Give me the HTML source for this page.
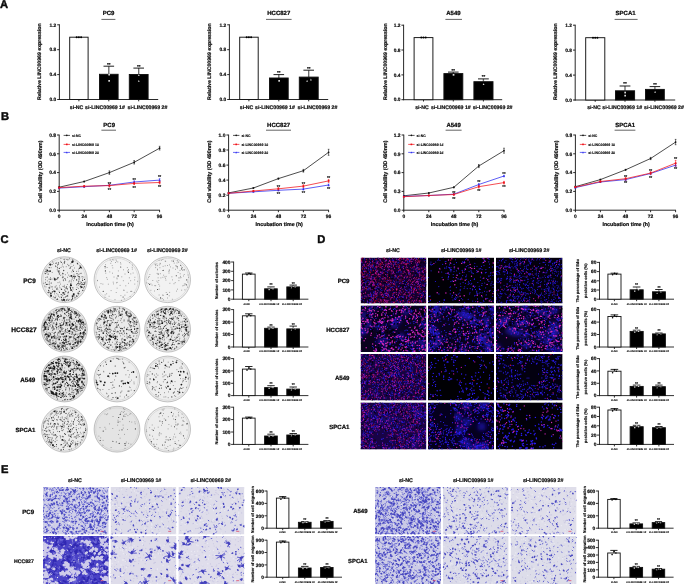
<!DOCTYPE html>
<html lang="en"><head><meta charset="utf-8"><title>LINC00969 knockdown figure</title>
<style>html,body{margin:0;padding:0;background:#fff}body{width:685px;height:584px;overflow:hidden}svg{display:block}text{font-family:"Liberation Sans",sans-serif;font-weight:700;fill:#0c0c0c;stroke:#0c0c0c;stroke-width:.04em;stroke-linejoin:round;text-rendering:geometricPrecision}</style>
</head><body>
<svg width="685" height="584" viewBox="0 0 685 584">
<rect width="685" height="584" fill="#fff"/>
<defs>
<filter id="b3" x="-5%" y="-5%" width="110%" height="110%"><feGaussianBlur stdDeviation=".3"/></filter>
<filter id="b4" x="-5%" y="-5%" width="110%" height="110%"><feGaussianBlur stdDeviation=".4"/></filter>
<filter id="b5" x="-5%" y="-5%" width="110%" height="110%"><feGaussianBlur stdDeviation=".55"/></filter>
<filter id="b20" x="-10%" y="-10%" width="120%" height="120%"><feGaussianBlur stdDeviation="2"/></filter>
</defs>
<text x=".1" y="8.3" font-size="11.2">A</text>
<text x="1" y="120.2" font-size="11.2">B</text>
<text x=".6" y="243" font-size="11.2">C</text>
<text x="317.2" y="243" font-size="11.2">D</text>
<text x="1" y="473" font-size="11.2">E</text>
<text x="108.5" y="15.3" font-size="6" text-anchor="middle">PC9</text>
<line x1="101.4" y1="19.4" x2="115.4" y2="19.4" stroke="#222" stroke-width=".7"/>
<g stroke="#1c1c1c" fill="none">
<line x1="59.4" y1="24.3" x2="59.4" y2="100" stroke-width="0.95"/>
<line x1="58.9" y1="99.5" x2="158.2" y2="99.5" stroke-width="0.95"/>
<line x1="57.2" y1="99.5" x2="59.4" y2="99.5" stroke-width="0.95"/>
<line x1="57.2" y1="74.6" x2="59.4" y2="74.6" stroke-width="0.95"/>
<line x1="57.2" y1="49.7" x2="59.4" y2="49.7" stroke-width="0.95"/>
<line x1="57.2" y1="24.8" x2="59.4" y2="24.8" stroke-width="0.95"/>
<line x1="78.9" y1="99.5" x2="78.9" y2="101.3" stroke-width="0.95"/>
<line x1="108.8" y1="99.5" x2="108.8" y2="101.3" stroke-width="0.95"/>
<line x1="138.7" y1="99.5" x2="138.7" y2="101.3" stroke-width="0.95"/>
</g>
<text x="56.2" y="101.2" font-size="4.8" text-anchor="end">0.0</text>
<text x="56.2" y="76.3" font-size="4.8" text-anchor="end">0.4</text>
<text x="56.2" y="51.4" font-size="4.8" text-anchor="end">0.8</text>
<text x="56.2" y="26.5" font-size="4.8" text-anchor="end">1.2</text>
<g stroke="#111" stroke-width="0.95">
</g>
<rect x="69.7" y="37.2" width="18.4" height="62.3" fill="#fff" stroke="#111" stroke-width="0.95"/>
<g stroke="#111" stroke-width="0.95">
<line x1="108.8" y1="74.3" x2="108.8" y2="66.2" stroke-width="1.3299999999999998" stroke="#6a6a6a"/>
<line x1="103.5" y1="66.2" x2="114.1" y2="66.2" stroke-width="0.95"/>
</g>
<rect x="99.5" y="74.3" width="18.6" height="25.2" fill="#000" stroke="#111" stroke-width="0.95"/>
<text x="108.8" y="65.6" font-size="4.4" text-anchor="middle">**</text>
<g stroke="#111" stroke-width="0.95">
<line x1="138.7" y1="74.5" x2="138.7" y2="68.1" stroke-width="1.3299999999999998" stroke="#6a6a6a"/>
<line x1="133.4" y1="68.1" x2="144" y2="68.1" stroke-width="0.95"/>
</g>
<rect x="129.3" y="74.5" width="18.8" height="25" fill="#000" stroke="#111" stroke-width="0.95"/>
<text x="138.7" y="67.5" font-size="4.4" text-anchor="middle">**</text>
<circle cx="76.7" cy="37.2" r="1" fill="#000"/>
<circle cx="78.9" cy="37.2" r="1" fill="#000"/>
<circle cx="81.1" cy="37.2" r="1" fill="#000"/>
<rect x="108.3" y="73.8" width="1.7" height="1.7" fill="#d8d8d8"/>
<rect x="108.3" y="80" width="1.7" height="1.7" fill="#d8d8d8"/>
<polygon points="138.8,74.3 137.9,76.1 139.7,76.1" fill="#d8d8d8"/>
<polygon points="138.8,79.9 137.9,81.7 139.7,81.7" fill="#d8d8d8"/>
<text transform="translate(41.4 61.7) rotate(-90)" font-size="5.2" text-anchor="middle">Relative LINC00969 expression</text>
<text x="76.6" y="108.5" font-size="5.2" text-anchor="middle">si-NC</text>
<text x="105" y="108.5" font-size="5.2" text-anchor="middle">si-LINC00969 1#</text>
<text x="147.4" y="108.5" font-size="5.2" text-anchor="middle">si-LINC00969 2#</text>
<text x="278.8" y="15.3" font-size="6" text-anchor="middle">HCC827</text>
<line x1="266" y1="19.4" x2="291.6" y2="19.4" stroke="#222" stroke-width=".7"/>
<g stroke="#1c1c1c" fill="none">
<line x1="229.4" y1="24.3" x2="229.4" y2="100" stroke-width="0.95"/>
<line x1="228.9" y1="99.5" x2="328.2" y2="99.5" stroke-width="0.95"/>
<line x1="227.2" y1="99.5" x2="229.4" y2="99.5" stroke-width="0.95"/>
<line x1="227.2" y1="74.6" x2="229.4" y2="74.6" stroke-width="0.95"/>
<line x1="227.2" y1="49.7" x2="229.4" y2="49.7" stroke-width="0.95"/>
<line x1="227.2" y1="24.8" x2="229.4" y2="24.8" stroke-width="0.95"/>
<line x1="248.9" y1="99.5" x2="248.9" y2="101.3" stroke-width="0.95"/>
<line x1="278.8" y1="99.5" x2="278.8" y2="101.3" stroke-width="0.95"/>
<line x1="308.7" y1="99.5" x2="308.7" y2="101.3" stroke-width="0.95"/>
</g>
<text x="226.2" y="101.2" font-size="4.8" text-anchor="end">0.0</text>
<text x="226.2" y="76.3" font-size="4.8" text-anchor="end">0.4</text>
<text x="226.2" y="51.4" font-size="4.8" text-anchor="end">0.8</text>
<text x="226.2" y="26.5" font-size="4.8" text-anchor="end">1.2</text>
<g stroke="#111" stroke-width="0.95">
</g>
<rect x="239.7" y="37.2" width="18.5" height="62.3" fill="#fff" stroke="#111" stroke-width="0.95"/>
<g stroke="#111" stroke-width="0.95">
<line x1="278.8" y1="78" x2="278.8" y2="74.6" stroke-width="1.3299999999999998" stroke="#6a6a6a"/>
<line x1="273.5" y1="74.6" x2="284.1" y2="74.6" stroke-width="0.95"/>
</g>
<rect x="269.5" y="78" width="18.7" height="21.5" fill="#000" stroke="#111" stroke-width="0.95"/>
<text x="278.8" y="74" font-size="4.4" text-anchor="middle">**</text>
<g stroke="#111" stroke-width="0.95">
<line x1="308.7" y1="77.1" x2="308.7" y2="70.2" stroke-width="1.3299999999999998" stroke="#6a6a6a"/>
<line x1="303.4" y1="70.2" x2="314" y2="70.2" stroke-width="0.95"/>
</g>
<rect x="299.3" y="77.1" width="18.9" height="22.4" fill="#000" stroke="#111" stroke-width="0.95"/>
<text x="308.7" y="69.6" font-size="4.4" text-anchor="middle">**</text>
<circle cx="246.7" cy="37.2" r="1" fill="#000"/>
<circle cx="248.9" cy="37.2" r="1" fill="#000"/>
<circle cx="251.1" cy="37.2" r="1" fill="#000"/>
<rect x="278.3" y="80" width="1.7" height="1.7" fill="#d8d8d8"/>
<polygon points="307.1,79.9 306.2,81.7 308,81.7" fill="#d8d8d8"/>
<polygon points="310.9,78.6 310,80.4 311.8,80.4" fill="#d8d8d8"/>
<text transform="translate(210.8 61.7) rotate(-90)" font-size="5.2" text-anchor="middle">Relative LINC00969 expression</text>
<text x="246.6" y="108.5" font-size="5.2" text-anchor="middle">si-NC</text>
<text x="275" y="108.5" font-size="5.2" text-anchor="middle">si-LINC00969 1#</text>
<text x="317.4" y="108.5" font-size="5.2" text-anchor="middle">si-LINC00969 2#</text>
<text x="453.4" y="15.3" font-size="6" text-anchor="middle">A549</text>
<line x1="445.4" y1="19.4" x2="462" y2="19.4" stroke="#222" stroke-width=".7"/>
<g stroke="#1c1c1c" fill="none">
<line x1="403.6" y1="24.7" x2="403.6" y2="100.2" stroke-width="0.95"/>
<line x1="403.1" y1="99.7" x2="502.2" y2="99.7" stroke-width="0.95"/>
<line x1="401.4" y1="99.7" x2="403.6" y2="99.7" stroke-width="0.95"/>
<line x1="401.4" y1="74.9" x2="403.6" y2="74.9" stroke-width="0.95"/>
<line x1="401.4" y1="50" x2="403.6" y2="50" stroke-width="0.95"/>
<line x1="401.4" y1="25.2" x2="403.6" y2="25.2" stroke-width="0.95"/>
<line x1="423.5" y1="99.7" x2="423.5" y2="101.5" stroke-width="0.95"/>
<line x1="453.3" y1="99.7" x2="453.3" y2="101.5" stroke-width="0.95"/>
<line x1="483.4" y1="99.7" x2="483.4" y2="101.5" stroke-width="0.95"/>
</g>
<text x="400.4" y="101.4" font-size="4.8" text-anchor="end">0.0</text>
<text x="400.4" y="76.6" font-size="4.8" text-anchor="end">0.4</text>
<text x="400.4" y="51.8" font-size="4.8" text-anchor="end">0.8</text>
<text x="400.4" y="26.9" font-size="4.8" text-anchor="end">1.2</text>
<g stroke="#111" stroke-width="0.95">
</g>
<rect x="414.1" y="37.6" width="18.8" height="62.1" fill="#fff" stroke="#111" stroke-width="0.95"/>
<g stroke="#111" stroke-width="0.95">
<line x1="453.3" y1="73.6" x2="453.3" y2="72.1" stroke-width="1.3299999999999998" stroke="#6a6a6a"/>
<line x1="448" y1="72.1" x2="458.6" y2="72.1" stroke-width="0.95"/>
</g>
<rect x="443.9" y="73.6" width="18.9" height="26.1" fill="#000" stroke="#111" stroke-width="0.95"/>
<text x="453.3" y="71.5" font-size="4.4" text-anchor="middle">**</text>
<g stroke="#111" stroke-width="0.95">
<line x1="483.4" y1="81.7" x2="483.4" y2="78.9" stroke-width="1.3299999999999998" stroke="#6a6a6a"/>
<line x1="478" y1="78.9" x2="488.8" y2="78.9" stroke-width="0.95"/>
</g>
<rect x="473.9" y="81.7" width="19.1" height="18" fill="#000" stroke="#111" stroke-width="0.95"/>
<text x="483.4" y="78.3" font-size="4.4" text-anchor="middle">**</text>
<circle cx="421.3" cy="37.6" r="1" fill="#000"/>
<circle cx="423.5" cy="37.6" r="1" fill="#000"/>
<circle cx="425.7" cy="37.6" r="1" fill="#000"/>
<rect x="452.7" y="74" width="1.7" height="1.7" fill="#d8d8d8"/>
<polygon points="483.6,83.2 482.7,85 484.5,85" fill="#d8d8d8"/>
<text transform="translate(387 61.7) rotate(-90)" font-size="5.2" text-anchor="middle">Relative LINC00969 expression</text>
<text x="422" y="108.5" font-size="5.2" text-anchor="middle">si-NC</text>
<text x="450.8" y="108.5" font-size="5.2" text-anchor="middle">si-LINC00969 1#</text>
<text x="492.6" y="108.5" font-size="5.2" text-anchor="middle">si-LINC00969 2#</text>
<text x="625.6" y="15.3" font-size="6" text-anchor="middle">SPCA1</text>
<line x1="614.6" y1="19.4" x2="637.6" y2="19.4" stroke="#222" stroke-width=".7"/>
<g stroke="#1c1c1c" fill="none">
<line x1="575.2" y1="24.7" x2="575.2" y2="100.5" stroke-width="0.95"/>
<line x1="574.7" y1="100" x2="675.2" y2="100" stroke-width="0.95"/>
<line x1="573" y1="100" x2="575.2" y2="100" stroke-width="0.95"/>
<line x1="573" y1="75.1" x2="575.2" y2="75.1" stroke-width="0.95"/>
<line x1="573" y1="50.1" x2="575.2" y2="50.1" stroke-width="0.95"/>
<line x1="573" y1="25.2" x2="575.2" y2="25.2" stroke-width="0.95"/>
<line x1="595.2" y1="100" x2="595.2" y2="101.8" stroke-width="0.95"/>
<line x1="625" y1="100" x2="625" y2="101.8" stroke-width="0.95"/>
<line x1="654.9" y1="100" x2="654.9" y2="101.8" stroke-width="0.95"/>
</g>
<text x="572" y="101.7" font-size="4.8" text-anchor="end">0.0</text>
<text x="572" y="76.8" font-size="4.8" text-anchor="end">0.4</text>
<text x="572" y="51.9" font-size="4.8" text-anchor="end">0.8</text>
<text x="572" y="26.9" font-size="4.8" text-anchor="end">1.2</text>
<g stroke="#111" stroke-width="0.95">
</g>
<rect x="585.7" y="37.7" width="19.1" height="62.3" fill="#fff" stroke="#111" stroke-width="0.95"/>
<g stroke="#111" stroke-width="0.95">
<line x1="625" y1="90.8" x2="625" y2="86" stroke-width="1.3299999999999998" stroke="#6a6a6a"/>
<line x1="619.6" y1="86" x2="630.4" y2="86" stroke-width="0.95"/>
</g>
<rect x="615.5" y="90.8" width="19.1" height="9.2" fill="#000" stroke="#111" stroke-width="0.95"/>
<text x="625" y="85.4" font-size="4.4" text-anchor="middle">**</text>
<g stroke="#111" stroke-width="0.95">
<line x1="654.9" y1="89.4" x2="654.9" y2="86.6" stroke-width="1.3299999999999998" stroke="#6a6a6a"/>
<line x1="649.6" y1="86.6" x2="660.2" y2="86.6" stroke-width="0.95"/>
</g>
<rect x="645.5" y="89.4" width="18.8" height="10.6" fill="#000" stroke="#111" stroke-width="0.95"/>
<text x="654.9" y="86" font-size="4.4" text-anchor="middle">**</text>
<circle cx="593" cy="37.7" r="1" fill="#000"/>
<circle cx="595.2" cy="37.7" r="1" fill="#000"/>
<circle cx="597.4" cy="37.7" r="1" fill="#000"/>
<rect x="624.3" y="91.7" width="1.7" height="1.7" fill="#d8d8d8"/>
<rect x="624.3" y="94.8" width="1.7" height="1.7" fill="#d8d8d8"/>
<polygon points="655.1,91 654.2,92.8 656,92.8" fill="#d8d8d8"/>
<text transform="translate(557.4 61.7) rotate(-90)" font-size="5.2" text-anchor="middle">Relative LINC00969 expression</text>
<text x="593.9" y="108.5" font-size="5.2" text-anchor="middle">si-NC</text>
<text x="622.2" y="108.5" font-size="5.2" text-anchor="middle">si-LINC00969 1#</text>
<text x="664" y="108.5" font-size="5.2" text-anchor="middle">si-LINC00969 2#</text>
<text x="109.2" y="127.3" font-size="6" text-anchor="middle">PC9</text>
<line x1="101.4" y1="130.2" x2="116" y2="130.2" stroke="#222" stroke-width=".7"/>
<g stroke="#1c1c1c" fill="none">
<line x1="59.2" y1="134.6" x2="59.2" y2="210.6" stroke-width="0.95"/>
<line x1="58.8" y1="210.2" x2="160" y2="210.2" stroke-width="0.95"/>
<line x1="57" y1="210.2" x2="59.2" y2="210.2" stroke-width="0.95"/>
<line x1="57" y1="191.4" x2="59.2" y2="191.4" stroke-width="0.95"/>
<line x1="57" y1="172.6" x2="59.2" y2="172.6" stroke-width="0.95"/>
<line x1="57" y1="153.8" x2="59.2" y2="153.8" stroke-width="0.95"/>
<line x1="57" y1="135" x2="59.2" y2="135" stroke-width="0.95"/>
<line x1="59.2" y1="210.2" x2="59.2" y2="212.2" stroke-width="0.95"/>
<line x1="84.2" y1="210.2" x2="84.2" y2="212.2" stroke-width="0.95"/>
<line x1="109.4" y1="210.2" x2="109.4" y2="212.2" stroke-width="0.95"/>
<line x1="134.2" y1="210.2" x2="134.2" y2="212.2" stroke-width="0.95"/>
<line x1="159.6" y1="210.2" x2="159.6" y2="212.2" stroke-width="0.95"/>
</g>
<text x="56" y="211.9" font-size="4.9" text-anchor="end">0.0</text>
<text x="56" y="193.1" font-size="4.9" text-anchor="end">0.2</text>
<text x="56" y="174.3" font-size="4.9" text-anchor="end">0.4</text>
<text x="56" y="155.6" font-size="4.9" text-anchor="end">0.6</text>
<text x="56" y="136.8" font-size="4.9" text-anchor="end">0.8</text>
<text x="59.2" y="218.4" font-size="4.9" text-anchor="middle">0</text>
<text x="84.2" y="218.4" font-size="4.9" text-anchor="middle">24</text>
<text x="109.4" y="218.4" font-size="4.9" text-anchor="middle">48</text>
<text x="134.2" y="218.4" font-size="4.9" text-anchor="middle">72</text>
<text x="159.6" y="218.4" font-size="4.9" text-anchor="middle">96</text>
<text x="110" y="225.9" font-size="5.3" text-anchor="middle">Incubation time (h)</text>
<text transform="translate(41.9 171.6) rotate(-90)" font-size="5.3" text-anchor="middle">Cell viability (OD 490nm)</text>
<polyline points="59.2,187.2 84.2,181.5 109.4,172.6 134.2,162.3 159.6,148.2" fill="none" stroke="#111" stroke-width=".75"/>
<path d="M59.2 186.7V187.6M58.4 186.7h1.6M58.4 187.6h1.6" stroke="#111" stroke-width=".6" fill="none"/>
<circle cx="59.2" cy="187.2" r="0.85" fill="#111"/>
<path d="M84.2 181.1V182M83.4 181.1h1.6M83.4 182h1.6" stroke="#111" stroke-width=".6" fill="none"/>
<circle cx="84.2" cy="181.5" r="0.85" fill="#111"/>
<path d="M109.4 170.9V174.3M108.6 170.9h1.6M108.6 174.3h1.6" stroke="#111" stroke-width=".6" fill="none"/>
<circle cx="109.4" cy="172.6" r="0.85" fill="#111"/>
<path d="M134.2 160.6V164M133.4 160.6h1.6M133.4 164h1.6" stroke="#111" stroke-width=".6" fill="none"/>
<circle cx="134.2" cy="162.3" r="0.85" fill="#111"/>
<path d="M159.6 146.3V150M158.8 146.3h1.6M158.8 150h1.6" stroke="#111" stroke-width=".6" fill="none"/>
<circle cx="159.6" cy="148.2" r="0.85" fill="#111"/>
<polyline points="59.2,188.1 84.2,186.7 109.4,185.3 134.2,182 159.6,180.1" fill="none" stroke="#2828f0" stroke-width=".75"/>
<path d="M59.2 187.6V188.6M58.4 187.6h1.6M58.4 188.6h1.6" stroke="#2828f0" stroke-width=".6" fill="none"/>
<polygon points="59.2,187 58.2,188.9 60.2,188.9" fill="#2828f0"/>
<path d="M84.2 186.2V187.2M83.4 186.2h1.6M83.4 187.2h1.6" stroke="#2828f0" stroke-width=".6" fill="none"/>
<polygon points="84.2,185.6 83.2,187.5 85.2,187.5" fill="#2828f0"/>
<path d="M109.4 184.3V186.2M108.6 184.3h1.6M108.6 186.2h1.6" stroke="#2828f0" stroke-width=".6" fill="none"/>
<polygon points="109.4,184.2 108.4,186.1 110.4,186.1" fill="#2828f0"/>
<path d="M134.2 180.9V183.1M133.4 180.9h1.6M133.4 183.1h1.6" stroke="#2828f0" stroke-width=".6" fill="none"/>
<polygon points="134.2,180.9 133.2,182.8 135.2,182.8" fill="#2828f0"/>
<path d="M159.6 178.7V181.5M158.8 178.7h1.6M158.8 181.5h1.6" stroke="#2828f0" stroke-width=".6" fill="none"/>
<polygon points="159.6,179 158.6,180.9 160.6,180.9" fill="#2828f0"/>
<polyline points="59.2,187.6 84.2,186.2 109.4,185.6 134.2,183.4 159.6,182.5" fill="none" stroke="#f01018" stroke-width=".75"/>
<path d="M59.2 187.2V188.1M58.4 187.2h1.6M58.4 188.1h1.6" stroke="#f01018" stroke-width=".6" fill="none"/>
<rect x="58.4" y="186.8" width="1.7" height="1.7" fill="#f01018"/>
<path d="M84.2 185.5V187M83.4 185.5h1.6M83.4 187h1.6" stroke="#f01018" stroke-width=".6" fill="none"/>
<rect x="83.4" y="185.4" width="1.7" height="1.7" fill="#f01018"/>
<path d="M109.4 184.2V187M108.6 184.2h1.6M108.6 187h1.6" stroke="#f01018" stroke-width=".6" fill="none"/>
<rect x="108.6" y="184.7" width="1.7" height="1.7" fill="#f01018"/>
<path d="M134.2 182.3V184.5M133.4 182.3h1.6M133.4 184.5h1.6" stroke="#f01018" stroke-width=".6" fill="none"/>
<rect x="133.3" y="182.6" width="1.7" height="1.7" fill="#f01018"/>
<path d="M159.6 181.1V183.9M158.8 181.1h1.6M158.8 183.9h1.6" stroke="#f01018" stroke-width=".6" fill="none"/>
<rect x="158.8" y="181.6" width="1.7" height="1.7" fill="#f01018"/>
<text x="109.4" y="184.8" font-size="4.2" text-anchor="middle">**</text>
<text x="109.4" y="190.7" font-size="4.2" text-anchor="middle">**</text>
<text x="134.2" y="180.6" font-size="4.2" text-anchor="middle">**</text>
<text x="134.2" y="188.6" font-size="4.2" text-anchor="middle">**</text>
<text x="159.6" y="178.3" font-size="4.2" text-anchor="middle">**</text>
<text x="159.6" y="187.7" font-size="4.2" text-anchor="middle">**</text>
<line x1="63.6" y1="135.4" x2="70" y2="135.4" stroke-width="0.7" stroke="#111"/>
<circle cx="66.8" cy="135.4" r=".8" fill="#111"/>
<text x="72" y="136.7" font-size="3.5">si-NC</text>
<line x1="63.6" y1="144.4" x2="70" y2="144.4" stroke-width="0.7" stroke="#f01018"/>
<rect x="66" y="143.6" width="1.6" height="1.6" fill="#f01018"/>
<text x="72" y="145.7" font-size="3.5">si-LINC00969 1#</text>
<line x1="63.6" y1="152.4" x2="70" y2="152.4" stroke-width="0.7" stroke="#2828f0"/>
<polygon points="66.8,151.4 65.9,153.2 67.7,153.2" fill="#2828f0"/>
<text x="72" y="153.7" font-size="3.5">si-LINC00969 2#</text>
<text x="278.6" y="127.3" font-size="6" text-anchor="middle">HCC827</text>
<line x1="266" y1="130.2" x2="291" y2="130.2" stroke="#222" stroke-width=".7"/>
<g stroke="#1c1c1c" fill="none">
<line x1="228.6" y1="134.6" x2="228.6" y2="210.6" stroke-width="0.95"/>
<line x1="228.2" y1="210.2" x2="329" y2="210.2" stroke-width="0.95"/>
<line x1="226.4" y1="210.2" x2="228.6" y2="210.2" stroke-width="0.95"/>
<line x1="226.4" y1="195.2" x2="228.6" y2="195.2" stroke-width="0.95"/>
<line x1="226.4" y1="180.1" x2="228.6" y2="180.1" stroke-width="0.95"/>
<line x1="226.4" y1="165.1" x2="228.6" y2="165.1" stroke-width="0.95"/>
<line x1="226.4" y1="150" x2="228.6" y2="150" stroke-width="0.95"/>
<line x1="226.4" y1="135" x2="228.6" y2="135" stroke-width="0.95"/>
<line x1="228.6" y1="210.2" x2="228.6" y2="212.2" stroke-width="0.95"/>
<line x1="253.4" y1="210.2" x2="253.4" y2="212.2" stroke-width="0.95"/>
<line x1="278.4" y1="210.2" x2="278.4" y2="212.2" stroke-width="0.95"/>
<line x1="303.4" y1="210.2" x2="303.4" y2="212.2" stroke-width="0.95"/>
<line x1="328.6" y1="210.2" x2="328.6" y2="212.2" stroke-width="0.95"/>
</g>
<text x="225.4" y="211.9" font-size="4.9" text-anchor="end">0.0</text>
<text x="225.4" y="196.9" font-size="4.9" text-anchor="end">0.2</text>
<text x="225.4" y="181.9" font-size="4.9" text-anchor="end">0.4</text>
<text x="225.4" y="166.8" font-size="4.9" text-anchor="end">0.6</text>
<text x="225.4" y="151.8" font-size="4.9" text-anchor="end">0.8</text>
<text x="225.4" y="136.8" font-size="4.9" text-anchor="end">1.0</text>
<text x="228.6" y="218.4" font-size="4.9" text-anchor="middle">0</text>
<text x="253.4" y="218.4" font-size="4.9" text-anchor="middle">24</text>
<text x="278.4" y="218.4" font-size="4.9" text-anchor="middle">48</text>
<text x="303.4" y="218.4" font-size="4.9" text-anchor="middle">72</text>
<text x="328.6" y="218.4" font-size="4.9" text-anchor="middle">96</text>
<text x="279.2" y="225.9" font-size="5.3" text-anchor="middle">Incubation time (h)</text>
<text transform="translate(211.3 171.6) rotate(-90)" font-size="5.3" text-anchor="middle">Cell viability (OD 490nm)</text>
<polyline points="228.6,192.9 253.4,188 278.4,178.6 303.4,170.7 328.6,152.3" fill="none" stroke="#111" stroke-width=".75"/>
<path d="M228.6 192.5V193.3M227.8 192.5h1.6M227.8 193.3h1.6" stroke="#111" stroke-width=".6" fill="none"/>
<circle cx="228.6" cy="192.9" r="0.85" fill="#111"/>
<path d="M253.4 187.6V188.4M252.6 187.6h1.6M252.6 188.4h1.6" stroke="#111" stroke-width=".6" fill="none"/>
<circle cx="253.4" cy="188" r="0.85" fill="#111"/>
<path d="M278.4 178V179.2M277.6 178h1.6M277.6 179.2h1.6" stroke="#111" stroke-width=".6" fill="none"/>
<circle cx="278.4" cy="178.6" r="0.85" fill="#111"/>
<path d="M303.4 169.4V172.1M302.6 169.4h1.6M302.6 172.1h1.6" stroke="#111" stroke-width=".6" fill="none"/>
<circle cx="303.4" cy="170.7" r="0.85" fill="#111"/>
<path d="M328.6 149.3V155.3M327.8 149.3h1.6M327.8 155.3h1.6" stroke="#111" stroke-width=".6" fill="none"/>
<circle cx="328.6" cy="152.3" r="0.85" fill="#111"/>
<polyline points="228.6,193.3 253.4,191.8 278.4,190.3 303.4,189.1 328.6,185" fill="none" stroke="#2828f0" stroke-width=".75"/>
<path d="M228.6 192.9V193.7M227.8 192.9h1.6M227.8 193.7h1.6" stroke="#2828f0" stroke-width=".6" fill="none"/>
<polygon points="228.6,192.2 227.6,194.1 229.6,194.1" fill="#2828f0"/>
<path d="M253.4 191.4V192.2M252.6 191.4h1.6M252.6 192.2h1.6" stroke="#2828f0" stroke-width=".6" fill="none"/>
<polygon points="253.4,190.7 252.4,192.6 254.4,192.6" fill="#2828f0"/>
<path d="M278.4 189.5V191M277.6 189.5h1.6M277.6 191h1.6" stroke="#2828f0" stroke-width=".6" fill="none"/>
<polygon points="278.4,189.2 277.4,191.1 279.4,191.1" fill="#2828f0"/>
<path d="M303.4 188.2V190M302.6 188.2h1.6M302.6 190h1.6" stroke="#2828f0" stroke-width=".6" fill="none"/>
<polygon points="303.4,188 302.4,189.9 304.4,189.9" fill="#2828f0"/>
<path d="M328.6 184.1V185.9M327.8 184.1h1.6M327.8 185.9h1.6" stroke="#2828f0" stroke-width=".6" fill="none"/>
<polygon points="328.6,183.9 327.6,185.8 329.6,185.8" fill="#2828f0"/>
<polyline points="228.6,193.3 253.4,191 278.4,188.8 303.4,186.1 328.6,180.9" fill="none" stroke="#f01018" stroke-width=".75"/>
<path d="M228.6 192.9V193.7M227.8 192.9h1.6M227.8 193.7h1.6" stroke="#f01018" stroke-width=".6" fill="none"/>
<rect x="227.8" y="192.4" width="1.7" height="1.7" fill="#f01018"/>
<path d="M253.4 190.4V191.6M252.6 190.4h1.6M252.6 191.6h1.6" stroke="#f01018" stroke-width=".6" fill="none"/>
<rect x="252.6" y="190.2" width="1.7" height="1.7" fill="#f01018"/>
<path d="M278.4 187.6V189.9M277.6 187.6h1.6M277.6 189.9h1.6" stroke="#f01018" stroke-width=".6" fill="none"/>
<rect x="277.5" y="187.9" width="1.7" height="1.7" fill="#f01018"/>
<path d="M303.4 184.8V187.5M302.6 184.8h1.6M302.6 187.5h1.6" stroke="#f01018" stroke-width=".6" fill="none"/>
<rect x="302.5" y="185.3" width="1.7" height="1.7" fill="#f01018"/>
<path d="M328.6 179.4V182.4M327.8 179.4h1.6M327.8 182.4h1.6" stroke="#f01018" stroke-width=".6" fill="none"/>
<rect x="327.8" y="180" width="1.7" height="1.7" fill="#f01018"/>
<text x="278.4" y="187.7" font-size="4.2" text-anchor="middle">**</text>
<text x="278.4" y="195.2" font-size="4.2" text-anchor="middle">**</text>
<text x="303.4" y="185" font-size="4.2" text-anchor="middle">**</text>
<text x="303.4" y="194.1" font-size="4.2" text-anchor="middle">**</text>
<text x="328.6" y="179.4" font-size="4.2" text-anchor="middle">**</text>
<text x="328.6" y="190.3" font-size="4.2" text-anchor="middle">**</text>
<line x1="233" y1="135.4" x2="239.4" y2="135.4" stroke-width="0.7" stroke="#111"/>
<circle cx="236.2" cy="135.4" r=".8" fill="#111"/>
<text x="241.4" y="136.7" font-size="3.5">si-NC</text>
<line x1="233" y1="144.4" x2="239.4" y2="144.4" stroke-width="0.7" stroke="#f01018"/>
<rect x="235.4" y="143.6" width="1.6" height="1.6" fill="#f01018"/>
<text x="241.4" y="145.7" font-size="3.5">si-LINC00969 1#</text>
<line x1="233" y1="152.4" x2="239.4" y2="152.4" stroke-width="0.7" stroke="#2828f0"/>
<polygon points="236.2,151.4 235.3,153.2 237.1,153.2" fill="#2828f0"/>
<text x="241.4" y="153.7" font-size="3.5">si-LINC00969 2#</text>
<text x="453.6" y="127.3" font-size="6" text-anchor="middle">A549</text>
<line x1="445.6" y1="130.2" x2="461.6" y2="130.2" stroke="#222" stroke-width=".7"/>
<g stroke="#1c1c1c" fill="none">
<line x1="403.8" y1="134.6" x2="403.8" y2="210.6" stroke-width="0.95"/>
<line x1="403.4" y1="210.2" x2="504.4" y2="210.2" stroke-width="0.95"/>
<line x1="401.6" y1="210.2" x2="403.8" y2="210.2" stroke-width="0.95"/>
<line x1="401.6" y1="191.4" x2="403.8" y2="191.4" stroke-width="0.95"/>
<line x1="401.6" y1="172.6" x2="403.8" y2="172.6" stroke-width="0.95"/>
<line x1="401.6" y1="153.8" x2="403.8" y2="153.8" stroke-width="0.95"/>
<line x1="401.6" y1="135" x2="403.8" y2="135" stroke-width="0.95"/>
<line x1="403.8" y1="210.2" x2="403.8" y2="212.2" stroke-width="0.95"/>
<line x1="428.8" y1="210.2" x2="428.8" y2="212.2" stroke-width="0.95"/>
<line x1="453.8" y1="210.2" x2="453.8" y2="212.2" stroke-width="0.95"/>
<line x1="478.8" y1="210.2" x2="478.8" y2="212.2" stroke-width="0.95"/>
<line x1="504" y1="210.2" x2="504" y2="212.2" stroke-width="0.95"/>
</g>
<text x="400.6" y="211.9" font-size="4.9" text-anchor="end">0.0</text>
<text x="400.6" y="193.1" font-size="4.9" text-anchor="end">0.3</text>
<text x="400.6" y="174.3" font-size="4.9" text-anchor="end">0.6</text>
<text x="400.6" y="155.5" font-size="4.9" text-anchor="end">0.9</text>
<text x="400.6" y="136.8" font-size="4.9" text-anchor="end">1.2</text>
<text x="403.8" y="218.4" font-size="4.9" text-anchor="middle">0</text>
<text x="428.8" y="218.4" font-size="4.9" text-anchor="middle">24</text>
<text x="453.8" y="218.4" font-size="4.9" text-anchor="middle">48</text>
<text x="478.8" y="218.4" font-size="4.9" text-anchor="middle">72</text>
<text x="504" y="218.4" font-size="4.9" text-anchor="middle">96</text>
<text x="454.5" y="225.9" font-size="5.3" text-anchor="middle">Incubation time (h)</text>
<text transform="translate(386.5 171.6) rotate(-90)" font-size="5.3" text-anchor="middle">Cell viability (OD 490nm)</text>
<polyline points="403.8,195.8 428.8,193 453.8,187.3 478.8,166 504,150.7" fill="none" stroke="#111" stroke-width=".75"/>
<path d="M403.8 195.5V196.1M403 195.5h1.6M403 196.1h1.6" stroke="#111" stroke-width=".6" fill="none"/>
<circle cx="403.8" cy="195.8" r="0.85" fill="#111"/>
<path d="M428.8 192.7V193.3M428 192.7h1.6M428 193.3h1.6" stroke="#111" stroke-width=".6" fill="none"/>
<circle cx="428.8" cy="193" r="0.85" fill="#111"/>
<path d="M453.8 186.8V187.8M453 186.8h1.6M453 187.8h1.6" stroke="#111" stroke-width=".6" fill="none"/>
<circle cx="453.8" cy="187.3" r="0.85" fill="#111"/>
<path d="M478.8 164.5V167.6M478 164.5h1.6M478 167.6h1.6" stroke="#111" stroke-width=".6" fill="none"/>
<circle cx="478.8" cy="166" r="0.85" fill="#111"/>
<path d="M504 148.2V153.2M503.2 148.2h1.6M503.2 153.2h1.6" stroke="#111" stroke-width=".6" fill="none"/>
<circle cx="504" cy="150.7" r="0.85" fill="#111"/>
<polyline points="403.8,196.4 428.8,195.5 453.8,194.2 478.8,184.5 504,176" fill="none" stroke="#2828f0" stroke-width=".75"/>
<path d="M403.8 196.1V196.7M403 196.1h1.6M403 196.7h1.6" stroke="#2828f0" stroke-width=".6" fill="none"/>
<polygon points="403.8,195.3 402.8,197.2 404.8,197.2" fill="#2828f0"/>
<path d="M428.8 195.2V195.8M428 195.2h1.6M428 195.8h1.6" stroke="#2828f0" stroke-width=".6" fill="none"/>
<polygon points="428.8,194.4 427.8,196.3 429.8,196.3" fill="#2828f0"/>
<path d="M453.8 193.6V194.8M453 193.6h1.6M453 194.8h1.6" stroke="#2828f0" stroke-width=".6" fill="none"/>
<polygon points="453.8,193.1 452.8,195 454.8,195" fill="#2828f0"/>
<path d="M478.8 183.6V185.4M478 183.6h1.6M478 185.4h1.6" stroke="#2828f0" stroke-width=".6" fill="none"/>
<polygon points="478.8,183.4 477.8,185.3 479.8,185.3" fill="#2828f0"/>
<path d="M504 175.3V176.8M503.2 175.3h1.6M503.2 176.8h1.6" stroke="#2828f0" stroke-width=".6" fill="none"/>
<polygon points="504,174.9 503,176.8 505,176.8" fill="#2828f0"/>
<polyline points="403.8,196.7 428.8,195.5 453.8,194.5 478.8,186.7 504,182.6" fill="none" stroke="#f01018" stroke-width=".75"/>
<path d="M403.8 196.4V197M403 196.4h1.6M403 197h1.6" stroke="#f01018" stroke-width=".6" fill="none"/>
<rect x="402.9" y="195.9" width="1.7" height="1.7" fill="#f01018"/>
<path d="M428.8 195V196M428 195h1.6M428 196h1.6" stroke="#f01018" stroke-width=".6" fill="none"/>
<rect x="427.9" y="194.6" width="1.7" height="1.7" fill="#f01018"/>
<path d="M453.8 193.8V195.3M453 193.8h1.6M453 195.3h1.6" stroke="#f01018" stroke-width=".6" fill="none"/>
<rect x="452.9" y="193.7" width="1.7" height="1.7" fill="#f01018"/>
<path d="M478.8 185.4V188M478 185.4h1.6M478 188h1.6" stroke="#f01018" stroke-width=".6" fill="none"/>
<rect x="477.9" y="185.8" width="1.7" height="1.7" fill="#f01018"/>
<path d="M504 181.4V183.9M503.2 181.4h1.6M503.2 183.9h1.6" stroke="#f01018" stroke-width=".6" fill="none"/>
<rect x="503.1" y="181.8" width="1.7" height="1.7" fill="#f01018"/>
<text x="453.8" y="193.9" font-size="4.2" text-anchor="middle">**</text>
<text x="453.8" y="199.6" font-size="4.2" text-anchor="middle">**</text>
<text x="478.8" y="183.3" font-size="4.2" text-anchor="middle">**</text>
<text x="478.8" y="192.4" font-size="4.2" text-anchor="middle">**</text>
<text x="504" y="175.1" font-size="4.2" text-anchor="middle">**</text>
<text x="504" y="188" font-size="4.2" text-anchor="middle">**</text>
<line x1="408.2" y1="135.4" x2="414.6" y2="135.4" stroke-width="0.7" stroke="#111"/>
<circle cx="411.4" cy="135.4" r=".8" fill="#111"/>
<text x="416.6" y="136.7" font-size="3.5">si-NC</text>
<line x1="408.2" y1="144.4" x2="414.6" y2="144.4" stroke-width="0.7" stroke="#f01018"/>
<rect x="410.6" y="143.6" width="1.6" height="1.6" fill="#f01018"/>
<text x="416.6" y="145.7" font-size="3.5">si-LINC00969 1#</text>
<line x1="408.2" y1="152.4" x2="414.6" y2="152.4" stroke-width="0.7" stroke="#2828f0"/>
<polygon points="411.4,151.4 410.5,153.2 412.3,153.2" fill="#2828f0"/>
<text x="416.6" y="153.7" font-size="3.5">si-LINC00969 2#</text>
<text x="625.2" y="127.3" font-size="6" text-anchor="middle">SPCA1</text>
<line x1="614.6" y1="130.2" x2="635.4" y2="130.2" stroke="#222" stroke-width=".7"/>
<g stroke="#1c1c1c" fill="none">
<line x1="575.4" y1="134.6" x2="575.4" y2="210.6" stroke-width="0.95"/>
<line x1="575" y1="210.2" x2="676" y2="210.2" stroke-width="0.95"/>
<line x1="573.2" y1="210.2" x2="575.4" y2="210.2" stroke-width="0.95"/>
<line x1="573.2" y1="191.4" x2="575.4" y2="191.4" stroke-width="0.95"/>
<line x1="573.2" y1="172.6" x2="575.4" y2="172.6" stroke-width="0.95"/>
<line x1="573.2" y1="153.8" x2="575.4" y2="153.8" stroke-width="0.95"/>
<line x1="573.2" y1="135" x2="575.4" y2="135" stroke-width="0.95"/>
<line x1="575.4" y1="210.2" x2="575.4" y2="212.2" stroke-width="0.95"/>
<line x1="600.4" y1="210.2" x2="600.4" y2="212.2" stroke-width="0.95"/>
<line x1="625.6" y1="210.2" x2="625.6" y2="212.2" stroke-width="0.95"/>
<line x1="650.6" y1="210.2" x2="650.6" y2="212.2" stroke-width="0.95"/>
<line x1="675.6" y1="210.2" x2="675.6" y2="212.2" stroke-width="0.95"/>
</g>
<text x="572.2" y="211.9" font-size="4.9" text-anchor="end">0.0</text>
<text x="572.2" y="193.1" font-size="4.9" text-anchor="end">0.2</text>
<text x="572.2" y="174.3" font-size="4.9" text-anchor="end">0.4</text>
<text x="572.2" y="155.6" font-size="4.9" text-anchor="end">0.6</text>
<text x="572.2" y="136.8" font-size="4.9" text-anchor="end">0.8</text>
<text x="575.4" y="218.4" font-size="4.9" text-anchor="middle">0</text>
<text x="600.4" y="218.4" font-size="4.9" text-anchor="middle">24</text>
<text x="625.6" y="218.4" font-size="4.9" text-anchor="middle">48</text>
<text x="650.6" y="218.4" font-size="4.9" text-anchor="middle">72</text>
<text x="675.6" y="218.4" font-size="4.9" text-anchor="middle">96</text>
<text x="626.1" y="225.9" font-size="5.3" text-anchor="middle">Incubation time (h)</text>
<text transform="translate(557.5 171.6) rotate(-90)" font-size="5.3" text-anchor="middle">Cell viability (OD 490nm)</text>
<polyline points="575.4,186.7 600.4,179.6 625.6,169.8 650.6,158.5 675.6,142.1" fill="none" stroke="#111" stroke-width=".75"/>
<path d="M575.4 186.2V187.2M574.6 186.2h1.6M574.6 187.2h1.6" stroke="#111" stroke-width=".6" fill="none"/>
<circle cx="575.4" cy="186.7" r="0.85" fill="#111"/>
<path d="M600.4 179.2V180.1M599.6 179.2h1.6M599.6 180.1h1.6" stroke="#111" stroke-width=".6" fill="none"/>
<circle cx="600.4" cy="179.6" r="0.85" fill="#111"/>
<path d="M625.6 169.3V170.2M624.8 169.3h1.6M624.8 170.2h1.6" stroke="#111" stroke-width=".6" fill="none"/>
<circle cx="625.6" cy="169.8" r="0.85" fill="#111"/>
<path d="M650.6 157.4V159.6M649.8 157.4h1.6M649.8 159.6h1.6" stroke="#111" stroke-width=".6" fill="none"/>
<circle cx="650.6" cy="158.5" r="0.85" fill="#111"/>
<path d="M675.6 139.4V144.7M674.8 139.4h1.6M674.8 144.7h1.6" stroke="#111" stroke-width=".6" fill="none"/>
<circle cx="675.6" cy="142.1" r="0.85" fill="#111"/>
<polyline points="575.4,187.6 600.4,182 625.6,179.6 650.6,173.5 675.6,165.1" fill="none" stroke="#2828f0" stroke-width=".75"/>
<path d="M575.4 187.2V188.1M574.6 187.2h1.6M574.6 188.1h1.6" stroke="#2828f0" stroke-width=".6" fill="none"/>
<polygon points="575.4,186.5 574.4,188.4 576.4,188.4" fill="#2828f0"/>
<path d="M600.4 181.5V182.5M599.6 181.5h1.6M599.6 182.5h1.6" stroke="#2828f0" stroke-width=".6" fill="none"/>
<polygon points="600.4,180.9 599.4,182.8 601.4,182.8" fill="#2828f0"/>
<path d="M625.6 178.5V180.8M624.8 178.5h1.6M624.8 180.8h1.6" stroke="#2828f0" stroke-width=".6" fill="none"/>
<polygon points="625.6,178.5 624.6,180.4 626.6,180.4" fill="#2828f0"/>
<path d="M650.6 172.4V174.7M649.8 172.4h1.6M649.8 174.7h1.6" stroke="#2828f0" stroke-width=".6" fill="none"/>
<polygon points="650.6,172.4 649.6,174.3 651.6,174.3" fill="#2828f0"/>
<path d="M675.6 163.7V166.5M674.8 163.7h1.6M674.8 166.5h1.6" stroke="#2828f0" stroke-width=".6" fill="none"/>
<polygon points="675.6,164 674.6,165.9 676.6,165.9" fill="#2828f0"/>
<polyline points="575.4,187.2 600.4,181.5 625.6,178.7 650.6,173.1 675.6,163.2" fill="none" stroke="#f01018" stroke-width=".75"/>
<path d="M575.4 186.7V187.6M574.6 186.7h1.6M574.6 187.6h1.6" stroke="#f01018" stroke-width=".6" fill="none"/>
<rect x="574.5" y="186.3" width="1.7" height="1.7" fill="#f01018"/>
<path d="M600.4 180.8V182.3M599.6 180.8h1.6M599.6 182.3h1.6" stroke="#f01018" stroke-width=".6" fill="none"/>
<rect x="599.5" y="180.7" width="1.7" height="1.7" fill="#f01018"/>
<path d="M625.6 177.3V180.1M624.8 177.3h1.6M624.8 180.1h1.6" stroke="#f01018" stroke-width=".6" fill="none"/>
<rect x="624.8" y="177.9" width="1.7" height="1.7" fill="#f01018"/>
<path d="M650.6 171.7V174.5M649.8 171.7h1.6M649.8 174.5h1.6" stroke="#f01018" stroke-width=".6" fill="none"/>
<rect x="649.8" y="172.2" width="1.7" height="1.7" fill="#f01018"/>
<path d="M675.6 160.4V166M674.8 160.4h1.6M674.8 166h1.6" stroke="#f01018" stroke-width=".6" fill="none"/>
<rect x="674.8" y="162.3" width="1.7" height="1.7" fill="#f01018"/>
<text x="625.6" y="177.8" font-size="4.2" text-anchor="middle">**</text>
<text x="625.6" y="184.4" font-size="4.2" text-anchor="middle">**</text>
<text x="650.6" y="171.7" font-size="4.2" text-anchor="middle">**</text>
<text x="650.6" y="178.7" font-size="4.2" text-anchor="middle">**</text>
<text x="675.6" y="159.9" font-size="4.2" text-anchor="middle">**</text>
<text x="675.6" y="170.3" font-size="4.2" text-anchor="middle">**</text>
<line x1="579.8" y1="135.4" x2="586.2" y2="135.4" stroke-width="0.7" stroke="#111"/>
<circle cx="583" cy="135.4" r=".8" fill="#111"/>
<text x="588.2" y="136.7" font-size="3.5">si-NC</text>
<line x1="579.8" y1="144.4" x2="586.2" y2="144.4" stroke-width="0.7" stroke="#f01018"/>
<rect x="582.2" y="143.6" width="1.6" height="1.6" fill="#f01018"/>
<text x="588.2" y="145.7" font-size="3.5">si-LINC00969 1#</text>
<line x1="579.8" y1="152.4" x2="586.2" y2="152.4" stroke-width="0.7" stroke="#2828f0"/>
<polygon points="583,151.4 582.1,153.2 583.9,153.2" fill="#2828f0"/>
<text x="588.2" y="153.7" font-size="3.5">si-LINC00969 2#</text>
<g filter="url(#b4)">
<circle cx="64.4" cy="279.7" r="22.9" fill="#eeeeee" stroke="#a4a4a4" stroke-width=".65"/>
<circle cx="64.4" cy="279.7" r="21.3" fill="none" stroke="#cfcfcf" stroke-width=".6"/>
<path d="M57.2 269.7h0M60.5 284.1h0M69.5 280.9h0M48.6 287.8h0M67.7 299.2h0M49.2 271.7h0M77.5 283.6h0M76.8 295.5h0M67.4 272.9h0M58.5 272.6h0M76.6 284.8h0M62.2 274.9h0M52.2 272.4h0M68.4 265.7h0M48.2 271.5h0M62.4 264.1h0M73 287.6h0M72.5 291.2h0M66.3 259.5h0M58 294.8h0M48.5 271h0M78.2 274.7h0M78.3 285.3h0M82.6 278.9h0M49.6 292.6h0M73.9 296.6h0M78.6 294.7h0M71.9 271.9h0M58.5 277.8h0M77.8 264.3h0M57.2 288.6h0M76.3 296.3h0M65.4 288.8h0M63.2 294.8h0M63.5 280.7h0M58.4 264.5h0M57.4 265.8h0M65.3 274.7h0M48.6 292.4h0M83 287.4h0M67.3 284.5h0M74.5 293.8h0M71.2 280.8h0M76.5 296h0M57.2 287.9h0M72 279.4h0M77.1 287.3h0M63.8 286.6h0M83.9 282.6h0M77.2 296.6h0M83.9 277.1h0M63 299.8h0M66.2 266.7h0M56.8 293.6h0M74.6 278.7h0M72.7 261.5h0M45.8 277.6h0M61.2 296.9h0M75 276.7h0M78.9 278.6h0M68.3 300.5h0M67.3 289.6h0M73.6 265.3h0M69 265.4h0M69.7 276.3h0M45.4 282.3h0M59.9 287.7h0M49 291.5h0M62.2 266.1h0M69.6 287h0M76.9 296.1h0M53.5 263.2h0M73.1 289.1h0M62.9 277.6h0M50 286.1h0M69.3 299.4h0M65 290.6h0M49.9 287.8h0M59.6 285.9h0M76.5 271.4h0M50.3 279.6h0M80.1 281.6h0M78.8 280.1h0M45.3 282.9h0M55.9 296.1h0M67.7 264.4h0M64.5 286.8h0M53 279.1h0M78.3 271.2h0M50 279.2h0M49.6 284.3h0M79.2 274h0M81.4 273.3h0M74.8 275.8h0M78.8 293.5h0M80.9 287.9h0M78.6 269h0M59.8 272.5h0M72.4 278h0M56.2 285.8h0M71.9 266.5h0M55.7 278.8h0M59.1 291.2h0M46 286.9h0M62.3 277.7h0M69.6 258.7h0M82.3 284.3h0M77.5 293.6h0M70.3 266.9h0M74 274.3h0M78.3 288.4h0M59.8 282.1h0M60.5 275.3h0M83.7 288.3h0M53.7 296.8h0M62.6 295.7h0M65 287.5h0M71.2 281.9h0M61.1 288.9h0M45.5 279.7h0M73.5 280.7h0M44.9 273.2h0M73.1 275.9h0M58 282.6h0M52.4 289.2h0M79.8 278h0M61 267.5h0M54.4 293.9h0M69 281.9h0M74.1 295.7h0M68.7 275.1h0M65.3 297.4h0M70.8 289.5h0M78.5 276.3h0M65.1 301.1h0M51.2 296.4h0M63.7 279.8h0M49 279.2h0M65.7 280.5h0M58.6 296.2h0M54.1 277.8h0M60.4 261.3h0M55 297.8h0M60.9 258.4h0M80.7 266.5h0M70.9 263.8h0M56.3 279.5h0M73.6 262.1h0M57.6 264.6h0M82.1 283.2h0M70.7 284.5h0M50.6 265.4h0M47.3 280.9h0M64.4 278.5h0M56.1 266.7h0M64.3 285.3h0M63.6 273.8h0M74.1 278.2h0M49.3 281.7h0M51.1 267.7h0M64 297.7h0M47.4 272h0M55.7 263.4h0M59.8 297.2h0M49.2 283h0M66.7 286.8h0M85.7 282.1h0M78.8 276.8h0M68 293.8h0M46 269.4h0M72.2 277.3h0M56.5 279.3h0M66.8 300h0M84.7 282.9h0M63.2 280.1h0M57.8 289.6h0M76.6 279.8h0M78.1 292.6h0M81.4 267.6h0M55.3 287h0M50.5 296.3h0M77.9 283.9h0M62.9 286.4h0M62.3 300.6h0M53.5 290.8h0M72.5 260.1h0M80.5 273.4h0M79.7 284.6h0M64.7 261.1h0M81 285h0M43.8 283.3h0M63.5 267h0M52.5 261.9h0M55 287h0M66.7 288.3h0M68.3 300h0M44.8 286.1h0M71.2 284.1h0M63.4 298.1h0M64.4 263.3h0M50.6 277.6h0M76.7 284.8h0M72.4 287.8h0M74.4 268h0M64.5 289.8h0M77.5 275.8h0M84.2 282.4h0M67.5 277.3h0M79.3 279.7h0M70.6 267.6h0" stroke="#555" stroke-width="0.75" stroke-linecap="round" fill="none"/>
<path d="M64.6 299.5h0M57.4 278.7h0M61.3 262.3h0M47.8 284.3h0M66.6 300h0M57.6 299.1h0M59.4 273.9h0M47.2 277h0M67.1 295.8h0M46.5 284.2h0M80 265.7h0M64.7 294.5h0M57 299.3h0M63 276.9h0M57.5 267.7h0M84.5 284.1h0M59.3 268.4h0M63.7 270.2h0M79.3 276.8h0M65.8 291.6h0M61.6 289.4h0M72.4 299h0M59.3 271h0M48.1 292.6h0M70.6 287.4h0M79.5 268.5h0M84.5 279.4h0M72.5 298.7h0M84.7 283.8h0M52.2 292.1h0M76.7 279.9h0M75.3 276.6h0M66.4 287h0M70 268.2h0M51.1 293.4h0M50.9 295.2h0M71.6 262.2h0M80.4 286.3h0M64.1 259.2h0M61.6 299.8h0M62.8 300.6h0M61.5 297.6h0M65.5 279h0M81.2 282.3h0M74.4 276.9h0M64.3 300.6h0M77 273.6h0M63.7 270.6h0M49.2 267.6h0M56.5 289h0M64.7 261.7h0M48.1 274.1h0M73.5 271.5h0M82.8 290.4h0M62.7 273.3h0M52 286.8h0M64.2 262.8h0M78.7 293.3h0M46.5 271.7h0M68.5 292.1h0M70.5 288.4h0M55.1 297.6h0M50.9 279.1h0M58.5 271.2h0M72.5 262.3h0M83.4 284.6h0M82.1 276.7h0M53 291.5h0M63.2 299.6h0M79.3 291.3h0M67.7 295.9h0M68.1 292.2h0M58.1 270.9h0M56.3 263h0M67.1 288.5h0M82 287.1h0M57.9 277.6h0M58.4 262.9h0M59.5 292.5h0M45.3 271.2h0M72.8 270.1h0M71.4 299.9h0M82.6 280.4h0M73.1 261.3h0M51.2 283h0M52 264.6h0M50.8 294h0M61.2 294.6h0M76.4 289.5h0M79.1 276.6h0M73.3 276.4h0M84.4 286.7h0M81.4 268h0M73.4 293.9h0M48.7 290.4h0M72.4 297.7h0M54.5 278.6h0M64.6 293h0M82 284.4h0M80 283.5h0M45.7 273.6h0M49.5 287.9h0M55.5 266h0M78.6 281.8h0M66 296.5h0M46.3 284.5h0M71.5 285.4h0M70.8 283.9h0M78.2 283.3h0M67.9 259.7h0M50.5 293.1h0M77.4 263.4h0M72.9 260.1h0M55 280.2h0M75 297.7h0" stroke="#303030" stroke-width="1.15" stroke-linecap="round" fill="none"/>
<path d="M81.4 287.1h0M71.1 290.1h0M72.3 261.6h0M71.3 275.9h0M54.9 279.3h0M73.7 294.5h0M80.4 267.3h0M70.8 285.4h0M54.7 291.4h0M47.3 270.3h0M50.1 264.5h0M63.2 292.8h0M51.1 295.7h0M72.5 296.1h0M63.9 299.8h0M50.1 271.1h0" stroke="#1c1c1c" stroke-width="1.8" stroke-linecap="round" fill="none"/>
</g>
<g filter="url(#b4)">
<circle cx="117" cy="279.7" r="22.9" fill="#f3f3f3" stroke="#a4a4a4" stroke-width=".65"/>
<circle cx="117" cy="279.7" r="21.3" fill="none" stroke="#cfcfcf" stroke-width=".6"/>
<path d="M134.7 279.9h0M114 277h0M128.3 271h0M112.5 273.2h0M131.8 291.4h0M105.8 273.2h0M105.1 268h0M130.8 273.9h0M125.8 285.8h0M120.5 262.7h0M130.7 280.7h0M106.7 293.8h0M133.1 273h0M132.3 269.1h0M113.2 282.2h0M137.7 281.3h0M127.1 292.3h0M107.3 279.3h0M124.9 295.2h0M128.5 283.3h0M112.6 259.7h0M116.9 278h0M102.9 284.1h0M134.8 284.1h0M112.8 267.9h0M115 299.6h0M120.9 264h0M107.1 267.5h0M132.5 265.1h0M117.2 282.4h0M116.5 261h0M111.1 290.6h0M109.8 271.9h0M134.9 277.3h0M112.2 265.6h0M113.8 259.9h0M120.9 295.6h0M130.1 296.5h0M105 297.4h0M110.8 263.3h0M115.6 262.5h0M113.4 283.9h0M132.2 267.3h0M121.8 276.8h0M130.9 291.5h0M118.5 276h0M105.3 267h0M117.8 261.9h0M108.3 284.2h0M116.4 282.8h0M109.1 296.3h0M129.7 262.6h0M99.4 287.1h0M111.6 261.4h0M127.3 267.6h0M120.1 285.4h0M117.1 278.9h0M97.5 280.7h0M97.6 280.4h0M116.2 292.5h0M121.6 300.3h0M131 291.3h0M110.2 260.1h0M105.1 294.9h0M127.6 271h0M123.3 280.7h0M125 274h0M128.5 269.5h0M106.7 277.6h0M105.6 264.7h0M124.2 290.3h0M116 259.8h0M118.3 270.9h0M101 283.6h0M124.3 298.8h0M123.6 269.8h0M117.1 288.2h0M123.6 290.2h0M129.3 277.8h0M134.3 292.5h0" stroke="#777" stroke-width="0.75" stroke-linecap="round" fill="none"/>
<path d="M120.7 267h0M123.1 297h0M103.2 291.3h0M118 275.9h0M105 266.5h0M105.4 270.9h0M128.4 272.3h0" stroke="#303030" stroke-width="1.15" stroke-linecap="round" fill="none"/>
</g>
<g filter="url(#b4)">
<circle cx="167.6" cy="279.7" r="22.9" fill="#f2f2f2" stroke="#a4a4a4" stroke-width=".65"/>
<circle cx="167.6" cy="279.7" r="21.3" fill="none" stroke="#cfcfcf" stroke-width=".6"/>
<path d="M167.5 265.5h0M165.2 265.8h0M161.3 260.3h0M155 264.1h0M157.5 269.2h0M169 273.1h0M167.6 298h0M157.4 269.9h0M180.2 273.8h0M169.2 270.6h0M181 277.6h0M169.9 283.3h0M148.6 277.4h0M160.9 277.9h0M155.8 265.6h0M150.9 290.3h0M159.1 260.3h0M177.4 289.2h0M187.8 287.2h0M178.9 280.6h0M163.1 266.4h0M169.7 292.4h0M149.2 276.5h0M159.7 286.1h0M169.3 269.8h0M148.4 283.5h0M183.5 276h0M173 268h0M162.2 298.5h0M175.7 265.8h0M166.2 292.5h0M155.7 285.7h0M163.6 299.8h0M156.9 281.1h0M159.9 267.7h0M175.6 269.3h0M171.9 276.8h0M177 262.9h0M184.2 274.5h0M181.7 290.2h0M168.9 271.6h0M178.1 272.5h0M182.6 267.5h0M159.3 264.9h0M178.5 262.3h0M158.1 277.8h0M181.4 267.1h0M169.2 295.8h0M175.2 282.6h0M152.8 280.5h0M177.6 268.1h0M165.9 280.1h0M176.4 266h0M180.5 276.4h0M163.7 275.2h0M166.1 276.4h0M188.4 277.3h0M180 270.4h0M164.8 276.9h0M159.2 289.1h0M169.5 264.9h0M158.8 284.4h0M163.3 295.3h0M147.9 279.2h0M178.8 277.9h0M159.1 295h0M157.1 273.4h0M184.3 284h0M149.9 274.5h0M172.4 279.9h0M160.3 273.7h0M182.5 270.3h0M155.7 267.6h0M160 263.3h0M157.9 282.3h0M185.3 283.9h0M156.9 263.9h0M170.6 266.9h0M162.4 295.1h0M154.8 285.6h0M184 285.5h0M174.2 263.1h0M152.1 285.1h0M165.4 278.3h0M146.8 282.9h0M172.3 299.3h0M160.6 263.8h0M174 283.7h0M187.7 282h0M165.7 261.4h0M162.9 259.5h0M184.9 289.8h0M150.9 283.9h0M188 275h0M157.4 265.6h0M165.2 261.1h0M158.8 280.5h0M162.9 277.3h0M176.4 291.1h0M155.7 264.4h0M154.6 291h0M171.8 260.9h0M182.8 285.8h0M177.6 260.8h0M180 277.9h0" stroke="#777" stroke-width="0.75" stroke-linecap="round" fill="none"/>
<path d="M160.6 297.9h0M157.6 289.5h0M181.7 268.9h0M186.8 279.9h0M158.2 274h0M186.3 284.8h0M180.7 265.2h0M177.2 266.7h0M184.1 269.8h0M173.3 261.1h0M176.3 275.7h0M163.1 270.4h0M167.2 294.3h0M149.6 284.3h0" stroke="#303030" stroke-width="1.15" stroke-linecap="round" fill="none"/>
</g>
<g filter="url(#b4)">
<circle cx="64.4" cy="329.2" r="22.9" fill="#e6e6e6" stroke="#a4a4a4" stroke-width=".65"/>
<circle cx="64.4" cy="329.2" r="21.3" fill="none" stroke="#cfcfcf" stroke-width=".6"/>
<path d="M65.3 322.8h0M72.8 322.9h0M44.2 332.2h0M70.3 344.8h0M58.4 336.2h0M48.2 327.4h0M49.2 344.6h0M66 322.3h0M59.6 336.3h0M81.9 328.1h0M46 320.9h0M54.5 334.2h0M73.2 310h0M85.1 334.2h0M72.8 334.1h0M67.8 325.6h0M76.8 321.3h0M60 332.5h0M64.1 336.7h0M80.1 324.8h0M47.6 334.9h0M73.1 328.7h0M53.4 344h0M75.1 311.6h0M63.2 324.6h0M80.8 335.2h0M72.1 326.1h0M49.4 319.5h0M63.6 347.9h0M68.1 335.9h0M59.7 319.7h0M65.2 331.5h0M65.2 333.2h0M80.4 315.7h0M71.1 333.8h0M49.9 314.1h0M70.9 316.1h0M73.8 340.9h0M45.1 322.5h0M63.6 337.4h0M62.6 343h0M74.2 346.5h0M76.9 320.5h0M71.3 331.8h0M69.4 349.1h0M63.7 344.2h0M74.1 328.7h0M82.1 341.7h0M75.3 333.3h0M82.7 326.7h0M62.9 331.5h0M43.7 325.7h0M72.4 324.3h0M71 336.9h0M62.2 320.3h0M50.6 318h0M68.6 343.9h0M70.8 313.5h0M79.6 335.8h0M61.1 310.9h0M61.8 333.6h0M44.5 330.1h0M61.7 329.6h0M72.3 347.9h0M74.6 346.1h0M77.6 329.6h0M48.8 327.7h0M67.5 322.3h0M59.5 309.6h0M76.8 334.2h0M44.1 329.9h0M49.3 325.6h0M64.9 332.3h0M72 312.4h0M71.3 348.4h0M61.8 327.9h0M76.9 338.7h0M83.8 334.9h0M56.8 329.2h0M54.9 335.6h0M69.6 323h0M64.2 320.9h0M72.5 325.8h0M71.6 317.8h0M79.1 323.5h0M65.6 348.3h0M76.9 327.7h0M72.1 311.3h0M83.3 324.1h0M45.9 339.1h0M47.5 325.9h0M58.7 329h0M67.5 328.6h0M51.6 315h0M79 316.3h0M64 333.2h0M47.2 324.5h0M64.3 350.1h0M79.3 324.4h0M57.4 319.9h0M71.6 327.1h0M49.2 332.5h0M75.7 340.3h0M57.9 333.6h0M74.3 335.3h0M52 319h0M69.3 344.8h0M46.9 323.8h0M58.1 345h0M53.8 328.4h0M77.8 330.2h0M65.3 342.1h0M60.9 345h0M67.4 307.8h0M44.7 337h0M59.4 331.2h0M82.1 324.6h0M54.7 345.1h0M54.8 320.6h0M44.5 327h0M65.5 310.6h0M60.5 314.7h0M78.7 314.1h0M63.2 328.5h0M50.6 322.5h0M74.2 319.1h0M48.2 334.2h0M60.5 343.4h0M54.3 338.2h0M71.6 319.2h0M70.6 343.2h0M53.8 323.7h0M54.8 348.3h0M83.7 324.1h0M72.7 324h0M44.6 329.5h0M44.2 324.2h0M42.8 326.9h0M53.2 343.2h0M80.2 323.8h0M78.9 339.6h0M52.1 324.2h0M80.4 325.6h0M53.7 318.5h0M43.1 325.1h0M56.3 347h0M43 327.5h0M61.7 322.5h0M79.4 316.5h0M60.9 342.8h0M70.3 343.6h0M57 323.6h0M56 319.4h0M65.4 324.9h0M76.4 329.5h0M54.1 323h0M46.7 329.4h0M54.7 316.3h0M50.3 322.1h0M72.1 340.8h0M72.9 344.8h0M52.5 319h0M66.6 311.9h0M56.9 339h0M71.6 334.4h0M52.4 346h0M78.1 334.1h0M84.2 324.1h0M64.5 343.6h0M67.2 325.6h0M69.3 318.1h0M76 326.2h0M65.1 344.5h0M66.8 342.5h0M52.4 330.4h0M73.3 346.3h0M77.2 326.9h0M73.2 336.9h0M51.4 338.3h0M66.9 324.3h0M69 341.2h0M75.7 331.7h0M74.3 343.9h0M73.8 313.3h0M68.4 322.6h0M52.7 344.7h0M82.2 324.4h0M54.5 328.9h0M71.4 336.8h0M79.1 318.4h0M64.8 345.8h0M76.2 317h0M57.1 327.2h0M55.9 336.7h0M57.8 345.5h0M75.1 314.6h0M73.9 337h0M48.1 329.2h0M67.2 347.7h0M62.8 336.7h0M66.6 315.6h0M78.2 344.3h0M53.9 311.8h0M57.4 318.4h0M74.8 314.3h0M69.8 340.9h0M63.7 321.9h0M73.6 344.1h0M57.3 335.8h0M61.6 325.9h0M56.1 325.3h0M47.5 336.5h0M82.4 329.3h0M59.9 348.5h0M60.9 326.4h0M68 332.2h0M81 319.3h0M48.4 341.8h0M60.7 347.6h0M58.6 332.2h0M62.9 308.3h0M45.5 335h0M59.8 331.4h0M75.2 340.4h0M71.4 310h0M75.3 327.1h0M64.4 346.5h0M59.9 332h0M70.8 336.6h0M65.8 347.4h0M54.4 332.8h0M58 349.2h0M45.6 321.3h0M52.4 325.5h0M54.9 312.8h0M66.1 312.5h0M52.5 343.5h0M70.5 346.8h0M78.2 341h0M56.3 338.6h0M81.8 328.3h0M84.7 326.7h0M46.6 337h0M73.8 329.7h0M49.9 314.2h0M64.2 350.2h0M75 331.1h0M58.9 347.5h0M69.7 321.5h0M68.9 308.8h0M55.2 346.7h0M60.4 337.6h0M55.4 338.8h0M83.5 334.3h0M71.3 314.4h0M81.5 323h0M72.8 342h0M74.8 334.9h0M47.5 335.5h0M48.1 335.7h0M73.9 329.4h0M69 309.8h0M56.9 317.2h0M56.2 342.4h0M71 316.4h0M58.6 349h0M56 341h0M46.2 333.8h0M78.6 313.2h0M48.8 314.5h0M48.7 316.3h0M75.7 325.7h0M59.8 343.5h0M76.9 331.4h0M55.5 332.3h0M60 333.8h0M48.2 326.1h0M76.7 339.9h0M55.6 326.5h0M64.2 336.5h0M64.3 335.9h0M66.6 344.2h0M47.8 318.9h0M69.9 331.9h0M50.7 324.7h0M78.2 341.3h0M81.7 342.1h0M73.8 346.6h0M67.7 308.2h0M71.9 332h0M74.9 330.2h0M59.2 345.1h0M78.4 317.4h0M48.6 322.6h0M74.6 347.3h0M66 310.5h0M77.2 341.7h0M77 324.9h0M80.6 340.9h0M76.6 339.7h0M63.8 350.1h0M69.4 321.1h0M77.8 340.4h0M46.1 322.7h0M55.8 337.2h0M56.4 327.2h0M81.5 323.5h0M65.9 331.3h0M69.2 314.6h0M66.1 325.5h0M46.7 331.9h0M57.6 334.6h0M82.4 338.5h0M74.2 321.5h0M52.8 343.1h0M53.1 338.8h0M54.4 346.4h0M67.5 328.9h0M62.2 325.1h0M53.1 329.2h0M53.5 327.2h0M85.1 333.7h0M75.7 317.5h0M51.7 314.9h0M68.1 316.7h0M55.9 310.8h0M63.6 317.3h0M55.3 341.7h0M79.4 335.2h0M77 328.3h0M65 344.2h0M71.3 337.1h0M62.6 329.7h0M59.7 342.9h0M57.7 346.6h0M81.5 322.1h0M53.4 322.9h0M59 326.2h0M67.7 307.9h0M77.3 335.1h0M62 344.1h0M62.4 347.2h0M49.7 339.9h0M70.8 321.9h0M62.6 311.8h0M83.1 339.4h0M53.8 345.6h0M56.6 327.4h0M82.4 319.7h0M64.4 319.2h0M56.9 313.4h0M82.8 334.6h0M47.2 329.8h0M48.1 333h0M62.1 328.2h0M61.2 309.4h0M75.7 343.3h0M45.9 338.9h0M49.4 323.8h0M55.8 344.6h0M59.9 311.1h0M57.5 346.9h0M46.1 334.7h0M75.1 325h0M53.5 313.1h0M83.5 327.9h0M73.2 334.7h0M67.8 330.5h0M70.8 343.2h0M76.8 346.2h0M72.4 324.9h0M65.4 349.9h0M50.3 313h0M52.1 332.4h0M74 336.9h0M48 340.9h0M47.7 339.8h0M49.9 314.3h0M63.6 339.4h0M68.5 342.9h0M58.7 347.2h0M44.8 320h0M70.3 322.9h0M69.4 319.1h0M52.9 330.2h0M56 310.5h0M49.7 321.2h0M79.6 315.6h0M72.9 319.3h0M73.7 328.9h0M82 326.3h0M65.6 330.9h0M57 312.7h0M70.1 326h0M82.6 326.9h0M65.4 325.4h0M66.7 348.6h0M81.8 328.2h0M73.3 337.6h0M50.8 335.8h0" stroke="#555" stroke-width="0.75" stroke-linecap="round" fill="none"/>
<path d="M69.8 336.5h0M78.4 341.1h0M75.5 323h0M76.8 326.6h0M61.5 349.1h0M72.6 333h0M60.7 331.6h0M80.3 330.3h0M47.3 324.4h0M80.2 327.4h0M48.3 341h0M76.3 327.2h0M53.2 336.3h0M72.5 329.5h0M63.9 345.9h0M65.4 345.9h0M68.8 308.9h0M55.3 347.1h0M57.5 345h0M76.7 313h0M79.7 328.7h0M64 318.8h0M54.1 337.4h0M57.5 315.3h0M52.7 326h0M63.5 339.3h0M60.8 309.1h0M67.2 344.4h0M56.5 327.8h0M70.4 314.9h0M69 319.8h0M71.2 316.4h0M83.9 334.6h0M69.9 317.2h0M64.3 336.7h0M66.7 322.7h0M77.5 337.3h0M59.8 316.5h0M68.7 315.5h0M56.5 312.3h0M65.4 342.1h0M54.8 338.1h0M61.8 328h0M63.4 324.2h0M65 340.4h0M76.9 313.8h0M66.9 319.9h0M80.6 333.8h0M61.1 315.4h0M57.5 319.9h0M49.9 341.9h0M70.2 344.4h0M49.7 344.4h0M80.2 336.7h0M46 326.2h0M65.1 314.1h0M61.1 330h0M51.9 336.6h0M50.7 334.6h0M71.2 315.8h0M50.1 339.3h0M60.3 327.8h0M78.2 341.9h0M81 341.5h0M58.6 326.7h0M63.2 324.3h0M46.9 339.1h0M71.1 314.3h0M54.3 346.4h0M61.1 350.3h0M64.1 340.2h0M44.6 327.8h0M76.7 315.5h0M63.5 348.3h0M50.8 343h0M51.8 321.9h0M68.4 341.5h0M83.9 335.7h0M54.3 335.7h0M62 345.1h0M59.7 310.7h0M46 334.6h0M79.3 314.9h0M61.1 325.3h0M68.7 331.3h0M79 321.5h0M48.4 329.4h0M59.5 346.1h0M70.4 337h0M80.9 341.3h0M70.7 327.2h0M63.7 343h0M75.9 346h0M69.3 330.5h0M66.5 348.7h0M49.2 323.1h0M60.6 336.7h0M70.4 310.5h0M85.1 333.6h0M66.6 342.2h0M61.8 310.3h0M75 338.4h0M81.7 320.2h0M43.3 325.7h0M64.4 317.7h0M77 337.5h0M52.2 320.6h0M62 346.8h0M67.3 349.2h0M83.7 325.2h0M57.4 318.7h0M59.8 330.7h0M69 338.8h0M81.6 337.2h0M69 310.3h0M80.5 332.7h0M77.8 343.9h0M52.9 340.7h0M72.8 344.5h0M75.8 311.8h0M76.3 345.3h0M69.3 333.6h0M75.5 339.4h0M50.1 326h0M69.3 343.6h0M73.9 338.9h0M53.9 329.1h0M43.3 330.7h0M57.3 311.5h0M70.2 337.6h0M45.7 327.1h0M74.4 335h0M51 320h0M81.9 336.4h0M74.9 328.1h0M62.8 325.1h0M71.6 311.3h0M78.9 330.2h0M47.1 340.6h0M63.8 322.9h0M54.6 343.8h0M65.9 337.1h0M76.7 329h0M45.4 329.5h0M64.6 310.3h0M52.3 317.1h0M80.9 340h0M73.9 344.6h0M63.8 308.2h0M71.7 326.2h0M74.5 311.5h0M46.8 336.8h0M77.8 315.1h0M52.9 326.9h0M69.4 308.5h0M65.6 339.9h0M65.2 338.7h0M58.5 315.4h0M68.2 311.6h0M82.2 322.4h0M81 339.3h0M55.2 343.8h0M68.8 313.3h0M65.8 329.3h0M58.2 332.7h0M55.9 343.5h0M69.9 321h0M78.7 338h0M54 333.2h0M77 341.2h0M72.7 348.1h0M57.2 337.7h0M56.6 322.7h0M44.2 329.2h0M85.3 327.7h0M69.3 337.1h0M81.2 323.1h0M64.3 343.6h0M77 314.4h0M78.2 322.5h0M82.4 338.5h0M80.7 324.8h0M55.7 319.7h0M58.6 317.5h0M51 344.6h0M56 310.3h0M64.5 313.2h0M64.4 309h0M67 332.2h0M77.3 345.7h0M80.1 333.9h0M56 318.8h0M61.5 340.2h0M80 327h0M56.7 313.8h0M61.1 316.4h0M73.8 344.3h0M68.8 313.6h0M51.9 327.9h0M62.9 309.2h0M72.7 332.1h0M75.8 326.8h0M56.7 348.7h0M55.4 348h0M50.1 340.5h0M63 342.4h0M55.2 332.2h0M67.9 309.9h0M64.9 317.2h0M57.4 316.3h0M52.3 343.3h0M59.5 349.1h0M66.7 312.4h0M60.4 327.4h0M63.2 341.9h0M64.9 309.7h0M70.7 312.7h0M60 323.6h0M56.9 309.5h0M81.9 322.3h0M50 340.7h0M71.9 346.9h0M44.6 326.5h0M76.1 342.2h0M45.5 328.9h0M47 319.9h0M62.4 342.6h0M74.8 312.5h0M64.6 320.9h0M76.6 320.2h0M53.4 314.4h0M58.7 310h0M61.6 346.9h0M66.9 324.2h0M66.2 340.2h0M70.9 328.2h0M58.4 311h0M61.8 334.3h0M65.2 330.2h0M46.5 322.8h0M80.3 342.4h0M59 337.8h0M66.9 341.3h0M74.6 313.1h0M83.3 332.9h0M47.3 338.1h0M63.5 323.9h0M48.1 328h0M75.5 317.1h0M85.1 324.1h0M75.5 334.5h0M50.2 333.4h0M47.4 334.2h0M54.1 336.4h0M63.4 317.9h0M69.4 343.8h0M62.6 347.1h0M80.2 326.5h0M80.6 320.3h0M81.2 336.2h0M60.8 308.7h0M54 342.6h0M73 328.7h0M53.4 343.3h0M44.9 334.9h0M67.5 311.7h0M76.9 321.5h0M72.7 312h0M44.9 328.2h0M74.1 330.5h0" stroke="#303030" stroke-width="1.15" stroke-linecap="round" fill="none"/>
<path d="M83.2 322.5h0M62.1 308.6h0M71.4 318.3h0M49.3 320.2h0M68.9 309.5h0M44.4 324.8h0M60.5 325.3h0M51.8 314.1h0M72.3 323.9h0M77.9 342.9h0M56.4 324.4h0M48.9 335.4h0M69.5 331h0M57.7 316.5h0M54 314.9h0M75.3 342.7h0M82.8 336.9h0M65.8 339.3h0M70.3 317.5h0M80.6 333.2h0M66.5 323.1h0M80.5 321.7h0M73.3 325h0M63 345.8h0M80.2 341.3h0M72.4 348.2h0M45.7 327.8h0M69.6 324.9h0M45.4 322.2h0M50.6 316.2h0M78.6 336.8h0M63.2 333.9h0M84 332.2h0M46 334.2h0M66.3 336.2h0M44.5 323.3h0M76 313.2h0M58.5 346.5h0M50.1 317.9h0M85.1 330.1h0M48.4 317.8h0M51.8 337.5h0M78.5 321h0M79.7 319.9h0M83.2 332.9h0M48.8 336.5h0M82.7 322.3h0M64.2 343.1h0M59.2 339.4h0M70.8 328.4h0" stroke="#1c1c1c" stroke-width="1.8" stroke-linecap="round" fill="none"/>
</g>
<g filter="url(#b4)">
<circle cx="117" cy="329.2" r="22.9" fill="#eaeaea" stroke="#a4a4a4" stroke-width=".65"/>
<circle cx="117" cy="329.2" r="21.3" fill="none" stroke="#cfcfcf" stroke-width=".6"/>
<path d="M118.4 311.7h0M117.3 309.4h0M107.3 335.1h0M119.4 327.1h0M119.7 308.5h0M122.3 310.8h0M108.8 348.5h0M100.3 325.2h0M96.1 325.1h0M133.2 322.6h0M111.9 316.3h0M112.7 347h0M113.1 311.1h0M97 337.4h0M116.6 311.2h0M116.2 348h0M117.9 332.7h0M110.1 320.5h0M103.4 319.6h0M133.6 336.3h0M128.9 344h0M124.2 327.8h0M119.2 311.3h0M101.3 339.3h0M114.6 311.3h0M113.3 334.8h0M120.1 349.9h0M107.4 311.6h0M132 319h0M109.6 324.7h0M127.9 343.1h0M112 333.7h0M119.9 346.5h0M131.4 344.6h0M113.4 308.2h0M116.9 337.3h0M127 337.7h0M114.6 339.7h0M119.2 342.4h0M109.9 335.6h0M104.1 331.5h0M127.5 311.9h0M131.4 342h0M129.2 337.4h0M120.4 335.8h0M124.7 336.3h0M111.5 330.3h0M135.9 338.3h0M107.6 325.3h0M129.7 313.4h0M109.9 328.1h0M124 321.2h0M133.4 320.7h0M130.2 335.8h0M121 343.2h0M129.9 341.3h0M126.2 348.7h0M114.7 329h0M116.8 325.8h0M101.1 329.3h0M127.3 342.5h0M115.8 309.8h0M133.5 317.7h0M109.4 323.9h0M134.8 333.3h0M122.2 342.6h0M134.4 322.2h0M130.7 330.3h0M96.1 332.2h0M101.5 330h0M121.5 350.3h0M136.8 329.1h0M131.2 325.7h0M110.2 339.5h0M127 345.4h0M116 349.2h0M113.5 315h0M122.9 334.7h0M130.9 345.3h0M128.9 318.9h0M119.6 333.7h0M103 338.2h0M130.1 313.5h0M136.8 321.6h0M133.9 342.2h0M116.3 332h0M98.3 339.5h0M122.5 314.4h0M130 340.9h0M107.8 323.7h0M135.9 324.7h0M97.8 320.1h0M116.7 338.4h0M106.6 327.6h0M102.4 314.7h0M121.6 315h0M116.1 327.3h0M124.8 345.7h0M119.3 350.3h0M120.8 342.9h0M128.2 321h0M110.3 337.3h0M129.3 341.9h0M116 339.4h0M113.6 331.5h0M135.6 322.2h0M112.3 313.4h0M102.7 330.8h0M118.5 331.6h0M118.4 316.1h0M103.8 314.4h0M123 346.4h0M116.3 348.2h0M128.5 313.3h0M123.5 348.4h0M116.6 326.6h0M125.1 344.6h0M115.3 347.5h0M135.2 331.4h0M124.2 327.8h0M108.7 328h0M104.8 330.8h0M126.3 344.3h0M114.8 323h0M115.5 318.2h0M121.8 340.9h0M136.8 335.8h0M110.6 334.8h0M122.4 311.6h0M124.2 347.8h0M121.7 311.6h0M98.4 321.2h0M110 325.2h0M117.4 336.3h0M106.2 326.9h0M120.7 349.4h0M112.8 318.3h0M121.8 345.5h0M116.2 341.3h0M118.1 320.7h0M136.1 324.1h0M109.3 346.9h0M133.9 339.8h0M119.8 333.1h0M96.7 334.2h0M97.6 326.6h0M104.1 326.8h0M103.6 340.7h0M109.6 316h0M106.9 330.7h0M104.3 342.4h0M130.3 323.3h0M104.4 314.6h0M135.2 317.6h0M111.3 323.9h0M119.7 308.8h0M132.8 339.8h0M119.1 310.7h0M126.1 344.3h0M124.7 343h0M108.9 333.3h0M117.6 341.8h0M115.9 310.7h0M96.8 332.7h0M111.9 349.8h0M115.5 314.5h0M124.5 327.2h0M113.2 335.2h0M106.4 331.3h0M130.2 312.1h0M116.6 316.9h0M105.9 335.4h0M99.5 320.3h0M115.3 327.8h0M107.4 347.4h0M115 349.1h0M109.1 339.7h0M132.5 319.3h0M127.6 320.2h0M133.5 320.1h0M114.3 309.9h0M116.6 348h0M126.4 314.3h0M112.9 336h0M127.9 312.9h0M129.8 344.5h0M107.7 310.4h0M96.8 323h0M120 314.9h0M121.3 347.9h0M127.2 336.7h0M120 349.8h0M123.5 348.7h0M121.8 315.2h0M102.7 313.5h0M133.6 317.1h0M130.1 316h0M126.5 311.7h0M103.5 337h0M122.3 348.9h0M129.6 325.8h0M132.5 319.9h0M113.3 330.9h0M132.4 339.3h0M120.8 314h0M116.6 316.2h0M131.4 316.2h0M101.2 343.9h0M122.5 346.6h0M115.7 317.4h0M107.6 329.2h0M134.1 324.4h0M123.1 308.4h0M108.2 326.3h0M104.8 343.6h0M137.6 332.3h0M129.5 320.2h0M136.3 320.5h0M106 317.3h0M101.4 317.6h0M107.3 334.5h0M130 337.7h0M116.7 327.6h0M116.3 348h0M104.6 319.8h0M99.3 318.6h0M112.7 311.3h0M126.6 313.7h0M96.9 336.8h0M107.9 310.5h0M111.7 322.9h0M119.3 307.6h0M122.7 338.3h0M112.4 342.3h0M124.5 333.6h0M107.5 328.9h0M108.4 332.6h0M137.1 321.9h0M104.5 321.1h0M124.4 332.9h0M102.1 339.6h0M109.3 339.6h0M127.4 343.9h0M137.2 330h0M104.8 345h0M103 339.2h0M103.5 324.4h0M133.8 323.7h0M121.9 322.6h0M108.5 311.9h0M105 325.3h0M127.3 338.3h0M137.3 332.6h0M104.7 329.5h0M109.3 339.8h0M106.8 317.1h0M105.6 339h0M115.9 346.1h0M108.4 339.2h0M113.7 349.7h0M123.7 339.8h0M133.9 335.8h0M119.7 348.5h0M116.5 324h0M134.4 323.2h0M130.6 337.8h0M124.3 348.7h0M102.9 341.5h0M117.1 322.6h0M133.3 333.2h0M122.1 329.9h0M130.9 341h0M110.2 323.7h0M105.6 342.9h0M100.4 342.8h0M127.8 327.5h0M126.8 348.5h0M111.5 336.6h0M108.7 311.4h0M118 325.4h0M129.1 318h0M103.6 339.4h0M135.1 318.5h0M124.4 343.7h0M130.4 329.6h0M97.7 327.4h0M115.6 330h0M114.6 311.6h0M130.3 325.4h0M108.5 348.3h0M128 321.6h0M125.4 311.8h0M108 348.8h0M102.5 317.1h0M108.4 329.8h0M126.9 334.9h0M129.4 346.1h0M132.8 318.8h0M132.2 322.4h0M122.1 333.1h0M97.3 336.8h0M114.7 310.8h0M113.6 310h0M115.2 339.1h0M129.4 324.6h0M97.5 319.8h0M98.2 334.5h0M136.2 323h0M129.6 345.5h0M96.1 323.7h0M104.8 315.1h0M122.3 317h0M120.4 331.3h0M136.6 333.5h0M114.1 314.7h0M133.9 321.6h0M120.7 320.6h0M109.5 329.2h0M128.4 323.8h0M117 344.1h0" stroke="#555" stroke-width="0.75" stroke-linecap="round" fill="none"/>
<path d="M134 317.9h0M119.2 312.6h0M127.4 315.8h0M124.2 309.4h0M119 346.8h0M131.2 325.8h0M108.7 310.4h0M124.9 343h0M109.1 329.5h0M106.6 325.5h0M126.8 345.1h0M136.5 324.2h0M98.6 318.7h0M96.9 323h0M129.8 341.8h0M106.5 324.8h0M103.5 345.1h0M96.9 323.6h0M104.3 344.5h0M133.3 326h0M126.7 333.4h0M117.6 331.2h0M106.9 311.1h0M134.7 328.3h0M134.6 329.4h0M121.7 328.3h0M129 329.9h0M105.3 321.8h0M124.7 345.4h0M114.7 350.2h0M108.1 347.2h0M110.2 309.3h0M122.5 328.5h0M116.1 336.3h0M112.7 322.2h0M137.9 328.4h0M126 343.5h0M105.5 343.3h0M129.8 345h0M109.8 324.7h0M97.9 328.9h0M103.2 337.7h0M101.6 337.3h0M117.5 339.6h0M133.2 339.9h0M109.4 341.9h0M108 312.8h0M97.5 328.8h0M125.6 347.9h0M132.7 339h0M110.8 345.3h0M117.5 344.5h0M113.2 336.7h0M98.6 338h0M127.1 314.8h0M104.8 317h0M114.4 333.6h0M115.6 322.5h0M109.6 315.8h0M128.8 336.9h0M102.5 340h0M137 328.4h0M111.1 318.3h0M113.2 319.8h0M129.7 335.2h0M130.8 321.6h0M110.3 329.7h0M107.6 329.5h0M134.6 321.4h0M129.2 344.2h0M111.2 315.5h0M134.7 326.5h0M118.4 324.9h0M123.8 331.6h0M107.6 342.5h0M112.8 311.9h0M106.6 333.5h0M130.4 314h0M128.8 316.9h0M108.1 312.7h0M130.1 316h0M135 317.6h0M100.9 319.2h0M136.9 322.4h0M101 327.3h0M106.6 339.8h0M119.6 344.3h0M105.7 328.9h0M122.5 341.9h0M119 313.7h0M99.2 327.2h0M106.3 328.5h0M106.3 336.8h0M99.1 331.2h0M99.5 334.6h0M108.9 339.1h0M121.9 347.1h0M111.2 320.7h0M110.9 312.7h0M135.3 333h0M106.9 310.8h0M119.7 350.1h0M115.3 308.7h0M115.1 344h0M128.8 320.1h0M98.7 336.5h0M130.7 327h0M115.2 338.2h0M106.9 347.1h0M99.3 337.9h0M110.4 335.9h0M110.1 331.9h0M116.6 342.7h0M114.8 331.3h0M117.2 327h0M108.2 320.5h0M101.7 316.4h0M124.1 320h0M99.5 318.7h0M132.8 332.9h0M107.2 321.9h0M120.5 344.1h0M109.2 338.2h0M118.3 350.5h0M100.1 318.9h0M124.6 310.1h0M106 330.7h0M119.6 347.8h0M126.3 315h0M121.9 314.1h0M117.1 322.3h0M128.9 336.9h0M131.5 329.4h0M100 336.9h0M112.5 314.6h0M124.5 342.6h0M106.4 340.2h0M131.3 315.4h0M107.4 320.7h0M130.9 337.3h0M132.7 343h0M108.9 344.5h0M110.5 339.6h0M108.1 339.8h0M109.9 317.6h0M102.5 338.9h0M107 331.9h0M115 309.8h0M120.5 328.3h0M99.3 329.5h0M123.8 342.2h0M116.1 346.4h0M104 318h0M113.5 337.4h0M101.2 330.9h0M110.9 344.9h0M103.9 317.4h0M120.3 347.8h0M104 323.4h0M99.4 335.1h0M104.9 311.9h0M123.8 330.6h0M114.2 308.7h0M121.9 339.1h0M136.4 331.1h0M126.7 311.5h0M128.5 315.7h0M111.9 337.4h0M120.2 330.6h0M121.2 333.2h0M115.5 337.6h0M131.1 314.2h0M123 308.8h0M121.2 318.7h0M132.4 339.2h0" stroke="#303030" stroke-width="1.15" stroke-linecap="round" fill="none"/>
<path d="M101.7 316.2h0M110.9 310.8h0M103.3 333.1h0M115.2 338.3h0M117.3 347.2h0M119.8 346.4h0M110.4 336.4h0M131.7 331.7h0M129.9 316.4h0M109.8 339.4h0M102.1 339.2h0M130.2 321.8h0M120.3 315.2h0M111.4 336.6h0M105.2 315.7h0M104.2 322.3h0M126.8 329.3h0M126.1 312.9h0M106.1 318.1h0M115.1 336.3h0M108.5 311.7h0M108.3 312.5h0M133.4 341.3h0M124.9 340h0M109.5 335.6h0M109.9 325.4h0" stroke="#1c1c1c" stroke-width="1.8" stroke-linecap="round" fill="none"/>
</g>
<g filter="url(#b4)">
<circle cx="167.6" cy="329.2" r="22.9" fill="#eaeaea" stroke="#a4a4a4" stroke-width=".65"/>
<circle cx="167.6" cy="329.2" r="21.3" fill="none" stroke="#cfcfcf" stroke-width=".6"/>
<path d="M158.4 327h0M175.1 316.9h0M168.5 331.9h0M163.8 327.4h0M170.7 313.6h0M169.2 341.1h0M156.2 341.1h0M160.3 310.4h0M166.7 320.7h0M172.3 324.2h0M171.8 331.7h0M167.6 348.7h0M159.4 337.8h0M182.1 341.9h0M182.2 341h0M185.7 328.7h0M150 340.1h0M159.6 348.5h0M161.8 328.8h0M169.3 314.9h0M176.2 347h0M156 336.8h0M150.5 333.4h0M152.2 323.4h0M181.5 316.3h0M154 314.4h0M181.2 343.8h0M166 317.4h0M162.2 321h0M158.8 346.4h0M179.2 341.3h0M172.1 312h0M171.9 318h0M174.3 332.3h0M153.7 344.3h0M158.4 329.1h0M153.8 327.2h0M158.8 337.2h0M181.6 326.4h0M173.7 318.5h0M165.2 342.6h0M181.2 315.5h0M168.4 319.5h0M156.3 327.8h0M178.9 320.7h0M158.4 334.5h0M171 327.2h0M164.7 317.6h0M171.8 332.7h0M179.4 330.6h0M154.5 331.4h0M168.1 331.9h0M149.5 327.2h0M160.6 333.2h0M173.4 320h0M171.4 331.9h0M150.4 317.1h0M161.5 312.7h0M164.7 345.6h0M153.5 335.1h0M164.1 340.2h0M177.4 335h0M170.2 348.5h0M160.2 329h0M151.9 338.8h0M188 326.8h0M186.8 322h0M159.2 322.1h0M161.7 321.4h0M184.7 338.6h0M166.4 349.3h0M151 333.2h0M183.6 341.5h0M161.9 315.4h0M172 328.1h0M158 338.8h0M157 314.5h0M153.9 327.9h0M176.8 327.1h0M148.9 333.3h0M166.7 309.3h0M176.8 313.3h0M172.3 309.4h0M157.5 340.2h0M178.5 313.1h0M177.5 343.9h0M159.1 343.2h0M166.2 322.4h0M162.7 338.2h0M165.4 349.1h0M153.6 342.4h0M165.9 330.9h0M167.7 329.6h0M163.2 312h0M168 345.7h0M159.5 337.6h0M182.9 344.4h0M175.1 310.2h0M174.6 312.5h0M166.8 337.7h0M164 316h0M156.2 317.4h0M174 313.7h0M182.3 322h0M162.5 311.1h0M156.7 311.3h0M147.8 336.3h0M161.5 342.6h0M170.2 322.5h0M176 322.4h0M159.9 329.5h0M180.1 328.9h0M157.8 318.5h0M171.7 337.2h0M173.5 329.9h0M182 324.9h0M170.2 315.5h0M162 344.8h0M158.3 317.1h0M155.5 319.6h0M156.5 347.8h0M152 337.4h0M187 325h0M150.2 319.6h0M167.4 331.6h0M153.6 343.1h0M179.8 338.3h0M152.5 318.5h0M172.7 323.8h0M188.3 335.3h0M164.2 349.3h0M184.1 316.5h0M159.8 336.6h0M158.8 321.3h0M178.9 323.8h0M152.7 322.6h0M149.3 323h0M154.4 316.3h0M152.9 326.1h0M185.7 330.8h0M179 333.7h0M173.9 310h0M169.2 339.7h0M153.2 318h0M179.5 325.7h0M167.9 348.4h0M158.8 342h0M149.5 322.2h0M186.6 331.4h0M178 324.8h0M160.6 334.5h0M182.4 335.5h0M175.9 338.5h0M157.1 323.4h0M160 328.9h0M171.1 321.8h0M171.3 319.8h0M177.3 310.4h0M168.6 322.5h0M184.8 327.6h0M178.5 323.3h0M162.7 318.1h0M164.4 348.9h0M174.8 337.4h0M168.6 349.3h0M180.7 341.8h0M161 347.2h0M168.5 322.5h0M175.6 341.7h0M172.8 324.3h0M184.9 340.4h0M158.1 313.4h0M148.3 335.5h0M167.8 333h0M171.7 310.4h0M178.6 340.5h0M164.9 342.4h0M159.1 345.8h0M160.2 320.4h0M180.9 322.1h0M148.4 320.6h0M166.5 349.3h0M168.4 322.3h0M176.2 328.7h0M175.6 316.5h0M182.2 343.6h0M182.9 321.2h0M150 327.5h0M156.2 331.5h0M186.1 319.9h0M177.2 340.7h0M182.1 314.2h0M181.4 331.4h0M153.5 343.4h0M167.9 309.4h0M172.5 343.2h0M184.1 339.5h0M152.4 344.4h0M178.4 320.3h0M153.6 345h0M150.6 319.4h0M155.2 336.7h0M173.7 340.5h0M147.3 323.6h0M161.9 342.2h0M182.7 327.2h0M183 334.6h0M169.4 320.7h0M171.5 309.1h0M153.5 326.2h0M160 310.4h0M173.3 317.1h0M156.4 312.9h0M186.6 333.4h0M164.2 347.5h0M173.3 342.5h0M158.8 331.9h0M174 312h0M154.5 339.7h0M183.6 326.5h0M156.2 315.6h0M168.4 336h0M180.7 315h0M161.5 347.4h0M164.5 339.2h0M168.8 310.8h0M184 327.7h0M180.9 330h0M152.5 341.9h0M172.5 347.6h0M168.3 310h0M171.7 349.5h0M158.3 313.3h0M149.8 335.8h0M172.7 347.1h0M165.5 313.5h0M162.3 337.2h0M166.7 322.5h0M165.7 312.8h0M172 335.1h0M160.9 328.6h0M178 324.9h0M163.7 318.3h0M183 324.1h0M159.5 346.2h0M175.4 323.4h0M166.4 332.3h0M167.2 331.7h0M181.5 342.1h0M159.5 324.9h0M153.3 326.8h0M157 345.1h0M148.4 321.3h0M177.6 340.4h0M184.2 341.1h0M188 333.6h0M149.9 325.2h0M147.8 329.4h0M155.2 316.6h0M173 342.3h0M181.3 341.7h0M171.4 336.6h0M180.5 313.8h0M168.3 321.5h0M159.8 341.9h0M160 340.6h0M174.2 349.5h0M179.5 340h0M167.5 309.2h0M184.8 342.1h0M159.7 346.7h0M167.7 311.2h0M164.2 332.2h0M175 311.2h0M179.4 331.1h0M158.3 310.3h0M181 324.6h0M164.7 309h0M147.8 337.2h0M165 345.7h0M167.1 332.9h0M172 329.1h0M178.9 344.1h0M149.8 319h0M175 326.6h0M168.8 329.6h0M179.3 311.1h0M147.2 330.1h0M152.4 328h0M181.4 315.6h0M168.6 343.2h0M154.3 322.9h0M147.2 327.6h0M189.1 331.4h0M176.5 337.9h0M146.3 331.3h0M165 309h0M165.1 310.5h0M159.5 323.6h0M156.9 345.1h0M187.1 326.5h0M173.5 333.8h0M156.6 314.4h0M149.9 321.9h0M156 311.9h0M168.3 312.6h0M152.9 336.6h0M154.5 323.9h0M155.9 335h0M178.8 336.3h0M165.4 330.9h0M157.8 340h0M187.2 321.3h0M162.4 339.6h0M170.3 324.7h0M164.2 319.1h0M152.9 341.8h0M174.5 321.3h0M187.5 327.3h0M178.8 343.7h0" stroke="#555" stroke-width="0.75" stroke-linecap="round" fill="none"/>
<path d="M172.4 331.4h0M148.6 332.4h0M152.6 315.7h0M161.7 332.4h0M166.3 318.6h0M163.5 335.4h0M152.6 335.2h0M164 310.2h0M179.3 325.5h0M177 337.1h0M158.7 318.7h0M151.2 322.7h0M161.1 323.2h0M167 349.5h0M170.9 313.2h0M159.8 332.4h0M174.8 348.3h0M163.8 336h0M156.5 336.8h0M169.8 314.6h0M185.5 319.5h0M157 327.5h0M165.2 346.7h0M162.6 335.3h0M150 326.2h0M162.6 337.5h0M185.3 329.5h0M184 336.8h0M172.4 319.4h0M167.7 345.1h0M161 338.7h0M161.5 311.2h0M182.8 342.4h0M167.4 333.7h0M154.2 321.2h0M181.5 327.6h0M185.4 334.5h0M179.8 311.9h0M163.1 335h0M183.9 341.1h0M177.1 327.9h0M164.2 346h0M188.1 334.9h0M174.1 344.6h0M167.8 343.3h0M162.8 322h0M178.4 318.3h0M168 336.3h0M153.1 324.1h0M149.7 332.8h0M172 329.7h0M157.9 322h0M162.4 347.4h0M182.9 341.6h0M152.7 338.8h0M164 336.8h0M161.2 333.7h0M160.4 326.8h0M172.5 314.1h0M173.4 326.6h0M169.5 309.4h0M153.5 322.3h0M173.6 333.4h0M150.9 340.2h0M173.3 309.9h0M159.8 346.6h0M164.7 321.6h0M175 339.9h0M175 311.1h0M155.2 328.2h0M156.4 343.9h0M179.1 315.6h0M155.5 343.4h0M171.1 318.6h0M185.1 325.2h0M163.4 328.4h0M154.1 337.7h0M184.4 341.9h0M162.6 323h0M185 321.1h0M170.9 311.4h0M168.7 320.9h0M174.5 324.3h0M149.3 331.6h0M169.9 318.2h0M165.6 311.7h0M157.8 340.5h0M148.5 335.3h0M151.8 326.3h0M162.9 308.8h0M176.5 341.2h0M173.1 318.1h0M159.8 318.7h0M171.6 331.3h0M166.5 345.3h0M178.7 311.3h0M161.9 344.1h0M184 326.7h0M177.2 310.6h0M164.3 334h0M175.2 328.5h0M171.1 348.4h0M184.8 335.6h0M160.4 315.4h0M162.7 344.4h0M163.5 311.3h0M164.3 343.5h0M164.4 326.3h0M174.3 322.8h0M147.9 330.6h0M166.9 320.3h0M157.2 342.9h0M177.2 337.4h0M184.1 318.5h0M173.1 340.2h0M177.2 310.5h0M167 323.9h0M184.5 342.1h0M154.8 326.4h0M188.3 332.5h0M148.3 321.5h0M179.4 324h0M166.7 350h0M185.3 322.7h0M158.2 323.9h0M161.6 320.7h0M173.5 332.1h0M178.7 343.2h0M169.4 323.5h0M181.8 326.5h0M164.4 349.5h0M165.7 313.9h0M152.9 338.7h0M172.6 344.4h0M150.3 320.4h0M160 332.2h0M159.9 324.2h0M163.6 312.2h0M170.3 321.9h0M176.7 346.9h0M166.3 328.3h0M169.1 348.1h0M171.7 345.1h0M172.2 332.9h0M177.7 328.3h0M155.6 331.1h0M165 321h0M172.5 340.4h0M161.1 331.2h0M157.8 311.4h0M157.7 320.8h0M149.2 332.4h0M151.9 337.4h0M158.8 326.4h0M148.6 322.1h0M159.2 320.2h0M160.9 312.1h0M187.4 321.2h0M177.1 318.7h0M177.2 328.2h0M162.2 330h0M184.3 321.3h0M184.6 333.2h0M154.6 314.9h0M159.4 334.2h0M152.3 314.9h0M170.5 313.7h0M167 330.4h0M187.2 333.8h0M171.8 318.3h0M162.1 333.7h0M153.3 335h0M186.1 318.7h0M179.2 343.5h0M165.7 325.6h0M165.8 346.1h0M188 331.7h0M179 334.3h0M176 309.8h0M168.7 330.1h0M172.1 311.5h0M186.6 330.8h0M170.7 323.5h0M177.2 317.2h0M175 329.3h0" stroke="#303030" stroke-width="1.15" stroke-linecap="round" fill="none"/>
<path d="M170.3 308.7h0M186.2 327.7h0M185.5 325h0M168.5 335.1h0M179.5 328.3h0M171.2 332.9h0M161.4 309.3h0M159.8 342.1h0M163.7 316.4h0M179 313.1h0M152.6 339h0M161.2 345.1h0M165.3 309.6h0M164.7 313.1h0M170.3 348h0M165.7 344.8h0M162.2 323.2h0M165.8 349.3h0M150.2 324.7h0M154.8 322.4h0M171.3 312.9h0M173.1 309.1h0M158 314.4h0M186.4 329.9h0M170.6 339.4h0M167.6 330.2h0M160 338.4h0M166.1 309h0" stroke="#1c1c1c" stroke-width="1.8" stroke-linecap="round" fill="none"/>
</g>
<g filter="url(#b4)">
<circle cx="64.4" cy="379" r="22.9" fill="#e4e4e4" stroke="#a4a4a4" stroke-width=".65"/>
<circle cx="64.4" cy="379" r="21.3" fill="none" stroke="#cfcfcf" stroke-width=".6"/>
<path d="M79.3 368.3h0M70.6 365.7h0M43.9 378.9h0M50.6 366.3h0M51.4 366.8h0M73.5 364.1h0M82.3 388.3h0M53.6 394.7h0M68.5 370.2h0M82.6 371.3h0M59.3 369.2h0M72.9 385.2h0M77.1 393.6h0M57 370.3h0M64.6 363.3h0M69.2 387.7h0M73.8 384h0M57.3 368.3h0M59 375.5h0M48.1 371.8h0M65.7 399.7h0M55.5 393.1h0M45.7 388.8h0M80.3 377.8h0M60.5 360.4h0M81.4 375.8h0M47.2 371.1h0M67.2 364.9h0M54.2 379.7h0M62.2 365h0M71.1 358.5h0M53.3 379.3h0M51.2 395.4h0M61 378.3h0M82 387.3h0M59.2 386.3h0M52.7 388.9h0M83.8 375.3h0M59.5 389.4h0M69.7 361.1h0M64.8 380.5h0M54.5 387.7h0M45.4 369.2h0M46.8 367.1h0M83.6 383.4h0M45.9 368.5h0M60.5 383h0M79.6 370.4h0M74.8 370.9h0M54.2 379.8h0M69.6 361.5h0M65.6 373.2h0M78 391.3h0M72.4 360.2h0M49.6 381.1h0M53.4 379.2h0M67.8 375.6h0M74 392.3h0M76.1 388.4h0M62.6 368h0M74.3 367.1h0M84.5 385.6h0M65.7 399.2h0M57.4 375h0M73.7 390.4h0M57.7 396.1h0M81.9 369.7h0M46.3 384.9h0M73.5 372.8h0M72.3 377.4h0M80.6 391.5h0M67.7 364.7h0M73.7 378.1h0M66.3 380.3h0M81.2 370.5h0M65.8 389.2h0M50.9 390.4h0M60 358.1h0M60.5 378h0M58 381.3h0M59.9 367.4h0M62.9 396.5h0M81.4 375.6h0M69.7 359.5h0M83.3 378.5h0M77 392.3h0M75 365.8h0M62.8 400.5h0M72.9 386.2h0M46.5 371.6h0M49.3 365.9h0M78.8 391.5h0M73.4 383.9h0M66.4 372.2h0M80 375.4h0M49.2 372.4h0M46 387h0M53.8 366.4h0M60.4 387.3h0M79.2 380.9h0M51.8 370h0M50.9 364.7h0M52.8 378.3h0M65.9 363.2h0M64 394.3h0M82.8 371.5h0M84.3 382.1h0M54 396.2h0M72.1 391.2h0M58.9 367.1h0M63.6 397.3h0M60.9 377.3h0M82.6 368.8h0M61.5 393.6h0M49.7 380.1h0M64.7 380h0M47.5 381.6h0M82.2 389.9h0M61.3 376.8h0M81.5 382.9h0M52.7 370.3h0M68.2 376.4h0M60.1 363.6h0M51.6 362.5h0M71.6 361h0M72.8 369.5h0M47.9 372.8h0M79.5 364.1h0M67.3 385.4h0M52.2 381.8h0M61.6 375.3h0M82.8 388.4h0M83 371.1h0M73.9 397.1h0M82 366.6h0M56.4 366h0M61.5 397h0M66.3 392.9h0M59.7 371.8h0M69.9 378h0M60.6 389.5h0M68.7 374.4h0M49.6 364.9h0M49.5 376.9h0M70.8 385.7h0M53.4 374h0M48.9 379.7h0M77.7 380.9h0M82.6 367.1h0M75.2 365.1h0M57.7 369.6h0M62.6 395.8h0M65.3 359.2h0M47.6 389.6h0M56.1 359.5h0M75.5 368.6h0M62.2 373.7h0M63.5 394.8h0M58.9 387.6h0M85 375.1h0M73.4 386h0M83.2 373.8h0M61.3 397.7h0M77.4 362.5h0M60.9 374.5h0M53.9 370.5h0M76.9 369.4h0M52 362.4h0M78.6 368.5h0M77.3 376.8h0M73.3 382.6h0M73.3 392.6h0M73.1 362.2h0M60.4 360.1h0M70 363.9h0M71.9 394.5h0M72.4 369.2h0M83.6 378.3h0M81 387.8h0M48.3 392.7h0M50.7 364.3h0M78.3 375.2h0M53.1 380.5h0M56.3 378.7h0M82.5 386h0M80.1 365.1h0M67.2 382.7h0M64.8 367.9h0M52.7 387.2h0M79.4 374.5h0M55.4 376.2h0M76.9 382.2h0M80.4 371.1h0M59.5 389.8h0M56.7 365.1h0M60.8 392.5h0M61.5 364.6h0M79.4 388h0M67.3 385.7h0M59.4 386.8h0M65 399.7h0M60.6 370.6h0M70.5 363.7h0M50.5 367.8h0M79.1 388.6h0M55.2 388.4h0M78 363.4h0M51.2 377.9h0M71.9 386.9h0M81.7 374.1h0M84.4 371.7h0M82.1 376.3h0M49.6 365.2h0M73.1 390.4h0M76 390.1h0M78.8 364.8h0M62.4 390.6h0M52.5 363.2h0M78.6 386.8h0M70.7 365.2h0M61.1 388.2h0M51.4 364.5h0M44 379.4h0M71.2 376.3h0M52.5 385.5h0M45.8 368.8h0M69.3 390.8h0M49.3 393.5h0M69.6 395h0M66.5 382.4h0M73.4 394h0M81.9 378h0M82 380.5h0M77.7 362.5h0M60 379.7h0M73.4 383.6h0M59.5 363.2h0M57.7 372.9h0M59.3 396.6h0M78.5 367.9h0" stroke="#555" stroke-width="0.75" stroke-linecap="round" fill="none"/>
<path d="M48.7 367.6h0M75.1 376.9h0M73.5 360.2h0M70.1 362.3h0M68.5 365.2h0M76.5 366.7h0M80 390h0M67.7 399.6h0M61 372h0M51.4 374.5h0M44.2 373.9h0M59 365.5h0M70.8 375.9h0M53.1 393.9h0M78.6 365.7h0M64.3 359.1h0M76.5 364.1h0M55.2 378.2h0M58.5 396.3h0M47 388.6h0M61.6 369.3h0M51.5 379.5h0M63.8 381.3h0M68.6 394.2h0M67.5 383.4h0M83.5 384.1h0M69.5 388.9h0M53.3 383h0M72.2 385.7h0M77.5 387.2h0M63.9 363.2h0M51.3 368.5h0M61.8 370.2h0M60.5 397.5h0M50.8 373.6h0M61.2 397.2h0M47.8 381.7h0M72 392.6h0M56.8 397.1h0M51.2 393.6h0M70.8 399.2h0M66.5 382.4h0M53.4 392.8h0M60.9 384.1h0M82.4 375h0M81.5 369.2h0M44.4 375.6h0M66 387.7h0M60.1 387.5h0M73.1 362.4h0M58.1 378.7h0M58.7 363h0M52.6 372.1h0M64.5 371h0M61.8 378.2h0M46.5 381.6h0M77.7 385.5h0M51.5 370.9h0M65.7 389.8h0M79.2 365.2h0M47.1 372.9h0M63 377.5h0M57.2 379.2h0M79.2 369.6h0M79.8 365.3h0M71.9 369.9h0M64.6 399.7h0M45.7 383.1h0M84.7 378.3h0M62.4 358.1h0M46.9 379.1h0M63.3 394.2h0M58 360.4h0M48.5 371.1h0M83.1 375.4h0M73 383.5h0M75 381.2h0M77.3 364.9h0M56.9 386.8h0M50.6 375h0M62.8 396.1h0M64.4 386h0M71.9 398.6h0M46.6 376h0M65.8 373.3h0M55.7 392.8h0M63.9 371.4h0M65.3 395h0M47.9 384.4h0M69.8 384.7h0M57 396h0M52.7 368.4h0M63.6 392.3h0M46 388.9h0M73.3 370.9h0M82.1 377.9h0M75.1 364.3h0M66 372.2h0M81.8 386.2h0M52.9 369.7h0M51.3 375.8h0M61.1 395.1h0M72.9 386.3h0M78.3 393h0M72.8 369.3h0M57.4 399h0M58.9 378.9h0M61.8 379.4h0M77 391.3h0M78.5 389.7h0M82.9 384.1h0M53.2 363.4h0M74.6 384.7h0M65.2 383.5h0M84 384.9h0M68.4 384.2h0M66.4 396.3h0M74.6 368.3h0M52.1 367.2h0M65.4 373.8h0M49.1 379.7h0M61.2 397.3h0M79.8 379.5h0M61.4 363.8h0M55.9 374.1h0M48.1 378h0M46.7 377.3h0M78.2 391.9h0M57.8 387.6h0M79.4 378.8h0M58.7 361.6h0M50.2 364.1h0M79.4 364.4h0M76.2 394.1h0M53.1 394.5h0M75.9 370h0M73.6 397.3h0M54.7 394.2h0M70.5 385.6h0M64.7 396.3h0M81.9 381.6h0M78.5 365.4h0M60.6 368.1h0M59.7 372.3h0M48.2 387.5h0M46.6 367.4h0M64.3 373h0M72.6 396.4h0M81.4 388.5h0M72.5 374.5h0M83.1 375.5h0M58.1 384.8h0M44.7 373.4h0M82.9 384h0M57.7 378.7h0M61 397.4h0M61.5 369.6h0M72.6 381h0M65.7 364.4h0M70.3 396.2h0M62.9 374.8h0M66 377.8h0M56.9 368.5h0M43.9 377h0M82.8 382.8h0M56.3 392.6h0M59.3 391.4h0M46.6 384h0M44.8 377.1h0M50.4 391h0M57.6 373.4h0M77.5 390.3h0M76.9 368.7h0M48.6 371.6h0M83 378.6h0M70.4 394.2h0M63.4 372.6h0M47 380.4h0M80.2 368.9h0M70.8 379.5h0M79.5 386.6h0M73.7 368.7h0M66.1 373.3h0M71.2 376.3h0M72 388.9h0M61.7 369.3h0M84.2 373h0M78.4 379h0M70.8 362.5h0M57.3 377.8h0M56.6 363.2h0M51.1 392.8h0M80.4 387.1h0M67.1 363.4h0M59.9 384.6h0M47.6 366.1h0M53.7 377.2h0M75.5 386.1h0M53.2 387.2h0M70.2 364.9h0M60 361.2h0M73.9 380h0M58.8 386.5h0M81.9 390.4h0M48.7 365.3h0M45.8 385.3h0M52.2 362.6h0M80.7 388.4h0M58.5 364.7h0M73.3 377.2h0M74.8 376.4h0M49.1 387.6h0M77.5 385.6h0M73.5 372.3h0M52.5 374h0M59.5 359.3h0M51.2 373.4h0M75.9 382.2h0M49.4 387.2h0M80.1 378.4h0M76.7 375.5h0M69.4 393.7h0M65.8 360h0M57.4 359.7h0M49.1 383h0M69.7 378.3h0M52.3 384.2h0M65.1 384.2h0M73.3 374.5h0M62.2 377.8h0M79.3 380h0M57.9 389.9h0M76.5 361.4h0M45.2 380h0M75.6 389.2h0M46 384.6h0M47 390.7h0M44.2 376.6h0M72.9 381.3h0M73.8 378.8h0M66.4 371.3h0M76.7 380.5h0M70.4 370.5h0M69.6 374.5h0M84.5 385.6h0M75.1 389.3h0M55 374.2h0M71.5 382.1h0M44.1 382.6h0M70 399.2h0M56.9 371.2h0M66.9 362.7h0M56.8 365.4h0M76.7 393.8h0M74.2 363.3h0M49 370.6h0M69.8 363.4h0M83.8 387.2h0M53.6 361.5h0M63.9 358.2h0M78.9 386.9h0M77.5 392h0M63.2 395h0M64.2 359h0M46 384.8h0M66.9 365.2h0M59.6 359.5h0M67.7 359.2h0M62 366.9h0M71.1 368.9h0" stroke="#303030" stroke-width="1.15" stroke-linecap="round" fill="none"/>
<path d="M57.2 382.1h0M53.6 377h0M78.5 384.6h0M58.8 363.4h0M77.5 380.4h0M45.6 376.2h0M74.4 379.2h0M67.4 376.4h0M58.9 378.7h0M54.7 367.1h0M81.9 368.7h0M61.4 385.5h0M84 374.8h0M46.4 376.3h0M47.1 371.1h0M50.5 368h0M56.9 362.7h0M44.8 375.7h0M62.6 393.4h0M58 369.9h0M56.2 378.8h0M82 382h0M75.3 386h0M44.4 384.3h0M62.6 382h0M47.6 380.6h0M60.3 368.9h0M53.6 368.5h0M58.4 379.6h0M53.5 393.6h0M53.1 363.4h0M62.9 379.5h0M54.6 389.1h0M57.4 371.8h0M68.8 377h0M54.6 373.8h0M77.1 377.6h0M68 385.6h0M58 366.6h0M77.2 389.9h0M53.8 383.8h0M76.7 376.4h0M51.6 362.8h0M70.1 373.9h0M74.3 396h0M65.9 359.2h0M69.8 379.8h0M56.6 395.1h0M65.5 379h0M56.6 393.5h0M51.9 393.1h0M55.6 383.3h0M62.2 365.3h0M77.1 362.6h0M68.7 366.5h0M58.6 359.2h0M82.6 373.5h0M79.6 379.7h0M79.6 379h0M83.4 370.4h0M65 376.4h0M47.3 380.3h0M64.8 372.7h0M69.2 365.4h0M49.8 380.4h0M55.3 394.4h0M55.9 362.7h0M76.3 374.3h0M53.4 393.8h0M77.9 381.9h0M78.6 385.1h0M84.1 378.7h0M64.7 361.2h0M78.9 364.9h0M46.6 379.1h0M49.4 380h0M54.5 368.9h0M73.5 397.5h0M49.4 368.5h0M59.5 393.9h0M67.9 362.1h0M79.1 378.7h0M44.2 375.8h0M77.4 368.3h0M54.4 387.2h0M52.8 392.5h0M57 390.3h0M76.9 384h0M45 371.4h0M65.9 362.3h0M44.9 379.1h0M70.2 371.2h0M53.7 366.1h0M48.2 370.7h0M60.3 387h0M57.5 387.2h0M51.6 391.7h0M60.9 377.8h0M49.2 374.2h0M48.9 365.1h0" stroke="#1c1c1c" stroke-width="1.8" stroke-linecap="round" fill="none"/>
</g>
<g filter="url(#b4)">
<circle cx="117" cy="379" r="22.9" fill="#eeeeee" stroke="#a4a4a4" stroke-width=".65"/>
<circle cx="117" cy="379" r="21.3" fill="none" stroke="#cfcfcf" stroke-width=".6"/>
<path d="M128 370.5h0M99.9 389.5h0M128.1 391.1h0M116.8 398.9h0M98.8 375.6h0M111.9 399.4h0M109 389.5h0M134.1 383.8h0M128 391.3h0M121.4 380.9h0M128.1 396.7h0M106.4 393.2h0M117.4 358.7h0M99.7 377.8h0M102.9 389.5h0M100.5 390.1h0M107 393.8h0M120.5 392.8h0M121.9 391h0M103.8 371.9h0M124.4 397h0M120.1 396.2h0M112.1 388.2h0M122.3 359.2h0M121.1 392h0M129.4 387h0M124.7 367.7h0M128.3 382.8h0M122.7 361.9h0M115.5 397.4h0M127.4 382.3h0M96 379.9h0M119.9 359.4h0M97 382.8h0M136.2 376.9h0M97.3 374.4h0M123.9 363.9h0M116.7 397.2h0M103.7 371.3h0M114.4 379.9h0M108.9 376h0M103.6 366h0M126.7 395.1h0M134 382.1h0M109.2 377h0M131.6 380.1h0M130.2 387.6h0M112.8 382h0M121.6 386.6h0M108.7 395.6h0M122 381.9h0M99.6 380.9h0M113.2 358.9h0M129.1 362.2h0M125.3 367.3h0M130.1 381.6h0M125.9 374.8h0M128.9 377.1h0M131.2 390.1h0M129.4 374.8h0" stroke="#555" stroke-width="0.75" stroke-linecap="round" fill="none"/>
<path d="M115.3 392.8h0M121.2 381.1h0M113 397.6h0M136.4 377h0M131.5 372.2h0M115.2 366h0M118.5 359h0M100.3 374.2h0M111 382.5h0M97.8 388.3h0M109.8 373.3h0M108 396.7h0M115.7 376h0M123.6 363.1h0M129 391h0M134.3 390.6h0M114 387.2h0M96.4 380.8h0M112 393.3h0M98.7 370.5h0M116.9 358.2h0M106.4 364.3h0M112.8 385h0M124.2 367.8h0M99 374.8h0M100.4 365.7h0M122.8 380.7h0M119.4 385.9h0M126.4 395h0M105.7 362h0" stroke="#303030" stroke-width="1.15" stroke-linecap="round" fill="none"/>
<path d="M96.6 382.5h0M110.7 361.1h0M115.3 373.2h0M104.8 382.4h0M123.4 383.6h0M133.4 372h0M112.8 373.6h0M108.1 376.2h0M100.8 381.4h0M117.8 398.1h0M128.4 383h0M103.9 385.1h0M97.6 384.6h0M127.7 382.6h0M117.4 373.1h0M125.2 383.3h0" stroke="#1c1c1c" stroke-width="1.8" stroke-linecap="round" fill="none"/>
</g>
<g filter="url(#b4)">
<circle cx="167.6" cy="379" r="22.9" fill="#eeeeee" stroke="#a4a4a4" stroke-width=".65"/>
<circle cx="167.6" cy="379" r="21.3" fill="none" stroke="#cfcfcf" stroke-width=".6"/>
<path d="M167.8 366.8h0M183 378.8h0M159.2 363.1h0M175 381.6h0M163.3 381.8h0M179.5 390h0M166.6 366.5h0M175.7 396.4h0M174.3 392.1h0M180.4 378.6h0M164.2 379.8h0M180.6 387.9h0M168.2 362.2h0M178.2 394h0M150.1 371.6h0M168.2 397.7h0M165.8 396.9h0M187.4 373.4h0M180 368h0M149.1 384h0M153.2 387.3h0M147.2 376.3h0M165.5 387h0M164.2 375.8h0M154.5 375.1h0M186.2 381.5h0M173.3 385.5h0M159.8 364.2h0M187.4 374.6h0M188.9 377.4h0M158.6 395.7h0M180.4 388.2h0M150.5 367.7h0M156.1 386.7h0M163.5 361.1h0M183.9 372.7h0M159.7 384.4h0M152 367.7h0M181.2 366.3h0M152.2 389.7h0M164.6 392.7h0M168.6 391.9h0M153.4 378.6h0M163 376.8h0M157.9 375.2h0M176.9 369.7h0M172.2 382.1h0M154 387.7h0M160.4 394.6h0M171.4 375.3h0M154.7 389.7h0M156.4 373.9h0M156.1 396.3h0M150 382.8h0M158 396.7h0M174.6 395.7h0M165 368.1h0M186.6 387.3h0M163.7 359.9h0M182.5 381.9h0M157.6 381.6h0M147.7 374.7h0M148.9 375h0M170.6 383.1h0M155.4 390.2h0M174.6 392h0M183.1 387.6h0M164 397h0M178.3 371.5h0M162.7 374.1h0M157.2 382.7h0M147.3 381.6h0M169.9 373.8h0M158.4 368h0M165.9 375h0" stroke="#555" stroke-width="0.75" stroke-linecap="round" fill="none"/>
<path d="M172 373.3h0M161.4 388h0M158.7 392.2h0M188.2 378.8h0M159.4 388.3h0M159.1 361h0M166.5 387.9h0M187.2 373h0M152.3 373.9h0M176.9 360.6h0M177.9 391.4h0M156 363.3h0M156 377h0M169.3 367h0M161.7 362.4h0M178.6 371.6h0M150.1 378.9h0M169.8 375h0M173.1 363.4h0M167.6 382.1h0M154.6 368.6h0M182.8 392.4h0M165.2 379.5h0M185.2 379.1h0M149.4 382.1h0M157.7 366.2h0M181.8 388.5h0M171.8 396.9h0M167 382.7h0M172.9 361.3h0M169.6 376.3h0M152.4 386.7h0M156 394.6h0M173.4 392.9h0M157.6 364.6h0M167.8 376.8h0M164.4 371.9h0M183.2 380.7h0M153.2 368.3h0M179.4 389h0M182.3 363.8h0M161 385.4h0M152.6 388.7h0M147.2 383.3h0M182 368h0M175.2 388.7h0" stroke="#303030" stroke-width="1.15" stroke-linecap="round" fill="none"/>
<path d="M168 386.3h0M165.4 365.3h0M179.5 392.4h0M171.6 381.2h0M183.7 371.7h0M176.4 362.3h0M181.4 384.6h0M155.8 366h0M180.7 371.7h0M179.8 375.1h0M185.8 377.3h0M153.8 379.6h0M170.9 364.7h0M170.1 389.2h0" stroke="#1c1c1c" stroke-width="1.8" stroke-linecap="round" fill="none"/>
</g>
<g filter="url(#b4)">
<circle cx="64.4" cy="429.2" r="22.9" fill="#ececec" stroke="#a4a4a4" stroke-width=".65"/>
<circle cx="64.4" cy="429.2" r="21.3" fill="none" stroke="#cfcfcf" stroke-width=".6"/>
<path d="M65.6 440.7h0M48.9 439.2h0M71 415.9h0M75.8 446.9h0M64.2 425.7h0M80.4 427.9h0M49.8 439.6h0M64.4 423.7h0M52.6 426.3h0M80.2 442.3h0M69.8 416h0M74.5 419.4h0M76.1 427.7h0M57.2 419.6h0M53.3 435.1h0M61.5 409.6h0M51.7 439.7h0M60.6 436.6h0M61.8 428.8h0M78.1 435.3h0M71.8 431.1h0M84.2 425h0M53.2 445.9h0M50.5 432.6h0M64.3 410.8h0M48.9 429.8h0M79.6 422.7h0M44.3 421.4h0M70.7 426.2h0M64.1 439.9h0M49.3 418.8h0M43.6 426.1h0M54.3 425.6h0M81.3 437.2h0M55.8 435.2h0M51.6 443.2h0M51.5 418.6h0M55.6 414.1h0M56.7 426.8h0M69 449.5h0M51 442h0M56.7 412.9h0M72.9 423.7h0M78.7 428.6h0M64.9 441.9h0M65.6 444.3h0M47.6 440.1h0M46.3 431.7h0M50.3 444.9h0M56.3 437.8h0M50.8 437.6h0M72.8 410.7h0M84 435.9h0M56.9 427h0M66.9 442.2h0M75.2 442.2h0M70.3 411h0M46.3 434.7h0M61.1 419.9h0M55.5 438.9h0M65.3 418h0M74.4 419h0M69.1 436.3h0M80.3 432.3h0M74.6 411h0M76.1 437h0M62 440h0M82.5 419.3h0M68.5 422.2h0M76.4 430.8h0M68.2 444.6h0M69.6 439h0M47.5 438.5h0M62.2 436.7h0M57.9 426.6h0M62.6 418h0M46.5 418.6h0M55.5 424.3h0M52.8 426.1h0M75.9 444.5h0M53.1 417.8h0M67.2 409h0M71.1 426h0M48.5 424h0M50.2 430.9h0M78.8 417.9h0M53.6 440.5h0M61.5 428.4h0M83.2 432.2h0M75.4 414.4h0M48.2 427.1h0M82.7 424h0M60.1 426.3h0M80.2 420.9h0M52.7 445h0M74.5 420h0M53.8 424.4h0M64 440.8h0M60.8 417.9h0M77.8 441.4h0M48.5 424h0M71.8 413.3h0M48 437.4h0M83.5 423.8h0M70.5 431.5h0M61.4 412.6h0M84.3 423.4h0M67.2 408.8h0M48.3 442.3h0M81 419.8h0M71.5 441.6h0M63.6 440.5h0M45.8 420.4h0M72.8 413.4h0M60.4 450.1h0M50.2 444.7h0M55.4 410.6h0M62.9 447.3h0M60.6 437.9h0M57.6 436.6h0M83.8 432.9h0M50.2 416h0M72.8 415.7h0M83.9 420.3h0M43.8 423.4h0M71.3 441.4h0M54.5 426.4h0M86 429.7h0M75.5 436.9h0M72.7 416h0M76.3 425.5h0M53.1 447.4h0M57 413.4h0M60.6 411.8h0M74.8 436.8h0M61.2 445h0M54.2 435.1h0M44 422.7h0M69.8 416.6h0M55.1 441.8h0M72.3 434.2h0M47.2 420.7h0M57.4 431.4h0M69.1 412.7h0M47.3 423.8h0M56.7 437.3h0M80.3 443.9h0M74.7 432.6h0M58.5 416.6h0M56.4 446.6h0M70.7 429.4h0M73.3 422.3h0M69.7 424.8h0M79.4 436.5h0M60.6 425.8h0M66.6 424.4h0M63.5 429.7h0M57 413.9h0M54.4 419h0M49.9 426.5h0M47.9 431h0M52.1 420.3h0M42.7 430h0M44.2 422.1h0M54.1 435.2h0M63.9 443.4h0M76.5 438.2h0M70.3 445.8h0M55.6 411.9h0M53.4 420.7h0M81.8 420.3h0M63.3 447.4h0M65.1 421.4h0M59.5 411.3h0M78.9 416.8h0M78.5 417.6h0M49.7 440.6h0M43.4 425.1h0M82.5 421.1h0M77.3 416.1h0M48.1 420h0M77.2 435h0M58.3 448.4h0M73.6 440.9h0M78.6 419.5h0M50 442.2h0M55.2 441.6h0M85.6 428.4h0M53.4 411.7h0M82.4 419.1h0M52.1 444.2h0M63.7 447.2h0M85.7 428.9h0M63.9 409.6h0M46.6 426.9h0M60.1 435.6h0M65.1 442.1h0M66.5 418.8h0M71.5 448.9h0M69.7 415h0M55.6 423.7h0M64.3 426.9h0M48.4 421.6h0M78 437.2h0M47.3 436.6h0M57.6 411.4h0M83.3 434h0M68.1 408.5h0M81.3 439.8h0M51.2 442.2h0M57.2 420.4h0M69.1 440.1h0M66.3 409.9h0M58.6 413.2h0M50.9 423.2h0M67.9 418.1h0M56.7 411.1h0M60.1 414.4h0M64.1 411.7h0M77.3 432.9h0M49.3 441h0M68.4 426.2h0M65 417.8h0M64.5 446.8h0M81.8 425.5h0M77.3 420.5h0M54.3 415.3h0M70.7 423.6h0M67.6 443.6h0M69.2 415.1h0M51.9 440.3h0M60.8 419.9h0M46.2 434.8h0M46.7 441.5h0M43.7 434.7h0M72.3 440.4h0M76.1 438.4h0M52.4 420.3h0M67 416.7h0M76.5 435.8h0M67.9 419.8h0M71.3 425.1h0M58.3 417.6h0M62.2 416.9h0M50.5 423.4h0M62.4 436.3h0M61.8 420.7h0M56.8 415.4h0M67.6 442.9h0M63.7 427.3h0M57 440.4h0M71.4 421.1h0M53.3 432.1h0M56.7 427.6h0M82.1 416.9h0M80.6 442.3h0M59.4 411.9h0M43.4 427.2h0M67.5 415h0M56.6 436h0M66.5 443.8h0M68.9 440.3h0M45.6 421.7h0M75.2 445.5h0M75.7 411.3h0M56.6 419.5h0M63.2 425.6h0M68.4 413.7h0M53.5 445.8h0M82.1 440.1h0M78.2 435.9h0M67.3 446.3h0M53.8 427.3h0M67.2 428.2h0M53.5 432.7h0M49.1 442.7h0M52.2 441.9h0M81.1 433.8h0M83.3 436h0M48 420.4h0M46.9 427.5h0M74.1 437.1h0M69.8 449.9h0M49.2 434.7h0M66.4 418.2h0M45.2 434.7h0M60.6 444.8h0M78.9 434.5h0M49.1 418.4h0M53.2 429.5h0" stroke="#555" stroke-width="0.75" stroke-linecap="round" fill="none"/>
<path d="M76.3 429.5h0M70.2 432.5h0M77.5 432.2h0M84.5 424.4h0M53.2 420.6h0M64.4 422.8h0M56.3 412h0M56.8 428.8h0M67.9 431.8h0M72.8 442.9h0M62.1 408.4h0M76 417.2h0M65.4 434.5h0M78.9 421.3h0M73.4 424.1h0M51.7 442.2h0M61.2 411.2h0M73.5 433.8h0M84.6 432.3h0M68 421.4h0M54.3 423.6h0M55.3 434.6h0M62.8 421.3h0M60.1 419.6h0M51.5 427h0M46.3 431.1h0M85.6 430.3h0M69 445.7h0M72.3 428.9h0M81.3 416.7h0M61.3 449.9h0M81.5 416.7h0M70.7 443.2h0M50.4 424h0M81.9 417.2h0M58.1 424.6h0M44.8 433.8h0M51.1 443.1h0M44.8 430.5h0M62.1 430.6h0M71.2 437.1h0M83.6 425h0M48.9 437.4h0M75.4 444.2h0M57.9 423.2h0M59.4 431.6h0M53.1 444.9h0M45.8 428.6h0M67.7 424h0M53.2 417.1h0M70.5 429.6h0M61.6 444.5h0M68.9 435.1h0M47.7 434.7h0M71.2 414.4h0M77.2 444.8h0M49.6 430.7h0M56.5 444.6h0M68.7 426.6h0M66 413.4h0M80.8 424.4h0M76 443.5h0M54.8 423.9h0M54.7 446.5h0M71.2 434.9h0M52.2 438h0M51.6 417.6h0M62.9 424.1h0M52.1 413h0M51 414.1h0M76 412.6h0M52 434h0M77.8 443.6h0M64.1 419.6h0M55.3 434.9h0M70.4 436.4h0M50.7 442.3h0M68.6 428.9h0M78.3 415h0M61.4 409h0M61 413.4h0M71.4 444.2h0M45.4 436.4h0M49.1 441.6h0M65.2 445.4h0M81.7 419.7h0M73.4 421.6h0M75.2 412.2h0M70.4 445.1h0M78.9 424.1h0M64.7 433.6h0M66.3 409.7h0M73.7 427.6h0M63.2 436.7h0M63.5 449.2h0" stroke="#303030" stroke-width="1.15" stroke-linecap="round" fill="none"/>
<path d="M54.5 411.3h0M62 426.6h0M83 436.6h0M69.9 446.4h0M52.9 445.2h0M69.6 431.2h0M64.1 411.8h0M62.4 439.8h0" stroke="#1c1c1c" stroke-width="1.8" stroke-linecap="round" fill="none"/>
</g>
<g filter="url(#b4)">
<circle cx="117" cy="429.2" r="22.9" fill="#e4e4e4" stroke="#a4a4a4" stroke-width=".65"/>
<circle cx="117" cy="429.2" r="21.3" fill="none" stroke="#cfcfcf" stroke-width=".6"/>
<path d="M105 414h0M125 414.3h0M125 448.4h0M123.3 428.1h0M104.9 427.3h0M117.7 425.2h0M124.8 409.4h0M135.2 423.8h0M110.1 408.7h0M109.4 423.9h0M121.8 411.6h0M119.3 430.3h0M120.6 413h0M129.5 421.6h0M102.9 445.3h0M134.9 421.9h0M116.5 441.8h0M100.7 437.9h0M128.7 443.4h0M118 420.2h0M123.3 412.5h0M127.5 429.5h0M116.2 442.1h0M98.9 436.1h0M107.7 413.8h0M106.7 414.6h0M129.8 414.3h0M126.3 414.1h0M125.8 443.4h0M103.1 440.4h0M122.5 418.9h0M122.7 419.5h0M120.1 438.2h0M118.6 434.5h0M130.8 413.6h0M127.9 415.6h0M113 416.5h0M126.3 442h0M123.1 425.1h0M112.8 428.5h0M105.8 429.1h0M124.2 411.4h0M120 421.7h0M131.8 422.1h0M111.1 447.5h0M125.1 416.5h0M100 427.6h0M130.9 444.2h0M124.5 434.4h0M123.4 408.7h0" stroke="#777" stroke-width="0.75" stroke-linecap="round" fill="none"/>
<path d="M119.2 443.4h0M100.2 440.5h0M135.4 428.9h0M123.8 416h0M103.2 431.1h0M118.7 417.5h0M112.9 441.2h0M118.1 422.1h0M125.2 445.2h0M120.2 414.4h0M124.9 443.6h0M122 429.8h0" stroke="#303030" stroke-width="1.15" stroke-linecap="round" fill="none"/>
</g>
<g filter="url(#b4)">
<circle cx="167.6" cy="429.2" r="22.9" fill="#ededed" stroke="#a4a4a4" stroke-width=".65"/>
<circle cx="167.6" cy="429.2" r="21.3" fill="none" stroke="#cfcfcf" stroke-width=".6"/>
<path d="M164.2 418.8h0M184 421.5h0M175.7 437.1h0M148.4 419.4h0M168.3 450.5h0M165.1 448.1h0M165.9 437h0M170.1 445.4h0M161.2 433.8h0M175 441.7h0M162.5 423.5h0M149.7 427.7h0M158.2 427.2h0M157.1 439.5h0M174.8 408.9h0M166.6 436.8h0M159.2 435.6h0M178.8 415.9h0M159.7 432.5h0M166.7 448.5h0M164 409h0M182.7 425h0M156.7 444.3h0M173.6 419h0M150.1 439.8h0M178.2 447.5h0M159.8 433.7h0M180.7 432.2h0M179.6 433.4h0M159 416.8h0M146.5 430h0M178.5 412.6h0M168.3 416.7h0M178.7 440.7h0M163.6 413.5h0M158.5 448.1h0M172.5 416.1h0M179.2 444.8h0M149.5 435h0M168.1 428.9h0M152.2 425h0M151.5 443h0M168.9 424.5h0M176.8 444.3h0M167.8 446.6h0M173.2 450.1h0M175.9 425.2h0M173.7 436.9h0M159 434.1h0M168.3 439.8h0M173 439h0M159.6 413.8h0M171.3 426.1h0M153.7 439h0M181 433.9h0M169.8 437.5h0M173.8 448.2h0M152.1 429.5h0M149.9 435.2h0M153.9 444.3h0M181.7 417.8h0M175.9 416.8h0M175.8 422.1h0M177.3 425.1h0M181.9 425.3h0M162.2 409.8h0M183.1 421.1h0M183 425h0M166 439.7h0M176.8 428.9h0M146.7 431.6h0M183.3 417.4h0M154.6 428.1h0M182.1 414.1h0M175.9 424.4h0M173.4 413.9h0M162.4 415.7h0M172.9 415.8h0M153.9 444.3h0M178.3 414.9h0M167.2 439.8h0M187 430h0M161.6 425.3h0M184.4 438.3h0M152.6 436.2h0M168.8 440.4h0M163.2 410.1h0M164.6 445h0M183 420.4h0M174.5 434.2h0" stroke="#777" stroke-width="0.75" stroke-linecap="round" fill="none"/>
<path d="M165.7 420.1h0M180.1 445.4h0M165.2 442.1h0M175.2 443.5h0M159.9 421h0M162.6 445h0M186.8 423.8h0M171.4 412.4h0M162.3 421.7h0M160.3 413.2h0M151.3 441.6h0M160.8 412.9h0M187.4 423.7h0M170.3 439.6h0M174.5 426.7h0M178 424h0M154.9 446.2h0M183.4 435.8h0M175.4 419.6h0M153.3 430.3h0" stroke="#303030" stroke-width="1.15" stroke-linecap="round" fill="none"/>
</g>
<text x="64" y="251.9" font-size="5.3" text-anchor="middle">si-NC</text>
<text x="116.6" y="251.9" font-size="5.3" text-anchor="middle">si-LINC00969 1#</text>
<text x="167.4" y="251.9" font-size="5.3" text-anchor="middle">si-LINC00969 2#</text>
<text x="35.8" y="282.7" font-size="6.4" text-anchor="end">PC9</text>
<text x="36.6" y="332.2" font-size="6.6" text-anchor="end">HCC827</text>
<text x="35.2" y="382.3" font-size="6.3" text-anchor="end">A549</text>
<text x="35.4" y="431.6" font-size="6.0" text-anchor="end">SPCA1</text>
<g stroke="#1c1c1c" fill="none">
<line x1="233.6" y1="261.6" x2="233.6" y2="299.6" stroke-width="0.9"/>
<line x1="233.2" y1="299.2" x2="308.4" y2="299.2" stroke-width="0.9"/>
<line x1="231.1" y1="299.2" x2="233.6" y2="299.2" stroke-width="0.9"/>
<line x1="231.1" y1="289.9" x2="233.6" y2="289.9" stroke-width="0.9"/>
<line x1="231.1" y1="280.6" x2="233.6" y2="280.6" stroke-width="0.9"/>
<line x1="231.1" y1="271.3" x2="233.6" y2="271.3" stroke-width="0.9"/>
<line x1="231.1" y1="262" x2="233.6" y2="262" stroke-width="0.9"/>
<line x1="248.8" y1="299.2" x2="248.8" y2="301.2" stroke-width="0.9"/>
<line x1="271" y1="299.2" x2="271" y2="301.2" stroke-width="0.9"/>
<line x1="293.2" y1="299.2" x2="293.2" y2="301.2" stroke-width="0.9"/>
</g>
<text x="230.5" y="300.9" font-size="4.85" text-anchor="end">0</text>
<text x="230.5" y="291.6" font-size="4.85" text-anchor="end">100</text>
<text x="230.5" y="282.3" font-size="4.85" text-anchor="end">200</text>
<text x="230.5" y="273" font-size="4.85" text-anchor="end">300</text>
<text x="230.5" y="263.7" font-size="4.85" text-anchor="end">400</text>
<g stroke="#111" stroke-width="0.9">
<line x1="248.8" y1="274.1" x2="248.8" y2="273" stroke-width="1.26" stroke="#6a6a6a"/>
<line x1="245.1" y1="273" x2="252.5" y2="273" stroke-width="0.9"/>
</g>
<rect x="242.4" y="274.1" width="12.7" height="25.1" fill="#fff" stroke="#111" stroke-width="0.9"/>
<g stroke="#111" stroke-width="0.9">
<line x1="271" y1="288.8" x2="271" y2="286.9" stroke-width="1.26" stroke="#6a6a6a"/>
<line x1="267.3" y1="286.9" x2="274.7" y2="286.9" stroke-width="0.9"/>
</g>
<rect x="264.6" y="288.8" width="12.7" height="10.4" fill="#000" stroke="#111" stroke-width="0.9"/>
<text x="271" y="286.3" font-size="3.9" text-anchor="middle">**</text>
<g stroke="#111" stroke-width="0.9">
<line x1="293.2" y1="286.9" x2="293.2" y2="285.1" stroke-width="1.26" stroke="#6a6a6a"/>
<line x1="289.5" y1="285.1" x2="296.9" y2="285.1" stroke-width="0.9"/>
</g>
<rect x="286.8" y="286.9" width="12.7" height="12.3" fill="#000" stroke="#111" stroke-width="0.9"/>
<text x="293.2" y="284.5" font-size="3.9" text-anchor="middle">**</text>
<circle cx="247" cy="274.8" r=".8" fill="#000"/>
<circle cx="249" cy="273.3" r=".8" fill="#000"/>
<circle cx="250.8" cy="274.1" r=".8" fill="#000"/>
<rect x="268.5" y="288.9" width="1.3" height="1.3" fill="#d8d8d8"/>
<rect x="270.5" y="287.4" width="1.3" height="1.3" fill="#d8d8d8"/>
<rect x="272.3" y="288.1" width="1.3" height="1.3" fill="#d8d8d8"/>
<polygon points="291.4,286.9 290.7,288.3 292.1,288.3" fill="#d8d8d8"/>
<polygon points="293.4,285.5 292.7,286.8 294.1,286.8" fill="#d8d8d8"/>
<polygon points="295.2,286.2 294.5,287.6 295.9,287.6" fill="#d8d8d8"/>
<text transform="translate(217.5 280.6) rotate(-90)" font-size="4.0" text-anchor="middle">Number of colonies</text>
<text x="246.8" y="304.9" font-size="2.6" text-anchor="middle">si-NC</text>
<text x="269.2" y="304.9" font-size="2.6" text-anchor="middle">si-LINC00969 1#</text>
<text x="292" y="304.9" font-size="2.6" text-anchor="middle">si-LINC00969 2#</text>
<g stroke="#1c1c1c" fill="none">
<line x1="233.6" y1="309.2" x2="233.6" y2="347.4" stroke-width="0.9"/>
<line x1="233.2" y1="347" x2="308.4" y2="347" stroke-width="0.9"/>
<line x1="231.1" y1="347" x2="233.6" y2="347" stroke-width="0.9"/>
<line x1="231.1" y1="334.5" x2="233.6" y2="334.5" stroke-width="0.9"/>
<line x1="231.1" y1="322.1" x2="233.6" y2="322.1" stroke-width="0.9"/>
<line x1="231.1" y1="309.6" x2="233.6" y2="309.6" stroke-width="0.9"/>
<line x1="248.8" y1="347" x2="248.8" y2="349" stroke-width="0.9"/>
<line x1="271" y1="347" x2="271" y2="349" stroke-width="0.9"/>
<line x1="293.2" y1="347" x2="293.2" y2="349" stroke-width="0.9"/>
</g>
<text x="230.5" y="348.7" font-size="4.85" text-anchor="end">0</text>
<text x="230.5" y="336.3" font-size="4.85" text-anchor="end">100</text>
<text x="230.5" y="323.8" font-size="4.85" text-anchor="end">200</text>
<text x="230.5" y="311.3" font-size="4.85" text-anchor="end">300</text>
<g stroke="#111" stroke-width="0.9">
<line x1="248.8" y1="315.8" x2="248.8" y2="313.8" stroke-width="1.26" stroke="#6a6a6a"/>
<line x1="245.1" y1="313.8" x2="252.5" y2="313.8" stroke-width="0.9"/>
</g>
<rect x="242.4" y="315.8" width="12.7" height="31.2" fill="#fff" stroke="#111" stroke-width="0.9"/>
<g stroke="#111" stroke-width="0.9">
<line x1="271" y1="328.3" x2="271" y2="327.1" stroke-width="1.26" stroke="#6a6a6a"/>
<line x1="267.3" y1="327.1" x2="274.7" y2="327.1" stroke-width="0.9"/>
</g>
<rect x="264.6" y="328.3" width="12.7" height="18.7" fill="#000" stroke="#111" stroke-width="0.9"/>
<text x="271" y="326.5" font-size="3.9" text-anchor="middle">**</text>
<g stroke="#111" stroke-width="0.9">
<line x1="293.2" y1="328.9" x2="293.2" y2="326.1" stroke-width="1.26" stroke="#6a6a6a"/>
<line x1="289.5" y1="326.1" x2="296.9" y2="326.1" stroke-width="0.9"/>
</g>
<rect x="286.8" y="328.9" width="12.7" height="18.1" fill="#000" stroke="#111" stroke-width="0.9"/>
<text x="293.2" y="325.5" font-size="3.9" text-anchor="middle">**</text>
<circle cx="247" cy="316.8" r=".8" fill="#000"/>
<circle cx="249" cy="314.8" r=".8" fill="#000"/>
<circle cx="250.8" cy="315.8" r=".8" fill="#000"/>
<rect x="268.5" y="328.3" width="1.3" height="1.3" fill="#d8d8d8"/>
<rect x="270.5" y="327" width="1.3" height="1.3" fill="#d8d8d8"/>
<rect x="272.3" y="327.6" width="1.3" height="1.3" fill="#d8d8d8"/>
<polygon points="291.4,329.2 290.7,330.6 292.1,330.6" fill="#d8d8d8"/>
<polygon points="293.4,327.2 292.7,328.6 294.1,328.6" fill="#d8d8d8"/>
<polygon points="295.2,328.2 294.5,329.6 295.9,329.6" fill="#d8d8d8"/>
<text transform="translate(217.5 328.3) rotate(-90)" font-size="4.0" text-anchor="middle">Number of colonies</text>
<text x="246.8" y="352.3" font-size="2.6" text-anchor="middle">si-NC</text>
<text x="269.2" y="352.3" font-size="2.6" text-anchor="middle">si-LINC00969 1#</text>
<text x="292" y="352.3" font-size="2.6" text-anchor="middle">si-LINC00969 2#</text>
<g stroke="#1c1c1c" fill="none">
<line x1="233.6" y1="358.2" x2="233.6" y2="396.1" stroke-width="0.9"/>
<line x1="233.2" y1="395.6" x2="308.4" y2="395.6" stroke-width="0.9"/>
<line x1="231.1" y1="395.6" x2="233.6" y2="395.6" stroke-width="0.9"/>
<line x1="231.1" y1="383.3" x2="233.6" y2="383.3" stroke-width="0.9"/>
<line x1="231.1" y1="370.9" x2="233.6" y2="370.9" stroke-width="0.9"/>
<line x1="231.1" y1="358.6" x2="233.6" y2="358.6" stroke-width="0.9"/>
<line x1="248.8" y1="395.6" x2="248.8" y2="397.6" stroke-width="0.9"/>
<line x1="271" y1="395.6" x2="271" y2="397.6" stroke-width="0.9"/>
<line x1="293.2" y1="395.6" x2="293.2" y2="397.6" stroke-width="0.9"/>
</g>
<text x="230.5" y="397.3" font-size="4.85" text-anchor="end">0</text>
<text x="230.5" y="385" font-size="4.85" text-anchor="end">100</text>
<text x="230.5" y="372.7" font-size="4.85" text-anchor="end">200</text>
<text x="230.5" y="360.3" font-size="4.85" text-anchor="end">300</text>
<g stroke="#111" stroke-width="0.9">
<line x1="248.8" y1="369.1" x2="248.8" y2="366.5" stroke-width="1.26" stroke="#6a6a6a"/>
<line x1="245.1" y1="366.5" x2="252.5" y2="366.5" stroke-width="0.9"/>
</g>
<rect x="242.4" y="369.1" width="12.7" height="26.5" fill="#fff" stroke="#111" stroke-width="0.9"/>
<g stroke="#111" stroke-width="0.9">
<line x1="271" y1="387.6" x2="271" y2="385.7" stroke-width="1.26" stroke="#6a6a6a"/>
<line x1="267.3" y1="385.7" x2="274.7" y2="385.7" stroke-width="0.9"/>
</g>
<rect x="264.6" y="387.6" width="12.7" height="8" fill="#000" stroke="#111" stroke-width="0.9"/>
<text x="271" y="385.1" font-size="3.9" text-anchor="middle">**</text>
<g stroke="#111" stroke-width="0.9">
<line x1="293.2" y1="389.1" x2="293.2" y2="387" stroke-width="1.26" stroke="#6a6a6a"/>
<line x1="289.5" y1="387" x2="296.9" y2="387" stroke-width="0.9"/>
</g>
<rect x="286.8" y="389.1" width="12.7" height="6.5" fill="#000" stroke="#111" stroke-width="0.9"/>
<text x="293.2" y="386.4" font-size="3.9" text-anchor="middle">**</text>
<circle cx="247" cy="370.1" r=".8" fill="#000"/>
<circle cx="249" cy="368.1" r=".8" fill="#000"/>
<circle cx="250.8" cy="369.1" r=".8" fill="#000"/>
<rect x="268.5" y="387.7" width="1.3" height="1.3" fill="#d8d8d8"/>
<rect x="270.5" y="386.2" width="1.3" height="1.3" fill="#d8d8d8"/>
<rect x="272.3" y="386.9" width="1.3" height="1.3" fill="#d8d8d8"/>
<polygon points="291.4,389.1 290.7,390.5 292.1,390.5" fill="#d8d8d8"/>
<polygon points="293.4,387.6 292.7,389 294.1,389" fill="#d8d8d8"/>
<polygon points="295.2,388.3 294.5,389.7 295.9,389.7" fill="#d8d8d8"/>
<text transform="translate(217.5 377.1) rotate(-90)" font-size="4.0" text-anchor="middle">Number of colonies</text>
<text x="246.8" y="400.9" font-size="2.6" text-anchor="middle">si-NC</text>
<text x="269.2" y="400.9" font-size="2.6" text-anchor="middle">si-LINC00969 1#</text>
<text x="292" y="400.9" font-size="2.6" text-anchor="middle">si-LINC00969 2#</text>
<g stroke="#1c1c1c" fill="none">
<line x1="233.6" y1="406.8" x2="233.6" y2="444.8" stroke-width="0.9"/>
<line x1="233.2" y1="444.4" x2="308.4" y2="444.4" stroke-width="0.9"/>
<line x1="231.1" y1="444.4" x2="233.6" y2="444.4" stroke-width="0.9"/>
<line x1="231.1" y1="432" x2="233.6" y2="432" stroke-width="0.9"/>
<line x1="231.1" y1="419.6" x2="233.6" y2="419.6" stroke-width="0.9"/>
<line x1="231.1" y1="407.2" x2="233.6" y2="407.2" stroke-width="0.9"/>
<line x1="248.8" y1="444.4" x2="248.8" y2="446.4" stroke-width="0.9"/>
<line x1="271" y1="444.4" x2="271" y2="446.4" stroke-width="0.9"/>
<line x1="293.2" y1="444.4" x2="293.2" y2="446.4" stroke-width="0.9"/>
</g>
<text x="230.5" y="446.1" font-size="4.85" text-anchor="end">0</text>
<text x="230.5" y="433.7" font-size="4.85" text-anchor="end">100</text>
<text x="230.5" y="421.3" font-size="4.85" text-anchor="end">200</text>
<text x="230.5" y="408.9" font-size="4.85" text-anchor="end">300</text>
<g stroke="#111" stroke-width="0.9">
<line x1="248.8" y1="418.1" x2="248.8" y2="417.1" stroke-width="1.26" stroke="#6a6a6a"/>
<line x1="245.1" y1="417.1" x2="252.5" y2="417.1" stroke-width="0.9"/>
</g>
<rect x="242.4" y="418.1" width="12.7" height="26.3" fill="#fff" stroke="#111" stroke-width="0.9"/>
<g stroke="#111" stroke-width="0.9">
<line x1="271" y1="436" x2="271" y2="434.2" stroke-width="1.26" stroke="#6a6a6a"/>
<line x1="267.3" y1="434.2" x2="274.7" y2="434.2" stroke-width="0.9"/>
</g>
<rect x="264.6" y="436" width="12.7" height="8.4" fill="#000" stroke="#111" stroke-width="0.9"/>
<text x="271" y="433.6" font-size="3.9" text-anchor="middle">**</text>
<g stroke="#111" stroke-width="0.9">
<line x1="293.2" y1="435" x2="293.2" y2="433.5" stroke-width="1.26" stroke="#6a6a6a"/>
<line x1="289.5" y1="433.5" x2="296.9" y2="433.5" stroke-width="0.9"/>
</g>
<rect x="286.8" y="435" width="12.7" height="9.4" fill="#000" stroke="#111" stroke-width="0.9"/>
<text x="293.2" y="432.9" font-size="3.9" text-anchor="middle">**</text>
<circle cx="247" cy="418.6" r=".8" fill="#000"/>
<circle cx="249" cy="417.6" r=".8" fill="#000"/>
<circle cx="250.8" cy="418.1" r=".8" fill="#000"/>
<rect x="268.5" y="435.9" width="1.3" height="1.3" fill="#d8d8d8"/>
<rect x="270.5" y="434.7" width="1.3" height="1.3" fill="#d8d8d8"/>
<rect x="272.3" y="435.3" width="1.3" height="1.3" fill="#d8d8d8"/>
<polygon points="291.4,434.9 290.7,436.3 292.1,436.3" fill="#d8d8d8"/>
<polygon points="293.4,433.6 292.7,435 294.1,435" fill="#d8d8d8"/>
<polygon points="295.2,434.3 294.5,435.6 295.9,435.6" fill="#d8d8d8"/>
<text transform="translate(217.5 425.8) rotate(-90)" font-size="4.0" text-anchor="middle">Number of colonies</text>
<text x="246.8" y="449.9" font-size="2.6" text-anchor="middle">si-NC</text>
<text x="269.2" y="449.9" font-size="2.6" text-anchor="middle">si-LINC00969 1#</text>
<text x="292" y="449.9" font-size="2.6" text-anchor="middle">si-LINC00969 2#</text>
<svg x="360.6" y="257.6" width="65.8" height="45.9" viewBox="0 0 65.8 45.9">
<rect width="65.8" height="45.9" fill="#130030"/>
<g filter="url(#b4)">
<path d="M24.5 15.6h0M3.1 20.9h0M62.6 44.6h0M61.3 4.5h0M29.1 38.3h0M10.1 3h0M13.5 3.9h0M48.7 32.7h0M65 2.3h0M46.2 36.4h0M11.7 3.6h0M64.5 36.3h0M4.5 8.6h0M43.3 7.8h0M28.7 6.9h0M6 22.2h0M35.7 38.9h0M.3 16.3h0M4.7 25.4h0M10.9 15.2h0M63.8 29.8h0M44 27.8h0M13.3 31.4h0M63.8 4.1h0M55.2 15.8h0M13.2 30.1h0M56 7.7h0M13 23h0M13.5 23.3h0M65.1 1.2h0M28.1 9.3h0M11 27h0M62.3 21.6h0M36.7 32.1h0M56.5 44.4h0M21.9 8.1h0M60.3 27.8h0M58.1 6.7h0M51.9 5.4h0M8.7 5.6h0M23.8 19.1h0M43.3 43h0M28.3 26.6h0M27 17.6h0M17.4 .2h0M16.8 33.2h0M52.6 31.5h0M29 18.9h0M12.4 11.1h0M65.7 27h0M26.6 24.6h0M32.4 13.5h0M27.5 19.8h0M59.1 40.9h0M19 20.9h0M14.6 43.7h0M9 22.1h0M.8 21.2h0M30.3 .7h0M10 22.9h0M31.2 13.9h0M3.6 14.9h0M22.9 4.8h0M39.4 10.1h0M35 32.6h0M.9 22.8h0M41.9 41h0M45.4 38.4h0M43.6 10.3h0M53.5 34.7h0M32 42.5h0M3.2 41.7h0M23.5 24.9h0M52.4 7.7h0M32.6 .7h0M2.4 43.9h0M14.4 19.6h0M7.9 42.8h0M33.3 39.3h0M17.9 21.3h0M16.3 27.1h0M46.5 26.3h0M38.5 14.2h0M62.7 .9h0M11 30.6h0M64 38.9h0M16.2 43.3h0M30 26.2h0M42.6 28.3h0M57.9 41.3h0M20.8 40.9h0M20.8 31.4h0M10.4 29.3h0M19.8 45.6h0M43.8 17.8h0M63.3 5.3h0M49.1 29.8h0M1.1 21.1h0M7.7 45.9h0M6.6 29.2h0M35.7 5.7h0M61.5 26.3h0M40.7 12.1h0M10.1 15h0M2.3 9.2h0M32.6 17.9h0M50 6.5h0M13.6 24h0M45.2 14.4h0M13.6 5.7h0M23.9 17.4h0M52.4 11h0M22.4 34.2h0M13.6 1.8h0M64 42h0M20.8 13h0M30.3 9.7h0M51.8 40.6h0M46.9 18.3h0M55.3 43h0M12.1 30.7h0M11.4 45.3h0M52.4 18.8h0M48.8 13.5h0M4.2 23.6h0M5 21h0M56.1 26.5h0M17.5 9.7h0M36.7 23.4h0M59.5 7.9h0M30.7 20.6h0M24.8 8.5h0M25.2 24.9h0M12.8 14.7h0M34.7 43.1h0M31.8 15.9h0M2.3 23.8h0M22.6 5.3h0M31.2 28.3h0M23.1 33.7h0M41.6 2.9h0M3.2 24.1h0M39.8 25.6h0M15.1 15.8h0M47.2 18.2h0M34.8 10.5h0M41.4 22h0M.2 34.6h0M52.8 45.3h0M62 32.2h0M30.7 12.2h0M46.3 19.2h0M21.2 5.4h0M39.8 32.6h0M50.6 7h0M13.5 29.2h0M8.5 40.7h0M61 29h0M17.2 25.8h0M50.4 15.8h0M42.7 27.6h0M59.8 35.6h0M44 25h0M58.6 27.7h0M45.3 14.3h0M7.1 25.6h0M14.6 44.5h0M14.6 41.1h0M21.9 8.8h0M38 14.8h0M65.4 28.3h0M6.6 14.2h0M7.4 22.7h0M34.7 14.5h0M44.3 20.4h0M53.9 31.2h0M17 38.1h0M1.9 10.8h0M1.9 43.7h0M35.2 38.6h0M65.1 4.2h0M59.2 1h0M46.1 36.4h0M25.3 40.9h0M50.4 22.8h0M18.5 7.3h0M5 24.9h0M34.5 8.6h0M34.9 3.6h0M19.9 30.7h0M10 24h0M8.8 40.5h0M13.9 42.8h0M60.4 44.3h0M18.6 31.3h0M4.6 44.6h0M45.5 1.7h0M9.1 4.8h0M22.9 43h0M51.9 15h0M53.3 .5h0M35.9 17.9h0M5 42.2h0M43.3 45.7h0M42.1 28.5h0M8.4 21.9h0M59 25.6h0M42 21.1h0M23.6 .5h0M14.4 8.5h0M6 2.5h0M49.7 45.7h0M45.9 38.1h0M13.8 39h0M25.1 39.2h0M15.6 13.7h0M34.7 10.3h0M17 33.4h0M51.9 45.1h0M43.1 16.1h0M30.9 26.9h0M39 42.1h0M37.3 44.1h0M31.4 20.5h0M1.9 14.9h0M31.8 .5h0M28.9 5.3h0M17.6 40.6h0M60.2 5.3h0M38.7 22.3h0M3.5 13.7h0M35.2 19.5h0M37.5 3h0M40.3 28.1h0M12.5 26h0M61.5 40.9h0M40.6 23.9h0M49.3 20.8h0M46.5 17.1h0M36.5 33.7h0M38.5 27.7h0M25.3 16.1h0M43.1 20.5h0M29 17.4h0M19.1 28.7h0M57.8 8.9h0M42.7 24.4h0M41.9 30.4h0M26.3 .5h0M23.9 23.9h0M41.4 42.5h0M43.3 30h0M23.1 36.5h0M8.5 40.6h0M32.2 20.8h0M45.5 24.9h0M65.5 5.5h0M4.2 27.3h0M14.9 10.4h0M65.7 24.3h0" stroke="#03000a" stroke-width="1.3" stroke-linecap="round" fill="none"/>
<path d="M19.3 16.7h0M14.8 11.6h0M8.9 44.8h0M48.4 16.5h0M7.2 44.8h0M58.6 4.4h0M57.2 25.3h0M64.8 20.2h0M28.7 .4h0M37.9 11h0M58 10.3h0M58.1 15.3h0M53.1 32.8h0M61.4 26.4h0M23.7 12.1h0M15.5 4.7h0M19.7 14.6h0M54.1 .3h0M33 23.3h0M10.4 31.8h0M13.6 34.1h0M11.2 40.3h0M20.5 4.3h0M9.9 9.4h0M8.7 14.4h0M63.9 17.2h0M25.9 34.6h0M4.9 4h0M57.2 15h0M11.5 8.4h0M48.9 44.9h0M26.2 32.7h0M30.4 9.4h0M20.7 15.6h0M16.5 36.4h0M6 17.7h0M48.3 1.5h0M63.4 28.2h0M42.9 8.8h0M13.4 38.7h0M64.2 .7h0M53.8 9.2h0M5.1 27.4h0M6.3 38.6h0M55.5 13.1h0M9.5 23.5h0M49.3 1.7h0M46.4 5.7h0M24.9 7.6h0M5.3 24.5h0M19.7 41.8h0M59.5 33.3h0M33.7 29.7h0M21.9 21.5h0M36 19.3h0M29.3 39.1h0M65.1 33.8h0M56.5 14h0M4.9 10.2h0M32.9 35.1h0M48.3 42h0M51.3 13.7h0M3.6 22.1h0M21.7 39.9h0M59.6 24.7h0M50.9 33.4h0M34.2 20.3h0M62.7 36.6h0M37.6 45.3h0M9.8 35.3h0M36.2 14.8h0M8.4 26.7h0M57.2 8.1h0M59.1 45.3h0M12.8 25.4h0M31.9 15.4h0M7.9 12.3h0M62 38.6h0M62.6 22.9h0M32.8 2.8h0M28.1 26.7h0M65.4 3h0M43.2 2.1h0M64 9.3h0M45.7 29.1h0M13.5 21.2h0M27.8 8.2h0M26.1 2.9h0M46.6 44.6h0M35.7 18.3h0M33.8 6.6h0M48.6 31.7h0M6.8 17.3h0M8.1 32.2h0M1 40h0M4.3 38.3h0M12.6 24.3h0M46.8 43.1h0M57.6 7h0M47.1 19.7h0M11 21.2h0M61.7 .9h0M46 24.9h0M58.1 21.8h0M16.4 39.1h0M7.1 31.6h0M19.3 2.5h0M11 39h0M10.3 42.2h0M9.7 42.6h0M3.5 30.3h0M35.1 27.4h0M60.9 10.4h0M65.4 26.2h0M53.2 11.5h0M65.6 33.1h0M31 10h0M57.8 25.7h0M65.1 40.6h0M49.3 33.1h0M11 38.1h0M47 4.5h0M4.6 4.7h0M14.4 35.1h0M50.5 31.9h0M24.3 43.1h0M10 10.4h0M29 12h0M48.4 38.3h0M48.9 14.8h0M38.2 14.5h0M36.1 24.4h0M10 38.8h0M53.5 35.7h0M6 10.7h0M49.3 37.1h0M40.6 42.8h0M28 10.4h0M31.2 13.8h0M25.1 35.9h0M21.3 32.7h0M39 1h0M33.6 39.8h0M42.6 39.1h0M42.1 45.7h0M2.6 19.5h0M13 34.7h0M19.4 30.5h0M43.1 .8h0M40.4 15.1h0M16.6 29.6h0M41.6 9.8h0M46.8 3.4h0M3.6 40.7h0M61.1 43.5h0M65.5 34h0M37.4 24.3h0M35.2 43.3h0M63.6 20h0M13.3 24.7h0M27.8 37.1h0M60.7 28.5h0M5.4 24.5h0M8.5 24.6h0M53.9 30.9h0M30.8 7.3h0M61.3 40h0M32.1 2.4h0M44.5 18.4h0M26.1 17.4h0M18.1 6.4h0M42.8 23.8h0M28.4 34.4h0M33.1 7.4h0M17.6 25.6h0M43.8 29.1h0M49.1 16.4h0M50.5 26.8h0M16.7 5.8h0M41.2 38.9h0M62.6 37.5h0M54.1 27.1h0M16.2 13.6h0M56.7 12.5h0M31.9 25.2h0M1.2 5.1h0M13.2 36.5h0M51.7 4h0M10.7 45.3h0M10.9 36.7h0M38.6 40h0M48.5 4.5h0M50.6 32.8h0M2.7 43.2h0M19.2 21.3h0M34.5 25.5h0M37.5 3h0M56.2 24h0M6.5 23.1h0M12.5 19.8h0M47.3 34.6h0M10.6 13.2h0M63.7 28.8h0M12.2 28h0M16.3 3.4h0M43.3 5.1h0M9.2 31.1h0M63.6 3.2h0M49.3 6.6h0M3.9 .8h0M1.3 33.5h0M59.7 .6h0M9.9 2.2h0M26.8 14.8h0M12.6 37.4h0M6.9 29h0M9.4 30h0M8.5 9h0M65.1 12.2h0M29.7 30.3h0M65.7 25.2h0M7.7 30.7h0M45 26.8h0M25.3 37.6h0M4.2 25.1h0M35.8 42.1h0M51.3 11h0M25.2 27.4h0M25 2.9h0M65.3 20.9h0M9.2 7h0M1 41.8h0M9.2 25.9h0M62.2 35.3h0M38.9 13.1h0M44.3 37h0M13.6 10.5h0M27.1 27.5h0M58.5 27.1h0M17.6 33.3h0M9.9 4.9h0M.6 26.5h0M38.1 21.3h0M36.4 8.6h0M13.8 26.8h0M26.6 22.9h0M60.2 21.5h0M49 2.8h0M32.3 2.5h0M13.1 8.7h0M25.3 7.3h0M61.5 13.8h0M20 3.3h0M24.3 36h0M35.9 41h0M40.6 29.6h0M28.1 38.3h0M29.6 6.4h0M14.8 36.6h0M3.8 8.3h0M41.3 31.3h0M30.6 29.9h0M27.6 27.1h0M2.5 18.9h0M64.1 26.4h0M22.4 28.6h0M64.2 21.4h0M27.4 37.7h0M56 10.4h0M44 13.7h0M23.3 36.9h0M23.9 42h0M32 39.8h0M8.5 18.6h0M2.2 39.4h0M58.5 22.3h0M30.6 44.5h0M25.4 14h0M9 42.2h0M52.8 24.2h0M48 38.4h0M44 5h0M42.7 40h0M31.3 19.6h0M42.4 8.8h0M14.8 31.2h0M65.4 5.2h0M43.8 23.1h0M2.5 7.4h0M20.1 31.8h0M8.7 17.1h0M40.8 34.6h0M65.5 38.5h0M12.6 25.7h0M39.9 25.4h0M39.3 17.6h0M15.7 30.6h0M57.5 31.3h0M43.3 44h0M16.7 26.4h0M54.4 30h0M.1 23.4h0M53.7 9.3h0M25.9 45.1h0M29.9 24.9h0M39.3 39h0M30 41.2h0M46.4 18.4h0M40.5 13.8h0M3.4 22.3h0M3 13.7h0M55.5 44.5h0M13 7.6h0M23.2 20.7h0M9.3 37h0M10.3 24.8h0M17.9 29.7h0M7.6 22.7h0M55.8 .8h0M12.7 3.3h0M55 30.8h0M15.9 41.3h0M11.4 22.4h0M48 27.6h0M4.3 2.2h0M12.1 43.4h0M59.1 13.8h0M3.2 29.1h0M13 40.9h0M60.4 35.9h0M51.1 35.7h0M54.7 17.4h0M47.5 .6h0M45.7 20.4h0M64.8 36.1h0M29.8 32.4h0M38.5 28.3h0M.5 10.3h0M16.9 32.3h0M60.3 28.8h0M49.9 29.2h0M9.6 11.7h0M38.3 34.6h0M27.6 31.9h0M22 14.5h0M11.1 19h0M38.1 5h0M61.2 .4h0M48.1 15.9h0M61.7 13.2h0M1.7 31.7h0M24.9 37.6h0M43.9 20.2h0M43.5 31.3h0M21.6 8.9h0M43 26.1h0M3.1 7.4h0M28.3 4.1h0M34.5 18.1h0M19.4 34.5h0M48.6 3.1h0M39.3 45.6h0M39.9 45.2h0M15.3 10.1h0M21.5 10.8h0M10.5 11.7h0M33 37.3h0M50.8 1.8h0M50.4 29.3h0M17.5 .3h0M56.6 6.2h0M16.7 14h0M52.4 43.4h0M60.2 39h0M55.6 21.7h0M3.7 10.8h0M9.2 5.3h0M8.9 14.6h0M3.3 13.6h0M56.3 11.1h0M33.5 39.1h0M1 33.4h0M35.7 1.4h0M58.6 36.5h0M6.7 44.1h0M38 29.1h0M14 1.4h0M46.4 32.7h0M11.9 1.6h0M37.8 14.1h0M22.7 39.8h0M37.2 5.4h0M46 33.1h0M37.4 43.8h0M31.3 29.8h0M3.7 13.8h0M19.7 19.7h0M33.6 5.3h0M45.5 2.5h0M16.6 26.9h0" stroke="#2a1cf2" stroke-width="1.0" stroke-linecap="round" fill="none"/>
<path d="M1.6 15.1h0M53.3 33.6h0M24.7 7.7h0M49.4 39.9h0M5.3 19.2h0M36 31.8h0M13.3 37.7h0M40.1 36.7h0M62.4 31.4h0M44.1 13.7h0M18 17.2h0M53.3 27.4h0M18.3 41.4h0M34 44.9h0M43 33.7h0M22.7 45.5h0M31.6 30.9h0M26.6 24h0M11.6 16.9h0M27.2 34.1h0M10.4 9.1h0M42.4 21.7h0M58 .9h0M29.1 38.2h0M49.7 16.2h0M34 18.2h0M.3 3.7h0M15 40h0M12.6 13.1h0M36.7 32h0M42.7 14.2h0M22.5 .6h0M52.3 17.3h0M19.2 9.5h0M32.5 6.9h0M21.4 4.8h0M12.5 24.2h0M21.6 4.9h0M57.4 2.7h0M27.2 13.4h0M3.8 13.6h0M29 31.6h0M17.1 17.4h0M59.3 29.1h0M29.3 9.7h0M51.7 42.7h0M15.8 39.1h0M24.6 22h0M1.7 11.1h0M15.8 9.3h0M54.3 43.6h0M21 36.8h0M19.8 26.7h0M12.8 41.7h0M33.9 27.1h0M52.3 24h0M32.2 32.7h0M31.2 26.5h0M19.7 7h0M14.7 44.6h0M38.9 .8h0M12.3 26.8h0M33.6 45.4h0M59.4 3.3h0M53 45.1h0M49.1 43.8h0M25.1 28.9h0M45.1 36.6h0M47.1 37.7h0M22.2 36.5h0M39.3 44.1h0M21.3 28.4h0M56.6 34.9h0M45.9 6.7h0M10.2 14.6h0M42.9 1.5h0M43.4 5.5h0M12.7 12.7h0M36.1 33h0M62.3 10.5h0M5.6 39.4h0M38.8 42.2h0M47.1 6h0M23.8 10.1h0M29.6 13.1h0M56.7 41.1h0M12.5 45.9h0M63.3 17.7h0M57.5 43.4h0M48.3 16.7h0M41.4 35.2h0M22.3 21.8h0M5.9 7.2h0M52.3 14.2h0M46.2 19.7h0M46.8 13.1h0M5.7 30.6h0M16.9 9.4h0M30.5 22.8h0M58.6 32h0M28.7 20.2h0M39.5 6h0M19.6 27.7h0M61.8 27.6h0M13.8 44.4h0M52.4 10.2h0M24.2 1.5h0M50.1 10h0M54.4 32.9h0M51.1 25.9h0M16 1.7h0M39.1 .6h0M34.2 35.5h0M9.2 20.1h0M35.6 6.9h0M13.3 28h0M11.4 7h0M14.5 43h0M59 5.1h0M37.7 18.9h0M2 11.5h0M42.8 .9h0M63.1 13.1h0M22.9 43.6h0M9.2 6h0M31.1 14.4h0M21 26.7h0M62.5 19h0M2.9 17.1h0M56.1 19.9h0M4 11.5h0M14.9 16.1h0M20.9 30.8h0M47.3 2.1h0M9.6 37.7h0M57.6 36.2h0M11.7 31.8h0M5 31h0M14.6 38.5h0M55.5 21.4h0M47.7 43.4h0M58.8 29.7h0M40.5 16.4h0M45 6.5h0M30.1 3.9h0M6.1 30.7h0M28 9.5h0M62.4 13.3h0M35.5 22.5h0M12.1 45.6h0M49.9 40.9h0M19.7 41.8h0M59.9 43.2h0M11.7 7.1h0M5.5 4.1h0M46.2 2.3h0M30.6 16.3h0M47.9 2.1h0M47.4 44h0M19.5 18.5h0M48.7 14h0M55.7 45.7h0M14.6 21.6h0M9.6 25.6h0M25.9 44.6h0M47.8 45.5h0M53.3 37.9h0M25.2 30.5h0M7.4 16h0M60.6 45h0M11.4 22.7h0M26.6 28.5h0M39.1 12h0M57.9 20.7h0M51 33.1h0M64.5 23.6h0M38.7 35.4h0M15.1 2.1h0M53.5 31.9h0M49.3 36.7h0M13.2 40.3h0M42.1 43.3h0M36.6 39.7h0M3.7 7.6h0M36.4 30.6h0M25.4 3.3h0M58.3 3.3h0M58.5 10.7h0M46.5 27.2h0M15.5 15.1h0M15.9 24.5h0M18.3 25h0M18.5 5.5h0M45.8 12h0M62.4 18.6h0M17.3 33h0M59.3 17h0M48.3 15.2h0M65.4 13.8h0M2.4 .2h0M35.7 28.7h0M18.8 19h0M26.9 16.7h0M12.5 25h0M43.8 1.2h0M58 11.9h0M31.3 10h0M44.3 18.6h0M38.2 18.7h0M33.4 4h0M64.6 19.5h0M21.8 38.9h0M19.4 36.3h0M27.9 5.4h0M37.8 12.9h0M13.3 45.4h0M61.7 21.6h0M53.1 30.7h0M19.9 5.9h0M38.2 8.8h0M49.7 27.3h0M14.5 35.7h0M63.7 22h0M63.8 20.6h0M1.2 21.2h0M23.2 42.1h0M34.4 44.1h0M10.7 17.6h0M.9 2.4h0M46.8 1.5h0M14.6 19.9h0M60.6 10.8h0M.3 32.2h0M45.8 6.4h0M61.1 39.7h0M61.6 37.8h0M36 32.2h0M8.2 29.6h0M23.3 15.4h0M20.6 3.7h0M53.3 35.1h0M.6 23.5h0M1.5 25h0M11 44.1h0M21 24h0M17.3 41.5h0M.5 13.9h0M14.9 34.3h0M24.5 39.6h0M21.6 5.8h0M29.9 4h0M10 24h0M37.8 9.8h0M11.8 23.9h0M29.3 22.1h0M44.1 6.5h0M.8 3h0M52.3 32.2h0M10.1 15.2h0M20.3 42.4h0M27.1 32.8h0M5.7 1.9h0M14.8 29.5h0M29.4 40h0M54.1 30.5h0M65.6 44.1h0M58.1 4.1h0M26.3 6.7h0M40.3 23.2h0M6.1 3.6h0M30.6 28.7h0M26.7 21.7h0M41.7 32h0M46.6 19.1h0M11.3 39.9h0M2.7 9.4h0M12.5 27.3h0M40.9 4.6h0M33.8 26.4h0M45.2 3.4h0M47.8 12.4h0M25.3 5.7h0M55.4 28.4h0M53.5 23.6h0M7.3 18.4h0M5.2 4.5h0M53.1 0h0M25.6 1.9h0M50.3 45.5h0M2.2 16.7h0M64.2 11.5h0M20.4 45.3h0M60.6 17.7h0M44.1 36.4h0M23.3 .1h0M24.6 31.8h0M63.5 20.3h0M27 17.5h0M39.9 1h0M60.1 43.8h0M2.1 .3h0M20.7 6.7h0M50.6 39.9h0M35.9 43.3h0M15 9h0M25.2 20.7h0M13 42.3h0M49.4 13.2h0M14.9 13h0M26 30h0M51.1 43.6h0M5.3 9h0M25 43.7h0M30.1 33h0M54.6 21.2h0M24.8 35.6h0M42.1 45.6h0M17.8 43.8h0M32 39.9h0M42.2 25.9h0M56.3 3.7h0M18.5 22.4h0M53.9 8.5h0M51.3 4h0M23 21.3h0M47 24h0M55.9 31.8h0M25.3 23.9h0M25.6 40.1h0M20 8.3h0M16.1 11.5h0M53.3 31.5h0M16.1 19.3h0M58.9 44.1h0M14.7 43.3h0M3.8 45.8h0M21.1 43.8h0M2.1 31.6h0M60.8 37.6h0M37.6 7.1h0M15.6 43.3h0M57 10.2h0M22.6 28.1h0M20 9.8h0M57.2 5.1h0M41.6 18.6h0M30.9 40h0M49.1 35.5h0M1.1 37.2h0M52.2 0h0M14.8 33.5h0M57.2 24.8h0M58.5 4h0M17.1 37.7h0M52.2 10.2h0M37.5 20.1h0M48.6 18.3h0M21 35h0M45.8 16.6h0M47 12h0M32.9 8.6h0M22.6 19.2h0M5.8 14.3h0M23.1 15h0M33.3 41.3h0M55.9 13.6h0M8.9 4h0M58.3 34.9h0M48.6 41.7h0M26.4 7.9h0M6 18.3h0M50.5 3.9h0M28.8 3.7h0M14.1 25.4h0M42.8 43.3h0M21.1 10.7h0M4.1 8.6h0M2.3 .1h0M7.6 24.6h0M30.1 41.6h0M32 4h0M9.6 32.2h0M64.5 34.4h0M15.4 15.9h0M28.8 19.9h0M18.6 7.1h0M1.7 40.4h0M64.2 44.9h0M25 31.5h0M13.6 5.2h0M.2 15.3h0M52.5 24.2h0M15.4 22.1h0M35.6 9h0M29.5 42.6h0M29.5 45.5h0M47.6 5.9h0M60.4 31.8h0M29.2 8.7h0M43.3 8.7h0M30.4 6.9h0M27.2 44.4h0M39.3 23.5h0M40.7 30h0M39.6 13.1h0M14 27.8h0M61.1 40h0M32.1 13.5h0M38.7 2.1h0M32.7 36h0M63.7 4.2h0M13.2 22h0M40.1 44.2h0M7.1 5.9h0M31.9 36.4h0M1.9 17.5h0M46.8 19.3h0M11.8 3.3h0M50.1 23.4h0M35.4 31.4h0M50.2 18.4h0M24 42.2h0M5 35.6h0M30.3 24.5h0M16.5 43.3h0M20 14.7h0M3.9 40.9h0M54.6 2.3h0M9.7 13.2h0M1.9 22.8h0" stroke="#c80c38" stroke-width="0.9" stroke-linecap="round" fill="none"/>
<path d="M55.8 33h0M33.1 44.9h0M20 14.6h0M17.5 27.7h0M30.7 5.7h0M32.4 44.4h0M57.7 28.6h0M56.8 22.3h0M32.7 31.9h0M13.3 27.2h0M33 13.7h0M32.7 8.2h0M42.3 5.3h0M29.4 2.6h0M35.5 4.5h0M54.2 .8h0M53.1 13.7h0M62.8 15.1h0M9.5 30.7h0M16 37.3h0M31.4 12.3h0M38.9 10.2h0M17.4 3.8h0M15.6 10h0M10.5 19.1h0M29.6 27.3h0M36.3 31.3h0M40.4 21.6h0M56.2 6.5h0M18.1 .6h0M59.9 40.4h0M26.8 38.7h0M37 42.7h0M59.3 15.2h0M18.4 19.1h0M62.9 21.5h0M23.8 1.1h0M25.3 42.5h0M27.6 36.5h0M59 43h0M48.2 22.8h0M19.7 43.2h0M53 34.1h0M3.7 29.8h0M45.4 6.2h0M21.5 20.9h0M16.7 4.9h0M10 21h0M.9 36.4h0M27.4 12.8h0M16.5 14.5h0M39.4 32.8h0M28.3 32.8h0M37.7 37.2h0M48 35.1h0M1.6 16.1h0M7.6 38.1h0M10.8 42.4h0M22.6 7h0M45.9 8.5h0M23.9 20.1h0M41.7 23.8h0M43.7 36.4h0M63.6 28.5h0M28.1 22.8h0M22.9 38.3h0M36 32h0M53.9 32h0M58.4 20.8h0M45.9 40.6h0M32.1 37.7h0M18.4 7.3h0M56.1 25.3h0M63.3 27.5h0M17 5.6h0M59.1 11.6h0M10.9 24.2h0M47.2 26.3h0M3.1 35.9h0M44.4 14.9h0M60.7 22.7h0M50.5 4.2h0M20.2 34.7h0M45 32.2h0M45.6 1.3h0M56.3 1.9h0M15.9 13.9h0M32.9 4.4h0M28.2 6.4h0M22.1 15.8h0M7.5 36.9h0M2 9.2h0M58.8 18.6h0M62.2 14.1h0M34.1 24.2h0M26.6 45.4h0M26.5 36.6h0M33.4 16h0M55.7 42.4h0M1 27.5h0M49.6 23.3h0M26.6 33h0M10.3 21.8h0M13.2 39.7h0M51.7 18.2h0M51.7 24.9h0M43.1 11h0M50.8 29.8h0M65.6 12h0M26.5 35.8h0M17 35.1h0M55.9 7.6h0M47.9 13.3h0M18 16.2h0M51.2 29.3h0M25.3 31.3h0M53.4 9h0M56.9 23.9h0M41.8 39.5h0M14.1 21.5h0M46.7 .7h0M25.8 24.9h0M29.5 23.2h0M55.1 5.2h0M47.4 13h0M5.5 21.2h0M8.5 21.1h0M11.1 20.4h0M9 45.7h0M13.8 20.4h0M39.7 30.9h0M8.5 38.9h0M24.5 3.8h0M28.3 28.6h0M23.8 33.4h0M20.5 37.4h0M61.4 37.5h0M4.1 19.3h0M35 17.6h0M12.2 27h0M7.8 7.7h0M27.5 45.8h0M25.2 44.3h0M44.3 29.7h0M60.1 26.8h0M48.6 21.7h0M52.4 40.2h0M.1 42.9h0M2.1 29.4h0M4.8 34.7h0M28.5 6.3h0M55.5 11.4h0M59.3 17.6h0M36.8 20.4h0M50.1 16.3h0M33.8 10.6h0M22.2 5.1h0M17.2 12.8h0M45.4 6.7h0M10.1 44.7h0M42.2 3.9h0M56.9 34.8h0M40.1 44.2h0M35.1 6.4h0M.8 4.1h0M30.5 25.4h0M54.9 3.2h0M4.7 4.4h0M23.9 43h0M51.4 2h0M38.9 8.3h0M14.8 14.8h0M16.2 13.6h0M14.7 15.8h0M38.9 25.8h0M48 12.8h0M1.8 26.2h0M20.6 9.6h0M26.9 43.4h0M39.4 32.9h0M2.9 25h0M46.1 39.7h0M50 2.3h0M65 .8h0M50.7 21.6h0M61.1 43.5h0M49.2 3.8h0M42.6 5.4h0M27.9 6h0M19.8 2.4h0M35.5 4.2h0M16 35.7h0M19.3 26.6h0M56.9 29.2h0M53.9 42.8h0M16.1 8.5h0M65.4 42.1h0M21.2 42.5h0M5.7 10.4h0M56.8 4.8h0M56.7 10.2h0M50.7 5.8h0M33 26.4h0M36.7 39.6h0M2.3 32.5h0M56.1 23.9h0M15.5 36.6h0M28.3 12h0M50.9 35.1h0M54.2 22.7h0M1 1.1h0M36.3 1.7h0M40.9 6.1h0M51.1 .9h0M45.4 10.2h0M65.7 21.8h0M34 39h0M18.7 44.6h0M19.4 1.7h0M18.4 16.9h0M39.3 3.1h0M59.5 35.7h0M49.1 45.4h0M3.4 31.5h0M56.3 8.2h0M27.1 9.2h0M60.9 21.6h0M54.6 11.6h0M39.6 34.2h0M22.5 12.3h0M5.6 28.8h0M27 9.2h0M21.1 14.6h0M8.2 27.2h0M10.2 9.9h0M23.8 45.4h0M46.7 9.8h0M55.6 43.1h0M21.7 36.6h0M41.4 25.4h0M59.5 30.8h0M42.6 43h0M30 4.8h0M.5 33.2h0M30.9 40.2h0M64 11.7h0M13.1 26.3h0M1.4 4.6h0M4.9 13.6h0M29 9h0M45.2 34.8h0M54.8 25.1h0M49.6 36.5h0M47.9 14.6h0M37.8 37.9h0M16.2 16.5h0M.7 27.6h0M7.5 20.4h0M12.3 5.3h0M58.4 15.1h0M63 33.9h0M38.7 22.2h0M42.7 37.2h0M12.5 24.8h0M17.7 8.6h0M14.4 36.2h0M61.4 19.9h0M11.5 8.1h0M20.2 17.1h0M58.2 24.1h0M32.3 28.8h0M11.7 17h0M29 3h0M20.1 26.2h0M39.7 12.2h0M4.8 26.2h0M10.2 .2h0M63.4 33.6h0M61.6 14.6h0M50.7 39.1h0M41.3 1.6h0M18.1 17.2h0M28.8 26.3h0M12.2 10.2h0M1.5 18.5h0M7.7 10.7h0M1.2 38.7h0M15 23.3h0M38 1.9h0M35.9 36.8h0M15.7 29h0M47.7 25.7h0M23.5 23.5h0M43.9 20.1h0M48.5 34.4h0M49.4 19.9h0M9.6 8h0M19.5 25.8h0M3.9 14.3h0M9.7 24.6h0M13.2 37.8h0M4.2 16.4h0M49.2 38.3h0M25.8 43.3h0M57.8 25.8h0M21.7 8.9h0M45.3 2.8h0M42.7 10.5h0M12.3 28.3h0M25.7 2.6h0M9.8 36.3h0M25.6 35.8h0M40.7 .1h0M22.5 27.5h0M16.1 6.1h0M65.8 14.9h0M43.3 20.3h0M65.1 10.4h0M2.1 29.8h0M45.6 38.3h0M7.3 8.1h0M31.2 12.8h0M8.5 6.5h0M2.9 19.6h0M8.8 1.3h0M6.3 32.3h0M42.5 15.8h0M53 2.1h0M27.5 42.8h0M3.5 6.8h0M31.6 16.1h0M4.5 38.5h0M52 26.9h0M27.4 25.5h0M32.9 26.1h0M21.1 37.4h0M34.2 10.8h0M38.5 35.7h0M32.8 14.9h0M35.8 31.7h0M12 40.7h0M26.9 19.2h0M34.2 34.9h0M11.2 8.4h0M32.1 .7h0M28.6 5.9h0M13.1 16.8h0M59 28.1h0M18.4 29.3h0M33.6 .1h0M28.9 32.2h0M53.1 44.3h0M1.1 23.6h0M25 20.4h0M53.9 20.1h0M35.7 34.8h0M57.2 26.8h0M34.7 4.6h0M24.8 8.7h0M50.8 30.8h0M8.9 26.6h0M57.5 38.9h0M24.8 16.8h0M34.9 19.2h0M64.1 39.1h0M58.8 45.9h0M6.9 43.4h0M23.8 12h0M39.5 18.3h0M13.8 44.7h0M12 3.9h0M25.8 37.9h0M53 20.8h0M26.6 6.4h0M52.5 34.8h0M14.3 30.7h0M58.7 16.5h0M15.2 34.2h0M41 18.1h0M.3 14.9h0" stroke="#cc18aa" stroke-width="0.95" stroke-linecap="round" fill="none"/>
</g></svg>
<svg x="428" y="257.6" width="66" height="45.9" viewBox="0 0 66 45.9">
<rect width="66" height="45.9" fill="#020006"/>
<g filter="url(#b4)">
<path d="M46.5 8.6h0M31.8 35.4h0M23 5.7h0M44.6 31.5h0M40.2 41.7h0M24.5 23.4h0M29.9 39.3h0M21.8 11.1h0M24.3 37.8h0M49 8.6h0M53.9 45.3h0M22.2 36.2h0M45.7 28.3h0M15.3 0h0M57.3 15.2h0M54.3 39.2h0M56.5 33.6h0M47.9 37.6h0M62.2 42.2h0M58.1 14.8h0M60.8 4.2h0M63 15.2h0M4.4 6.9h0M58.3 37.1h0M28.3 30h0M2.4 43h0M18.7 9.1h0M32.1 22h0M32.2 33h0M26.3 41.2h0M48.8 33.4h0M52.4 19.4h0M22.9 24h0M56 8h0M46.3 21.8h0M62.3 32.6h0M60.9 19h0M30.5 11.4h0M13.7 14.4h0M48.7 34.5h0M64 24.2h0M40.6 24.3h0M31.5 15.6h0M20.4 15.3h0M33.6 20.4h0M36.1 30.7h0M65.2 26.8h0M65.4 14.5h0M40.2 26.7h0M29.8 21.1h0M15.6 45.1h0M22.9 14.1h0M62.4 15.4h0M38.2 19.1h0M43.7 25.6h0M35.1 4.9h0M34.2 12.8h0M48.9 14.9h0M3.2 7.3h0M21.9 29.6h0M46.5 38.2h0M63.1 25.6h0M40 8h0M26.2 11.2h0M44.8 43.5h0M24.3 23.1h0M42 35.1h0M23.6 12.3h0M43.2 14.2h0M32.8 28.9h0M36.7 44.7h0M23 9.9h0M26.8 41.2h0M56.5 2.8h0M11.4 10.8h0M51.5 31.8h0M10.9 36.3h0M53.8 16h0M54.1 12h0M61.5 6.5h0M26 14h0M54.2 35.1h0M35.1 24.7h0M47.7 43.9h0M30.1 21.3h0M38.6 17.4h0M61.3 9.8h0M32.2 31.7h0M49.3 14.1h0M54.4 .9h0M58.1 37.4h0M33.4 40.9h0M51.4 30.9h0M17.1 4.1h0M7.7 4.4h0M44.5 32.2h0M62.4 17.6h0M24 39.5h0M52.2 45h0M.6 43.8h0M27.3 36.6h0M47.5 31.9h0M54.1 25.9h0M41 10.2h0M52.1 34.9h0M16.4 42.7h0M27.4 39.5h0M2.3 6.5h0M34.2 12.6h0M27.6 41.8h0M28 23.1h0M60.9 18.3h0M56.3 3.1h0M46.8 5.6h0M18 3.9h0M58.1 41h0M52.4 22.9h0M7.4 23.9h0M47.6 .1h0M65.2 43.5h0M38.8 1h0M47.1 28.7h0M21.5 7.2h0M18.1 10.5h0M36.7 12.5h0M60.2 .7h0M52.7 11h0M42.2 31h0M27.5 2.1h0M35.3 5h0M15.9 42.4h0M11.6 44h0M10.5 1.5h0M2.1 38.5h0M18 15.8h0M22.5 29.1h0M20.1 21.5h0M43 12.6h0M.3 19.9h0M39.2 31h0M64.4 9.3h0M26.1 6.8h0M59.3 26.9h0M57.7 30.2h0M22.4 32.6h0M51.2 11.3h0M49.8 24.9h0M41.4 4.4h0M34.7 4.2h0M41.6 36.4h0M25.3 19.9h0M41.2 25.7h0M64.7 38.7h0M45.3 16h0M46.5 29.9h0M56.8 2.7h0M31.8 15.6h0M22.6 11.8h0M55 20.9h0M36.3 5.4h0M36.7 29.1h0M36.5 3.7h0M64.9 17.9h0M61.1 1.6h0M49.5 41.3h0M29 17.2h0M41.1 14h0M16.3 41.9h0M42.5 22.9h0M30.3 36.5h0M48.8 12.9h0M20.6 18.8h0M44 15.3h0M21.5 10h0M16.5 10.5h0M58.5 20.9h0M36.1 14.6h0M62.9 27.5h0M65.7 34h0M14.1 19.7h0M51.1 36.1h0M38.3 9h0M43 26.6h0M9.9 2.6h0M34.7 42.1h0M58 40.7h0M28.5 40.4h0M3.1 13.2h0M37.5 19.1h0M37.4 25.7h0M21.1 16.8h0M10.8 29h0M12 2.9h0M38.3 21.8h0M62.8 15.4h0M51.2 28.6h0M37.7 1.7h0M20.3 19.7h0M3 4.5h0M54.4 5.1h0M37 10.9h0M34.7 18h0M62.3 21.1h0M49.1 35.6h0M60.9 23.8h0M49.3 36.3h0M53.8 27.8h0M59 34.2h0M25.2 16.9h0M55.4 42.6h0M24.9 42.4h0M52.4 31.9h0M22.3 12.6h0M14.7 6.7h0M53.4 8.8h0M26.7 9.3h0M56.7 25.4h0M32.6 21.5h0M1.2 38.7h0M55.9 44h0M59.7 40.6h0M9.7 45.6h0M65 29.6h0M57.9 12h0M28.5 5h0M31.1 45.5h0M46.5 21.1h0M20.8 9.7h0M28.4 13.2h0M32.3 26.2h0" stroke="#2a1cf2" stroke-width="1.15" stroke-linecap="round" fill="none"/>
<path d="M26.8 27.2h0M27.3 22.9h0M32.1 38.7h0M59.1 26.8h0M50.1 13.9h0M10.7 14.4h0M9.2 35.1h0M42.4 10h0M9.6 45.6h0M49.7 44.2h0M64.9 36h0M61.3 43.3h0M42.1 6.9h0M17.9 35.4h0M31.4 42.8h0M57.8 41.4h0M53.6 38.2h0M20.5 2.4h0M33.7 5.8h0M43.5 18.7h0M53.5 14.9h0M65.4 5.5h0M55.8 1.2h0M11.9 11.3h0M28.6 37.7h0M43.8 10.9h0M25.6 35.2h0M36.7 5h0M23.8 1.1h0M30.1 10.6h0M19.9 15.6h0M57.1 3.8h0M5.9 6h0M28.3 20h0M61.4 33.4h0M17.7 6h0M36.2 38.2h0M63.2 43.9h0M25.6 23.8h0M59.8 22.1h0M37.2 22.7h0M59.4 .3h0M37.5 11.7h0M45.2 28.7h0M49.3 37.6h0M65.2 5.3h0M15.2 22.2h0M26.2 9.5h0M34.6 14.5h0M55.6 4.8h0M22.3 5.4h0M55.8 20.5h0M40 2.3h0M29.1 17.8h0M46.5 10.8h0" stroke="#d828bc" stroke-width="1.4" stroke-linecap="round" fill="none"/>
<path d="M65 15.1h0M33.9 21.6h0M22.7 2.6h0M2.6 41.9h0" stroke="#c80c38" stroke-width="1.2" stroke-linecap="round" fill="none"/>
</g></svg>
<svg x="496" y="257.6" width="66.6" height="45.9" viewBox="0 0 66.6 45.9">
<rect width="66.6" height="45.9" fill="#04000e"/>
<g filter="url(#b4)">
<path d="M65.2 28.2h0M8.9 8.9h0M21.3 1.6h0M22.8 13h0M21.7 38.5h0M37.2 45.9h0M20.4 3.2h0M50.8 33.4h0M54.4 17.1h0M54.2 4.6h0M48.1 31.8h0M37.7 28.2h0M30.9 19.7h0M31.6 27.9h0M56.4 15.4h0M37.1 17.9h0M11.4 32.3h0M.4 40.3h0M3.3 7.8h0M49.6 19.9h0M19.9 22.4h0M62 29.7h0M24 43.5h0M16.3 4.3h0M48.9 36.8h0M53 18.2h0M45.4 9.7h0M17.8 43.2h0M56.7 43.4h0M36.8 32.6h0M24.1 18.2h0M61.8 34.2h0M62.6 6.9h0M27.5 42.1h0M61.7 37.6h0M59 12.1h0M47.5 4.8h0M30.5 .5h0M28.8 8.9h0M27.3 30.8h0M45 40.5h0M62.2 14.1h0M22.2 19.2h0M16.9 38.7h0M52.8 30.5h0M43.2 13.5h0M18.5 34.9h0M6.1 45.5h0M9.6 9.6h0M50.7 41.8h0M10.4 43.1h0M34 5.7h0M36.4 10.6h0M43.1 28.8h0M55.6 42.2h0M57.4 31h0M48.6 39.9h0M55.8 22.8h0M62.6 44.1h0M13.1 9.7h0M40.9 25h0M28.1 22.9h0M13.9 19.2h0M39.5 34.5h0M47 4.7h0M14 22.2h0M51.5 12.7h0M49.2 10.5h0M20.2 39h0M13.1 38.6h0M36.7 1.2h0M31.3 24.8h0M8.3 17.1h0M32.3 21.7h0M61.4 17.7h0M59.7 13.4h0M49.6 7.1h0M38.9 34.3h0M55.1 2.4h0M49.6 7.1h0M64.3 14h0M56.9 7.6h0M65.7 24.7h0M14.7 42h0M52.6 33.2h0M28.5 10.6h0M42.4 38.9h0M49.1 32.6h0M4.2 21.2h0M19.4 24.5h0M44.5 27.5h0M.2 14.1h0M19 19.4h0M19 8.8h0M14.8 22.5h0M58.8 9.9h0M64 30.5h0M59.7 40.6h0M50.1 42h0M12.9 29h0M24 7.7h0M18.3 29.7h0M8.9 4.8h0M56.3 37.4h0M2.1 9.2h0M.2 24.4h0M65.5 7h0M38.4 20.2h0M48.5 27h0M48.8 4.9h0M65.1 36h0M7.2 .5h0M54.1 35.6h0M25.3 42.6h0M42.1 23.5h0M2.7 22.2h0M25.3 20h0M23 39h0M24.6 4.4h0M16.7 38.4h0M34.4 16.1h0M58.3 45.2h0M27.8 6.4h0M21.4 5.1h0M58.2 32.7h0M21.4 29.8h0M56.4 45.7h0M11.6 21.1h0M43.1 20.3h0M35.2 21h0M27.3 26.3h0M26.3 13.6h0M27.7 35.8h0M10.3 21.7h0M15.5 42.6h0M.5 16h0M64.2 32.6h0M15.7 33.7h0M33.4 4.3h0M6.9 2h0M19 18.8h0M64.7 40.8h0M36.7 30.6h0M41.3 37.3h0M24.7 29.8h0M14.5 10.4h0M17.8 18.5h0M19.7 27.5h0M2.7 14.5h0M40.3 36.5h0M52.5 19.8h0M41.5 1.2h0M61.6 30.6h0M52.8 4.9h0M27.6 13.7h0M56.1 34.9h0M10.5 44.5h0M13.7 6.1h0M37.3 20.1h0M63.6 2.1h0M60.4 32.8h0M21.1 7h0M47 1.4h0M19.5 3.8h0M23.2 45.6h0M56.3 25.3h0M43 29h0M52.3 38.1h0M64.2 43.4h0M22.8 43.6h0M16.7 5.2h0M43.4 2.2h0M58.3 44.9h0M53.4 11.8h0M35.2 2.5h0M29.7 37.8h0M13.1 7.2h0M23.6 16.1h0M22.2 14.9h0M4.7 29.5h0M32.7 28.1h0M21.7 41.5h0M51.6 25.5h0M25.5 39.1h0M29 19.2h0M37.8 2.6h0M33 3.8h0M61.2 36.3h0M8.1 9.7h0M44.3 24.9h0M27 18.7h0M15 18.8h0M3.4 3.1h0M15.7 1.2h0M15.9 9.1h0M23.6 27.2h0M66 32.3h0M54.6 25.7h0M50.7 29h0M.6 16.8h0M8.7 31.5h0M24.2 19.9h0M10.3 44.5h0M18.5 6.4h0M24.8 14.6h0M12.6 32h0M28.7 .5h0M63.2 5.6h0M57.8 45.3h0M36.4 35.2h0M.4 9.2h0M52.8 31.9h0M8 12.3h0M5.1 36.3h0M42.7 16h0M37.7 23h0M17.4 24.6h0M.5 33h0M63.8 7.5h0M29 27.2h0M45.6 35.5h0M21.9 34.5h0M23.9 35.7h0M33.8 26.3h0M59.5 8.1h0M33.2 15.9h0M4.1 35.8h0M13.1 7.6h0M9 35.7h0M46.9 15.1h0M32.5 16.4h0M32.8 1.8h0M19.1 44h0M21.3 32.2h0M41.3 21.4h0M41.4 31.9h0M38.3 36.1h0M20 10.5h0M30.6 36.2h0M33.1 .3h0M30.9 41.1h0M11.1 26.3h0M19 24.9h0M50.8 15.1h0M11.5 20.6h0M65.5 1.2h0M20.2 10h0M31.5 36.1h0M37.4 27h0M14.9 24.4h0M49.9 15.3h0M1.3 44.5h0M33.7 44.3h0M40.7 15.6h0M11.8 42.8h0M50.8 26.4h0M1.2 13.8h0M28.1 4.2h0M31.4 21.6h0M13.6 24.1h0M63.4 40.1h0M54.7 13.9h0M15.5 21.9h0M62.1 9.7h0M5 39h0M.8 23.5h0M65.5 26.3h0M.6 13.9h0M50 31.2h0M5.7 21.2h0M32 7.6h0M8.7 14.3h0M26.6 43.8h0M21.8 41h0M1.4 21.5h0M10 2.8h0M19.4 31.9h0M40.4 13.2h0M48.5 32.3h0M57.6 31.7h0M6 35.9h0M63.6 40.3h0M43.8 5.8h0M57.7 22.7h0M48.5 42.5h0M14.2 1.1h0M62.4 40.9h0M5.7 21h0M57.1 28.2h0M34.8 45.8h0M1.9 17.1h0M10.4 44.2h0M38.9 12h0M57.8 42h0M32.1 43.6h0M14.3 31.7h0M66.2 10.6h0M46.8 38h0M57.6 12.3h0M25.6 5.2h0M33.7 39.6h0M19.8 40.4h0M17.7 21.6h0M44.1 37.3h0M62.7 16.4h0M26 34.8h0M53 36.2h0M17.8 39.6h0M50.9 27.2h0M22.3 33.2h0M4.6 34h0M27.9 34.9h0M39.2 16.4h0M21.1 23.1h0M9 11.9h0M42.5 9h0M61.2 24.2h0M21.4 8.1h0M18.4 18.2h0M9.1 14.2h0M64.2 43h0M60.8 43.5h0M46.8 44.3h0M42.6 18.8h0M11.2 29.9h0M64.2 43.1h0M64.8 20.3h0M45.6 45.9h0M48.1 39.3h0M57.9 25.5h0M58.2 16.2h0M55 19.9h0M14.3 38h0M52.8 29.2h0M31.3 12h0M56.1 30.5h0M44.6 37.7h0M1.8 36.5h0M56.9 6.4h0M3.2 39.7h0M17.4 24.5h0M61.9 8.9h0M32.9 2.8h0M58.1 39.5h0M29.1 36.4h0M10 37h0M53.8 33.5h0M2.2 13.7h0M44.1 38.2h0M32.8 31.5h0M30.4 26.7h0M19 9.2h0M58 25.4h0M21.4 13.5h0M22.4 23.8h0M10.5 20.7h0M23.3 17.8h0M24.4 2.1h0M58.9 13.9h0M49.8 43.4h0M25.3 16h0M45.1 43.3h0M35.5 29.7h0M7.2 14.3h0M30.3 30h0M25.4 33.9h0M55.8 11.4h0M35.1 4.6h0M21.3 26.5h0M55.2 8.8h0M53.3 30.3h0M54.8 3h0M34.4 6.6h0M51.6 31.1h0M15.4 45.4h0M59.7 17.9h0M14.4 35.5h0M22.6 39.5h0M18.5 39.2h0M23.5 27h0M21 28.5h0M3.9 16.6h0M23.5 27.1h0M53.4 22.6h0M63.4 7.1h0M48.8 18.2h0M14.1 15.4h0M24.9 22.4h0M32.6 36.4h0M52.8 18.4h0M51.2 27.4h0M2.3 38h0M58.9 29.4h0M33.7 41.7h0M65.3 26.7h0M3.7 23.7h0M13.5 21.4h0M40.1 10.1h0M4.3 22.7h0M45.3 24.1h0M54.3 45.8h0M64.8 15.4h0M29.9 26.5h0M14.5 43.1h0M51.1 44.3h0M25.7 23h0M34.7 4.7h0M17.2 30.1h0M61.7 2.9h0M22.3 23.4h0M27.3 12.1h0M11.4 14.3h0M3.8 12.9h0M4.2 40.4h0M43 22.8h0M21.5 31.1h0M22.8 38.5h0M56.3 10.8h0M34.4 16.7h0M65.5 10.8h0M2.6 10.3h0M62.7 28.5h0M48.9 22.5h0M46.9 19.7h0M35 29.9h0M52.9 43.2h0M42.5 37.9h0M10.8 9.3h0M60.8 3h0M30.6 11.2h0M36.3 13.9h0M60.3 4.7h0M55 43.9h0M27 37h0M41.1 10.3h0M34.6 5.8h0M20.6 3.4h0M12 40.6h0M33.9 39.7h0M30.6 14.1h0M32.6 16.6h0M64.9 1.6h0M13.2 10.1h0M33.8 17.8h0M8.1 28h0M58.8 25.1h0M22.5 22.9h0M16.4 2h0M20.2 17.6h0M51.7 18.8h0M58.2 5.4h0M20.9 8.1h0M52.5 7.6h0M37.5 23.2h0M48.9 24.1h0M19.2 43.5h0M32.2 7.5h0M36.3 23.6h0M6.4 1.9h0M33.1 32.9h0M24 29.5h0M17.2 33.3h0M52.9 24.5h0M61.2 18.7h0M25.2 .4h0M25.1 35.1h0M51.4 19.7h0M29.6 27.9h0M3.6 23.9h0M56.4 5.8h0M5.2 22.8h0M40.7 17.4h0M27.7 42.9h0M66.1 45h0M11.5 14.7h0M17.6 41.7h0M41.1 25.5h0M5.8 36.5h0M65 10.5h0M19.4 .5h0M56.1 10.8h0M11.3 40h0M44.9 20.4h0M16.1 43.9h0M22.8 33.9h0M42.6 17.8h0M64.8 19.1h0M17.2 10.4h0M2.4 20.7h0M62 33.5h0M23.1 13.9h0M53.5 37.7h0M20.8 11.5h0M17.5 37.3h0M31.8 31h0M45.1 36.7h0M36.1 1.1h0M44.1 11.1h0M56.9 26.8h0M45.8 31.5h0M56.7 37.5h0M61.1 37.9h0M16.9 34.2h0M23.4 34.6h0M37.1 26.4h0M6.2 8.4h0M8.5 4.5h0M57.8 41.8h0M23.3 20.9h0M38.2 31.9h0M5.7 44.6h0M2 5.2h0M48.1 15.1h0M42.6 25.7h0M32 23.8h0M54.2 18.6h0M51 27h0M58.9 4.9h0M19.7 1.1h0M1.9 24.9h0M30.4 8.4h0M10.3 9.2h0M59.3 25.8h0M27.8 26.1h0M28.9 22.6h0M4.9 45.2h0M39 33.2h0M59.9 4.6h0M4 10.3h0M11.4 9h0M26.2 38.1h0M39.5 33.1h0M33.2 42.5h0M58.6 6h0M44.9 43.7h0M54.5 25.3h0M26.4 4.1h0M18.1 4.2h0M4.7 35.7h0M33.6 16.8h0M47.3 14.6h0M60.9 10.6h0M13.2 10.1h0M63.5 40.6h0M13.4 42.6h0M2.2 32h0M30.6 10.4h0M39.7 10.3h0M35 34.2h0M28.1 41.4h0M59.6 8.4h0M14 .5h0M23.5 3.4h0M20.1 5.6h0M32 11.8h0M61.7 36.6h0M23.7 24.6h0M5.6 2.8h0M54.6 4h0M24.5 10.9h0M14 10h0M14.7 42.8h0M16 29.8h0M16 42.7h0M59.5 23.4h0M62.9 33.3h0M59.7 24h0M5.3 3.5h0M56 44.1h0M27.9 40.8h0M60.4 14.4h0M50.6 35.7h0M44.5 10.6h0M3.5 15.2h0M17.9 24h0M23.5 18.4h0M20.9 6.3h0M18.6 30.6h0M18.7 41h0M58 21.1h0M19.7 30h0M59.2 37.5h0M14.1 9.8h0M3.2 43.3h0M18.6 18h0M51 13.4h0M48.1 .8h0M27.1 1.2h0M54.6 13.1h0M54.2 34.7h0M7.4 13.8h0M52.9 31.4h0M28 6.1h0M11.2 16h0M32.8 30h0M57.9 31.7h0M37 24.3h0M40.8 2.4h0M2.9 25h0M28.7 39.8h0M15.5 16h0M16.8 30h0M53.4 4.6h0M25.7 31.2h0M49.2 35.3h0M11 33.1h0M30 40.7h0M13 38.5h0M61 27.9h0M11.3 15.9h0M24.5 40.5h0M11.5 19h0M24.6 24.4h0M48.5 1.4h0M15.5 3.8h0M32.8 29.7h0M52.3 33.3h0M10.8 45.6h0M1.1 8.9h0M42 29.6h0M26 31.3h0M30.1 14.4h0M20.9 19.7h0M7.2 32.8h0M11.2 26.6h0M61.8 37.3h0M54.5 8.5h0M53.6 .6h0M15 12.6h0M45.2 45.1h0M14.2 22.9h0M19.1 33.2h0M.7 41.6h0M20 8.2h0M55 33.4h0M52.5 40.3h0M30.2 19.7h0M52.8 22.7h0M16.2 28.2h0M29.2 35h0" stroke="#2a1cf2" stroke-width="1.0" stroke-linecap="round" fill="none"/>
<path d="M58 36.4h0M4.6 25.4h0M29.8 2.1h0M19.2 .3h0M47 9.8h0M11.8 39.7h0M17.9 31.5h0M44.2 29.1h0M5.1 9.9h0M54.8 17.9h0M20.1 22.8h0M2.3 32.6h0M51.5 44.4h0M21 31.7h0M62.5 39.5h0M30.8 43.9h0M36.2 25.9h0M38.3 8.6h0M26.1 23.1h0M52.4 25.7h0M23 44.6h0M5.2 8.1h0M23.2 45h0M31.1 18.4h0M54.8 10.6h0M53.3 3.5h0M39.5 43.1h0M40.2 11.2h0M14.2 37h0M17.7 42.7h0M28.6 4.6h0M48.6 33.9h0M44.6 .5h0M24.7 22.5h0M60.9 4.3h0M28.7 16.1h0M41.7 20.8h0M21.2 22.2h0M36.2 1.9h0M21.3 11.6h0M18.5 16.4h0M18.4 16.8h0M45.6 10.7h0M63.5 3.6h0M19.6 33.3h0M43.6 14h0M18.9 32.8h0M25.1 37h0M60.5 7h0M44.9 10.7h0M37.7 41.1h0M42.3 40.2h0M22.6 13.1h0M36.1 16.5h0M34.9 11.6h0M13.9 27.9h0M7.5 10.6h0M6 31.7h0M10.5 12.6h0M57.1 23.9h0M31.1 15.1h0M34.4 35.7h0M24 6.3h0M12.2 32.2h0M31.9 42.7h0M14.7 32.8h0M26 12.9h0M47.8 14.7h0M14.7 20.6h0M28.3 3.9h0M65.6 18.3h0M24.2 5.8h0M9.8 8.4h0M4.8 25.2h0M43 39h0M17.4 36.9h0M49.8 2.7h0M13.1 9.3h0M58 34.3h0M4.2 11.1h0M10.8 28.8h0M28.6 43.3h0M55.8 13.1h0M18.1 23h0M27 36.5h0" stroke="#cc18aa" stroke-width="1.2" stroke-linecap="round" fill="none"/>
</g></svg>
<svg x="360.6" y="305.4" width="65.8" height="46.6" viewBox="0 0 65.8 46.6">
<rect width="65.8" height="46.6" fill="#0a021e"/>
<g filter="url(#b20)">
<path d="M25.9 45.1h0M22.9 35.9h0M63.4 41.6h0M64.7 20.6h0M51 38.9h0M19.6 21.1h0M60.6 36.4h0M20.1 36.1h0M7.6 18.3h0M37.7 14.3h0M.7 26.8h0M40.4 30.9h0M10.9 3.3h0M3 25.3h0M2.5 9.5h0M32.8 17.5h0M45.1 6.2h0M34 19.7h0" stroke="#2416bc" stroke-width="7" stroke-linecap="round" fill="none" opacity="0.75"/>
</g>
<g filter="url(#b4)">
<path d="M12.9 42.4h0M63.5 11.7h0M1.6 32.5h0M22.9 13.8h0M53 25.8h0M38.9 33.1h0M34.3 38.2h0M36.6 34.4h0M.7 22.4h0M59.5 22.7h0M45.5 24.7h0M5 13.2h0M11 40.6h0M12.6 13.3h0M16.2 28.2h0M46.7 11.9h0M54.4 21.1h0M32.7 17h0M30 1.5h0M23.1 45.6h0M20.4 4.3h0M57.2 18.6h0M42.7 13.9h0M8.3 10.2h0M50.5 25.1h0M43.6 34h0M37.7 31.7h0M12.7 8.6h0M28.8 39.2h0M14.7 36.3h0M48.4 5.1h0M1.5 27.2h0M45.8 38.4h0M47 27.8h0M23.7 43.2h0M17.6 21.1h0M7.3 26.8h0M49.9 28.8h0M56.7 30.8h0M50.1 13.1h0M61.9 27.3h0M36.1 17.9h0M51.7 46.1h0M28.6 34.2h0M53.5 15.9h0M20.2 24.7h0M31.6 18.7h0M19.8 .5h0M61.3 16.3h0M60.2 29.2h0M7.2 8.3h0M24.6 9.2h0M10 24h0M44.8 39h0M28.6 9.9h0M2.5 27.5h0M34.7 46.3h0M16.3 2.5h0M34.9 32.4h0M15.4 12.8h0M18.1 16.7h0M16.8 1.1h0M54.7 35.8h0M20.8 16h0M61.2 12.3h0M46.2 42.7h0M20 36.5h0M20.9 45.6h0M9.5 8.1h0M45.8 16.1h0M30 39.9h0M10.5 10.5h0M40.6 10.9h0M29.8 10.2h0M51.9 43.7h0M19.8 36.7h0M20.3 41.9h0M62.9 32.9h0M27 16.1h0M12.1 41.1h0M46.6 42.8h0M22 3.8h0M31.5 46.6h0M39.1 39h0M15.9 18.2h0M63.1 42.9h0M40.3 32.9h0M21.3 30h0M59.3 3.5h0M64.2 8.1h0M3 1.1h0M26.6 34.4h0M15.9 44h0M50.4 6.5h0M51.4 9.9h0M46.9 2.3h0M52.6 16.3h0M45.3 3.3h0M32.9 18h0M9.6 19.7h0M64 1.7h0M63.3 15.9h0M52.9 37.9h0M38.3 28.8h0M29.3 37.7h0M31.8 15.1h0M65.6 6.5h0M62.7 34.7h0M47.3 44.8h0M50.2 42.8h0M45.9 34h0M59.7 43.3h0M24.2 8.1h0M25 4.9h0M59.5 20h0M64.3 5.1h0M30.1 28.1h0M24.4 33.1h0M17.4 1.4h0M58.4 25.1h0M21.4 36.6h0M6.8 14.1h0M32.5 39.9h0M61.3 17.5h0M12.3 25.1h0M8.9 11.4h0M.1 45.3h0M55.4 29.6h0M36.8 22.3h0M65.2 44.1h0M42.6 30.6h0M61 10.8h0M32.5 26.5h0M21.4 27.5h0M38.4 43h0M30.4 19h0M36.2 .1h0M1.9 1.3h0M57.8 40.4h0M49.8 12.1h0M40.4 7h0M65.7 4.3h0M47.8 38.1h0M65.4 11h0M21.5 41.6h0M46 5.2h0M39.9 13.9h0M52.6 4.9h0M47.5 18.7h0M10.4 11.8h0M52.6 44.1h0M63.5 1.8h0M58.1 29.2h0M25.7 1.8h0M35.2 3.7h0M62.1 39.5h0M48.3 46.3h0M11.7 22.6h0M62.8 42.1h0M42.2 5.2h0M32.5 25.8h0M35.4 13.4h0M14.6 14.1h0M16.2 44.9h0M11.1 9.6h0M64.6 6h0M2.2 18.3h0M36.6 30.6h0M57.1 42.7h0M40.1 38.4h0M8 25.3h0M61.3 19.1h0M42.1 35.7h0M24 5h0M45.6 1h0M61 22.4h0M36.4 6.6h0M6.1 13.4h0M35.6 36h0M43.5 1.2h0M61.9 18.4h0M41.9 45.9h0M55 16.8h0M16.8 23.7h0M32.9 6.3h0M40.2 39.3h0M51.4 3.4h0M58.6 12.7h0M45.8 31h0M44.3 35.9h0M17.8 20.5h0M39 33.2h0M26.9 16.5h0M41.1 4.3h0M21.6 2.6h0M45.8 14.9h0M4.7 2h0M62.5 23.4h0M9.2 3h0M7.2 .3h0M41 .1h0M33.5 18.2h0M57 24.7h0M9.7 6.8h0M54 10.7h0M24.1 28.9h0M23.7 15.6h0M23.6 39.6h0M64.2 35.5h0M50.1 17.7h0M47.9 31.3h0M65 11.2h0M.1 23.9h0M46.5 14.8h0M64 9.2h0M42.3 39.7h0M64.8 18h0M48 6.7h0M32.9 6.3h0M51.1 24.9h0M56.2 42.8h0M32.8 8.5h0M.1 35.6h0M47 24.8h0M21.8 13.1h0M51.7 41.2h0M25.6 19.8h0M4.6 27.4h0M23.2 32.7h0M48.1 32h0M11.4 20.8h0M39.7 41.1h0M1.4 4.8h0M35.2 14.1h0M35 41.6h0M56.8 24.9h0M47.1 43h0M46.7 28.8h0M50.7 5.3h0M37.6 12.2h0M32.9 4h0M18.8 24.1h0M53.5 45.6h0M64.2 29h0M53.3 18.2h0M8 14.3h0M14.3 32h0M29.3 24.2h0M58.9 34.5h0M44.3 25.3h0M21.4 2.5h0M53.3 31.6h0M30.1 3.7h0M51.9 45.6h0M5.8 12.4h0M50.8 32.1h0M51.5 6.4h0M26.9 21.9h0M1.5 26.4h0M10.9 23.3h0M50.5 4.3h0M61.7 34.8h0M23.9 4.4h0M45.2 20.1h0M30.9 28.6h0M22.3 6.9h0M27 10.2h0M33.3 11.6h0M47.7 40h0M44.6 13.3h0M64.2 5.6h0M40.5 40h0M20.4 18.3h0M17.1 .7h0M63.3 18.7h0M54.4 .2h0M59.3 22.8h0M54.7 14.2h0M15.4 21.5h0M27 15.5h0M11.7 1.4h0M1.3 6.8h0M36.9 3.4h0M20.7 44.3h0M58.9 41.8h0M23.7 30.3h0M16.5 29.9h0M15.3 13.2h0M34.1 14.5h0M24.7 23.1h0M37.1 16.7h0M22.8 26.7h0M41.1 34.5h0M41.4 5.6h0M23.3 29.8h0M46.9 42.2h0M48.1 27.9h0M40.2 12.5h0M14.6 44.6h0M63.7 14.3h0M33.8 3.2h0M54.5 12.5h0M56 10.9h0M33.8 32.2h0M39.2 42.2h0M48.3 22.3h0M25.7 18.5h0M29.9 38.5h0M1.9 14.2h0M46 5.1h0M52.6 16.4h0M58.2 11h0M50.8 40h0M21.5 26.3h0M51 43.9h0M37.7 41.6h0M58.6 45.2h0M13.5 21.3h0M37.8 42.9h0M35.6 8.4h0" stroke="#2a1cf2" stroke-width="1.1" stroke-linecap="round" fill="none"/>
<path d="M20.3 42.4h0M27.6 3.9h0M18.7 26.7h0M10.8 22.9h0M31.8 31h0M18.3 8.8h0M30.6 8.5h0M36.8 18.3h0M12.2 24.7h0M18.3 6.4h0M8.9 26.1h0M34.2 28.8h0M44.7 3.5h0M63.8 43.7h0M17.1 7.9h0M52.3 3.9h0M42.2 14.4h0M63.5 6.3h0M32.3 5.9h0M19.5 11.6h0M16.7 27.8h0M.8 37.6h0M62.9 30.2h0M8.7 13.4h0M47.1 35.8h0M49.4 45.1h0M12.1 17h0M31.1 28.5h0M32.9 11.7h0M20.7 31.4h0M27.9 40.7h0M12.2 24.2h0M13.7 5.3h0M40.3 41.9h0M27 42.7h0M21.4 31.6h0M57.2 8.3h0M48.1 13.1h0M26.1 6.7h0M59 13.5h0M26.3 39.4h0M26.8 26.9h0M38.7 36.7h0M29.5 41.2h0M15 46.3h0M57.6 7.4h0M18.2 39.4h0M39.4 9.7h0M34.4 27.9h0M36.9 14.8h0M28.5 45.7h0M25.1 21.8h0M16.9 19h0M18.7 44.8h0M61.6 6.7h0M50.7 41.7h0M44 43.8h0M17.9 42.6h0M51.5 31.7h0M30.4 33.7h0M62.2 8.3h0M59.1 39.7h0M65.6 6.2h0M28.3 2.9h0M46.2 5.4h0M7.3 9.5h0M10.6 40.6h0M46.1 32.6h0M28.4 9.5h0M12.7 3.8h0M5.9 13.2h0M36.4 3.3h0M5.2 18.8h0M56 34.4h0M46.7 14.1h0M30.4 16.8h0M12.6 2.4h0M19.9 26.7h0M32.9 37.9h0M42 44.9h0M14.8 14.2h0M23.1 6.7h0M18.5 23.3h0M25.6 13.6h0M51.1 34h0M60.7 25.3h0M38.3 27.8h0M21.7 39.7h0M33.4 35.8h0M51.6 13.5h0M25.2 44.5h0M22.2 6.1h0M8.4 24.4h0M29.5 26.7h0M31.2 25.8h0M65.1 5.3h0M3.5 16.3h0M7.8 1.6h0M49.3 38.9h0M.4 8.7h0M13.9 17.7h0M65.2 3.7h0M25.6 24.6h0M13.3 15.7h0M46.4 31.8h0M52.4 32.6h0M22 6.4h0M3.1 20.9h0M7.4 13.7h0M50.4 27.3h0M58.8 40.1h0M47.5 43.6h0M36.2 5.6h0M32.9 42.2h0M47 43.3h0M51.3 3.1h0M26.4 39.4h0M25.9 17.1h0M23.3 21.9h0M38.9 7.2h0M32.2 24.2h0M23.3 46.5h0M19.6 24.8h0M19.7 28h0M20.1 19.7h0M3.2 15.8h0M29.8 28.7h0M50.8 2.4h0M21.2 11.3h0M30.3 42.3h0M61.2 33.7h0M61.5 23.3h0M40.7 6.3h0M47.6 12.4h0M36.5 10.8h0M33.7 18.4h0M57.8 24.4h0M50.4 12h0M33.2 24.6h0M20.4 19.3h0M1.4 7h0M21.8 31.7h0M38.2 33.2h0M6 10.2h0M61.1 6.4h0M11.4 25.9h0M30.3 40.7h0M56.4 27.2h0M29.6 20.7h0M64.9 5.2h0" stroke="#03000a" stroke-width="1.7" stroke-linecap="round" fill="none"/>
<path d="M31.8 35.6h0M44.1 4.5h0M53.4 43.2h0M49.1 8h0M59 6.7h0M51.3 24.7h0M4.6 1.8h0M42.5 35.4h0M22.8 35.6h0M24.9 21.3h0M45.2 32.1h0M42.6 6.5h0M45.4 36.4h0M49.5 29.4h0M39 11.4h0M65.5 45.3h0M17 30.6h0M49.5 22h0M19 16.4h0M65.8 9.9h0M64.6 30.2h0M36.2 5h0M4.4 23.2h0M60.6 30.2h0M14.2 17.4h0M44.4 41.6h0M26.3 37.7h0M61.9 44.4h0M40.7 38.3h0M4.9 33.2h0M22.8 39.6h0M23 38.9h0M21.7 25.9h0M41 5.6h0M5.5 16.3h0M28.4 29.8h0M63.3 43.9h0M4.3 4.7h0M58.9 33h0M34.2 26.9h0M41.1 4.9h0M31.3 42.3h0M35.2 8.3h0M4.9 3h0M28.1 45.3h0M9.6 20.6h0M20.2 17h0M14.4 18.5h0M64.5 6.5h0M54.7 37h0M30.2 32.2h0M36.3 46.2h0M3.5 35.3h0M43 45.3h0M4.8 24.9h0M53.8 31.3h0M25.1 38.1h0M60.2 10.7h0M28.3 46.2h0M64.3 27.7h0M25 4.1h0M.9 18.3h0M28.5 4h0M23.6 4.9h0M61.3 42.1h0M50.2 31.8h0M45 12.6h0M36.7 .1h0M21.2 8.6h0M20.9 36.4h0M42.1 31.4h0M59.5 8.6h0M29.6 3.3h0M48.3 35h0M2.1 16h0M16.2 32.6h0M61.3 40.8h0M25.4 1.1h0M24.3 12.3h0M46.5 15.4h0M55.7 13h0M58.8 43.3h0M35.7 1.6h0M51.9 39.9h0M20.9 13.5h0M10.3 29.9h0M33.1 43.9h0M17.5 6h0M18.6 38.1h0M21.5 16.2h0M57.3 28.4h0M26.1 40.6h0M9.4 9.4h0M53.6 31.9h0M6.3 13.8h0M25.3 23.5h0M65.1 22.4h0M54.7 37.6h0M39.8 30.9h0M5.6 42.4h0M60.6 3.8h0M14.1 14.7h0M11.5 11.9h0M6.4 27.3h0M22.1 38.9h0M57 26.7h0M56.8 11.8h0M64.9 12.1h0M34.1 36.8h0M31.5 5.9h0M65.1 40.5h0M32.4 15.1h0M.4 14.6h0M64.5 35.2h0M32.4 44.4h0M1.8 23.4h0M63.7 4.6h0M29.6 37.3h0M55.5 24.9h0M64.4 30.7h0M14.8 10.8h0M32.3 31.1h0M52.3 12.7h0M12.5 4.2h0M50 1.4h0M.7 20.5h0M53.1 45.7h0M17.5 16.4h0M7.2 6.2h0M46 36.1h0M13.3 45.1h0M35 12.4h0M53 11.6h0M65.2 39.2h0M22.1 45h0M59.3 28.6h0M19.1 14.5h0M19.7 15.3h0M61.7 26.9h0M41.3 34.7h0M54.4 45.6h0M2.2 12.8h0M32.3 13.9h0M46.8 16.9h0M31.5 19.1h0M51.2 25.2h0M25.4 40.6h0M28.9 46.2h0M8.6 4.4h0M45.8 41.4h0M3.3 15.9h0M47.9 33.6h0M36.5 32h0M57.3 27h0M24.9 9.7h0M22 38.1h0M56.4 16.9h0M15.5 45.6h0M3.6 18.1h0M26.8 32.5h0M13.6 20.6h0M50.4 9h0M43 1.1h0M10.3 14.3h0M54.5 21.8h0M36.7 1.3h0M61.5 14.6h0M42.3 39.6h0M26.8 16.1h0M50.2 37.5h0M59.9 18.8h0M22.3 23.5h0M39.1 31.4h0M54.5 29.3h0M55.1 4.6h0M26.4 39.7h0M25.7 7.5h0M22.7 21.4h0M11.2 21.3h0M48.4 3.3h0M21.3 31.1h0M23.4 43.5h0M31.7 13.4h0M31 5.4h0M37.6 43.9h0M42.8 .2h0M55.5 9.2h0M2.4 13h0M35 .1h0M65.1 19h0M.6 31.8h0M1.5 7.4h0M7.7 17h0M25.1 1.4h0M63.3 35.7h0M18.7 29.3h0M31.5 37.3h0M15.8 44.5h0M48.1 29.2h0M37.3 30.3h0M13 16.7h0M47.5 36.6h0M14.2 17.9h0M65.1 3h0M25.9 44.4h0M30.8 32.4h0M16.1 32.7h0M27.6 45h0M56.1 10.4h0M58.7 20.7h0M22.4 6.9h0M11.5 1.7h0M14.5 18.1h0M45 42.2h0M45.4 44.9h0M62.2 40.4h0M19 2h0M38.9 17.1h0M44.7 33.9h0M31.6 36h0M55.3 5.8h0M53.7 45.9h0M54.2 27.6h0M39.4 4.6h0M36.9 13.8h0M15.3 43.4h0M17 9.2h0M56.5 24.9h0M57.7 8.1h0M59.4 19.5h0M58.2 28.5h0M22.4 16.6h0M7.3 25.8h0M21 18h0M31.4 43.1h0M5.1 16.4h0M35.6 24h0M35.6 31.1h0M13.8 5.3h0M63.2 31.5h0M27.2 36.8h0M19.5 31.8h0M51.5 31.2h0M10.9 5.6h0M49.5 28.4h0M23.9 43.7h0M36.4 46.1h0M12.1 38.6h0M11.1 9.4h0M31.1 14.9h0M38.7 4.9h0M2.4 4.4h0M7.3 15.9h0M51.9 27.1h0M10.8 27.8h0M64.8 44.8h0M56.8 15.1h0M41.5 42.6h0M29.6 14.8h0M44.8 3.9h0M22.3 12.8h0M10.3 5.2h0M15 40.1h0M40.1 15h0M21.6 42h0M9.1 5.4h0M62.3 12.7h0M62.8 13.7h0M6.5 14.9h0M56.6 40h0M22.7 43.7h0M25.9 5.1h0M62.2 31h0M30.5 43h0M12.1 8.4h0M64 5.2h0M48.8 13.4h0M21.2 9.8h0M47.1 35.1h0M19.4 1.8h0M23.2 25.4h0M20 35.8h0M31 10.1h0M35.8 6.4h0M46.6 45.5h0M15.2 8.2h0M38.1 11.4h0M7.4 23.5h0M52 36.6h0M16.9 10.4h0M19 23.8h0M48.5 5.7h0M17.3 .8h0M52.7 43.3h0M21.5 17.5h0M0 10.9h0M31.4 15.8h0M40.6 7.1h0M25.3 43.3h0M14.5 46h0M.1 45.2h0M60.2 46.4h0M64.3 23.4h0M53.5 8.4h0M53.9 7.9h0M56.5 35.8h0M45 36.2h0M21.5 37.7h0M60.7 29.7h0M45 10.9h0M26.4 33.2h0M1 22.4h0M54.1 46.2h0M64.2 19.3h0M52.7 26.6h0M42.3 3.1h0M40.4 44.3h0M51.9 13.6h0M7.5 14.3h0M41.4 10.1h0M23.2 21.7h0M22.5 30.2h0M61.7 25h0M52.7 10.8h0M58.8 40h0M7.3 .7h0M27.5 11.6h0M.5 7.6h0M54 22.8h0M64.8 43.7h0M29.4 45h0M65 1.8h0M27.5 15.1h0M48 17.9h0M3.6 18.2h0M1.8 27.4h0M61.5 31h0M63.1 26.3h0M20.7 21.8h0M35.5 41.9h0" stroke="#d828bc" stroke-width="1.4" stroke-linecap="round" fill="none"/>
</g></svg>
<svg x="428" y="305.4" width="66" height="46.6" viewBox="0 0 66 46.6">
<rect width="66" height="46.6" fill="#08021e"/>
<g filter="url(#b20)">
<path d="M46.6 15.7h0M65 28.4h0M4.8 24.3h0M55.4 33.7h0M62.6 26.6h0M7.4 27.3h0M57.8 15.4h0M64.2 3.3h0M40.4 10.5h0M38.7 11.1h0M34.9 8.7h0M61 42.9h0M33.8 7.9h0M36.2 9.5h0M61 39.3h0M8.1 6.8h0M42.4 11.9h0M8 8.1h0M2.6 40.3h0M9.1 3.4h0M18.5 1.2h0M51.7 35.6h0M35.2 45.8h0M60.9 27.1h0M10.5 34.9h0M.4 44.5h0M52 31.4h0M8.2 37.6h0" stroke="#2416c8" stroke-width="7" stroke-linecap="round" fill="none" opacity="0.85"/>
</g>
<g filter="url(#b4)">
<path d="M51.8 43.9h0M28.5 17.4h0M57.8 19.8h0M44.4 35.1h0M13.6 26.3h0M64.8 11.6h0M.1 30.8h0M48.9 19.4h0M41.2 3.1h0M18.1 2.5h0M33.2 42.8h0M45.1 5.7h0M9 31.2h0M5.8 27.6h0M2.4 4.7h0M58.3 18.7h0M21.2 2.3h0M48.2 25.8h0M47.2 4.5h0M25.3 14.9h0M.6 20.2h0M34.8 23.3h0M47.6 21h0M31.1 8.4h0M26.7 10.8h0M28.4 30.5h0M31.7 10.6h0M49.6 6.3h0M55 41.2h0M13.4 8.4h0M36.9 1.8h0M33.7 22.9h0M52 8.8h0M49.5 3.6h0M34.2 19.6h0M46.5 31.2h0M.2 19.8h0M19.8 30.6h0M54.8 36.4h0M59.4 43.1h0M36.2 .9h0M46.8 41.1h0M60.2 20.1h0M8 23h0M10.2 13.8h0M11.9 39.2h0M63.7 38.5h0M38.8 41.1h0M60.3 19.7h0M24.9 13.9h0M12.7 38h0M21.2 19h0M39.2 1.8h0M40.9 4.5h0M33 11.4h0M51.4 26.5h0M29.9 35.3h0M59.7 19.4h0M46 7.1h0M62.7 3.7h0M42.9 18h0M6.6 6h0M26.3 6.9h0M34.6 46.3h0M50.3 40.9h0M30 8.5h0M2.7 26.4h0M27 31.6h0M20.5 13.2h0M42 42.4h0M29.7 35.9h0M1.7 23.7h0M57.6 1.2h0M51.3 20.3h0M5.7 29.8h0M64.5 17.3h0M8.7 24.7h0M4 45.4h0M41.6 22.2h0M4.9 17.4h0M0 6.3h0M31.9 13.9h0M31.4 31.7h0M2.9 43.9h0M41.4 25.6h0M2.5 44.5h0M25 11.3h0M46.2 22.4h0M13.6 4.7h0M57.8 37.8h0M64 31.7h0M28.6 42.7h0M4.7 21.2h0M57.1 25.1h0M52.6 36.2h0M19.4 44.6h0M2.1 35.7h0M.8 5.4h0M2.4 8.8h0M37.1 19.4h0M37.5 42.1h0M22 3h0M59.4 45.7h0M63.7 42.3h0M36 4.8h0M61.1 44.5h0M23.7 8.3h0M3.5 18.8h0M52.9 19.1h0M11.1 27.7h0M32 3.5h0M31 13.6h0M16.8 41.9h0M66 22.8h0M58.9 19.6h0M57 23.8h0M20.2 14.7h0M57.3 43.3h0M61 11.5h0M1.9 31.9h0M38.8 15.6h0M16.2 33.9h0M51.2 6.8h0M50.4 .8h0M22.2 37h0M4.6 20.1h0M64.1 45.4h0M46.4 36.5h0M41 19.1h0M2 22.6h0M.2 4.3h0M34 41.8h0M26.2 23.9h0M8.7 28.7h0M60 45.9h0M3.6 11.1h0M30.8 22.1h0M60.5 33.6h0M39.2 8.2h0M44.5 23.3h0M45.2 0h0M25.3 15.2h0M26.8 23.7h0M52.1 24.5h0M3.2 27.2h0M37.1 30h0M44.4 35.3h0M5.7 14.7h0M17.9 29.5h0M58.7 17h0M51.7 .7h0M16.6 25.2h0M48.3 41.6h0M63.6 12.5h0M61.9 7.5h0M38.1 9.5h0M7.3 15h0M46.3 32.3h0M10.5 16.3h0M39.2 38.1h0M66 5.4h0M3.3 38.4h0M53.8 14.6h0M53.4 32.3h0M22.1 32.2h0M52 23.8h0M35.5 9.4h0M4.9 3h0M52.4 46.2h0M53.5 40.3h0M30.8 5h0M60.4 25.3h0M38.8 33.6h0M15.3 43.6h0M37.2 28.4h0M22.7 26.5h0M11.1 10.1h0M46.2 33.1h0M32.5 35.1h0M35.1 9.6h0M10.1 42.2h0M22.6 9h0M7.8 22.2h0M4.6 20.7h0M16.1 44.6h0M3.1 23.6h0M54.2 35.5h0M9.4 14.3h0M37.3 34.1h0M60.6 25.1h0M9.1 1.6h0M37.7 40.8h0M16.8 32.4h0M49.6 .1h0M7 30.4h0M9.8 28.8h0M65.7 1.6h0M16.3 4.7h0M31.4 36.5h0M50.1 14.7h0M5.1 42.5h0M53 34.4h0M5.6 25.8h0M9.2 43.3h0M12 4.7h0M33.9 23h0M29.2 33.9h0M36.9 19.6h0M57.9 9.7h0M34.7 3.2h0M52.2 9.4h0M37.4 32.7h0M5.4 4.1h0M33.2 28.3h0M12.9 15.8h0M42.7 8.1h0M40.5 12.4h0M2.2 .4h0M52.9 44.9h0M15.5 34.1h0M50.6 7.4h0M63.4 41.4h0M3.2 11.2h0M48 18.1h0M8.6 1.4h0M58.9 43.8h0M29.6 34.5h0M44.3 46.3h0M61.9 42.7h0M51.6 24.7h0M22.3 45.7h0M48.9 45h0M27.8 41.2h0M32.2 34.3h0M33.6 42.2h0M54.9 14.1h0M65.9 39.9h0M52.7 31.8h0M28.9 6.5h0M6.6 16.7h0M41.4 40.7h0M25 32.7h0M39.3 42h0M60.6 .5h0M48.6 13.5h0M62.2 3.1h0M24.7 1.7h0M40.6 2.2h0M5.5 27.1h0M10.1 .4h0M58 39h0M33 39.6h0M38.8 40.7h0M6.9 1.8h0M44.9 13.9h0M37.7 34.6h0M33.7 13.7h0M62.6 17.9h0M29.6 24.2h0M2.4 25.3h0M40.5 7.9h0M46.3 21h0M62.4 17.7h0M5.6 42.9h0M18.6 44.6h0M43.7 16.2h0M33.1 37.3h0M57.9 6.4h0M19.4 4.4h0M34 12.9h0M18.5 30.6h0M64.1 9.5h0M34.6 19.8h0M37.5 15.4h0M12 13.6h0M60.5 23.1h0M62.8 .8h0M12.5 43h0M7.3 27.2h0M11.6 6.3h0M31.4 40.6h0M37 .7h0M14 46.2h0M51.8 24.3h0M15.2 39.5h0M24.1 39.7h0M63.2 31.7h0M56.4 23.3h0M23.3 29.1h0M29.9 14.8h0M25.4 20.6h0M56.8 37.6h0M57 21.8h0M62.9 2.7h0M55.9 31.3h0M1.8 39.4h0M21.7 28.3h0M3.7 30.2h0M43.5 16.5h0M22 37h0M60.3 .1h0M21.6 26.3h0M53.1 18h0M57.6 45.6h0M9.6 8.5h0M64.3 4.5h0M16.8 46.5h0M53.9 9.2h0M26.9 46.4h0M16.6 36.1h0M16.7 19.8h0M43.5 19.9h0M63.6 41.8h0M62.4 24.5h0M8.1 14.8h0M12 13.1h0M10.1 31.3h0M51.3 1h0M53.8 37.5h0M33.5 45.7h0M6.6 1.7h0M7.7 6.7h0M50.6 29.3h0M8.1 38.5h0M47.1 26.8h0M17.8 17.9h0M40 2.6h0M28.6 26.3h0M45.6 24.9h0M14.1 31.7h0M33.2 31.1h0M65.1 42.3h0M21 35.5h0M51.9 10.4h0M54.8 28h0M54.3 32.3h0M12 34.3h0M53.6 20.3h0M51.8 15h0M6.3 23.7h0M4.8 17h0M61.1 40h0M49.5 18.5h0M50.7 37.4h0M5.7 14.8h0M34.9 18h0M45.9 1.7h0M49.8 30.9h0M14.9 3.7h0M8.8 7.2h0M30.6 7.2h0M.8 17.4h0M2.8 1.2h0M53.8 27.9h0M28 28.7h0M11.4 28.2h0M42 40.1h0M53.7 35.7h0M38.6 2.4h0M59.2 30.3h0M39.7 16.8h0M5.8 5.2h0M59.8 21.6h0M26.2 41.9h0M32 15.3h0M26.5 23.1h0M40.6 33.1h0M2.7 35.1h0M47 43h0M23.2 5.8h0M64.5 13.4h0M55.8 42.9h0M48.1 13.3h0M33.7 26.5h0M18.1 27h0M38.6 28h0M29.5 11.9h0M56 4.2h0M31.2 28.7h0M65.1 8h0M62.7 30.1h0M3.2 14.9h0M9.2 40.9h0M43.4 41.5h0M3.1 20.4h0M56.6 6.5h0M22.5 28.7h0M57.2 10.2h0M14.8 1.9h0M37.6 30h0M2.8 6h0M30.7 29.3h0M3.1 41.1h0M36.4 28.8h0M42.3 17.6h0M39.3 18.2h0M48.7 23.9h0M3.5 17.5h0M4.2 41.5h0M5.1 20.6h0M48.4 19.4h0M1.5 9.4h0M27.2 11.7h0M54.6 10.1h0M62.7 31.8h0M10.7 42.2h0M9.3 31.7h0M33.5 39.2h0M5.8 6.5h0M37.1 11.8h0M35.1 6.8h0M42.5 7.5h0M.1 12.6h0M25.5 22.8h0M15.8 6.9h0M54.3 5.1h0M34.6 37.6h0M23.2 30.8h0M18.1 30.3h0M4.8 44.8h0M62.3 44.7h0M44.6 21.3h0M40.8 37.5h0M58.6 23h0M21.9 8.9h0M19.3 32.8h0M5.6 28.6h0M3.2 36.4h0M14.6 20.9h0M49.2 5.4h0M44.2 17.9h0M65.2 10.8h0M40.7 21.9h0M33.1 29.6h0M27.6 36.4h0M41.2 11.9h0M13.8 30.3h0M36.3 7.5h0M28.4 42.9h0M27.5 13.8h0M41 2.7h0M23.5 42.8h0M2.4 6.3h0M23.1 10.3h0M2.7 23.9h0M40.3 1.1h0M47.6 25.5h0M41.7 11.1h0M41.7 46.6h0M59.1 17.3h0M1.4 16.8h0M50.2 19.2h0M40.7 31.8h0M28.6 10.2h0M49.4 21.9h0M34.5 15.9h0M35.9 28.4h0M54.7 32.7h0M36.5 39.5h0M50.6 36.1h0M6.4 43.2h0M29.7 12.5h0M49.3 8.1h0M40.9 2.5h0M44.6 36.4h0M47.9 24.9h0M51.5 9.7h0M31.3 26h0M18.4 43.1h0M61.4 26.2h0M1.2 14.9h0M48.1 24.5h0M47.4 26.1h0M52.4 40h0M62.7 23.1h0M49.2 38.6h0M16.7 44h0M6.8 21.1h0M5.1 41.1h0M48.8 2.5h0M22.1 32.7h0M14.5 8.7h0M16 13.5h0M3.2 9.3h0M32 44h0M31.9 5h0M7.9 27.9h0M6.1 35.5h0M46.6 11.8h0M63.5 45.2h0M23.6 6.8h0M30.8 13.5h0M53.8 6.1h0M32.4 19h0M54.1 18.7h0M7.8 .8h0M28.2 17.6h0M26.8 34.1h0M.6 19.5h0M45.3 15.1h0M62.5 3.5h0M7.4 11.3h0M13.9 5.4h0M11.3 45.6h0M21 41.2h0M59.4 20.7h0M51.2 34.8h0M42 27.1h0M39.9 3.5h0M41.8 28.2h0M58.2 35.8h0M32.5 28.6h0M18.3 11h0M10.4 27.7h0M19.6 10.4h0M47.9 41.7h0M8.4 45.8h0M60 39.4h0M55.7 28.5h0M41.5 .3h0M35.4 2.8h0M59.8 13.2h0M42.2 2.7h0M54 9h0M4 14h0M44.8 27.5h0M12.1 4.8h0M63.2 8.9h0M43.2 30.1h0M5.2 35.9h0M53 35.5h0M6.6 3h0M43.2 44.7h0M47.8 .8h0M43.9 4.9h0M22.9 12.1h0M49 16.1h0M24.7 4.1h0M18.3 35.2h0M1 24.3h0" stroke="#2a1cf2" stroke-width="1.1" stroke-linecap="round" fill="none"/>
<path d="M19.1 30.4h0M61.5 6.4h0M33.3 28.8h0M1.4 6.3h0M63.6 41.8h0M6.4 4.3h0M37.3 24.2h0M8.3 23.6h0M61.4 22.4h0M29.4 15.6h0M41.2 44.8h0M38.7 16.1h0M45.8 25h0M40 18.8h0M6.3 35.5h0M20.5 3.1h0M24.2 10.1h0M46.9 1h0M55 27.4h0M6.8 34.2h0M26.8 27.8h0M19.5 7h0M22.1 27.5h0M64.9 31h0M33.2 34.9h0M49.8 17.7h0M3 40.8h0M9.7 7.8h0M20.2 32.5h0M28 19.3h0M10.4 36.2h0M48.7 29.3h0M59.2 1.7h0M54 36.1h0M31.5 17.7h0M64.9 36.8h0M62.6 1.8h0M49.1 12.8h0M2.3 38.2h0M58.8 36.7h0M35.8 26.5h0M6.2 31h0M18.7 38.2h0M5.4 9.1h0M25.1 23h0M28.6 28h0M34.6 .8h0M34.5 42.2h0M24.6 12.5h0M54.7 39.2h0M53 21.7h0M14.3 5.4h0M41.6 7.1h0M43.5 6.5h0M29.4 30.2h0M42.6 14.5h0M38.8 41.8h0M50.3 21h0M2.7 3.9h0M13.2 1.3h0M44.7 29.4h0M3.1 45h0M30.3 41.9h0M12.7 31.1h0M61.8 32.3h0M18.4 43.6h0M18.6 41h0M31 4.6h0M21.5 35h0M59.5 2.9h0M49 40.2h0M.2 25.3h0M59.7 29.2h0M61.7 32.9h0M16.3 39.7h0M32.3 5.4h0M26 .9h0M58.5 1h0M58.1 7.6h0M4.9 31.1h0M37.4 24.8h0M60.1 25.5h0M57.6 26h0M22.2 6.3h0M33.7 31.2h0M1.5 16.9h0M44.4 13h0M64.1 26.2h0M49.8 8.9h0M55.1 16.2h0M29.9 42.4h0M25.9 9.5h0M48 16.4h0M38.8 37.4h0M17.1 10.4h0M7.4 30.6h0M4.7 43h0M4.3 39.6h0M51.5 35.1h0M64.7 17.6h0M46.4 27.2h0M0 25.4h0M44 14.3h0M18.5 4.5h0M2.1 8h0M3.5 1.2h0M9.5 43h0M55.8 21.3h0M6.8 26.2h0M1.1 5.9h0M40.2 16.3h0M60.7 28.5h0M45.4 39.5h0M32.8 18.9h0M42.7 4.8h0M11.9 4.6h0M51.1 29h0M12 41h0M9.9 9.5h0M21.8 36.4h0M40 46.4h0M48.8 36.6h0M47.6 34.7h0M34.8 44.6h0M48.8 23.9h0M40.4 22.7h0M22.9 31.1h0M54.9 30.5h0M3.6 18.1h0M27.5 45.9h0" stroke="#03000a" stroke-width="1.7" stroke-linecap="round" fill="none"/>
<path d="M2.1 16.4h0M27.6 26h0M2.7 44.2h0M55.3 8.1h0M29.7 33.7h0M6.9 10.8h0M52.9 16.6h0M1.7 4.6h0M24.1 4.3h0M19.2 36.9h0M31.7 14h0M27.3 39.2h0M65.3 32.4h0M5.8 38.1h0M58 20.9h0M10.6 31.6h0M53.7 45.7h0M54.4 10.9h0M11 44.1h0M57.1 31.6h0M3.9 5.7h0M38 44.7h0M48.3 26.7h0M39.3 22h0M55.7 21.8h0M58.6 20.5h0M31.1 46.1h0M43.7 20.8h0M.7 19.6h0M27 17.4h0M53.5 15h0M48.9 27.4h0M39.7 36.8h0M58.1 6.3h0M18.5 1.8h0M38.5 2.5h0M19.3 42.1h0M26.4 18.8h0M18 36.7h0M33.7 22.6h0M56.8 7.5h0M1.3 41.7h0M52 34.5h0M53.1 24.3h0M6.2 9h0M46.9 6.4h0M39.7 18.9h0M61.1 35.7h0M23.5 5.7h0M35.9 29.6h0M2.3 22.4h0M9.5 15.1h0M49.3 43h0M6.7 16.2h0M33.9 43.9h0M59 37h0M10.4 35.2h0M44.6 1.9h0M27.2 23.7h0M12.3 7.4h0M27 .2h0M34.4 41.6h0M30.8 17.9h0M44.9 41.2h0M8 38.6h0M59.9 42.6h0M12.5 41.8h0M52.2 29.5h0M9.7 14.1h0M38.3 38.7h0M40.2 31h0M20.4 39.7h0M40.6 28.1h0M26.3 43.9h0M29.2 8.9h0M27.2 10.6h0M46.8 9.9h0M46.8 21.6h0M27.4 27.1h0M64.5 27.7h0M41.8 42.4h0M4 12.6h0M7.5 24.6h0M55.2 7.1h0M54.7 18.6h0M35.4 28h0M61.8 43.9h0M64.7 27.2h0M63.2 36.6h0M38 27.7h0M20.5 7.3h0M30.2 11.8h0M.1 43.5h0M13.9 45h0M33.1 12.1h0M26.3 4.3h0M36.5 14.5h0M.2 10.3h0M27.6 42.7h0M14.5 38.6h0M29 16.1h0M25.8 23.9h0M21.2 28.4h0M49.9 41.3h0M27.7 27.1h0M9.8 24.2h0M12.5 3.5h0M.5 11.7h0M24.8 25.5h0M25.7 45.9h0M37.3 40.9h0M15.5 11.5h0M35.6 .2h0M46.7 14.8h0M47.1 24h0M55.5 9.5h0M62 45.7h0M27 26.9h0M.3 26.1h0M27.8 36.3h0M49 32.8h0M65.2 .9h0M22.5 28.5h0M60.1 14.9h0M51.4 37.9h0M32.3 32.5h0M49.3 31h0M55.6 2.7h0M54.9 2.5h0M38.9 16.7h0M34.7 39.2h0M35.3 25.9h0M40.4 45.4h0M5.4 20.2h0M53.7 1.8h0M51.3 16.6h0M11.7 35.5h0M45.3 34.1h0M49.4 34.9h0M65.4 39.6h0M4.3 4h0M42.8 15.6h0M22 42.5h0M16 19.3h0M44.5 27.9h0M13.2 37.4h0M26.8 44.6h0M60.2 34.6h0M40.1 1.8h0M1 37.8h0M20.1 44.9h0M60 27.4h0M39.4 33.3h0M4.1 46.3h0M39.7 26.1h0M46.3 27.3h0M54.5 24.1h0M21.3 8.1h0M36 28.5h0M65.9 9.1h0M4.3 32.3h0M51.5 34.7h0M22.4 3.5h0M24 38.6h0M14.4 30.9h0M23.2 42h0M.9 28.1h0M19 33.9h0M35.3 19.6h0M65.1 21.4h0" stroke="#d828bc" stroke-width="1.4" stroke-linecap="round" fill="none"/>
</g></svg>
<svg x="496" y="305.4" width="66.6" height="46.6" viewBox="0 0 66.6 46.6">
<rect width="66.6" height="46.6" fill="#08021e"/>
<g filter="url(#b20)">
<path d="M43.2 29.6h0M21 27.3h0M63 45.9h0M28.6 28.9h0M45.1 5h0M18.1 26.7h0M58.2 20.1h0M54 26.7h0M55.3 43.2h0M21.9 18.1h0M58.2 4.4h0M30.1 39.1h0M13.5 25.1h0M51.9 9.6h0M29.2 17.4h0M28.9 3.6h0M60.3 25.9h0M57.5 31.2h0M4.4 16.6h0M10.3 13.9h0M51.1 36.2h0M1.1 42.3h0" stroke="#2416c0" stroke-width="7" stroke-linecap="round" fill="none" opacity="0.8"/>
</g>
<g filter="url(#b4)">
<path d="M6.1 28.5h0M56.1 36.7h0M31.7 28.4h0M28.3 4.2h0M39.5 28.7h0M4.6 22.4h0M16.4 18.3h0M40.7 12.7h0M23.1 1.3h0M47.7 37h0M66.1 21.6h0M26.1 17h0M41.3 26.9h0M5.3 21.1h0M61.5 14.6h0M40.7 45.6h0M7.8 44.3h0M22.3 23.8h0M20.5 13.5h0M29.7 30.5h0M37.8 4.2h0M48.2 21.3h0M5.4 17.6h0M62.2 33h0M61 13.9h0M8.1 2.5h0M45.7 1.6h0M.2 44.6h0M50.6 40.9h0M17.8 6.5h0M54.4 35.6h0M2.9 45.3h0M32.3 37h0M8.6 13h0M28.3 15.1h0M43.7 39.7h0M54.8 29.5h0M35.7 30.9h0M61.8 35.7h0M49.3 21.9h0M39.8 21.2h0M44.1 3.7h0M33.7 19.1h0M58.5 3.9h0M57.6 44.2h0M63.8 13h0M20 7.2h0M52.9 33.1h0M52.2 2.9h0M58.7 19.5h0M59.1 24.1h0M1.8 6.8h0M9.3 19h0M36.6 27.4h0M61.1 22.2h0M36.1 32.3h0M63.8 42.9h0M35.4 17.8h0M7.1 7.6h0M13.2 21.6h0M40.2 4.8h0M34.7 40.8h0M58.9 40.1h0M55.3 22.1h0M33.1 3.4h0M64.6 19.7h0M1 40.3h0M49.6 30.8h0M14.6 3.2h0M38.8 9.8h0M35.9 32.9h0M24.4 38.4h0M58.4 45.8h0M2.4 22.5h0M49.7 16h0M48.6 6.4h0M33.2 46.5h0M25.8 3.7h0M36.9 8h0M34.2 41.4h0M64.4 32.6h0M46.3 19.7h0M43.2 24.9h0M26.9 15.7h0M31.3 .5h0M49 28.4h0M22.7 34h0M49.2 22.2h0M36.3 4.5h0M48.7 18.8h0M51.2 40.5h0M4.4 7h0M29.8 4.5h0M.6 19.3h0M5.8 43.2h0M55.3 1.2h0M41.1 33.8h0M5.6 1.2h0M35.6 4.9h0M8 18h0M34.5 19.3h0M55.2 33.9h0M48.2 30.7h0M22.5 27.5h0M14.8 42.3h0M25.7 28.5h0M48.9 33.6h0M8.9 2h0M19 24.6h0M21 12.6h0M50 6.1h0M12.9 21.8h0M60.1 13.3h0M34.4 22.8h0M55.8 19h0M42.4 44.7h0M29.5 3.7h0M46.9 12.4h0M43.2 46.3h0M60 6.7h0M5.7 43.3h0M23.2 13h0M34.2 12.3h0M38.9 10.4h0M51.7 41.8h0M55.3 44.2h0M16.3 16.1h0M28.2 3.4h0M34.4 7.2h0M57.2 7.6h0M15.6 9.2h0M47.8 23.8h0M20.5 26.5h0M38.3 41.2h0M11.3 43.8h0M52.2 10.8h0M53.7 8.6h0M11.6 12.3h0M62.8 41.4h0M48.6 13.2h0M59.2 30.2h0M57.8 .4h0M62.2 11.8h0M58.1 26.1h0M1.3 18.5h0M30.5 42.8h0M46.6 4.1h0M26.6 46.3h0M48.3 20.9h0M17.3 43.2h0M9.4 18.6h0M31.1 27.9h0M56.1 34.5h0M38.9 37.4h0M50.1 14.2h0M7 42.7h0M48.3 9.8h0M36.3 19.8h0M21.1 5.7h0M48.8 12.3h0M4.7 18.1h0M21.7 40.5h0M13.5 2h0M63.9 22.7h0M18.4 38.5h0M31.8 17.9h0M32.8 28.7h0M.1 45h0M30.4 28h0M53.8 30.3h0M34.6 36.4h0M6.2 6.5h0M14.3 46.1h0M38.3 26.1h0M50.8 43.9h0M65.6 11.1h0M66.4 46.3h0M28.8 .2h0M46.8 9.4h0M3.3 23.6h0M60.3 4.1h0M35.7 39.3h0M36.1 43.4h0M60.8 4.5h0M33.3 29.2h0M5.8 17.2h0M58.2 46.3h0M32.9 3.8h0M9.7 2.7h0M44.8 34.4h0M27.4 28.9h0M66.4 13h0M35.6 25.6h0M15.4 8.8h0M52.3 23.7h0M62.3 15.5h0M24.7 33.4h0M52.5 27.8h0M65.5 32.2h0M31 16.1h0M63.1 24.7h0M45.9 .1h0M35.5 23.2h0M58.1 11.7h0M40.1 31.3h0M51.6 32.4h0M33 9.3h0M42.2 38.1h0M64.2 31.7h0M62.4 12.8h0M2.5 31.8h0M56.6 43.6h0M10.8 18.3h0M66.2 27.6h0M64 17.9h0M51.8 36h0M65.9 43.6h0M46.4 15.4h0M32.1 3.8h0M27.4 16.6h0M23.5 37.9h0M4.7 19.3h0M23.6 15.5h0M45.6 27h0M58.9 35.8h0M51.3 41.9h0M62.4 27.7h0M16.1 10.7h0M41.9 29.7h0M13.4 46.5h0M38.5 .5h0M40.4 26.1h0M64 .8h0M1.5 13.1h0M54.7 17.4h0M27.4 39.6h0M64.9 38.1h0M58.3 25.3h0M29 18.4h0M6.2 19.7h0M.8 22h0M27.2 .7h0M37.3 17.4h0M39.7 41h0M60.2 17.3h0M38.2 44.9h0M65.7 12.7h0M18.2 7.6h0M63.9 24.3h0M15.4 40.5h0M19 27h0M24.8 38.8h0M62.6 42.3h0M17.1 2.1h0M34.1 40.7h0M24.1 24h0M31.7 38.7h0M38.3 21.5h0M24.6 44.7h0M29.8 1.4h0M59.8 45.9h0M48.8 16.6h0M43.7 5.6h0M10.2 15.8h0M16 23.5h0M47.3 27.4h0M28.5 39.4h0M23.5 7.7h0M57.1 23h0M53.9 19.9h0M38.1 35.6h0M43.2 44.5h0M23.2 9.8h0M50.9 44.4h0M41.4 7h0M37 10.6h0M30.3 41.8h0M15.9 45.4h0M43.4 28.2h0M11.5 19.4h0M59.4 30.6h0M60.8 36.1h0M61 14.4h0M18.3 6.1h0M12.9 13.8h0M17.3 17.7h0M37.1 45.1h0M35 45.4h0M51.3 26.2h0M35 6.8h0M36.2 14.5h0M.1 17.8h0M4.2 22.7h0M31.7 6.2h0M60.9 21h0M21.9 29.2h0M6.9 20.4h0M36.7 6.9h0M8.5 7.1h0M57.2 29.5h0M57.8 28h0M38.2 20.9h0M21.7 23.5h0M11.1 44.3h0M31 10.5h0M57 42.3h0M12.3 41.1h0M35.9 15.5h0M1 30.6h0M36 41.9h0M43.9 40.8h0M46 32.5h0M63.1 18.6h0M66.2 27.3h0M16.6 22.3h0M45.9 11.4h0M16.8 42.6h0M42.5 19.4h0M46.8 9.3h0M51 6h0M38.7 30.1h0M25.7 45h0M65.7 29.4h0M13.4 10.8h0M53.7 17.1h0M25.4 24.1h0M22.5 5.5h0M21.2 17.6h0M22.3 1.9h0M53 41.6h0M51.1 38.1h0M25.2 15.9h0M54.9 34.2h0M29.9 21.1h0M40.4 6.4h0M49.5 3.5h0M52.2 2.7h0M19.3 .8h0M58.5 40.6h0M59.4 10.1h0M35.5 8.3h0M44.3 11.6h0M61 37.3h0M52 43.6h0M18.6 42.4h0M38.5 39.3h0M47 26h0M2.9 42.1h0M42.4 9.5h0M33.3 18h0M62.9 14.5h0M1.8 46.4h0M57.3 7.7h0M44 5.1h0M56.5 19.1h0M15.2 28.5h0M41.8 4.2h0M43.2 17.2h0M59.7 42.3h0M54.2 28.8h0M53.8 16h0M42.5 45.3h0M14.4 46.2h0M47.2 36.3h0M33.2 7.2h0M18.5 37.2h0M20.9 38.6h0M8.3 15.2h0M51.9 32.8h0M11.3 45.1h0M44.2 37.7h0M65.5 39.1h0M39.7 14.6h0M25.8 39.8h0M65.7 44.9h0M41.3 14.8h0M32.7 33.3h0M21.3 24.3h0M61.3 39.2h0M35.5 9.6h0M32 12.3h0M66 .6h0M29.2 12.8h0M36.5 27.8h0M30.4 .6h0M64.2 14.6h0M29.2 21h0M18.5 12.8h0M7.9 43.1h0M49.7 18.5h0M59.1 2.1h0M45.2 36.2h0M59.1 32.3h0M27.4 34.5h0M44.5 21.8h0M18.8 20.3h0M44.3 13.1h0M30.4 33.7h0M43.3 24.6h0M44.1 15.6h0M64.5 46.1h0M55.6 31.9h0M4.1 16.4h0M18.5 43.3h0M42.4 31h0M40.6 46.6h0M34.4 10.8h0M65.3 12.4h0M42.9 25.9h0M63.6 35.7h0M65.9 36.6h0M41.8 6.4h0M10.8 16.8h0M23.4 8.4h0M42.9 41.7h0M36.4 35.4h0M24.8 17.8h0M42.7 7.1h0M47.8 32.3h0M22.8 43.4h0M53.9 33.4h0M30.4 26.4h0M41.9 46.4h0M42.8 12.1h0M56.4 27.8h0M29.9 28.4h0M31.9 18.2h0M35.5 39.8h0M59.4 43.6h0M44.6 .6h0M56.7 1h0M58.5 18.7h0M31.3 17.6h0M51.2 38.5h0M61.3 13.9h0M66.5 17.5h0M36.5 27.3h0M13.3 1.6h0M39.9 3.1h0M47.6 30.1h0" stroke="#2a1cf2" stroke-width="1.1" stroke-linecap="round" fill="none"/>
<path d="M48.2 15h0M56.1 41.6h0M45 11.8h0M59.2 23.3h0M19.6 14.6h0M23.5 22h0M56.4 10.5h0M33 5.5h0M10.1 21.2h0M26.3 13.7h0M55.8 .8h0M3.4 3.4h0M.9 15.7h0M7.5 23.3h0M62.9 24.2h0M33.9 19.1h0M5 23.5h0M29.1 7.2h0M48.4 11.3h0M17.1 14.7h0M37 24.3h0M49.6 19.1h0M28.4 19.5h0M.4 42.1h0M19.9 35.7h0M50.8 39.2h0M47.1 40.7h0M66.6 44.3h0M28.1 27.4h0M4.2 3.3h0M59.8 1.4h0M29.3 33.4h0M16.3 13.8h0M51.7 18.7h0M17.6 40.7h0M63.3 29.7h0M14.6 39.9h0M3 42.8h0M31.7 24.4h0M.6 42.1h0M16.1 43.5h0M55.9 36.5h0M36.3 42.5h0M38.7 39.6h0M21.8 24.3h0M25.9 29.6h0M44.8 14.3h0M32.1 35.4h0M17.6 13.6h0M46.9 42.1h0M.9 3.9h0M10.5 46.4h0M64.3 7.9h0M29.4 37.3h0M53 41.9h0M8.2 17.5h0M41.1 18.8h0M17.7 17.7h0M23.6 42.5h0M47.5 16.6h0M36.1 16.7h0M42.1 38.1h0M24.9 14.5h0M44.3 1.6h0M21.3 10.2h0M32.9 19h0M14.9 9.2h0M43.9 26.2h0M4.7 42.4h0M3.6 14.4h0M5.7 2.4h0M34.6 2.9h0M39 28.8h0M43.8 25.8h0M10.2 45.2h0M35.7 1.2h0M46 2.7h0M22.2 21.2h0M54.2 28.4h0M52.9 13.5h0M57.6 17.5h0M54.4 12h0M21 4.4h0M55 31.9h0M43.6 16.9h0M31.5 35.6h0M42.7 2.5h0M21 40.3h0M46.5 45.5h0M25.2 5.1h0M34.3 20.3h0M34.3 43.3h0M50.7 15.9h0M41.3 31.5h0M21.4 24.4h0M51.8 7.6h0M22.3 17.1h0M43 20.9h0M.4 12h0M64.9 27.4h0M22.8 6.5h0M3.6 1h0M39.7 22.1h0M39.2 15.2h0M60.2 32.7h0M8.4 9.2h0M26.9 38.5h0M11.2 4.8h0M14.6 19.8h0M55.9 11.1h0M43.2 19.5h0M42 22.2h0M14.3 19.2h0M18.6 20.6h0M65.9 3.4h0M33.9 26.8h0M47.1 .3h0M1.7 23.5h0M37.3 24.4h0M44.4 3.3h0M13.9 17h0M21.1 45.6h0M56.6 35.6h0M42.4 38.3h0M53 13.3h0M24.8 36.3h0M66.3 32.6h0M64 33.5h0M44.3 3.7h0M64 25.4h0" stroke="#03000a" stroke-width="1.7" stroke-linecap="round" fill="none"/>
<path d="M27.5 11.2h0M26.3 3.4h0M46.6 32.1h0M66.4 28.1h0M56 38.8h0M45.9 4.2h0M45.5 11h0M20.5 16h0M37.4 36.2h0M10.5 32.3h0M22.3 8.7h0M42.1 7.7h0M11 46.4h0M25.3 38.2h0M35.1 0h0M36.4 14.4h0M10.2 6.2h0M41.2 12.2h0M14 3.5h0M19.4 23h0M23 35.5h0M30.9 .1h0M.1 14.6h0M53.9 37.5h0M22.2 44.9h0M35.2 29.8h0M46.9 40.4h0M48 7.2h0M10.5 16.4h0M24.3 46.2h0M27.9 11.6h0M14.1 11.2h0M39.8 1h0M57.9 17.9h0M49.7 25.5h0M1.4 44.1h0M15.3 5.2h0M25.6 42.7h0M29.3 36.7h0M21.5 14.5h0M4.2 10.3h0M63.5 20h0M57.3 3.5h0M44 26h0M24.9 19.3h0M18.3 22.6h0M57.6 30.3h0M35.9 5.2h0M3.5 9.9h0M37.4 18.2h0M53.6 10h0M64 2.7h0M44.6 22.3h0M56.8 3.7h0M52.5 34.5h0M35.8 35.3h0M44.3 26.8h0M21.4 39.3h0M16.8 25.5h0M.1 8.6h0M14.1 42.7h0M38 27.6h0M49.9 40.9h0M4.7 14.7h0M39.5 38.7h0M46.1 44.5h0M30.7 37.3h0M24.4 46.1h0M38 41.9h0M49.8 43.2h0M53 34h0M64.9 33.6h0M52.8 1.2h0M62.1 42.9h0M27.4 4h0M30.5 16h0M40.6 45.1h0M17.4 45.7h0M39.4 .5h0M3.9 27.1h0M3.4 2.6h0M47.8 29h0M54.7 2.4h0M35.7 19.4h0M15.4 42.7h0M59.3 30.5h0M54.9 37.4h0M36.8 44.7h0M3.9 41.5h0M27.6 13.4h0M34.3 41.7h0M43 34.2h0M45.2 16h0M52.6 27.6h0M9.2 8h0M7.2 20.2h0M50.9 40.3h0M53.9 12.9h0M46.2 16.6h0M25.5 6.7h0M52.7 20.4h0M13.2 13h0M14 23.6h0M56.7 46.5h0M34.4 7.1h0M53.7 37.6h0M37.7 5h0M60 24.3h0M34.2 10.2h0M18.4 27.6h0M64.9 33.8h0M32.8 35.1h0M24.5 44.4h0M25.5 12.9h0M60.6 30.6h0M10.3 14.8h0M19.8 1.1h0M2.3 43.1h0M40 6.3h0M32.3 39.1h0M11.3 12.5h0M33 19.5h0M66.2 17.3h0M40.4 5.1h0M.4 35.1h0M64.1 14.9h0M19.6 23.3h0M33.6 17.8h0M45 38.3h0M.3 18.9h0M33.7 38.5h0M4.6 45.2h0M22 4.3h0M25.4 3.1h0M22.1 1.3h0M21.7 18.6h0M43.7 41.9h0M37.4 38.1h0M14.4 7.9h0M55 37.1h0M29.2 35.9h0M29.8 4.1h0M57.4 39.7h0M30.1 25.9h0M63.8 21.3h0M7.6 20.4h0M37.5 .3h0M61.7 36h0M39.1 13h0M26.2 17.4h0M62.2 9.9h0M53.6 39.9h0M16.1 44.5h0M58 30.5h0M59.9 22.1h0M9.1 17.4h0M23.4 44h0M36.6 30.7h0M7.8 17.5h0M56.8 3.6h0M4.7 16.3h0M19.4 24.5h0M62.8 36.1h0M46.3 22.4h0M31.5 24.5h0M56.3 37.2h0M22.4 3.9h0M22.5 20.8h0M65.9 8.6h0M3.3 26.1h0M48.4 19.1h0M25.2 37.2h0M59.2 10h0M13.4 8.4h0M15 8.6h0M36.5 37.5h0M9.7 22.2h0M61.2 25.3h0M60.7 35.3h0M.4 14.5h0M57.5 17.8h0M55.9 26.1h0M2.8 10.2h0M8.5 21.1h0M54.1 23.6h0M.6 38.3h0M.4 41.7h0M43.3 18.6h0M23.4 13h0M26.1 23.9h0M65.6 11.3h0M55.1 41.2h0M42.3 41.8h0M41.6 40.6h0M7.7 19.2h0M49.2 43.1h0M17.8 23.3h0M34.3 4.2h0M46.8 26.9h0M44.4 10.9h0M1.7 25.2h0M66.1 27.2h0M7.8 4.7h0M12.2 43.1h0M38.9 31.5h0M26.5 3.7h0M42.6 14.9h0M13.5 3h0M59.8 34.5h0M24.6 10h0M65.2 44.9h0M36.4 19h0M54.9 26.6h0M22.9 45.3h0M61.4 12.2h0M65.1 39.6h0M65.8 44.6h0M20.5 37.3h0M12.5 8.3h0M16.9 14h0M21.9 39.3h0M42.3 .7h0M54.8 7.6h0M52.2 11.6h0M63.8 29.8h0M41.1 12.9h0M56.7 3.6h0M55.1 26.1h0M27.2 18.8h0M1.6 22.9h0M31.7 17.3h0M14.3 10.7h0M11.5 1.1h0M47.7 8.5h0M45.3 17.5h0M6.9 10.1h0M48.2 15.1h0M37.4 4h0M63.3 21.3h0M53.4 10.3h0M62.6 10.8h0M45.6 41.8h0M42.1 5.1h0M57.9 36.5h0M45.3 28.9h0M3.6 14h0M22.1 10.9h0M53.5 5.9h0M17.4 8.1h0M19.4 7.7h0M40.4 5.2h0M28.5 29.7h0M.1 20.5h0M8.9 1.8h0M52.9 1.1h0M12.3 44.6h0M3.1 20.4h0M47 26.5h0M64.6 20h0M58.9 12.2h0" stroke="#d828bc" stroke-width="1.4" stroke-linecap="round" fill="none"/>
</g></svg>
<svg x="360.6" y="354" width="65.8" height="46.5" viewBox="0 0 65.8 46.5">
<rect width="65.8" height="46.5" fill="#160340"/>
<g filter="url(#b4)">
<path d="M25.5 46.3h0M28 28h0M55.8 40.8h0M60.4 1.1h0M23.9 43.6h0M24.1 10.7h0M16.3 39.2h0M37.2 17.8h0M12.5 12.5h0M16.4 22.9h0M3.7 24.9h0M39.3 34.8h0M35.9 35.4h0M11.1 38.7h0M14 16.1h0M39.7 4.9h0M53.7 37.7h0M47.2 15.3h0M12.1 8.9h0M14.9 29.3h0M15.6 26.3h0M50.6 41.1h0M49.2 15.2h0M47.8 44.2h0M43 3.9h0M35.1 22h0M1 13.5h0M56.2 22h0M60.7 39.7h0M31.1 24.9h0M12 30.4h0M9.6 25h0M31.6 32.4h0M46.6 42.9h0M58.8 39.1h0M9.6 20.7h0M46.3 19.5h0M.1 27.4h0M7.1 1.1h0M11.2 10.7h0M14.6 18.9h0M49.1 28.2h0M26.3 17.6h0M30.2 16h0M58.4 18.5h0M49.1 25.8h0M28.9 27.5h0M51.4 22h0M43.6 13.2h0M44.4 10.7h0M18.7 43.4h0M45.6 29.8h0M19.7 26.7h0M19.6 10.2h0M42.3 6.2h0M2 30.8h0M23.5 15.9h0M41.6 40.8h0M43.1 5.8h0M50.1 25.4h0M61.2 4.9h0M23.3 3.8h0M19.8 21.4h0M29.4 16.1h0M48.6 43.3h0M37.9 21.4h0M52.7 28.5h0M40.4 11.8h0M36.7 32.2h0M8.2 27.4h0M39.7 26.5h0M46 43.1h0M62.3 43.5h0M54.7 7.4h0M47.3 33.4h0M34.6 21h0M24.9 17.5h0M26.6 9.4h0M53.3 27.2h0M63.9 23.8h0M63.3 44.4h0M6.5 24.6h0M41.4 42.5h0M27.6 35.5h0M16.6 16.5h0M26.6 27.8h0M17.4 7.6h0M1.8 7.8h0M57.2 39.6h0M20.3 21.1h0M26.5 26.1h0M15.7 1.9h0M36.6 44.8h0M54.6 28.6h0M7.9 19.4h0M32.5 45.9h0M40.8 33.2h0M31.1 34.6h0M11.7 45.6h0M62.3 31.3h0M26.9 39.7h0M.6 11.3h0M40.5 38.3h0M18.3 32.3h0M59.8 37h0M33.6 37.2h0M57.6 21.3h0M15.5 15.8h0M24.3 44.5h0M.5 29h0M11.9 8h0M24.6 19.9h0M50.1 12.2h0M45.2 2.3h0M22.9 14.8h0M9.4 24.4h0M22.9 13.4h0M18.3 36.1h0M25 31.8h0M46.1 38h0M54.4 31.8h0M33.7 15.6h0M62.6 3.8h0M6.8 4.8h0M26.2 41.3h0M61.6 31.8h0M61.4 11h0M36.3 15.7h0M36.2 41.1h0M10.6 23.9h0M5.2 5.6h0M22.8 23.4h0M2 38.8h0M.8 35.8h0M19.4 16.7h0M53.5 1.5h0M30.5 7.2h0M49 34.1h0M13.7 37.1h0M10 7.1h0M11.1 19.3h0M61.4 13h0M28.9 24.9h0M56.1 9.6h0M22 6.7h0M61.9 34.6h0M33 16.6h0M38.6 16.8h0M23.5 32h0M4.3 4.7h0M11.7 46.4h0M10.4 19.7h0M27.1 21.9h0M45.2 33.9h0M55.5 9.7h0M64 30.1h0M46 15.3h0M37.1 .8h0M56.5 17.6h0M43.1 26h0M38.4 12.4h0M46.8 9.6h0M58.6 22h0M60.2 1.6h0M2.7 3h0M33.1 4.2h0M35.5 6.4h0M6.8 29.1h0M59.9 32.6h0M3.9 25h0" stroke="#03000a" stroke-width="1.3" stroke-linecap="round" fill="none"/>
<path d="M61.6 9.5h0M60.8 39.1h0M51.1 27.9h0M23.1 5.3h0M9.4 3h0M58.7 34.3h0M27.2 40.3h0M35 31.8h0M3.3 43.8h0M18 17.1h0M25.2 21.7h0M43.7 12.4h0M38.6 21.9h0M15.1 37.8h0M8.4 27h0M17.3 35.9h0M17.2 30.4h0M27.9 28h0M35.9 20.8h0M48.2 37.4h0M2.5 3.2h0M33.5 35.4h0M48.5 32.8h0M22.4 24.5h0M37.1 4.6h0M43.6 1.3h0M34.2 20.7h0M32 39.4h0M46.9 27.9h0M31.4 31.5h0M42.7 11.9h0M28.8 7.7h0M61.7 20.4h0M37.4 41.1h0M28.3 19.2h0M3.4 21.9h0M24.1 25.8h0M45.5 25.1h0M17.5 40.7h0M48.7 9.5h0M57.2 19.7h0M6 26.9h0M36.1 28h0M44.7 14.7h0M59.6 3.7h0M1.7 34.9h0M8.6 27.1h0M11.5 16.1h0M22.7 24.2h0M8.9 29.7h0M41 11.9h0M65.2 21.6h0M2.2 44.6h0M27.5 26.5h0M50.6 38.5h0M46.6 42.7h0M61.4 45.6h0M36.8 15h0M22.5 30.2h0M47.4 29.4h0M4.6 13h0M26.7 35h0M39.1 33.2h0M62.4 31.4h0M49.8 13.1h0M47.8 40.5h0M45.4 13.5h0M61.1 18h0M38.3 17.1h0M30.7 39h0M39.3 41.6h0M56.2 3.4h0M59.4 43.9h0M14.6 37.2h0M44.5 29.8h0M11.3 41.2h0M24.3 21.8h0M1.9 8.9h0M62.4 13.7h0M61.8 9.3h0M47.7 20.6h0M44 .3h0M40 22.3h0M19.3 30h0M10.2 12.8h0M5.2 30.2h0M7.5 41.8h0M64.4 10.3h0M59.9 .5h0M44.7 35.2h0M52.4 28.6h0M12.5 38.1h0M50.4 16.1h0M24.9 14.6h0M47.1 4.2h0M51.6 23h0M29 20.4h0M25.4 16.6h0M31.2 5.1h0M17.8 25.6h0M29.7 1.9h0M31.5 21.4h0M21.6 2.6h0M29.7 41h0M14.1 2.2h0M12.7 20.3h0M38.1 20.5h0M51 30.9h0M58 45.8h0M58 10.1h0M12.3 33.6h0M62 39.6h0M50.2 11.3h0M31.9 27.5h0M44.5 27.9h0M44.1 9.4h0M31.1 21.8h0M6.5 8.5h0M42.5 21.3h0M29.8 43.4h0M58.1 25.8h0M40.5 36.9h0M64.3 28.4h0M31.2 4.1h0M49.5 2.2h0M19.2 9h0M56.7 29.3h0M37.9 .5h0M15.7 43.5h0M8.8 17.8h0M18.4 6.5h0M8.3 35h0M30.6 13.2h0M52.6 21h0M42.6 6.7h0M.6 14.4h0M2.8 40.2h0M27 5.4h0M50.6 12.1h0M52.1 28.8h0M53.4 5.2h0M50.8 9.5h0M62 37.2h0M1 11.9h0M60.3 26.6h0M27.6 29.1h0M5.9 23.8h0M28.5 46.5h0M.3 29.4h0M27.4 18.4h0M34.8 35.4h0M12.1 30.6h0M37.9 4.2h0M33.9 27.3h0M32.6 9.5h0M27.2 14.2h0M47.8 9.1h0M7.8 11.7h0M39.2 2.1h0M5.9 16.3h0M17.3 38.9h0M45.5 27.3h0M29.5 9.1h0M24.3 44.4h0M57.4 25.9h0M52.4 25.8h0M47.7 1.1h0M56.7 43.4h0M46.6 38.5h0M38.8 6.8h0M16.5 18.5h0M38.5 19.1h0M.3 29.4h0M32.6 16.6h0M39.9 28h0M45.7 32.3h0M63.6 36.8h0M57 2.3h0M47.9 12.3h0M57.4 7.2h0M24.3 24.2h0M3 31.9h0M59.9 7.2h0M14.8 10.1h0M16.2 26h0M1.8 28.9h0M52.1 13.5h0M43 11.6h0M45.4 16.1h0M7.5 5.1h0M17.5 33h0M63.5 1.4h0M52.6 7.6h0M56.6 21.9h0M16.7 39h0M52.1 19.6h0M24.6 32.5h0M25.4 44h0M62.3 27.7h0M54.6 5.7h0M28.4 18.4h0M25.4 15h0M54.4 9.2h0M6.2 .2h0M42.4 1.6h0M60.2 28.2h0M15 18.3h0M57.4 6.3h0M35.3 22.1h0M35.2 39.4h0M16.7 25.5h0M10.7 22.9h0M5.1 5.4h0M36.4 34.3h0M36.4 1.4h0M42.1 38.7h0M55.4 2.1h0M49.5 1h0M47.1 21.6h0M4.5 15.8h0M16.7 34.4h0M24 19.8h0M29.1 .1h0M0 13.5h0M49.1 22.1h0M10 4.8h0M45.6 23.5h0M1.5 16.6h0M65.2 21.6h0M61.3 45.4h0M2 10.2h0M58.5 2.1h0M10.4 17.4h0M50.3 17.4h0M8.3 27.1h0M30.8 22.6h0M4 33h0M27.6 6.7h0M52.6 20.4h0M41.7 3.6h0M19.1 26.5h0M38.2 39.7h0M22 28.5h0M45.6 1.5h0M18 31.3h0M1.3 38.5h0M35.7 17.5h0M27.9 38.9h0M18.4 20.2h0M42.2 15.4h0M31.7 41.3h0M54.2 42.9h0M33.7 19.2h0M11.1 40.7h0M1.7 33.6h0M38.2 33.4h0M.4 5.2h0M33.9 12.2h0M15.8 41.6h0M21.9 8.3h0M12.5 12h0M21.1 32.6h0M3.8 28.6h0M40.9 30.3h0M38.1 1.2h0M34.2 14.4h0M34.1 31.8h0M30.8 27.2h0M35.9 44.4h0M46.2 29.6h0M37.1 5h0M5 29.1h0M21.6 14.6h0M17.4 11.7h0M27.1 5.5h0M20.1 16.9h0M7.7 42.8h0M64.7 27.8h0M64 32.4h0M48.9 13.5h0M54.9 36.6h0M17.9 9.1h0M28.8 23.5h0M35.8 21h0M13.9 28h0M61.2 42.4h0M37.1 36.6h0M60.9 1.2h0M38.9 31.6h0M2.3 .9h0M60.4 42.6h0M18.2 46.3h0M25.5 33.1h0M30.6 6h0M61.4 26h0M31.8 1.6h0M16.3 33.6h0M61.4 31.3h0M56.8 38.3h0M41.1 16.9h0M30.4 8.5h0M52.3 14.9h0M54.8 10.4h0M5.2 6.7h0M39.8 28.9h0M64.9 16.2h0M56.5 3.8h0M2.9 32.3h0M30.1 10.6h0M36.6 22.1h0M45.6 19.3h0M23.9 26.5h0M35.5 15.6h0M24.9 34.9h0M26.3 22.8h0M7.3 11.9h0M46.9 41.6h0M35.6 15.7h0M39.8 37.1h0M65.3 1.9h0M4.1 20.1h0M2.1 25h0M24.4 1.2h0M8.6 24.1h0M59.1 11.7h0M25.2 28.5h0M57.8 28.5h0M49.6 16.1h0M16.1 39.9h0M41.8 6.2h0M47.7 4.3h0M51.8 31.9h0M57.5 18.6h0M16.4 43.3h0M1.5 23.4h0M19.8 5h0M13.6 46.3h0M6.6 43.4h0M21.9 33h0M24.9 1.2h0M40.8 5.2h0M3.3 7h0M59.5 14.3h0M37.4 16.5h0M23.3 4.1h0M.7 36.7h0M17.6 43.6h0M4.7 39.5h0M54.8 39.1h0M33.6 2.8h0M49.4 37.7h0M14.8 35.9h0M2 28h0M0 5.6h0M30.4 41.7h0M55.6 34.2h0M3.3 43.6h0M12.8 30.1h0M33.9 16.5h0M27 35.4h0M14.2 42.3h0M60.7 13.5h0M34.5 40.1h0M34.5 2.6h0M38.7 7.4h0M51.8 7.2h0M35.7 13.5h0M43.1 44.9h0M48.7 16.5h0M33.9 30.3h0M16.4 23.4h0M33.4 6.6h0M46 8.3h0M42.9 42.8h0M38.4 41h0M38.2 19h0M31.5 37.9h0M52.2 24.5h0M38.6 13.7h0M11.4 24.9h0M9 14.1h0M5 28h0M12.7 6.2h0M1.6 16.6h0M60.6 21.1h0M33.3 20.7h0M13.7 40h0M47.3 18.3h0M37.7 39.5h0M41.9 6.1h0M.6 2.2h0M19.1 44h0M37.5 8.3h0M37.7 28.5h0M50.9 34.7h0M44.9 12.9h0M15.5 6.6h0M17.9 15.1h0M27.4 8.1h0M43.7 37.5h0M35.8 20.1h0M13.7 36.9h0M10.3 9.9h0M21.6 37.2h0M35 9.1h0M4.5 40.6h0M63 42.1h0M52.6 24.6h0M54.7 10.2h0M3.9 27.9h0M35.2 35.8h0M31.9 12.2h0M56.8 31.6h0M20.4 9.2h0M37.4 18h0M22.8 23.3h0M55.5 26.5h0M10.3 37.8h0M25.2 4.5h0M9.1 14.3h0M.5 41.6h0M26.9 3h0M48.7 36.2h0M3.3 14.6h0M41.2 23.1h0M31.9 32.4h0M4.9 2.1h0M63 17h0M32.4 22h0M7.4 39.9h0M16.5 36.9h0M38.5 20.2h0M18.5 39.7h0M31.9 45.7h0M49.9 14.6h0M51.5 39.2h0M51.7 17.1h0M29.4 11.7h0M46.9 5.9h0M49.4 10.1h0M2.6 26.2h0M14.2 27.6h0M58.8 43.2h0M50.5 23h0M58 13.5h0M36.9 10.8h0M58.5 30.1h0M58.8 4.3h0M29.6 2.7h0M63.3 36.6h0M11.2 3.6h0M34.8 31.8h0M6 8.1h0M50.3 17h0M22.7 8.7h0M23.6 21.8h0M13.8 32.6h0M33.1 32.6h0M39.3 38.5h0M3.6 40.4h0M52.8 20.3h0M16 4.3h0M55.5 43.2h0M48.5 21.8h0M6.5 44.8h0M50.4 2.2h0M8.7 41.3h0M21 17.5h0M6.4 2.9h0M23 44h0M48.3 19.1h0M24.3 39.4h0M13.4 16.3h0M50.2 27.2h0M46.7 12.4h0M31.6 20.3h0M28.8 11.9h0M52.1 5.7h0M35.9 15.7h0M8.2 29.5h0M59.4 29.6h0M30.5 15.2h0M17.1 7.9h0M52.4 29.7h0M14.9 29.9h0M38.7 .4h0M49.7 31.5h0M5.5 12.1h0M59.8 17.5h0M43 24.8h0M35.9 .5h0M55 20.4h0M43.3 27.4h0M22.3 16.6h0M.1 14h0M3.7 22.4h0M23 11.5h0M38.3 29.4h0M0 .9h0M37.8 10.7h0" stroke="#2a1cf2" stroke-width="1.0" stroke-linecap="round" fill="none"/>
<path d="M39.5 26.4h0M2.2 45.2h0M9.3 30.5h0M28.4 34.7h0M44.3 32.4h0M31.1 6.5h0M8.2 30.3h0M15.2 23.1h0M33.6 39.7h0M13.9 43.9h0M43.3 45.7h0M42.4 2.7h0M61.4 6.4h0M37.6 18.9h0M15.3 43.6h0M37 46h0M44.9 5.8h0M36.2 32.7h0M31.1 7.2h0M58.9 9.3h0M56.2 16.6h0M28 8.5h0M22.3 11.8h0M58.9 18.1h0M3.2 41.9h0M44.3 26.5h0M32.2 .6h0M4.6 9.5h0M53.5 32.8h0M34.6 7.3h0M63.8 11.5h0M51.7 18.4h0M.4 21.3h0M35.2 27.3h0M28.3 1.8h0M60 42.4h0M57.9 36.5h0M48.3 21.4h0M17.2 19h0M4.9 38.2h0M18.4 12.2h0M34.1 31.1h0M45.9 42h0M46.9 26.4h0M58.8 30.2h0M63.5 22.9h0M5.4 22.9h0M59.5 33.3h0M31.7 26h0M4.8 44.7h0M15.8 18.5h0M18.1 .7h0M2.4 24.6h0M26.8 .5h0M8.6 34.8h0M3 32.4h0M25.6 25.4h0M45.6 13.9h0M47.8 10.6h0M32.4 24.9h0M25.2 24.4h0M52 25.5h0M7.4 6.7h0M26.8 28h0M39.8 5.3h0M52.7 42.4h0M23.6 13.5h0M13.7 29h0M.9 6.6h0M64.3 22.1h0M52.5 44.9h0M26.4 36.2h0M4.5 22.6h0M55 39.6h0M52.7 28.3h0M43.3 16.7h0M59 26.9h0M6.7 23h0M8.7 5.5h0M1.8 23.7h0M6.1 14h0M24.1 44h0M64 6.1h0M55.6 21.3h0M47.9 22.7h0M17.7 19h0M39.9 33.8h0M56.5 13.5h0M62.4 45.2h0M.1 21.7h0M11.9 20.8h0M6.2 43.2h0M63.9 9.8h0M8.3 21.9h0M48.8 14.1h0M43.4 34.5h0M12.9 21.1h0M61.7 7.6h0M28.9 22.2h0M5.2 46.1h0M16.9 28.1h0M60.5 0h0M50.3 26.5h0M62.9 34.4h0M10.7 1.6h0M56.3 17.5h0M37.1 10.3h0M40.6 24.6h0M61.8 12.8h0M61.4 9.8h0M54.9 11.2h0M61.9 34h0M13.6 37.1h0M61.5 34.8h0M29.2 9.7h0M14 25.1h0M23.1 9.6h0M46.8 7.5h0M8.1 40.4h0M4.7 10.1h0M18.4 36.7h0M23.3 29.1h0M24.4 13.8h0M54.3 3.4h0M23.2 1.8h0M43.8 12.4h0M60.6 32.8h0M50.6 21.2h0M37 25.9h0M.8 42h0" stroke="#c80c38" stroke-width="0.9" stroke-linecap="round" fill="none"/>
<path d="M8.6 21.3h0M40.8 27.1h0M17 17.5h0M51 23.1h0M49 32.7h0M51.8 27.5h0M44.6 40.2h0M39.9 17.3h0M60.9 16.7h0M45.2 6.9h0M51.9 3.7h0M35.2 23.4h0M53.1 35.7h0M28.9 40.5h0M47.7 14.1h0M34.9 31.6h0M60.2 24.5h0M15.6 42.2h0M63.6 10.2h0M24.5 33.9h0M62.4 19.4h0M6.2 17.1h0M5.2 37.8h0M14.6 11.2h0M47.5 19.4h0M43.1 6.2h0M.6 23.8h0M55.8 17h0M59.1 16.6h0M28.9 33h0M14.5 28.5h0M65.7 35.1h0M43.6 44.3h0M49.8 26.9h0M3.6 29.4h0M43.7 42.4h0M6.4 37.6h0M10.1 37h0M56.1 15.1h0M1 1.2h0M35.2 7.5h0M37 45.9h0M48.3 42.6h0M52.5 9.7h0M5.4 45.6h0M63.4 16.8h0M38.4 42.7h0M20.2 18h0M33.9 40.9h0M4.4 27.3h0M34.7 18.3h0M12.6 20.8h0M38.7 5.7h0M47.9 22.5h0M23.9 15.3h0M42.4 9.9h0M41.8 21h0M3.7 11.9h0M3.7 4.5h0M15.3 8.1h0M37.9 12.4h0M24.3 34.2h0M.8 11.4h0M10.3 12.4h0M7 16.1h0M50.9 .3h0M6.3 24h0M12.8 22.7h0M32.7 11.2h0M24.7 31.8h0M.4 9.8h0M36.4 4.3h0M29.8 45.1h0M7.2 13.6h0M37.8 14.6h0M34.9 5h0M42.7 21.1h0M62.2 39.5h0M10.7 4.4h0M7.9 36.5h0M21.6 9.6h0M3.8 16.8h0M40.6 45.2h0M20.7 37.5h0M64.2 18.6h0M11.7 1.5h0M16.3 10.1h0M38.7 15.2h0M47.6 26.4h0M39.2 30.9h0M26.9 30.5h0M4.3 21.2h0M30.1 21.1h0M50.2 28.6h0M3.6 23.4h0M52.6 42.4h0M21 42.6h0M21.8 37.9h0M56 10.9h0M41.9 23.5h0M47.3 43.7h0M11.1 45.6h0M1.6 .9h0M35.9 8.4h0M21.3 23.7h0M35.1 12.7h0M7.9 40.2h0M45.6 38.7h0M61.2 40.3h0M32.8 2.7h0M59.7 15.9h0M42.1 7.2h0M25.7 31.3h0M29.8 5.1h0M24 20.3h0M62.2 40.5h0M55.9 .1h0M62 32.6h0M2.4 22.5h0M60.2 19.1h0M37.1 13.7h0M64.1 15.3h0M11.5 35.5h0M39.2 38.7h0M41.8 15.9h0M53.9 24.9h0M34.8 15.2h0M23.9 .2h0M49.1 33.3h0M25.9 10.1h0M9.6 4.9h0M38.7 27.1h0M34.7 37.2h0M27.1 22.6h0M19.5 22.3h0M1.2 41.5h0M52.6 26.4h0M47 44.3h0M19.6 43.6h0M11.7 28.6h0M42.4 3.5h0M52.1 5.3h0M9.5 11.8h0M43.3 44.3h0M40.7 2.7h0M28.5 33.7h0M3.8 29.2h0M31.8 29.8h0M24.9 27.9h0M8.5 4.2h0M6.3 18.6h0M60.5 45.8h0M15 13h0M52.2 45.4h0M61.1 22.6h0M22.2 40h0M19.1 11.3h0M8.3 12.3h0M3 20.5h0M65.6 25.1h0M22.6 34.8h0M15.9 10.8h0M43.9 45.9h0M12.1 1.5h0M58.4 39.6h0M30.2 15.5h0M2.2 23.9h0M10.6 16.5h0M6.2 44.7h0M47.4 34.1h0M34.8 36.8h0M31.9 16.5h0M48.5 43.2h0M5.8 21.5h0M43.2 33.2h0M1.7 29.7h0M46.6 19.1h0M21 34.9h0M33.5 11.5h0M37.4 4.8h0M24.8 36.1h0M15.6 11.6h0M35.1 19.2h0M65.4 39.7h0M46.1 31.1h0M26.2 14.2h0M42.8 13.4h0M10.2 38.9h0M17 45.1h0M41.4 7.5h0M38.7 38.8h0M19.7 44.4h0M33.8 22.7h0M13.6 4.7h0M33.9 43.1h0M34.2 24.7h0M35.3 40.5h0M46.6 24.5h0M13.2 2.9h0M55.3 29.7h0M33.1 27.9h0M49.7 8.2h0M33.2 35.3h0M58 29.6h0M53.3 28.3h0M53.8 32.1h0M64.6 18.4h0M61.6 22.7h0M39.4 36.2h0M30.7 20.1h0M26.1 14.3h0M46.1 6.4h0M38.1 8.8h0M12.9 27.5h0M32.8 6h0M9.8 34.8h0M42.6 32h0M21.4 27.5h0M21.6 19.1h0M20.1 7.5h0M62.1 4h0M32.3 9.7h0M61.5 44.7h0M62.2 12.5h0M33.9 28.5h0M55.5 31.7h0M27.1 27.8h0M25.8 37.4h0M59.8 26.3h0M15.3 22.2h0M53.6 42.4h0M32.4 31.6h0M10 38.5h0M62 3.3h0M26.1 21.9h0M16.5 39.2h0M4.1 40.7h0M34.1 13.6h0M2.5 21.2h0M56.8 12.4h0M29.8 44.1h0M63.4 38.2h0M50.5 38h0M10.8 45.5h0M59.1 35.8h0M9.6 .8h0M54.9 9.6h0M3.5 5.1h0M40.2 32.3h0M1.5 35h0M14.2 41.1h0M21.6 28.6h0M59.9 27.5h0M21.6 3.2h0M41.5 43.2h0M21.1 30h0M18.1 33.3h0M34.8 36.4h0M13.4 22.9h0M9.9 26.8h0M2.5 10.5h0M5.1 36.5h0M23.1 20.7h0M3.3 8.8h0M61.5 8.8h0M46.8 34.1h0M19.5 30.3h0M34.4 44.9h0M8.5 15.2h0M33.1 33h0M14.2 21h0M50.8 8.7h0M2.3 7.1h0M32.6 21.7h0M63.2 1.8h0M33.4 4.4h0M15.3 10.4h0M37.2 24.3h0M59.5 11.3h0M42.7 32.5h0M39 35.9h0M17.8 8.5h0M8.9 1h0M64.6 7.6h0M32.1 26.8h0M15.7 41h0M16.4 41.2h0M48.1 27.5h0M40.5 3.2h0M45.8 2.6h0M1.4 43.5h0M34.4 .8h0M16.9 20.2h0M16.6 16.3h0M30.4 18.3h0M21.9 1.1h0M37.8 27.9h0M30.1 34h0M65.6 25h0M35.4 30.2h0M55.5 39.1h0M29.6 3h0M27.7 6.7h0M7.5 6.6h0M9.1 27.7h0M38.9 38.9h0M28.9 1.6h0M51 21.9h0M23.1 41.9h0M12.7 3.2h0M57.2 44.5h0M57.3 2.1h0M17.5 28.4h0M48.5 29.2h0M41.5 36.1h0M60.7 25.6h0M34.5 23.3h0M29.7 30.4h0M12.5 1.3h0M62.4 23.2h0M54.6 38.1h0M11.5 40.2h0M25.1 22.5h0M31.7 19.1h0M57.4 10.4h0M33.8 21.5h0M18.8 3.6h0M49.7 35.1h0M4.4 22.9h0M33.9 31.7h0M11.6 43.3h0M46.2 6.5h0M65.4 24.5h0M49 32.3h0M29.1 22h0M2.2 38.4h0M44.2 3.5h0M41 34.4h0M12.4 39.8h0M45.3 15.3h0M35.7 34.5h0M55.3 38.8h0M19.1 25.2h0M61.5 35.4h0M11.7 6.4h0M61.4 .6h0M8.7 1.6h0M40.6 1.6h0M18.2 43.1h0M16.6 20.7h0M22.3 35.9h0M1.6 19.8h0M3.4 44.8h0M61.3 40.6h0M29.5 43.7h0M50 8h0M27.9 23.4h0M9.7 28.7h0M48.1 3.6h0M39.1 35.1h0M57.8 38.2h0M46.7 5h0M43.9 29.8h0M24 8.7h0M24.2 4.4h0M42.9 24.4h0M64.4 12.5h0M21.5 7.6h0M60.4 21h0M51.7 1.1h0M57.7 38.2h0M33.7 11.4h0M38.6 45.7h0M12.3 23.5h0M64 34.6h0M1.1 5.9h0M29.8 13.5h0M17 25.7h0M47.3 29h0M53.4 8.2h0M13.8 3.7h0M40.7 44.1h0M12.5 14.8h0M33.6 8.2h0M56.5 10.9h0M47 5.5h0M65.6 18.2h0M30.4 18.9h0M36.9 13.1h0M34.6 26.4h0M7.7 19.1h0M55.6 18.6h0M39.4 .1h0M41.4 3.4h0M23.7 43.8h0M31 12.4h0M50.9 20.6h0M27.5 11h0M17.6 5.9h0M33.7 19.5h0" stroke="#cc18aa" stroke-width="0.95" stroke-linecap="round" fill="none"/>
</g></svg>
<svg x="428" y="354" width="66" height="46.5" viewBox="0 0 66 46.5">
<rect width="66" height="46.5" fill="#010004"/>
<g filter="url(#b4)">
<path d="M19.9 8.1h0M37.8 20.8h0M25.5 7.8h0M57.4 44.3h0M9.2 36.7h0M31.8 28.6h0M24 16.9h0M44.5 40.4h0M19.8 7.6h0M32.4 31.5h0M14.7 3.9h0M3.5 13.4h0M44.2 30.5h0M61.8 8.9h0M19.3 1.2h0M36.3 24.3h0M37.8 30h0M8.5 22.5h0M53.6 6.1h0M45.7 45.2h0M4.2 10.5h0M49.9 25.2h0M35.3 38h0M20.4 25.7h0M64.1 17.3h0M41.5 29.3h0M27.5 6.6h0M52.5 36.1h0M45.8 32.1h0M9.1 41.5h0M45.4 45.5h0M4.8 42.1h0M25.6 1.5h0M49.1 29.4h0M2.6 14.8h0M33 44.4h0M19 1.2h0M64.8 7.7h0M53.3 2.9h0M33.5 28.6h0M38.6 45.7h0M17.2 13.4h0M21.3 23.4h0M29.4 2.7h0M12.1 36.2h0M11.4 20.9h0M29.4 17.8h0M37.2 0h0M65.7 27.2h0M43.7 22.6h0M2 44.2h0M50 2.7h0M52.1 14.6h0M45.5 6.7h0M29.2 25.8h0M31.5 37.9h0M15.8 6.3h0M51.8 35.3h0M59.6 37h0M28.3 2.9h0M4.5 31.6h0M63.3 39h0M41.8 39.7h0M34 37.6h0M48.8 29.7h0M17.3 2.7h0M60.7 38.1h0M58.3 13.7h0M12.9 41.4h0M47.9 45.4h0M53.3 28.4h0M44.3 25.5h0M57.8 12.3h0M51.6 32.5h0M27 1.1h0M5 40.9h0M46.5 39.4h0M25.8 11.4h0M21.4 19.3h0M10.3 6.5h0M59.6 40.3h0M2.7 11.9h0M33.6 20h0M52.4 23.1h0M41.4 4.5h0M25.9 8.6h0M23.8 5.5h0M60 37h0M27.9 45.9h0M43.5 43.5h0M53.7 11.2h0M52.6 12.4h0M15.9 6.9h0M9.6 46h0M55.4 7.1h0M7 4.5h0M42.3 35.5h0M15.7 25.3h0M2.8 40.5h0M50.7 18.4h0M60.9 41.5h0M52 10.6h0M16.6 10.9h0M23.7 24.9h0M30.3 44.9h0M42.6 29.2h0M39.8 45.9h0M7.4 40.3h0M17.8 15.8h0M25.6 17.1h0M61.5 21.1h0M24 3.5h0M61.7 23.7h0M65.5 10.5h0M21.7 25.8h0M55.2 38.6h0M4.5 22.6h0M33.6 34.1h0M11.1 19.5h0M29.8 42.4h0M65.5 34.7h0M39.8 40.9h0M3.4 8.5h0M50.2 43.1h0M7.5 32.4h0M49.1 44.7h0M43.7 34.1h0M40.4 45h0M5.3 19.4h0M22.9 45.6h0M20.1 8.1h0M37.3 11.6h0M46 36.2h0M22.7 24.9h0M38.1 34.1h0M41.1 41.1h0M31.2 30.1h0M6.9 13.6h0M34.8 36.2h0M60.6 44.5h0M57 39.7h0M44.5 28.9h0M7.6 30.6h0M55.6 18.2h0M7.9 9.4h0M59 40.4h0M19 8.1h0M47.8 18.9h0M41.4 44.7h0M6.8 27.6h0M5.5 28.6h0M5.1 25.8h0M38.5 35.6h0M25.9 6.1h0M59.2 30h0M44 23.2h0M61.2 25.1h0M15.7 22h0M47.4 21.9h0M28.6 14.7h0M18.3 16.9h0M.5 16.6h0M0 33.3h0M43.8 36.7h0M39 34.3h0M51.6 3.3h0M44.8 39.2h0M17 17.6h0M57.1 43.2h0M15.6 23.1h0" stroke="#2a1cf2" stroke-width="1.35" stroke-linecap="round" fill="none"/>
<path d="M32.2 27h0M13.5 17.8h0M56.4 11.1h0M56.7 45h0M5.2 42.4h0M17.5 5.7h0M31.2 46.4h0M46.8 7.9h0M33.3 13.4h0M1.1 13.2h0M25.7 19.9h0M.8 29.7h0" stroke="#cc18aa" stroke-width="1.2" stroke-linecap="round" fill="none"/>
<path d="M61 33.9h0M18.2 5h0M45.9 26.5h0" stroke="#c80c38" stroke-width="1.4" stroke-linecap="round" fill="none"/>
</g></svg>
<svg x="496" y="354" width="66.6" height="46.5" viewBox="0 0 66.6 46.5">
<rect width="66.6" height="46.5" fill="#030010"/>
<g filter="url(#b4)">
<path d="M46.7 4.4h0M22.4 45.8h0M46.5 16.7h0M21.4 4.4h0M16 28.7h0M17.5 32.7h0M21.9 .2h0M2.8 1.4h0M44.9 38.6h0M36.9 36h0M36.9 7.3h0M15.4 17.2h0M37.6 38.2h0M55.6 18.4h0M54.8 14.3h0M38.9 31.9h0M46.8 33.7h0M46.9 11.8h0M56.9 34.5h0M55.7 12.9h0M26.2 15.8h0M56 24.3h0M42.3 40.3h0M24.6 24.3h0M39.2 3.9h0M44.7 39.3h0M45.7 38.8h0M11.7 19h0M15.3 3.3h0M44.3 6.6h0M55.6 23.7h0M29.4 39.9h0M21.1 40.7h0M47.4 30.8h0M54.2 23.6h0M24.7 32.4h0M11.5 33.8h0M7.2 42.9h0M62.7 13.7h0M22.4 31.9h0M63.4 22.5h0M56.9 30.1h0M48.4 38.6h0M8.4 13.7h0M46.3 8.2h0M5.3 26.7h0M7.3 34.8h0M57.6 6.4h0M43.4 27.6h0M62.8 35.8h0M7 9.8h0M24.8 20.2h0M8.2 41.6h0M46.8 14.5h0M26 7.9h0M16 11.5h0M58.9 25.2h0M4.8 41.7h0M21.2 1.7h0M49.9 34.8h0M53 5.4h0M59.9 7.8h0M41.9 46h0M47.1 18.1h0M38.3 42.8h0M50.2 18.1h0M50.1 31.7h0M17 32h0M38 8.1h0M54.6 32.5h0M59.7 7.8h0M57.6 40.1h0M.5 19.9h0M58.4 13.1h0M62.2 2.8h0M54.5 45.7h0M26 14.6h0M48.6 18.7h0M40.2 2.4h0M66.1 45.2h0M18.3 34.8h0M36.3 35.8h0M13.2 38.6h0M31.4 28.6h0M42.9 1.8h0M34.2 33.6h0M10.2 20.2h0M35.5 9.3h0M52 11.9h0M53.2 0h0M10.4 36h0M43.6 33.2h0M59.2 32.5h0M52.9 9.5h0M62.8 33h0M24.9 36.9h0M16.4 38h0M46.4 6.6h0M58.4 33.7h0M30.5 37h0M31.7 41.8h0M2.7 3.7h0M21.1 31.2h0M65.9 21.5h0M51.8 18.8h0M31.1 24h0M22.7 2.1h0M51.5 40.9h0M62.4 16.6h0M11.6 3.5h0M16.7 25.8h0M21.1 20h0M10.9 39h0M1.7 24.2h0M34 42.6h0M25.3 30.6h0M34.2 37.3h0M34.8 44.1h0M36.8 5.7h0M62.4 4.3h0M3.2 17.1h0M43.6 28.9h0M5.9 28.9h0M46.7 32.4h0M7.8 6.2h0M31.9 30h0M35.9 31.3h0M23.4 8.6h0M39.1 38.4h0M24.8 7.3h0M60.9 5.1h0M59.5 9.9h0M54.3 42.6h0M55.7 45.9h0M52.3 3.7h0M21.5 4.3h0M19.1 21.7h0M27.2 41.9h0M63.5 33h0M34.7 40.5h0M5.1 2h0M59 24.7h0M57.2 31.5h0M62.9 24.6h0M15.8 18.8h0M19.7 38.8h0M22.4 25.5h0M26.6 3.5h0M61 31h0M48.4 14.9h0M63.5 21.8h0M26.4 2.3h0M45.7 30.2h0M42.9 6h0M2 24.4h0M7.3 31.6h0M14.9 37.2h0M21.5 17h0M23.7 33.9h0M39.8 40.8h0M21 42.1h0M14.7 39.3h0M55.1 32.8h0M15.6 4h0M21.9 21h0M64.7 11.2h0M65.7 10.8h0M7.5 6.4h0M2.8 28.4h0M.8 34.3h0M14 13.9h0M56.2 6.6h0M52.2 45.5h0M55.1 13.4h0M11.3 39h0M5 17.2h0M41.1 38.2h0M46.8 33.8h0M54.2 20.6h0M50.9 18.3h0M10.3 28.1h0M3.4 6.9h0M66.4 16.4h0M63 44.8h0M22.2 41.2h0M61.7 37.6h0M19.5 21.4h0M45.2 33h0M60.9 21h0M48.2 2.7h0M57.1 14h0M47.9 .7h0M34.6 46h0M56.3 17.5h0M3.9 9.5h0M54.2 33.2h0M35.3 34.4h0M13.7 22.2h0M8.2 26.5h0M56.5 29.8h0M61.7 3.1h0M9.5 17.8h0M12.4 30.4h0M64.2 31.7h0M33.4 33.1h0M22 9.7h0M12.9 1.3h0M37.7 31.7h0M12.3 26.8h0M31.3 6.4h0M9 35.8h0M61.3 13.7h0M21.5 24.3h0M10.3 11.9h0M11.1 24.1h0M42.5 20h0M23.6 6.3h0M28.8 14.3h0M49.1 44.3h0M31.9 35.6h0M43.3 4h0M5.6 41.7h0M62.8 17.7h0M4.2 9.7h0M55 17.1h0M48.7 32.7h0M19.3 4h0M12.3 12.2h0M16.1 22.9h0M45.9 23.9h0M17.6 42.1h0M1.5 37.3h0M28.3 35.2h0M.2 1.4h0M63.6 22.2h0M33.1 2.2h0M58.5 16.4h0M62.2 4.9h0M24.3 39.8h0M60.6 41h0M4.1 36.1h0M56.1 40.6h0M48 8.4h0M33.5 6.8h0M1.7 26.8h0M42.1 40.7h0M4.9 39.2h0M33.1 34.5h0M19 22.5h0M48.4 15.6h0M2.5 14.1h0M45.5 3.4h0M66.2 24h0M36.1 4.2h0M50.9 26.4h0M26.8 35.7h0M8.9 10.9h0M58.5 8.2h0M63.2 38.1h0M65.9 37.7h0M40.8 9.8h0M53.4 36.3h0M63 34.6h0M4.1 39.2h0M48.3 26.2h0M3.3 10.1h0M4.4 1.2h0M30 1.3h0M46.7 2.7h0M63.3 35.9h0M27.8 30h0M10.5 44.9h0M17.6 11.6h0M27.4 31.5h0M61.9 35.9h0M9.2 42.6h0M5.9 1.6h0M47.2 26.8h0M9.4 43.8h0M51.3 10.2h0M50.9 6.8h0M5 33.5h0M27 42.1h0M2.3 14.1h0M56.8 23.7h0M7.8 40.7h0M9.4 25.2h0M15.6 22.5h0M37.2 41.8h0M45.1 2.4h0M51.7 30.9h0M26.4 44.3h0M49.8 24.2h0M16.6 6.3h0M49.8 33.6h0M57.7 .5h0M25.2 43h0M14.4 41.7h0M39.3 34.5h0M25.8 40.5h0M30.1 9.4h0M43.6 29.4h0M29.1 11.4h0M41.1 9h0M51.4 6.8h0M49.3 22.1h0M40.8 40.5h0M27 27.1h0M40.6 40.5h0M64.8 44.8h0M59.2 30.1h0M39.2 5h0M24.9 9.6h0M15.7 21.4h0M25 3.7h0M23.6 30.1h0M42 39h0M63.1 22.3h0M27.4 43.3h0M51.3 22.6h0M24.6 7.6h0M46.7 40.8h0M25.8 37.4h0M62.8 10.4h0M49.8 9h0M63.3 21.3h0M7.8 13h0M19.8 46.2h0M31.7 4.1h0M15.9 35.8h0M40.4 9.9h0M21.8 32.3h0M50.8 7.6h0M55.6 13.3h0M28.8 17.7h0M19.3 24.3h0M57.6 20.9h0M51.2 16.4h0M24.7 8.2h0M21.1 31h0M15.8 15.7h0M7.4 18.9h0M25.4 12h0M0 4.5h0M49.2 27.4h0M59.9 4.6h0M64.6 36.6h0M23.3 20.7h0M23.2 43.6h0M39 5h0M19.5 16.4h0M32.9 24h0M20 36.8h0M46.2 28.4h0M46.2 40.1h0M53.3 28.5h0M4.2 4.6h0M5 1.5h0M12 18.3h0M57.2 7.4h0M47 20.4h0M56.7 20.6h0M12.2 28.9h0M25.6 45.3h0M10.5 33.3h0M44.6 38.7h0M41.2 5.3h0M50.9 24.1h0M2.8 44.3h0M5.4 4.9h0M29.4 41.2h0M46.2 37h0M59.1 17.7h0M49.7 7.1h0M29.6 30.2h0M61.7 44h0M51.8 40.8h0M63.9 2.5h0M15.3 16.7h0M5.3 27.9h0" stroke="#2a1cf2" stroke-width="1.2" stroke-linecap="round" fill="none"/>
<path d="M45.3 27.8h0M57.6 26.8h0M42.1 35.1h0M51.3 44.3h0M2.6 27.6h0M13.4 37.9h0M54.3 35.6h0M2.9 6.9h0M11.5 45.8h0M57.1 38.9h0M47.6 27.4h0M50.1 21h0M61.1 32.3h0M26.2 11.4h0M9.4 41.6h0M63 15h0M.3 3.9h0M43.1 28.7h0M51.1 34.4h0M41.2 31.3h0M57.8 25.3h0M18.6 3.4h0M64.3 36.3h0M31.6 38.3h0M65 0h0M47.9 18.5h0M31.4 5.6h0M15.9 33.4h0M52.9 2.5h0M.6 32.3h0M36.4 40.1h0M8.2 30.4h0M29.7 9.1h0M26.8 12.9h0" stroke="#cc18aa" stroke-width="1.2" stroke-linecap="round" fill="none"/>
<path d="M14.4 11.3h0M54.9 .6h0M16.2 4.8h0" stroke="#c80c38" stroke-width="1.4" stroke-linecap="round" fill="none"/>
</g></svg>
<svg x="360.6" y="402.4" width="65.8" height="47.2" viewBox="0 0 65.8 47.2">
<rect width="65.8" height="47.2" fill="#180346"/>
<g filter="url(#b20)">
<path d="M53.3 42.9h0M20.6 18.9h0M27.7 16.9h0M10 10.7h0M58.1 9.1h0M57.7 37.2h0" stroke="#2a16b8" stroke-width="7" stroke-linecap="round" fill="none" opacity="0.4"/>
</g>
<g filter="url(#b4)">
<path d="M58.9 26.7h0M18.9 17.6h0M32.2 3h0M51.4 16.6h0M49.5 42.6h0M37.2 11.9h0M61.4 10.8h0M34.8 28.9h0M.4 34.7h0M65.1 3.6h0M47.8 14.8h0M20 .2h0M25.2 28.1h0M19.9 20.9h0M40.5 31.5h0M4.2 18h0M46.1 10.3h0M26.3 41.9h0M41.6 23.5h0M54 33.5h0M35.5 31.7h0M8.1 23.7h0M20.2 23.8h0M10.6 4.2h0M41 9.8h0M39.5 7.7h0M.7 35.4h0M49.2 35.5h0M36.3 1.4h0M46.8 17.1h0M34.2 35.8h0M21.4 4.3h0M36.5 8.3h0M41.8 28.3h0M51.8 21.3h0M3.7 27.5h0M30.6 10.1h0M62.1 38.7h0M46.2 2.8h0M30.5 39.1h0M13.5 29.4h0M40.9 3.5h0M58.5 23.9h0M27.8 27.2h0M40.7 11h0M53.9 17.7h0M59.8 39.9h0M47.5 16.5h0M45.9 2.9h0M59.8 8.6h0M11.7 29.1h0M22.4 25.4h0M24.8 21.6h0M7.2 14.8h0M35.6 18.9h0M44.6 10.5h0M33.6 12.2h0M51.5 13.5h0M52.9 19.2h0M31.9 42.6h0M4.4 44.6h0M2.9 5.8h0M7.6 23.6h0M39.3 39.9h0M33.7 6.5h0M15.1 .3h0M24.4 27.8h0M29 15.6h0M32.5 2.9h0M35.1 15.3h0M34.7 17.7h0M51.2 20.9h0M5 18.1h0M41.2 8.8h0M41.9 13.2h0M60.4 23.2h0M62.6 8h0M20.1 21.2h0M14.6 17.4h0M54.6 38.8h0M22.3 10.4h0M38.3 44.1h0M5.7 40.8h0M33.1 21.4h0M15.4 46.4h0M14.7 10.5h0M54.4 7h0M43.6 .5h0M33.2 1.8h0M42.4 23.2h0M13.8 9.8h0M9.8 46.1h0M33.2 1.9h0M10.9 9.3h0M40.9 9.5h0M0 46.4h0M36.6 36.9h0M.5 5.5h0M39.3 24.7h0M60.5 45.7h0M1.5 22.3h0M2 28.2h0M63.5 16.9h0M19.5 23.4h0M43.5 40.2h0M4.3 8.5h0M25.7 9.8h0M49.3 17.2h0M19.9 15.1h0M20.5 45.7h0M47.4 22h0M1.2 26.5h0M14.4 37.8h0M.1 .5h0M56 25.2h0M11.8 8.4h0M43.1 29.7h0M21.5 7.9h0M12.3 31.7h0M7 19.9h0M49.7 34.6h0M45.9 .5h0M22.5 19h0M41.3 4h0M38.8 46.1h0M63.6 20.7h0M27.9 9.6h0M31 34.6h0M25.5 16.4h0M46 36.3h0M.1 42.2h0M36 38.5h0M48.9 36h0M7.7 6h0M33.7 10.7h0M.3 25.8h0M51.9 10.2h0M62.7 5.9h0M62.5 34.7h0M20.2 25.3h0M34.6 17.7h0M50.6 33.6h0M50.4 16h0M57.1 3.5h0M6.1 36.1h0M53.3 29h0M12.6 38.4h0M45.9 39.6h0M34.3 23.5h0M30.6 31.6h0" stroke="#03000a" stroke-width="1.3" stroke-linecap="round" fill="none"/>
<path d="M21.5 8h0M30.7 5.3h0M54.5 32.2h0M58.7 32.4h0M37.7 8.6h0M9.6 40.4h0M54.3 9.8h0M63.4 31.3h0M51.6 36.1h0M21.8 18.9h0M17.4 7.5h0M37.6 17.6h0M54 14.8h0M7 1.9h0M32.3 46.2h0M58.1 31h0M50.5 1.2h0M51.1 28h0M14.5 1.6h0M45.1 3.2h0M33.1 1.3h0M41.6 1.7h0M62.8 36.2h0M3.5 .5h0M62.8 39h0M51.5 22.6h0M53.2 34.9h0M54.2 13.2h0M5.5 22.3h0M38.9 42.9h0M35.3 10.5h0M1.8 8.1h0M62.3 .2h0M42.9 44.1h0M32.1 40.9h0M40.7 19.2h0M25 2.7h0M13.8 3.1h0M45.3 30.5h0M0 20.2h0M2.6 28.5h0M60.3 31.2h0M49.1 39.4h0M28.7 2.4h0M37.8 28.2h0M49.5 26.5h0M34.6 9.4h0M12 4.8h0M29.2 28.4h0M6 5.1h0M64.8 36.4h0M8.8 46.5h0M29.2 9.4h0M57.5 18.4h0M15.6 24.6h0M63.9 11.7h0M39.4 25.2h0M1.6 4.8h0M6.4 29.4h0M53 8h0M33.5 27h0M39.2 10.1h0M45.4 26.5h0M63.6 10.1h0M14.1 6.3h0M43.8 19.6h0M35.7 32.2h0M10.5 30.1h0M7.3 32.8h0M56.6 7.9h0M38.7 6.6h0M47.7 19.8h0M12.3 16h0M46.4 38.4h0M42.2 24.2h0M13.7 7.3h0M.8 44.2h0M17 31.7h0M43.7 28.4h0M34.9 38.4h0M6.2 18.5h0M47.2 32.3h0M7.2 17.7h0M2 23.4h0M2.4 43.1h0M41.4 40.1h0M5.7 19.5h0M10.1 18.7h0M38.3 39.1h0M64.1 16.3h0M52.5 39.3h0M60.2 11.7h0M51 3h0M38.6 43.1h0M16.8 16.5h0M39.3 16.3h0M43.5 5.2h0M6 3h0M12.8 25.6h0M15.6 16.5h0M58.7 34.1h0M60.6 43.4h0M19.9 8h0M37.7 37.7h0M11.5 17.7h0M5.3 38.9h0M19.7 21.1h0M46.7 2.4h0M28.6 15.8h0M58.3 3.3h0M43.8 26h0M15.7 39.8h0M22.6 45.9h0M37.5 32.9h0M27 10.3h0M2.6 31.1h0M30 21.7h0M30.5 39.8h0M12.2 40h0M33 17.3h0M26.4 11.5h0M30.4 27.7h0M25.9 18.8h0M34 22.8h0M46.5 13.5h0M23.7 12.2h0M4.8 37h0M24 5h0M59.1 11.8h0M8.8 29.9h0M60.1 21.7h0M7.3 34.8h0M23 36h0M.2 16.8h0M53.3 38h0M36.4 24h0M16 24.3h0M14.9 14h0M65.6 18.3h0M47.8 14.7h0M32.7 26.7h0M5.2 31.1h0M31.9 34.1h0M5.8 12.2h0M11 14.5h0M57.5 37.7h0M15.9 14.7h0M44.2 45.3h0M21.7 15.5h0M11.8 20.7h0M.9 40.4h0M52.7 42.4h0M21.2 25.2h0M2.8 6.7h0M65.6 12.1h0M48.5 40.1h0M56.2 9.2h0M35.7 45.2h0M59.5 14.5h0M1.8 1.1h0M15.3 19.2h0M48 42.8h0M59.2 11.3h0M41.4 30.6h0M53 36.8h0M52.2 5.7h0M36.3 10.8h0M30.6 4.4h0M54.8 14.3h0M39.6 32.7h0M50.1 27h0M8.2 13.8h0M58.3 29h0M63 20.3h0M41 3.5h0M53.8 42.9h0M47.3 3.1h0M10.8 25h0M64.5 9.3h0M64.3 13.3h0M46.5 40.9h0M28.8 38.8h0M18.1 5.2h0M29.6 35.2h0M53.2 42.2h0M53.9 37.6h0M59.6 20.6h0M51.6 34.2h0M7.5 17.8h0M10 39.2h0M64.4 9.9h0M39.9 .5h0M33.4 15.7h0M42.3 19.9h0M10.9 13.5h0M57.3 14.7h0M59.4 12.2h0M60.9 2.9h0M25.1 43.4h0M39.8 33.6h0M3.4 41.4h0M59.6 31.3h0M31.3 33.3h0M28 17.3h0M1.6 18.3h0M40.6 26.9h0M3.3 17.1h0M38.6 47h0M50.2 36.1h0M51.5 46.8h0M55.3 46.4h0M8.5 26.9h0M60.6 27.1h0M24.1 2.2h0M61 34.5h0M27.2 41.5h0M28.1 22.6h0M45.8 .3h0M5.6 23h0M22.1 36.6h0M2.3 32.2h0M57.3 13.2h0M31.2 28.7h0M64.4 29.6h0M30.1 33h0M2.7 8.3h0M17.5 16.1h0M57.7 9.5h0M9 42.6h0M62.8 14.8h0M8.2 25.8h0M36.9 15.6h0M63 29.3h0M46.3 34.2h0M27.2 5.7h0M4.7 3.1h0M30 44.7h0M.3 26.1h0M37.4 23.4h0M36.7 5.3h0M33.5 .2h0M45.3 13.7h0M34.7 20.5h0M47.1 27.4h0M13 7.6h0M38.7 26.7h0M40.6 37.7h0M55 22.4h0M14.7 14.6h0M61.8 3.1h0M58.1 23.6h0M29.2 24.1h0M26.7 28.9h0M24 11.8h0M12.5 15.7h0M51.4 22.4h0M6.7 32.4h0M52.4 6.3h0M31.9 32.2h0M1 38.8h0M16.1 17.3h0M60.8 6.4h0M21.9 45h0M12.4 24.7h0M46.8 38.3h0M16.8 4.3h0M33.2 5.2h0M17.3 24.7h0M10.2 36.7h0M59.6 8.6h0M49.8 38.1h0M21.3 12.4h0M40.6 .8h0M13.2 3.4h0M61.7 13.8h0M46.8 16.1h0M8.9 29.5h0M32.7 .8h0M38.9 7.4h0M53.7 33.9h0M20.6 15.8h0M55.3 11.2h0M65.5 6.5h0M53.2 5.5h0M46 39.7h0M18.7 9h0M11.6 8.8h0M48.6 23.3h0M49.6 .5h0M38.4 4.4h0M33.1 4h0M54.2 40.3h0M53.6 22h0M41.4 16h0M51.9 9.1h0M28.6 12.9h0M12.5 27.1h0M5.5 5.7h0M54.6 4.3h0M52 42.6h0M13 43.7h0M58.5 34.3h0M4.2 14.9h0M65 34.6h0M42.9 35.8h0M11.3 38.9h0M32.2 19h0M64.9 46.5h0M14.4 23.3h0M32.8 25.9h0M35.8 22.8h0M52.9 29.2h0M13.5 24.1h0M65.5 .3h0M35.2 15.5h0M4.1 25.1h0M60.1 41.9h0M29.9 9.9h0M55.6 11.9h0M42.7 10.4h0M58 13.3h0M22.3 31.1h0M23.8 24.7h0M62.1 29.8h0M34.7 40.4h0M30.4 39.3h0M24.8 41.8h0M23.2 45.5h0M55 13.8h0M12 37.6h0M7.7 27.1h0M12.2 24.6h0M46.1 2h0M23 12.1h0M53.7 33.6h0M3.7 32.4h0M32.2 16.7h0M16.4 27.4h0M60.6 12.2h0M7 29.4h0M5.1 10.4h0M4 3.7h0M49.1 9h0M60.5 14.1h0M8.4 24h0M9.5 35.9h0M11.1 44.6h0M47.3 15.3h0M53.1 3.5h0M23.9 46.3h0M2.6 33.5h0M20.3 19.1h0M52.7 32h0M50.7 35.1h0M63.5 16.8h0M31.9 30.6h0M15.5 2.5h0M60.1 46.2h0M17.9 11.7h0M53 4.7h0M10.4 10.6h0M22.8 1.4h0M10.4 28.9h0M18.8 4h0M11.8 40.3h0M31.5 27.4h0M64.5 28.5h0M11.3 20.6h0M40.7 34.9h0M21.9 .5h0M23.7 28.5h0M3.8 14.5h0M14.4 21h0M60.3 2.7h0M19 .6h0M63.4 6.5h0M39.2 37.6h0M3.3 30.2h0M28.7 45.8h0M5.6 35.2h0M31.6 30.5h0M10 30.6h0M21.1 37h0M27 26.8h0M12 36.2h0M37.9 7.3h0M25.8 3.6h0M18.9 .8h0M65 13.3h0M30.5 5.7h0M1.7 6.1h0M65 16h0M47.8 13.7h0M51 13.5h0M63.9 28.4h0M18.5 12.6h0M7.6 11.7h0M45.1 43.3h0M39.7 43.7h0M18.1 11.6h0M19.5 .8h0M45.8 43.7h0M12.1 43.8h0M40.6 31.2h0M6.6 23.7h0M8.5 32.2h0M35.4 25.3h0M17.8 23.9h0M46.6 41.3h0M61.4 32.3h0M42.9 12.6h0M25.7 25.3h0M5.6 1.2h0M55.2 16.8h0M15.1 26.8h0M38.7 20.9h0M61.7 13.7h0M41.9 44.4h0M8.1 24.9h0M26.7 21.1h0M65.1 32.1h0M12.1 44.8h0M57.7 3.8h0M53.1 23h0M2.2 39.9h0M65.2 42.3h0M33.9 1.8h0M32.5 25h0M39.2 31.6h0M64.4 25.9h0M48.3 27.1h0M60.7 8.8h0M55.1 7.6h0M61 14.8h0M22.1 24.3h0M42.1 25.9h0M65.4 12.2h0M21 17.2h0M55.1 4.1h0M25.1 20.1h0M6.1 10.9h0M43.2 26h0M24.7 20.8h0M42.5 37.5h0M18.8 5.3h0M55.9 5.4h0M28.7 6.3h0M61.3 40.6h0M6.6 6.9h0M46.9 9.4h0M18.6 22.1h0M33 21.2h0M56.5 13.4h0M24.1 6.9h0M12.2 29.4h0M20.2 17.4h0M4 9.6h0M40.3 45.3h0M41.8 19.4h0M58.9 15.5h0M57.8 2.1h0M34.1 44.7h0M24.8 23.3h0M25.4 4.8h0M32.7 19.2h0M52.4 8.8h0M3.5 43.1h0M8.6 43.3h0M37.1 25h0M11.2 21.8h0M40.5 .6h0M49.5 28.7h0M55.1 22.1h0M59.2 36.7h0M26.9 10.4h0M29.5 1.1h0M36.2 8.9h0M4.7 32.9h0M37.1 24.9h0M12.4 40.9h0M1.4 4.6h0M26.4 11.6h0M26.4 43.3h0M62.2 10.4h0M13.9 16h0M19.9 4.6h0M45.4 4.7h0M27 5.2h0M54.8 15.9h0M8.1 34h0M14.3 13.2h0M24.9 13.1h0M31.6 6.9h0M18.3 27.9h0M29.2 4.9h0M40.1 31.3h0M41.4 19.9h0M35.1 15.4h0M58.9 21.6h0M47.1 32.5h0M28.8 7.4h0M9.6 20.9h0M47.3 44.8h0M50.5 8.4h0M21.8 40.5h0M56.5 35.9h0M35.4 10.4h0M24.1 13.1h0M37.4 9.5h0M58.7 17.9h0M32.8 44.8h0M44.8 33.1h0M2.7 43.6h0M30.4 1.2h0M29.3 46.5h0M25.8 26.9h0M28.1 45.9h0M50.7 24.6h0M15 9.3h0M18.3 43h0M20.9 36.8h0M43.4 23h0M53.2 44h0M43.4 33.3h0M54.5 1.8h0M33.2 12.6h0M53.2 35.9h0M4.2 13.3h0M27.3 20.9h0M51.5 37.3h0M53.4 6.9h0M13 15h0M51.4 4.4h0M60.4 4.5h0M13.3 16.1h0M63.3 13.4h0M14 7.8h0M43.5 1.1h0M8.9 44.3h0M42.4 20.1h0" stroke="#2a1cf2" stroke-width="1.0" stroke-linecap="round" fill="none"/>
<path d="M47.9 42.2h0M4.2 39h0M4.3 43h0M37.7 44.8h0M65.3 17.7h0M6.8 10.4h0M43.8 37.4h0M65.6 7.3h0M4.1 22.6h0M36.6 38h0M27.9 6.2h0M43.6 46.1h0M53.8 32.6h0M12.6 23.1h0M7.9 25.9h0M56 38.7h0M25.2 13.9h0M62.9 33.3h0M35.2 31.5h0M2.9 35.5h0M37 36.5h0M11.1 23.4h0M12.3 37.4h0M12.7 7.4h0M13.4 21.9h0M16.5 17.5h0M59.5 15.8h0M1.3 6.3h0M60.6 .5h0M9.1 3.1h0M39.3 34.5h0M50 12.9h0M23.3 45.9h0M47.9 28.4h0M2.9 16h0M1.6 4.6h0M23.2 6.3h0M30.2 32h0M7.7 26.7h0M1.7 10.6h0M6.4 31.1h0M35.8 42.1h0M36.5 31.9h0M62.1 40.6h0M56.5 29.3h0M39 40.1h0M45.8 10h0M36.2 45h0M49.5 4.1h0M42.3 41.7h0M24.5 21.1h0M11.8 45.4h0M47.2 9.6h0M26.5 28h0M39.4 10.4h0M33.5 29h0M55.5 21.2h0M58.4 6.2h0M54.4 21.3h0M42.3 22.8h0" stroke="#c80c38" stroke-width="0.9" stroke-linecap="round" fill="none"/>
<path d="M48.5 7.1h0M34.3 28h0M7.3 23.5h0M49.7 1.6h0M58.7 34.8h0M3.8 45.6h0M8.4 6.4h0M58.5 43.8h0M31.7 15.1h0M20.1 12.8h0M53.3 17.2h0M44.5 27.5h0M25.5 45.2h0M10.3 17.5h0M60.7 .2h0M46 21.7h0M51.9 44.5h0M6.2 7.9h0M56.8 28.5h0M2 5.8h0M3.1 12.6h0M47.5 6.5h0M49.2 20.5h0M42.8 33.9h0M51.8 41.3h0M58.9 31.7h0M63.4 21.3h0M35.5 4.5h0M52.6 9.3h0M25.5 24.7h0M4.5 34.2h0M22.1 40.8h0M6.2 1.3h0M40.1 41.8h0M54 16.7h0M52.7 4.9h0M49.4 5.6h0M19 15.9h0M38.8 39.3h0M8.2 7.7h0M3.4 12.1h0M28.5 45.6h0M34.4 11.7h0M27.6 32.5h0M50.7 23.8h0M11.3 23.9h0M52.7 41.9h0M7.2 17.4h0M3.1 45.1h0M1.4 38.7h0M41.4 45.8h0M4.8 28.4h0M1 1.5h0M3.6 23.9h0M7.7 9.2h0M41.1 11.3h0M5.5 39.7h0M29 22.8h0M46 37.9h0M4.4 25.3h0M54.4 45.8h0M17.9 1.7h0M23.7 23h0M17 4.3h0M48 1.9h0M31.9 4.9h0M64.9 28.5h0M40.4 18.5h0M10.8 36.1h0M6.4 12.3h0M55.8 27.1h0M23.9 9.6h0M14.5 41h0M21.7 19.3h0M60.4 39h0M18.4 10.2h0M7.4 6.8h0M7.2 40.9h0M39.6 24.3h0M35.4 16.3h0M2.8 12.7h0M6.1 22.7h0M46.4 41.7h0M45.2 27.8h0M35.6 28.9h0M63.1 41.2h0M7.4 19.5h0M50 15.6h0M65.8 39.6h0M1.5 41.5h0M31.5 .2h0M43.1 13.6h0M56.3 19h0M55.4 27.4h0M34.5 38.1h0M59.6 28.4h0M5.8 44.1h0M17.4 25.5h0M34.6 1.7h0M64.5 4.7h0M58.1 36.1h0M43.3 39.7h0M39.8 3.4h0M27.6 26.2h0M39.3 36.8h0M61.8 35.7h0M50.2 46.4h0M9.8 .1h0M18.8 9.8h0M31.4 1.3h0M35.4 11.7h0M16.7 17.6h0M43.5 26.2h0M43.5 10.6h0M18.6 27.2h0M34.6 17h0M.8 19.1h0M26.5 43.2h0M10.8 17.3h0M14.5 26.7h0M42.6 31.6h0M56.8 19.7h0M32.1 42.5h0M47.1 17.6h0M22.2 25.8h0M39.9 43.8h0M16.3 2.4h0M41.7 27.1h0M1.5 23.1h0M29.9 25.9h0M18.7 24.2h0M57.5 27.4h0M33.3 11.1h0M24 10.8h0M52.4 29.5h0M28.2 18.5h0M47.4 2.8h0M29.2 32.9h0M64.5 29.5h0M16.4 23.3h0M17.3 14.4h0M44.2 15.7h0M57.7 40.9h0M11 30.9h0M2.7 .7h0M57.5 30.6h0M19.5 2.8h0M50.3 35.3h0M54.5 5.9h0M10.3 44.9h0M30.8 31.6h0M47.8 44.9h0M13.8 45.1h0M47.3 11h0M52.5 24.5h0M52.5 20.1h0M29.1 9.9h0M4.1 10h0M60.2 .6h0M44.7 13.1h0M40 9h0M30.9 20.4h0M64.8 38.4h0M64.5 10.1h0M5.2 19.1h0M58.5 38.2h0M28.3 24.1h0M13.9 28.3h0M62.2 .6h0M5.5 43.4h0M32.7 3.1h0M35.3 7.5h0M45 16.6h0M60.6 12.6h0M38.8 18.6h0M34.1 19.3h0M47 15.6h0M2.5 18.1h0M1.5 14.5h0M53.4 34.8h0M19.6 19.5h0M26.6 8.7h0M42.1 43.9h0M23.1 45h0M55.9 19.5h0M63 3.9h0M56.9 7.2h0M16.9 20.3h0M2.3 13.5h0M2.2 8.8h0M52.8 19.2h0M7.3 4.7h0M56.5 4h0M59.2 43.1h0M57.3 1.3h0M9 22.1h0M48.5 4.3h0M3.5 .9h0M7.4 45.7h0M52.1 35.9h0M48.8 13.8h0M10.8 7.1h0M19.8 7.4h0M3.2 13.9h0M50.5 25h0M25.9 18.7h0M49 24.5h0M2.7 17h0M58.3 15.4h0M36.6 2h0M.1 34h0M14.2 6.9h0M22 42.9h0M64.8 33.8h0M25.6 25.6h0M37.8 7.6h0M3.1 17h0M63.1 3.1h0M52.7 4.7h0M65 29.3h0M38.2 9.5h0M54.3 9h0M2.8 35.9h0M2.7 10.2h0M37.2 21.4h0M3.3 8.3h0M45.7 30h0M26.5 18.1h0M25.6 46.3h0M36.1 45.7h0M64.2 31.4h0M47.6 38.7h0M25 6.8h0M30.5 12.1h0M40.4 12.4h0M54.1 29.6h0M46.6 25.4h0M25.8 7.9h0M51.4 19.4h0M50.6 29.3h0M11.9 39.2h0M54.6 8.5h0M60.8 42.8h0M43.6 7.5h0M12.7 15.9h0M54.4 12.2h0M30.7 33.6h0M7.5 15.9h0M17.4 8.8h0M40.8 29.7h0M61.3 45.6h0M19.4 3.4h0M42.6 16.2h0M3.3 32.6h0M45.6 .9h0M33.9 27.2h0M53.1 18.3h0M58.9 16.1h0M57.2 46.9h0M9.9 41.6h0M52.5 17.5h0M8 37h0M4 9.9h0M43.7 42.5h0M60 29.3h0M5.1 43.9h0M35.2 28.4h0M19.6 10.7h0M11.2 38.6h0M32.4 14.9h0M65.3 35.6h0M19.1 24.1h0M17.2 24.6h0M15.7 2.2h0M49.1 35.5h0M24.6 8.4h0M60.5 9.8h0M48.9 40h0M23.5 42.6h0M23.3 10.1h0M39.9 5.4h0M2.2 26.8h0M39.3 35.7h0M43 5.7h0M32.6 38h0M15.5 28.8h0M40.3 39h0M5.1 23.5h0M44.7 30.8h0M46.1 25.5h0M2.4 37.8h0M49.1 11.6h0M11.3 40.2h0M24.2 24.6h0M18.8 12.7h0M8.5 25.8h0M52.8 12.4h0M2.5 38.4h0M57.8 32.3h0M12.3 32.3h0M26.3 14h0M13 5.3h0M2.3 13.7h0M58.6 21.2h0M46 8.9h0M19.8 17.8h0M14.5 25.2h0M24.6 47.2h0M33.7 3.1h0M49.9 21.8h0M19.4 22.2h0M53.6 43h0M26.9 21.4h0M47.5 36.6h0M49 29.4h0M22 25h0M37.2 32.3h0M5.4 38.5h0M26.4 34.9h0M29.9 28.6h0M27.4 23.5h0M2.5 35.5h0M41.7 7.8h0M57.6 39.1h0M42.6 14.1h0M30.2 9.1h0M23.3 45.2h0M37.6 35h0M55.3 .2h0M44.6 5.8h0M56.8 20.4h0M58 11.1h0M7.6 32.7h0M12.1 44.7h0M47.6 4.5h0M50 26.8h0M55.6 4.6h0M55.3 46.2h0M56.5 10.5h0M15.6 43.6h0M32.7 31.7h0M30.9 21.5h0M31.8 38.3h0M56.5 17h0M7.7 26.1h0M1.3 44.1h0M4.3 21.4h0M53.2 35.9h0M33.9 45.7h0M64.6 10.5h0M45.5 47.1h0M58.3 3.3h0M10.7 21.6h0M18.4 17.5h0M40.7 43.8h0M56 38.3h0M13.2 45.1h0M50.5 14.8h0M7.6 44.8h0M40 34.8h0M35.8 12.9h0M54.9 40.4h0M50.5 38.9h0M44.2 47.2h0M54.7 13.4h0M32.7 27.4h0M5.1 8.2h0M31.8 7.7h0M42.4 28.1h0M61.7 26.1h0M43.3 36.4h0M30.4 38h0M57.9 33.2h0M16.8 19h0M10.8 10.8h0M61.3 41.4h0M21.1 10.6h0M.3 36.2h0M29.1 15.5h0M47.6 28.4h0" stroke="#cc18aa" stroke-width="0.95" stroke-linecap="round" fill="none"/>
</g></svg>
<svg x="428" y="402.4" width="66" height="47.2" viewBox="0 0 66 47.2">
<rect width="66" height="47.2" fill="#05001e"/>
<g filter="url(#b20)">
<path d="M47.3 45.3h0M38.9 19.8h0M39.2 41.4h0M56.7 43.5h0M31.8 27.1h0M29.5 14.9h0M53.7 24.2h0M38.4 3.6h0M51.2 45.1h0M57.3 .4h0M36.4 39.9h0M54.8 3.6h0" stroke="#180ca8" stroke-width="9" stroke-linecap="round" fill="none" opacity="0.8"/>
</g>
<g filter="url(#b4)">
<path d="M57.5 31.4h0M47.1 42.5h0M2.5 38.4h0M4.3 29.9h0M13.3 41.7h0M40.7 12.8h0M63.7 13.5h0M60.1 12.3h0M8.3 27.1h0M58.9 18.6h0M5.1 21.7h0M59 12.2h0M60.7 33.9h0M40.1 1.6h0M35.4 .6h0M62.7 40.5h0M42.3 12.6h0M12.7 30.2h0M19.5 42h0M44.5 19.2h0M14.1 46.8h0M28.9 32.4h0M65 44.3h0M2.4 4.1h0M1.3 28.3h0M15.3 41.4h0M12.1 40h0M51.2 43.6h0M53.8 42.7h0M39.3 41h0M63.9 25.4h0M39.8 25h0M31.2 2.2h0M1.9 38.8h0M41.6 45.8h0M12.2 36.1h0M23 29.7h0M22.5 2.9h0M58.2 32.9h0M42 18.2h0M15.9 28.2h0M35.4 2.1h0M60.3 32.1h0M64.4 45.7h0M61.8 40.5h0M47.9 8.4h0M46.3 37.5h0M28.7 14h0M64.6 18.7h0M4.2 13.9h0M2.8 21.5h0M38.9 4.7h0M43.2 16.2h0M19.3 33h0M2.3 6.4h0M32.8 39.1h0M34.3 13.6h0M21.8 46.5h0M42 3h0M43 44.1h0M3.1 23.6h0M50.4 8.6h0M52.4 42.6h0M17.4 35.1h0M31.2 9.5h0M43.2 36.8h0M29.8 20.7h0M10.8 29.4h0M12.3 44h0M24.6 20.3h0M3 42.1h0M21.5 37.2h0M26.6 38.6h0M25.6 43.1h0M5.7 23.6h0M55.9 15.1h0M17.5 14.5h0M17.7 39.4h0M18 27.3h0M53.1 16.5h0M24.2 1.2h0M4.1 46.2h0M24.3 1.2h0M.6 19.4h0M47.1 6.5h0M57.2 13.1h0M60 10.1h0M28.3 15.5h0M2.2 8.8h0M30.5 15.9h0M54.4 33.9h0M56.5 41.8h0M31.5 31.9h0M8.7 25.7h0M55.6 12.8h0M11.1 27.1h0M49.4 43.6h0M61.9 29.8h0M59.3 14.4h0M56.6 5.2h0M63.2 4h0M65.7 39h0M59.1 45h0M44.4 37.2h0M35.7 36.1h0M48.9 5.3h0M62.4 35.7h0M44.3 38.8h0M1.5 14.4h0M5.8 33.5h0M5.7 8.7h0M50.3 42.9h0M29 31.7h0M38.6 44.5h0M38.1 35.7h0M17.5 35.6h0M28.4 3.2h0M61.1 .9h0M46.4 14.8h0M46.8 10.2h0M34.2 23.3h0M35.3 33.9h0M56.4 47.1h0M18.2 31.9h0M58.4 13.6h0M32.6 44.4h0M7.6 42h0M30.5 31.4h0M48 40.8h0M43.5 31.4h0M1.8 8.7h0M61.2 9h0M29.7 41.5h0M65.8 1.3h0M52.8 4.7h0M59 44.9h0M22.7 25.2h0M2.8 14.3h0M.2 2.6h0M5.3 27.7h0M25.1 38.5h0M47.7 16.5h0M44.9 17.5h0M32.4 .5h0M58.7 6.3h0M60.2 11.6h0M43.6 36.9h0M59.9 5.7h0M5.9 4.9h0M.9 5.7h0M36.9 28.2h0M56.1 36.8h0M49 44.7h0M58.7 10.6h0M29.2 31h0M31.1 39.1h0M30.9 3.7h0M22.3 47.1h0M15.4 31.5h0M32.8 29.5h0M62.6 15.6h0M23.5 39.6h0M54.9 40.5h0M7 38.7h0M39.5 11h0M59 44h0M21 44.7h0M28.9 27.3h0M43.8 11.4h0M50.7 21.1h0M31.9 29.7h0M3 11.3h0M13.7 46.6h0M15.5 20.1h0M62.5 8.7h0M40.5 44.3h0M52.8 43.3h0M38.9 42.8h0M58.9 19.2h0M49.3 10.9h0M24.4 27h0M3.3 33.3h0M65.8 13.8h0M49.7 14.1h0M4.7 9.7h0M4.9 19.7h0M43.5 37.3h0M26.8 .8h0M33 30.7h0M31.4 30.8h0M35.8 29h0M53.6 4.3h0M57.2 2.2h0M37.8 37.3h0M40.5 .6h0M26.3 34.8h0M21 30.4h0M39 46.7h0M48.2 44h0M34.1 19.6h0M23 7.9h0M30.3 5.1h0M37.1 29.2h0M5.8 30.3h0M60.7 22.6h0M39 27.3h0M34.5 37.9h0M25.9 32.7h0M2.5 22.3h0M4 22.5h0M54.2 46.6h0M39.5 10.3h0M18.7 40.2h0M46.5 7.4h0M3.4 15.4h0M20.8 28h0M59.9 45.9h0M47.1 9.1h0M37.1 22.3h0M65 26h0M38.2 20.7h0M9.5 23.9h0M53.7 45.8h0M37.1 35.2h0M66 19.6h0M56.1 46.7h0M44.4 32.7h0M2.4 5h0M26.1 41.1h0M29.1 8.5h0M60 6.4h0M33 31.3h0M4.5 47.2h0M59.7 33.7h0M45.5 43.1h0M27.1 8.2h0M36.7 11.4h0M7.4 32.5h0M30.1 23.3h0M36.3 36.8h0M37.8 22.7h0M13.3 26h0M20.5 30.3h0M36.7 3.8h0M36.3 28h0M1.7 44.5h0M51.6 37.3h0M39.3 45.6h0M28.5 28.9h0M27.9 2.3h0M36.7 39.5h0M59.2 46.9h0M37.2 9.5h0M6.3 16.7h0M48.2 1.1h0M5 39.2h0M.7 36.7h0M40.2 37.2h0M48.8 46.1h0M19 26.2h0M52.3 40.8h0M21.5 26.8h0M36.8 29.8h0M40.1 31.4h0M46.3 46.9h0M3.9 20.3h0M25.2 5.4h0M43.4 3.2h0M13.1 11.4h0M10.2 47.1h0M48.9 17.5h0M1.1 34.9h0M40.1 15h0M9 2.1h0M51.1 6.5h0M56 5.3h0M37.7 4.6h0M29.1 30.9h0M64 28.3h0M19.4 31.7h0M2.2 22.1h0M48.9 39.3h0M3.1 27.2h0M27.6 .3h0M1.6 39.2h0M46.9 36.1h0M11.2 30.3h0M66 8.2h0M62.3 8.8h0M38.1 .2h0M31.5 11.7h0M49.3 8.2h0M19 23.2h0M60.4 29.2h0M26.3 6.8h0M27.9 41.8h0M11.5 32h0M32.8 43.2h0M28.8 2.5h0M23 33h0M38.4 .8h0M37.2 25.5h0M34.8 40.3h0M32.6 12.2h0M34.6 38.6h0M60 10.1h0M36.2 27.6h0M52.3 .7h0M61 6.1h0M55.3 35.2h0M42.4 1h0M.8 7.9h0M13 38.9h0M8.1 35.5h0M64.9 4.9h0M24.7 37.1h0M23.1 37.9h0M65.2 6.5h0M5 .5h0M46.3 4.2h0M58.4 12h0M1.6 2.3h0M43.1 37.5h0M7.5 22.8h0M23.6 32.6h0M25.7 1.2h0M7.5 24.3h0M55.3 14.6h0M48.4 1h0M36.4 22.1h0M11.5 38.2h0M33.5 46.1h0M35 44.2h0M31.1 16.9h0M22.8 .3h0M12.8 19.2h0M54.7 36.6h0M34.6 32.4h0M3.1 6h0M31.1 29.9h0M3.3 1.4h0M28.6 18.4h0M51.5 42.7h0M26.3 40.9h0M24.5 40.5h0M9.8 21.6h0M27.1 31.8h0M17.6 36.9h0M36 46.9h0M30 33.9h0M29 7.3h0M17.1 40.2h0M65 28.3h0M62.9 39.3h0M6.9 3.1h0M28.7 29.6h0M19.7 43.6h0M6.7 5.4h0M24.8 36h0M49.6 43.5h0M54.5 13.1h0M54.5 5.6h0M36.1 .1h0M4.5 29.5h0M57.5 45.7h0M3.7 30.3h0M59.4 6.8h0M29 30.2h0M60.1 38.1h0M49.9 45.7h0M64.3 36h0M29.8 24h0M22.7 11.2h0M58.8 42h0M41.7 7.6h0M13 .5h0M54.6 42.7h0M9.6 30.4h0M15.2 29.7h0M62.7 17.3h0M36.6 31.7h0M27.2 5.8h0M64 19.9h0M1.2 10.5h0M4.2 23.5h0M60.2 8h0M64 8.4h0M1.4 46.9h0M55.7 2.5h0M33.1 40.3h0M34.4 40.4h0M43 9.5h0M38.4 27.7h0M33.1 38.6h0M18.9 38.7h0M2.6 36.8h0M23.7 29.4h0M47.4 6.8h0M2.2 25.1h0M50.8 10.7h0M20.4 40.2h0M45.1 34.6h0M63.4 32.2h0M26 .4h0M60.6 45.6h0M7.5 4.7h0M63.4 9.6h0M40.9 36h0M14.9 34.5h0M49.1 43.1h0M64.3 44.9h0M1.6 28.4h0M64.7 10.6h0M38.1 37.5h0M36.3 44h0M20.7 42.2h0M26.3 5.8h0M40.3 18.2h0M37.3 .4h0M41 41.6h0M11.5 .2h0M37 4.6h0M55.5 30.9h0M51.4 20.5h0M7.5 22.8h0M18.6 29.2h0M7.5 34.7h0M60 4.1h0M46.6 7.6h0M17.5 37.4h0M21.1 28.5h0M16.9 22.8h0M63.5 27.1h0M13.4 31.4h0M8.3 41.4h0M4.9 1.7h0M.8 36.6h0M63.2 46.8h0M53.1 8.2h0M48 44.7h0M59.7 13.4h0M27.9 6.5h0M65.9 27.7h0M51.1 10.2h0M24 46.5h0M14 12.2h0M14.6 38.5h0M42.8 1.7h0M36.3 31.5h0M42.8 46.4h0M21 .6h0M62.1 29.9h0M64.7 5.2h0M36 17.6h0M46.9 1.8h0M33.4 39.4h0M25.7 42.8h0M42.3 47.1h0M2.3 33.8h0M11.3 46.3h0" stroke="#2a1cf2" stroke-width="1.2" stroke-linecap="round" fill="none"/>
<path d="M.2 37.7h0M62.1 3h0M2.9 18.2h0M27.4 20.5h0M6.4 6h0M57.3 17h0M33.2 11.2h0M64.6 43.3h0M32.7 5.9h0M8.8 36.2h0M49.1 36.9h0M61.4 18.7h0M48.1 38.4h0M6.6 16.9h0M10.8 32.1h0M56.6 44.4h0M62.4 17.4h0M28.7 45h0M.1 25h0M49.2 40.4h0M33.7 1h0M23 29.9h0M10.3 34h0M60.2 42.3h0M7 38.9h0M41.2 32h0M29.2 23.4h0M10 36.6h0M40.9 13.4h0M51.5 2.8h0M38.1 36.4h0M8.3 32.2h0M12.7 29.3h0M55.4 14.6h0M41.8 32h0M54.8 45.3h0M7.5 29.8h0M2.6 17.3h0M47 44.4h0M44.8 46.3h0M1.8 6.6h0M1.7 26.3h0M60.6 4.3h0M6.5 21.1h0M59.3 38.4h0M34.9 13.7h0M11 43.7h0M62.3 34.3h0M57.4 39.4h0M27.4 29.8h0M16.8 1h0M42.8 11.9h0M38.7 25.8h0M42.8 22h0M36.9 4.6h0M58.7 2.8h0M43.2 15.6h0M1.6 31.8h0M37 7.4h0M45.4 7.8h0M40.7 5.6h0M12.2 31.4h0M22.5 1.5h0M55 42.4h0M22.6 46.8h0M63.7 .3h0M50.3 5.8h0M31.4 10.4h0M33.7 18.7h0M55.5 7.9h0M39.8 5.2h0M59.6 16.6h0M26.1 14.7h0M45.4 42.2h0M49.9 5.1h0M48.1 8.6h0M12.2 12.8h0M32.9 25h0M60 17.4h0M31.8 43.1h0M50.6 39.7h0M34.9 5.8h0M12 27.1h0M4 38.6h0M33.8 22.5h0M54.8 13.9h0M34.2 24.2h0M39.6 1.6h0M27.8 41.2h0M.3 42.5h0M2.4 27.1h0M29.9 10.4h0M43.3 38.1h0M61.6 40.1h0M59 30.7h0M19.7 46.5h0M36.5 40.8h0M27.8 2.4h0M9.2 35.8h0M29.8 20.7h0M45.5 19h0M36.1 25.4h0M27.6 2.6h0M40.5 45.5h0M40.1 10.4h0" stroke="#cc18aa" stroke-width="1.2" stroke-linecap="round" fill="none"/>
</g></svg>
<svg x="496" y="402.4" width="66.6" height="47.2" viewBox="0 0 66.6 47.2">
<rect width="66.6" height="47.2" fill="#020008"/>
<g filter="url(#b4)">
<path d="M13.4 31h0M31.2 45.4h0M6.8 30.7h0M55.2 26.1h0M39.4 41.2h0M7 26.8h0M8.6 24.1h0M1 24.5h0M13.2 30.5h0M14 22.2h0M12.7 12.8h0M63.7 28.7h0M10.2 47.1h0M4.4 17.3h0M65.4 28.3h0M35.9 40.9h0M8.1 22.4h0M30.9 13h0M29.8 45.5h0M12.1 37.2h0M36.8 46.1h0M14 6.2h0M30.5 38.5h0M2.4 3.6h0M24 37.7h0M15.1 37.9h0M61.6 24.6h0M58.1 42.3h0M4.5 5h0M29.3 46.8h0M20.5 31.8h0M1.6 13.3h0M36.7 40.9h0M4.3 26.3h0M34 15.4h0M17 26.5h0M2.7 2.5h0M19.4 47.1h0M4 42.7h0M59.4 13.7h0M13.8 24h0M12.5 2.9h0M1.5 26.3h0M29.8 32.3h0M47.6 13.8h0M63.8 26.7h0M4.6 7.6h0M11.6 34.5h0M26.9 38.3h0M35.4 39.1h0M5.8 15.6h0M8.4 24.4h0M32.6 29.8h0M1.8 2.4h0M1.6 8.1h0M14.8 38.7h0M53.9 17.5h0M7.6 39.7h0M27.7 43.5h0M2.4 9.1h0M42.8 21.8h0M11.4 44.5h0M13.6 19.6h0M53.8 16.6h0M30.7 17.3h0M39.3 23.3h0M64.6 7h0M20.2 22.6h0M9 44.1h0M56.3 5.5h0M58.9 2.7h0M20.5 30.8h0M30.9 45h0M13.2 3.2h0M9.6 33.2h0M16.6 30.2h0M62.5 13.3h0M5.6 12.3h0M51.7 23.1h0M48.2 24h0M17.6 39.5h0M10.2 40.2h0M38.6 41.4h0M48.9 1.9h0M20.4 20h0M25.3 37.7h0M25.5 38.7h0M34.5 41.8h0M56.5 1.7h0M20.4 28.8h0M3.2 4.4h0M43.4 26.8h0M16.6 17.5h0M2.3 11.2h0M25 45.4h0M37.8 28.5h0M15.8 27.3h0M37.3 45.6h0M21.3 29.2h0M7.6 24.5h0M.4 .2h0M36.6 38.3h0M38.4 40.9h0M52.4 2.7h0M6.3 23.1h0M7.9 1.3h0M10.7 36h0M50.1 15.3h0M29.1 28.4h0M63.7 35.5h0M25.6 23.3h0M6.4 7h0M1 14.1h0M3.8 26.8h0M20.6 4h0M8.9 39.8h0M16.4 43.9h0M49.7 15.9h0M52 13.5h0M19.2 15.7h0M17.4 9.1h0M43.9 44.4h0M12.5 33.4h0M58.6 26.8h0M6.7 37.9h0M47.9 24.8h0M50.9 14.7h0M12.9 18.5h0M.3 32.5h0M46.1 15.2h0M50.6 5.4h0M65 10h0M18.5 18.5h0M62.3 22.7h0M31.5 30.3h0M62.1 17.8h0M63.8 5h0M22.5 23.8h0M58.5 13h0M6.2 8h0M15.2 7.1h0M23.7 45.3h0M25.5 31.1h0M58 15.9h0M59.8 40.9h0M58.2 3.3h0M54.3 14.6h0M26.8 43h0M27.4 41.1h0M53.3 25.2h0M56.4 41.9h0M14.2 38.3h0M43 25.7h0M34.8 31h0M19 34.6h0M5.9 41.3h0M.9 7.9h0M31 42h0M35 45.9h0M59.1 24.5h0M33.2 27.5h0M52.5 17.5h0M47.9 22.4h0M40.3 35.7h0M30.1 33h0M3.6 46.2h0M45.4 19.5h0M57.6 45.3h0M17.3 17.6h0M46.5 16.3h0M49.1 43.3h0M66.3 28h0M27.2 37.9h0M8.6 16.1h0M55.6 33.8h0M13.7 1.9h0M11.5 11.8h0M11.6 9h0M20.3 22.4h0M6.5 43.1h0M20.8 2.4h0M24 46.6h0M38.3 32.3h0M39.1 31.2h0M49.9 .5h0M11.7 14.4h0M64.3 27.7h0M65 27.1h0M60.6 .2h0M17.5 16.8h0M10.1 13h0M26.3 41.6h0M46.2 23h0M30.9 46.4h0M2.5 44.2h0M61.7 6.8h0M12.1 13.2h0M47.9 6.6h0M13.2 7.1h0M53.1 0h0M3.6 10.7h0M39.4 15h0M25.6 33h0M2.8 31h0M17.2 27.3h0M45.5 15h0M6.2 8.9h0M46.5 4.5h0M40.5 36.5h0M35.6 45.5h0M25.4 33h0M8.8 34.6h0M18.5 38.7h0M15.2 13.7h0M10.5 34.9h0M24.3 7.1h0M35 38.5h0M1.7 36.7h0M9.8 34.4h0M47 44.7h0" stroke="#2a1cf2" stroke-width="1.45" stroke-linecap="round" fill="none"/>
<path d="M7.4 40.8h0M17.4 29.6h0M4.3 22.7h0M3.8 13.8h0M18.2 28.7h0M1.8 18.7h0M3.5 19.6h0M27 37.9h0M7.3 38.4h0M12.7 10.1h0M60.7 27.5h0M15.6 19.1h0M46.3 12.6h0M51.9 8.6h0M56 26.3h0M9.3 8.2h0M66.3 3.5h0M50.8 9.7h0M60.4 3.3h0M49.1 31.5h0M51.2 6.3h0M48.2 22.2h0M9.4 21.4h0M66.6 38.9h0M57.2 32.3h0M33.7 13.1h0M10.6 20.3h0M64.4 33.6h0M22.4 27.2h0M55.6 20.1h0M59.7 23.5h0M.5 18.4h0M62.5 28h0M2.1 9h0M5.2 4.8h0M14.9 14.7h0M1.9 1.6h0M35.4 46.3h0M44.9 28.2h0M12.1 25.6h0M56.2 11.9h0M10.8 2.1h0M30.4 16.2h0M55 26.3h0M27.8 26.4h0M65.2 35.7h0M5.5 40.8h0M11.5 6.3h0M3.3 28.8h0M60 18.7h0M7.7 35.4h0M45.7 22.5h0M21.6 24.3h0M36.2 42.4h0M7.4 8.8h0M26.4 38.4h0M62.9 28.3h0M8.1 8.4h0M.1 17.4h0M15.9 21.9h0M1.2 24.4h0M7.9 40.6h0M10.7 15.4h0M24.9 26.1h0M28.3 3.5h0M47.1 9.9h0M16.9 9.6h0M57.7 15.3h0M6 40h0M61.3 28.5h0" stroke="#d828bc" stroke-width="1.3" stroke-linecap="round" fill="none"/>
</g></svg>
<text x="393" y="252.3" font-size="5.3" text-anchor="middle">si-NC</text>
<text x="461.2" y="252.3" font-size="5.3" text-anchor="middle">si-LINC00969 1#</text>
<text x="529.2" y="252.3" font-size="5.3" text-anchor="middle">si-LINC00969 2#</text>
<text x="349.5" y="282.8" font-size="6.1" text-anchor="end">PC9</text>
<text x="349.5" y="331.8" font-size="6.1" text-anchor="end">HCC827</text>
<text x="349.5" y="379.6" font-size="6.1" text-anchor="end">A549</text>
<text x="349.5" y="429.2" font-size="6.1" text-anchor="end">SPCA1</text>
<g stroke="#1c1c1c" fill="none">
<line x1="599.5" y1="261.9" x2="599.5" y2="299.6" stroke-width="0.9"/>
<line x1="599" y1="299.2" x2="674" y2="299.2" stroke-width="0.9"/>
<line x1="597" y1="299.2" x2="599.5" y2="299.2" stroke-width="0.9"/>
<line x1="597" y1="290" x2="599.5" y2="290" stroke-width="0.9"/>
<line x1="597" y1="280.8" x2="599.5" y2="280.8" stroke-width="0.9"/>
<line x1="597" y1="271.6" x2="599.5" y2="271.6" stroke-width="0.9"/>
<line x1="597" y1="262.4" x2="599.5" y2="262.4" stroke-width="0.9"/>
<line x1="614.4" y1="299.2" x2="614.4" y2="301.2" stroke-width="0.9"/>
<line x1="636.6" y1="299.2" x2="636.6" y2="301.2" stroke-width="0.9"/>
<line x1="658.9" y1="299.2" x2="658.9" y2="301.2" stroke-width="0.9"/>
</g>
<text x="596.4" y="300.9" font-size="4.85" text-anchor="end">0</text>
<text x="596.4" y="291.7" font-size="4.85" text-anchor="end">20</text>
<text x="596.4" y="282.5" font-size="4.85" text-anchor="end">40</text>
<text x="596.4" y="273.3" font-size="4.85" text-anchor="end">60</text>
<text x="596.4" y="264.1" font-size="4.85" text-anchor="end">80</text>
<g stroke="#111" stroke-width="0.9">
<line x1="614.4" y1="274.1" x2="614.4" y2="273.2" stroke-width="1.26" stroke="#6a6a6a"/>
<line x1="610.6" y1="273.2" x2="618.2" y2="273.2" stroke-width="0.9"/>
</g>
<rect x="607.9" y="274.1" width="13.1" height="25.1" fill="#fff" stroke="#111" stroke-width="0.9"/>
<g stroke="#111" stroke-width="0.9">
<line x1="636.6" y1="289.8" x2="636.6" y2="287" stroke-width="1.26" stroke="#6a6a6a"/>
<line x1="632.8" y1="287" x2="640.4" y2="287" stroke-width="0.9"/>
</g>
<rect x="630.1" y="289.8" width="13.1" height="9.4" fill="#000" stroke="#111" stroke-width="0.9"/>
<text x="636.6" y="286.4" font-size="3.9" text-anchor="middle">**</text>
<g stroke="#111" stroke-width="0.9">
<line x1="658.9" y1="291.8" x2="658.9" y2="289.5" stroke-width="1.26" stroke="#6a6a6a"/>
<line x1="655.2" y1="289.5" x2="662.6" y2="289.5" stroke-width="0.9"/>
</g>
<rect x="652.5" y="291.8" width="12.9" height="7.4" fill="#000" stroke="#111" stroke-width="0.9"/>
<text x="658.9" y="288.9" font-size="3.9" text-anchor="middle">**</text>
<circle cx="612.6" cy="274.8" r=".8" fill="#000"/>
<circle cx="614.6" cy="273.4" r=".8" fill="#000"/>
<circle cx="616.4" cy="274.1" r=".8" fill="#000"/>
<rect x="634.1" y="290.5" width="1.3" height="1.3" fill="#d8d8d8"/>
<rect x="636.1" y="287.7" width="1.3" height="1.3" fill="#d8d8d8"/>
<rect x="637.9" y="289.1" width="1.3" height="1.3" fill="#d8d8d8"/>
<polygon points="657.1,292.5 656.4,293.9 657.8,293.9" fill="#d8d8d8"/>
<polygon points="659.1,289.7 658.4,291.1 659.8,291.1" fill="#d8d8d8"/>
<polygon points="660.9,291.1 660.2,292.5 661.6,292.5" fill="#d8d8d8"/>
<text transform="translate(579 280.8) rotate(-90)" font-size="4.0" text-anchor="middle">The percentage of Edu</text>
<text transform="translate(587.4 280.8) rotate(-90)" font-size="4.0" text-anchor="middle">posistive cells (%)</text>
<text x="614.4" y="304.9" font-size="2.6" text-anchor="middle">si-NC</text>
<text x="636.7" y="304.9" font-size="2.6" text-anchor="middle">si-LINC00969 1#</text>
<text x="659" y="304.9" font-size="2.6" text-anchor="middle">si-LINC00969 2#</text>
<g stroke="#1c1c1c" fill="none">
<line x1="599.5" y1="309.2" x2="599.5" y2="347.4" stroke-width="0.9"/>
<line x1="599" y1="347" x2="674" y2="347" stroke-width="0.9"/>
<line x1="597" y1="347" x2="599.5" y2="347" stroke-width="0.9"/>
<line x1="597" y1="334.5" x2="599.5" y2="334.5" stroke-width="0.9"/>
<line x1="597" y1="322.1" x2="599.5" y2="322.1" stroke-width="0.9"/>
<line x1="597" y1="309.6" x2="599.5" y2="309.6" stroke-width="0.9"/>
<line x1="614.4" y1="347" x2="614.4" y2="349" stroke-width="0.9"/>
<line x1="636.6" y1="347" x2="636.6" y2="349" stroke-width="0.9"/>
<line x1="658.9" y1="347" x2="658.9" y2="349" stroke-width="0.9"/>
</g>
<text x="596.4" y="348.7" font-size="4.85" text-anchor="end">0</text>
<text x="596.4" y="336.3" font-size="4.85" text-anchor="end">20</text>
<text x="596.4" y="323.8" font-size="4.85" text-anchor="end">40</text>
<text x="596.4" y="311.3" font-size="4.85" text-anchor="end">60</text>
<g stroke="#111" stroke-width="0.9">
<line x1="614.4" y1="316.5" x2="614.4" y2="314.9" stroke-width="1.26" stroke="#6a6a6a"/>
<line x1="610.6" y1="314.9" x2="618.2" y2="314.9" stroke-width="0.9"/>
</g>
<rect x="607.9" y="316.5" width="13.1" height="30.5" fill="#fff" stroke="#111" stroke-width="0.9"/>
<g stroke="#111" stroke-width="0.9">
<line x1="636.6" y1="331.4" x2="636.6" y2="330.2" stroke-width="1.26" stroke="#6a6a6a"/>
<line x1="632.8" y1="330.2" x2="640.4" y2="330.2" stroke-width="0.9"/>
</g>
<rect x="630.1" y="331.4" width="13.1" height="15.6" fill="#000" stroke="#111" stroke-width="0.9"/>
<text x="636.6" y="329.6" font-size="3.9" text-anchor="middle">**</text>
<g stroke="#111" stroke-width="0.9">
<line x1="658.9" y1="333.9" x2="658.9" y2="333" stroke-width="1.26" stroke="#6a6a6a"/>
<line x1="655.2" y1="333" x2="662.6" y2="333" stroke-width="0.9"/>
</g>
<rect x="652.5" y="333.9" width="12.9" height="13.1" fill="#000" stroke="#111" stroke-width="0.9"/>
<text x="658.9" y="332.4" font-size="3.9" text-anchor="middle">**</text>
<circle cx="612.6" cy="317.7" r=".8" fill="#000"/>
<circle cx="614.6" cy="315.2" r=".8" fill="#000"/>
<circle cx="616.4" cy="316.5" r=".8" fill="#000"/>
<rect x="634.1" y="331.5" width="1.3" height="1.3" fill="#d8d8d8"/>
<rect x="636.1" y="330" width="1.3" height="1.3" fill="#d8d8d8"/>
<rect x="637.9" y="330.7" width="1.3" height="1.3" fill="#d8d8d8"/>
<polygon points="657.1,333.8 656.4,335.2 657.8,335.2" fill="#d8d8d8"/>
<polygon points="659.1,332.6 658.4,333.9 659.8,333.9" fill="#d8d8d8"/>
<polygon points="660.9,333.2 660.2,334.6 661.6,334.6" fill="#d8d8d8"/>
<text transform="translate(579 328.3) rotate(-90)" font-size="4.0" text-anchor="middle">The percentage of Edu</text>
<text transform="translate(587.4 328.3) rotate(-90)" font-size="4.0" text-anchor="middle">posistive cells (%)</text>
<text x="614.4" y="352.3" font-size="2.6" text-anchor="middle">si-NC</text>
<text x="636.7" y="352.3" font-size="2.6" text-anchor="middle">si-LINC00969 1#</text>
<text x="659" y="352.3" font-size="2.6" text-anchor="middle">si-LINC00969 2#</text>
<g stroke="#1c1c1c" fill="none">
<line x1="599.5" y1="358.2" x2="599.5" y2="396.1" stroke-width="0.9"/>
<line x1="599" y1="395.6" x2="674" y2="395.6" stroke-width="0.9"/>
<line x1="597" y1="395.6" x2="599.5" y2="395.6" stroke-width="0.9"/>
<line x1="597" y1="383.3" x2="599.5" y2="383.3" stroke-width="0.9"/>
<line x1="597" y1="370.9" x2="599.5" y2="370.9" stroke-width="0.9"/>
<line x1="597" y1="358.6" x2="599.5" y2="358.6" stroke-width="0.9"/>
<line x1="614.4" y1="395.6" x2="614.4" y2="397.6" stroke-width="0.9"/>
<line x1="636.6" y1="395.6" x2="636.6" y2="397.6" stroke-width="0.9"/>
<line x1="658.9" y1="395.6" x2="658.9" y2="397.6" stroke-width="0.9"/>
</g>
<text x="596.4" y="397.3" font-size="4.85" text-anchor="end">0</text>
<text x="596.4" y="385" font-size="4.85" text-anchor="end">20</text>
<text x="596.4" y="372.7" font-size="4.85" text-anchor="end">40</text>
<text x="596.4" y="360.3" font-size="4.85" text-anchor="end">60</text>
<g stroke="#111" stroke-width="0.9">
<line x1="614.4" y1="371.2" x2="614.4" y2="369.4" stroke-width="1.26" stroke="#6a6a6a"/>
<line x1="610.6" y1="369.4" x2="618.2" y2="369.4" stroke-width="0.9"/>
</g>
<rect x="607.9" y="371.2" width="13.1" height="24.4" fill="#fff" stroke="#111" stroke-width="0.9"/>
<g stroke="#111" stroke-width="0.9">
<line x1="636.6" y1="386.4" x2="636.6" y2="385.1" stroke-width="1.26" stroke="#6a6a6a"/>
<line x1="632.8" y1="385.1" x2="640.4" y2="385.1" stroke-width="0.9"/>
</g>
<rect x="630.1" y="386.4" width="13.1" height="9.2" fill="#000" stroke="#111" stroke-width="0.9"/>
<text x="636.6" y="384.5" font-size="3.9" text-anchor="middle">**</text>
<g stroke="#111" stroke-width="0.9">
<line x1="658.9" y1="386.7" x2="658.9" y2="385.1" stroke-width="1.26" stroke="#6a6a6a"/>
<line x1="655.2" y1="385.1" x2="662.6" y2="385.1" stroke-width="0.9"/>
</g>
<rect x="652.5" y="386.7" width="12.9" height="8.9" fill="#000" stroke="#111" stroke-width="0.9"/>
<text x="658.9" y="384.5" font-size="3.9" text-anchor="middle">**</text>
<circle cx="612.6" cy="372.8" r=".8" fill="#000"/>
<circle cx="614.6" cy="369.7" r=".8" fill="#000"/>
<circle cx="616.4" cy="371.2" r=".8" fill="#000"/>
<rect x="634.1" y="386.4" width="1.3" height="1.3" fill="#d8d8d8"/>
<rect x="636.1" y="384.9" width="1.3" height="1.3" fill="#d8d8d8"/>
<rect x="637.9" y="385.7" width="1.3" height="1.3" fill="#d8d8d8"/>
<polygon points="657.1,386.9 656.4,388.2 657.8,388.2" fill="#d8d8d8"/>
<polygon points="659.1,385 658.4,386.4 659.8,386.4" fill="#d8d8d8"/>
<polygon points="660.9,385.9 660.2,387.3 661.6,387.3" fill="#d8d8d8"/>
<text transform="translate(579 377.1) rotate(-90)" font-size="4.0" text-anchor="middle">The percentage of Edu</text>
<text transform="translate(587.4 377.1) rotate(-90)" font-size="4.0" text-anchor="middle">posistive cells (%)</text>
<text x="614.4" y="400.9" font-size="2.6" text-anchor="middle">si-NC</text>
<text x="636.7" y="400.9" font-size="2.6" text-anchor="middle">si-LINC00969 1#</text>
<text x="659" y="400.9" font-size="2.6" text-anchor="middle">si-LINC00969 2#</text>
<g stroke="#1c1c1c" fill="none">
<line x1="599.5" y1="406.8" x2="599.5" y2="444.8" stroke-width="0.9"/>
<line x1="599" y1="444.4" x2="674" y2="444.4" stroke-width="0.9"/>
<line x1="597" y1="444.4" x2="599.5" y2="444.4" stroke-width="0.9"/>
<line x1="597" y1="435.1" x2="599.5" y2="435.1" stroke-width="0.9"/>
<line x1="597" y1="425.8" x2="599.5" y2="425.8" stroke-width="0.9"/>
<line x1="597" y1="416.5" x2="599.5" y2="416.5" stroke-width="0.9"/>
<line x1="597" y1="407.2" x2="599.5" y2="407.2" stroke-width="0.9"/>
<line x1="614.4" y1="444.4" x2="614.4" y2="446.4" stroke-width="0.9"/>
<line x1="636.6" y1="444.4" x2="636.6" y2="446.4" stroke-width="0.9"/>
<line x1="658.9" y1="444.4" x2="658.9" y2="446.4" stroke-width="0.9"/>
</g>
<text x="596.4" y="446.1" font-size="4.85" text-anchor="end">0</text>
<text x="596.4" y="436.8" font-size="4.85" text-anchor="end">20</text>
<text x="596.4" y="427.5" font-size="4.85" text-anchor="end">40</text>
<text x="596.4" y="418.2" font-size="4.85" text-anchor="end">60</text>
<text x="596.4" y="408.9" font-size="4.85" text-anchor="end">80</text>
<g stroke="#111" stroke-width="0.9">
<line x1="614.4" y1="410" x2="614.4" y2="408.6" stroke-width="1.26" stroke="#6a6a6a"/>
<line x1="610.6" y1="408.6" x2="618.2" y2="408.6" stroke-width="0.9"/>
</g>
<rect x="607.9" y="410" width="13.1" height="34.4" fill="#fff" stroke="#111" stroke-width="0.9"/>
<g stroke="#111" stroke-width="0.9">
<line x1="636.6" y1="426.7" x2="636.6" y2="425.3" stroke-width="1.26" stroke="#6a6a6a"/>
<line x1="632.8" y1="425.3" x2="640.4" y2="425.3" stroke-width="0.9"/>
</g>
<rect x="630.1" y="426.7" width="13.1" height="17.7" fill="#000" stroke="#111" stroke-width="0.9"/>
<text x="636.6" y="424.7" font-size="3.9" text-anchor="middle">**</text>
<g stroke="#111" stroke-width="0.9">
<line x1="658.9" y1="427.7" x2="658.9" y2="426.5" stroke-width="1.26" stroke="#6a6a6a"/>
<line x1="655.2" y1="426.5" x2="662.6" y2="426.5" stroke-width="0.9"/>
</g>
<rect x="652.5" y="427.7" width="12.9" height="16.7" fill="#000" stroke="#111" stroke-width="0.9"/>
<text x="658.9" y="425.9" font-size="3.9" text-anchor="middle">**</text>
<circle cx="612.6" cy="410.9" r=".8" fill="#000"/>
<circle cx="614.6" cy="409.1" r=".8" fill="#000"/>
<circle cx="616.4" cy="410" r=".8" fill="#000"/>
<rect x="634.1" y="427" width="1.3" height="1.3" fill="#d8d8d8"/>
<rect x="636.1" y="425.1" width="1.3" height="1.3" fill="#d8d8d8"/>
<rect x="637.9" y="426.1" width="1.3" height="1.3" fill="#d8d8d8"/>
<polygon points="657.1,427.6 656.4,429 657.8,429" fill="#d8d8d8"/>
<polygon points="659.1,426.2 658.4,427.6 659.8,427.6" fill="#d8d8d8"/>
<polygon points="660.9,426.9 660.2,428.3 661.6,428.3" fill="#d8d8d8"/>
<text transform="translate(579 425.8) rotate(-90)" font-size="4.0" text-anchor="middle">The percentage of Edu</text>
<text transform="translate(587.4 425.8) rotate(-90)" font-size="4.0" text-anchor="middle">posistive cells (%)</text>
<text x="614.4" y="449.9" font-size="2.6" text-anchor="middle">si-NC</text>
<text x="636.7" y="449.9" font-size="2.6" text-anchor="middle">si-LINC00969 1#</text>
<text x="659" y="449.9" font-size="2.6" text-anchor="middle">si-LINC00969 2#</text>
<svg x="43" y="486.9" width="65.7" height="47.6" viewBox="0 0 65.7 47.6">
<rect width="65.7" height="47.6" fill="#cfcfe8"/>
<g filter="url(#b5)">
<path d="M46 3.7h0M13.2 7.5h0M49.5 28.8h0M4.4 17h0M19.3 11.7h0M35 10.8h0M9.2 26.8h0M56.3 7.2h0M1.4 4h0M19.7 26.2h0M33 31.5h0M55.4 46.9h0M5.6 33.9h0M49.6 41.5h0M59.8 8.1h0M17.4 9.3h0M49.1 8.3h0M6.4 46.7h0M19.8 20.3h0M2.6 27.5h0M9.3 25.5h0M14.4 19.1h0M19.4 27.9h0M26.7 42.5h0M35.2 25.1h0M10.4 40.8h0M15.5 47.4h0M3.9 21.1h0M5.7 12.8h0M25 1.9h0M.6 23.2h0M5.2 21.8h0M15.9 1.4h0M4.6 31.7h0M47.2 10.6h0M51.6 5.4h0M.2 41.3h0M43.4 10.8h0M52.2 13.2h0M54.7 40.9h0M43.5 24.7h0M21.7 30.7h0M56.1 43.1h0M9.5 33.9h0M15.8 8.8h0M46.7 9h0M42.5 4.1h0M12.1 33.9h0M32.2 20.9h0M11.6 39h0M54 30.6h0M58.3 6.7h0M44.6 2.8h0M9.5 6.9h0M28.7 45.5h0M37.1 22.8h0M19 46.2h0M57.7 32.5h0M.1 8h0M24.4 11.2h0M52.5 23.1h0M34.7 3.7h0M19.9 22.4h0M44.1 .3h0M17.8 34.7h0M58.3 13.4h0M14.6 23.6h0M31.2 7.1h0M32.3 20.1h0M48.7 13.9h0M64.8 35.1h0M15.5 34.8h0M49.4 31.3h0M59 12.1h0M24.4 9h0M10.1 30h0M4.7 37.1h0M22.1 33.6h0M64.7 24.4h0M56.8 40.1h0M57 24.3h0M35.2 35.4h0M38.5 11.2h0M57.1 27.8h0M44.1 30.5h0M46.9 23.2h0M20.4 5.4h0M24.4 25.5h0M63.7 .4h0M20.6 45.4h0M46.7 42.3h0M11.6 18.4h0M31.7 42h0M39.5 25.7h0M63.4 22.7h0M58.1 29.4h0M34 34.5h0M36.5 14.9h0M41.9 28.9h0M24.2 11.9h0M19 14.5h0M36.4 23.3h0M35.9 32.3h0M.4 37.3h0M53.9 12.9h0M50.9 32.2h0M57.4 47.4h0M60.3 15.3h0M53.2 2.1h0M62.4 21.6h0M56.1 8.3h0M64.2 37.3h0M13.6 6h0M61.4 31.7h0M45.8 30.6h0M20.5 2.6h0M60.4 45.3h0M49.6 19h0M50.7 1.3h0M.1 10.8h0M28 44.1h0M21 6h0M58.1 11.7h0M60.1 24.7h0M40.6 26.8h0M26 16.9h0M57.8 18.4h0M10.1 10.7h0M62.6 13.9h0M27.5 9.2h0M63.2 15.3h0M64.9 39h0M59.7 32.1h0M20.6 23.6h0M37.2 13.2h0M55.5 30.5h0M64 1.4h0M54.8 41.6h0M45.3 15.7h0M35 35.7h0M14.1 27.2h0M29.4 4.1h0M20.4 44.8h0M60.7 44.8h0M37.2 33.9h0M54.9 4.9h0M39.5 27.8h0M36.6 16.4h0M3.2 25.9h0M1.5 39.9h0M10.5 46h0M55.4 9.2h0M40.6 42.1h0M.7 14.8h0M16.9 43.8h0M56.5 24.3h0M14.1 30.8h0M38.8 36.4h0M52.3 18h0M11.5 28.4h0M12.5 5.3h0M38.9 1.2h0M62.4 47.4h0M54.9 7h0M18.6 14.4h0M16.1 28.8h0M30.3 5.9h0M60 36.6h0M39.7 22.8h0M16.1 26.9h0" stroke="#c6c4e0" stroke-width="1.1" stroke-linecap="round" fill="none"/>
<path d="M19.9 13.7h0M31.8 5.1h0M41.8 43.1h0M56.3 15.6h0M61.4 13h0M25 6.6h0M52 21.8h0M39.5 36.2h0M17 7.6h0M61.3 5.9h0M48.5 47.4h0M24.3 43.4h0M28 24.8h0M57.3 20.4h0M25.9 36.5h0M55.5 9.3h0M24.2 43.9h0M35.6 31.7h0M36.2 18h0M44.4 22.8h0M64.3 20h0M39.5 25.1h0M65.5 30.4h0M2.4 9.8h0M61.1 23h0M50.2 14.6h0M28.8 41.6h0M6.3 6.1h0M57.1 11.1h0M43.7 19.7h0M56.2 32.2h0M29.6 34.1h0M9.2 21.5h0M33.1 8.3h0M56.6 45.1h0M3.5 9.3h0M50.2 34.7h0M12.1 8.7h0M3.9 41.4h0M35.6 9h0M34.3 37.8h0M22.6 1.1h0M12.6 31.1h0M13.7 1.7h0M29.3 26.2h0M46.8 16.4h0M42.1 46.9h0M47.1 25.6h0M5.5 3.5h0M19.4 31.9h0M33.7 23.7h0M29.5 33.3h0M30.5 39.3h0M26.5 35.6h0M17.3 28h0M25.5 30.6h0M62.8 22h0M42.6 20.1h0M63.1 7.6h0M49.6 33.2h0M53.1 25.2h0M47.5 6.5h0M44.8 13.9h0M37.1 11.4h0M16.6 27.6h0M4.6 6.5h0M34.4 23.4h0M37.2 20.5h0M65.1 27.5h0M65.5 14h0M45.6 44.2h0M22.3 36.9h0M2.2 43.1h0M39 2.8h0M53.3 15.7h0M7.8 45.6h0M26.9 31.6h0M21.9 27h0M10.3 8.9h0M52 23.9h0M48.9 37.9h0M43.3 29.3h0M11.4 12h0M59.5 26.3h0M44.9 29.9h0M31.3 15.9h0M54.6 9.5h0M8.9 37.7h0M49.5 36.4h0M20.7 39.4h0" stroke="#ebeaf3" stroke-width="1.3" stroke-linecap="round" fill="none"/>
<path d="M49.7 26.9l.8 .7M43.1 14.4l.5 -.6M59.9 4.1l-.6 -.1M59.1 38.8l.8 -0M62.5 30.7l-.8 .9M7.9 31.8l-0 -.7M30.1 6l.8 .6M33.5 45.4l.1 -.4M35.6 47l-.6 .5M2.1 30.9l-.8 -.2M4.2 .9l-0 .5M8.4 35.5l.4 .9M11.9 26.7l-.6 -0M7.6 8.3l.1 -.5M9.9 6.6l-.4 .6M52 30l-.6 .8M30.8 13.8l.9 -.8M14.9 29.3l-.4 0M13.7 15l.7 .2M54.6 45.9l-.5 0M.9 12.2l-.5 .8M49.3 27l-.7 -.4M19.5 23.1l.5 -.8M46.9 5.8l.5 -.3M35.4 19.1l.7 .9M35.3 21.2l-.2 -.3M19.9 3.2l.8 -.9M20.4 41.2l.5 -.1M45.8 47.6l-.7 .5M56.5 11.8l-.1 -.6M11.2 45.3l0 -.9M15.7 18.1l-.2 -.3M24.2 30l.7 .8M38 44.2l-.1 -0M56.5 15.2l0 -0M41.9 21.5l.5 .2M51.4 35.6l-.2 -.8M24.6 42.5l.4 .7M43.7 24.7l.3 .2M54.6 6.4l.2 .7M25.3 19.4l.2 .8M64 11l.4 .7M46 8.7l0 .6M47.4 28.2l.3 .3M61.1 44.2l-.7 .7M5.4 39l.1 -0M39.1 15.9l-.7 .1M4.3 11.7l-.9 .8M8.4 3.9l.9 -.7M53.5 23.7l.5 -.3M58.7 10l-.5 -.5M14.9 34.3l-.3 -.7M56.4 13.9l.8 -.8M56.4 27.4l-.1 -.4M49.9 31.3l-.8 -.7M52.9 3.1l-.2 -.4M23.1 15.4l-.1 -.5M26.6 31.2l-.1 -.5M4.4 1.7l.4 .4M43.1 36.1l-.1 .7M25.6 8.9l.5 -.6M27.2 15l-.6 -.7M61.6 18.4l.7 -.8M3.8 2.1l0 .6M10.4 35.4l.1 -.3M33.4 10.8l-.1 0M15.7 11.6l-.8 .1M28.9 31.7l-.1 -.2M42.5 29.3l.7 -.5M33.7 4.4l.6 -.4M55.7 3l-.6 .7M44.9 15.8l-.3 .8M4.3 37l.1 -.4M14.7 40.2l-.1 .7M13 24.1l.8 -.5M52.1 4l.4 -.3M17.9 18l-.8 .5M34.2 12.3l.3 -.7M51.3 39.5l.3 -.6M5.3 38.1l.4 -.5M34.1 26.8l-.6 .2M33.8 24.3l-.7 -.5M29.5 32.2l-.3 -.9M19.5 18.6l-.7 0M29.1 22.5l-.3 -.5M62.3 19.3l-0 .1M52.1 22.7l.4 -.7M58.4 23.9l.3 -.1M12.5 10.4l-.5 -.4M44.7 23.1l-0 -.4M2.8 41l-.7 -.8M28.1 45.7l.8 -.4M1.4 29.8l.7 .3M45.1 4.4l.5 .4M21 13.2l.9 -.2M9.3 18.3l-.8 -.2M27.2 20.5l.2 -.3M28.1 40.8l.1 -.3M44.1 10.4l-.4 -.9M61 11.1l-.7 0M34.6 19.1l.2 -.1M30.1 41.9l-.2 .6M57.5 8.2l.4 .8M17.8 1.3l.8 -.3M39.3 31.5l.2 -.6M40.2 25.6l.1 .2M62.5 4.4l-.3 -.7M6.3 35l-.2 -.5M5.5 17.2l.9 .8M24 6.3l.3 -.3M26 14l.3 -.9M54.4 23.1l.9 .6M37.1 27.2l-.2 -.9M47.4 42.2l-.1 .6M9.6 45.6l.6 -.3M61.6 31.6l.8 .8M26.5 10.3l-.2 -.6M56.7 2.9l.4 .8M6.8 3l.1 -.3M59.6 37l.3 .4M50.9 33.5l.3 -0M16.2 12.6l.4 .5M62.7 18.5l.3 -.2M11.8 11.6l-.1 .4M34.2 11.2l-.2 .9M43.6 23.3l0 .8M1.9 7l.2 .1M21 45.9l-.1 -.4M26.7 24.2l.7 -.9M9.1 3.2l-.4 -.4M59.9 19.3l-.4 .1M25.4 42.3l-.6 .2M28.2 29.4l.5 0M30.3 46.3l.6 0M29.8 42.2l.8 .7M42.5 32.5l.5 .2M1.6 45.5l.5 .5M9.2 25.4l.8 -.1M42.9 33.9l.5 .9M1.8 17.7l-.7 .4M20.1 25.1l-.5 .4M57 33.1l-.7 -.5M50.6 25.9l-.8 .3M.9 29.6l.3 .1M9.5 8.1l-0 -.8M23.5 14.3l-.8 -.3M29.3 8.1l.6 -.6M62.7 23.3l.4 -.6M9.5 44.9l-.8 -.7M41.6 41.7l.1 -.5M46.7 23.7l-.5 -.9M58.5 24.7l0 .2M41.1 45.5l.2 -.8M25.8 7.5l.6 -.7M23.7 19.4l-.5 .2M6.7 12l.5 -.1M12.2 1.1l-.8 -.4M6.9 12.8l.8 -.8M20.1 13.3l.7 .5M8.3 33.8l.5 -.1M6.1 39l-.5 -.4M32.7 2.9l-.4 -.5M3.7 5.6l.8 -.1M47.6 34.6l-.5 -.7M26.2 23.1l-.4 -.6M52 23.1l0 -.7M60.2 27.5l.7 .7M46.6 10.9l-.9 -.8M9.8 10.6l.5 -.3M2.9 9.2l.1 .8M7.2 1.7l-.1 .6M50.9 18.4l.2 .3M11.2 44.3l.7 -.4M40.2 40.8l.7 -.4M18.1 6.2l.7 -.1M6.5 22.3l.1 -.3M26.2 28.2l.1 -.1M18.9 24.7l.8 -.7M8 7.9l-.3 -.5M41.7 15.9l-.3 -.8M43.9 19.5l-.1 .1M19.4 23.8l-.3 -.6M3.8 24.9l.7 -.5M15.5 40.4l.5 .4M53.7 31.7l-.7 .8M57.9 46.6l.5 .9M4.3 43.4l-.3 .5M28.5 34.2l-.6 .5M15.6 1.1l-.6 -.7M17.4 11.2l-.7 .1M20.5 32.2l.2 -.2M53.3 29.5l-.5 .3M52.6 25.6l-.9 -.8M39.1 10.4l-.7 .1M15.6 2.3l-.4 -.6M20.4 34.8l-.7 -.2M26.6 25.2l.5 .6M34.9 10.4l.1 .1M9.8 42.1l.7 -.1M33.1 18.1l.5 -.1M14.8 1.3l.3 -.7M64.6 26l.5 .2M52.9 32.5l.5 .5M56.4 3.2l.4 -.1M56.3 19.6l-.2 .4M13.5 35.5l.2 -.1M15 34.1l-.8 .1M59.4 13.1l-.1 -.7M38.2 5.3l.3 -.7M37.6 23.6l-.2 .3M34.4 46.6l.3 -.1M58.1 8.6l.7 .8M3.3 31.4l.7 -.7M35.5 37.5l.5 -.1M57.2 31.7l.1 -.2M52.9 14.2l-.4 .4M4.6 9.3l-.3 .3M16.5 21.1l.4 -.2M58.5 31.3l-.4 -.4M52.3 33.7l-.5 .5M57.7 26.8l-.8 .5M23 41.3l-.3 0M6.5 22.8l-.5 -.3M32.3 19.7l-.1 .6M22.8 39.8l.2 .2M20.3 26.9l-.7 -.5M57.8 39.6l-.8 -.3M37.8 39.1l.6 .3M54.4 4l.2 .1M35.8 31.2l.8 .9M33.8 8.2l.8 -.9M39.6 34.7l.2 -.2M25.7 7.1l-.4 -.5M21.4 28.8l-0 -.8M16.7 16.2l.1 .7M24.1 14.2l-.8 -.7M3.2 35l-.9 .1M55.5 23.3l.7 .2M6 21l-0 -.2M47.3 2.8l-.3 0M32.1 17.9l.5 .2M63.9 5.4l.2 -.6M40.1 16.9l-.2 .4M60.7 15.7l.3 .8M22.6 43.7l.1 -0M46.9 40.3l.1 -.6M63.9 3.9l.7 -.7M29.5 23l.9 -.9M24.7 41.5l-.6 -.3M48.7 33.1l-.2 .4M57.6 47.4l-.8 .2M3.3 .3l-.7 -.2M61.9 21.4l.6 -.9M35.7 19.6l-.2 -.3M16.5 39.1l.6 -.6M.3 25.2l.2 -.6M60.2 23.5l-.4 -.4M7.7 45.6l-.5 -0M52 10.1l-0 -.8M60.6 6.4l-.3 -.8M15.3 40.7l-.7 -.3M63.9 35.9l-.7 .6M5.8 43.4l-.4 .4M8.2 12.7l-.2 -.7M38.5 47.2l.9 -.4M24.5 16l-.7 .2M23.6 30.7l-.6 -.7M6.9 31.9l-.8 -.1M35.4 15.7l.6 .3M43 12.7l0 -.3M48.6 19.6l.6 -.2M3.2 24.6l-.1 -.2M31.8 30.3l-.1 .5M56.1 39.4l-.3 -.5M56.4 10.7l-.8 -.1M24.2 38.1l.1 .3M49.4 35.3l-.4 -.8M56.3 35.4l-.6 -.7M44.6 36.5l-0 -.5M22.7 6.8l.2 -.4M42.3 14.6l.1 .7M42.2 11.5l.1 .5M15.4 19.1l.1 -.3M31.6 13l-.3 .3M10.4 16.8l0 -.9M1.4 34.3l-.8 .5M55 5.5l.4 .9M.1 22.1l-.1 -.6M34.6 40.7l-.2 .2M63.4 28.4l-.8 .4M61 9.9l.5 -.7M54.3 27.2l-.4 -.1M50.6 46.1l-0 -.3M64.6 19.1l-.6 .2M34.5 25.5l.8 -.2M12.2 30.3l-.1 -.6M21.2 32.8l.6 .9M50.4 38.7l0 .4M63.1 47.3l-.3 -.5M10.8 3.3l-.9 0M36.2 26.1l.3 -.3M39.4 9l.5 0M58.7 8.4l.2 -.3M64.4 18.3l.3 -.2M51 17.3l-.3 -.4M55.8 38.5l-.5 .1M58.3 22.7l.6 -.8M22.9 25.8l-.8 -.5M8.9 28.2l-.7 -.8M51.4 38.1l.1 -.8M29.4 45.4l-.7 -.9M18.9 16.7l.8 -.4M26.8 38.9l-.8 .3M64 15.2l-.3 -.8M48.4 42.1l-.2 .6M40.8 35.6l-.6 .2M38.3 5.2l.2 .4M36.5 32.9l.5 -.1M31.9 33.6l.8 -.8M65.5 12.3l.8 -.1M43.9 16.6l-.6 -.8M26.2 11.2l-.8 -.6M29.3 24.2l.2 .4M18.4 3.7l.8 -.9M11.2 20.7l-.2 -.5M.9 1l.7 .6M12.8 28.5l-.8 .7M48.7 5l-0 .4M.5 24l-0 -.7M10.3 1.2l-.8 .5M64.4 31.2l.6 .3M31.6 7.3l.1 -.4M41.1 4.3l.6 .6M61.7 44.7l-.1 .9M12.9 23.7l-.3 .6M24.9 19.6l-.6 -.8M61 47.5l-.6 .8M47.8 5.1l.5 .7M58 8.6l.5 -.2M43.7 41.3l.1 .1M20.9 41.7l-0 .4M38.3 21.6l.8 -.8M6.1 31.3l.5 -.2M22.7 30.1l-.4 .8M57.6 42.8l.4 -.4M13.2 11.8l-.2 -.3M31 18.7l.7 -.5M13.5 33l.4 -.1M53.4 9.2l-.4 .1M47.8 18.8l.8 -.1M54.2 26.6l.5 0M43.3 8.1l0 -.3M34.4 20.7l-.4 .7M27.9 1.5l.4 .7M51.6 40.5l-.9 -.8M48.7 15.2l.8 .6M15.8 5.7l.3 -.6M60.4 36.2l0 -.7M36.1 32.3l.2 0M38 47.1l.9 -.5M5.9 37.5l-.1 .2M14.9 44.9l.5 0M12.5 31l-.5 -.7M45.9 4.6l-.4 .8M31.7 6.1l.4 -.4M2.3 .9l-.7 .1M49.6 13.2l-.7 -.4M39.6 29.4l.5 .5M18.4 8.4l-.4 -.1M7.7 20.7l-.2 .3M32.2 20.6l-.1 -.3M23.6 13.5l.4 -.7M27.2 21l-.8 .5M29.1 46.5l-.4 -0M57.8 25.6l.4 .1M58.9 16l.7 .3M53.8 1.7l.7 -.1M22.7 3.9l-.2 -.3M3.2 18.8l.9 -.1M41.3 41l-.5 -.1M50.5 28.5l.2 -.5M41 23.9l-.8 .6M65.5 15.8l.3 -.7M.6 41.4l.6 .5M47.2 36.8l.5 .6M23.3 14.5l.5 -.2M11.2 17.8l-.3 -.7M4.3 26.9l-.5 .1M37.2 12.7l-.4 -.8M13.3 2.3l.2 .7M34.7 25.6l.7 -.6M26.6 34.1l-.4 -0M9.1 29.3l.4 0M57.2 17.8l.1 0M5 19.8l-.4 .3M32.7 30.3l-.5 -.8M.6 44.4l.5 -.6M60.4 1.5l.6 .4M12.7 47.3l-.3 .7M31.1 41.7l-.2 -.4M26.4 28.2l-.7 -.1M25.8 25.1l.8 -.6M33.8 10l-.6 .2M33.5 29l.2 -.3M35.4 37.9l.8 -.3M64.7 33.1l.7 -.9M35.8 27.6l-.9 .8M15.6 5.7l-.8 .4M11.4 26.8l.3 .7M27.1 17.1l.5 .7M24.2 22.4l-.4 -.7M34.1 .7l.2 .5M29.7 15l-.4 -.1M32 47.2l-.2 .7M32.6 24.7l.1 .5M41.2 45.1l0 .3M22.8 32.5l-.3 .2M26.1 18.9l.6 -.6M12.1 9.3l.8 0M7.1 8.4l-0 -.2M23.4 45.1l-.9 .5M55.7 15l.1 .2M11.7 23.9l.2 .7M57 27.4l.5 -.5M9.4 27.5l-.1 -.1M10.9 6l.7 .5M20.9 29.6l.6 .4M47.7 39.4l-.8 -.4M16.6 8.3l.4 .9M37.6 22.8l-.3 -.3M46.1 34.7l.3 .1M12.2 4.6l-.9 .8M25.8 46.8l-.6 -.5M25 17.7l-.3 -.9M50.4 42.5l-.1 -.5M32.7 46l.7 .7M26.4 14.6l.3 .2M41.1 43l-.1 -.1M44 23.5l.5 -.1M30.1 22.4l.6 0M14.5 30.5l-.3 .8M17.3 23.9l0 -.1M44.3 29.3l-.6 -.6M46.2 45.3l-.4 -.1M61.5 6.6l.1 -.4M15.8 30.6l.6 -.1M54.4 38.6l.8 -.9M21.1 35.5l.7 -.5M8 21l.3 0M54 40.7l-.3 .8M18.3 38.1l-.5 .2M24.7 37.9l.1 .5M7.5 17l-.3 .5M22.9 25.3l.7 .2M32.3 36.3l-0 .9M33.7 45.6l0 0M37.2 2.1l-.9 -.7M59.4 29.1l.4 -0M45.4 30.8l-.3 .2M1.2 21l-0 -.3M8.1 23.8l-.8 .2M54.7 22.9l.3 -.7M15.7 22.1l-.2 -.8M44 2.2l-.7 -.5M50.6 4.7l.1 .8M46.3 19.7l.2 -.3M50.5 28.2l-.4 .7M61.2 40.5l-.4 .6M30.3 42.8l.5 -.2M40.5 36l-.4 -.2M60.7 45.3l.7 -.5M55.9 44.5l-.5 -.8M29 35.2l.2 .3M59.6 45l-.5 -.8M37.9 21.1l-.9 .9M4.1 24.8l.7 -.8M54.1 7.1l.7 .8M23.1 8.3l-.6 -.8M38.3 12.7l-.3 .1M51.9 37.3l-.6 -.7M25.2 43.5l.8 .8M23.3 30.5l.1 -.4M41.6 14.1l-.6 -.1M39.5 3.1l.5 .5M40.6 17.9l-.9 -.3M9.6 28.1l.5 -.3M65.5 29.2l.3 .4M50.9 20.5l-.2 .8M32.2 13.8l.4 .3M38.3 35l-.2 .2M25.7 16.6l.3 .5M19.5 31.6l-0 -.7M51.1 5.8l-.5 -.6M57.4 22.3l.8 .1M32.7 36.6l0 -.5M11.6 17.7l-.4 -.7M23.4 46.7l-.6 .1M5 31.9l.3 .8M41.1 17.6l.4 -.1M64.3 12.8l-.5 .4M61.9 43.7l-.1 0M19.9 43.9l-.2 .6M32.1 20.5l.4 .1M3.9 1.8l.3 -.5M27.6 45l.3 -.4M24.2 22l-.3 -.3M30.1 39.1l.2 -.6M57.1 33l.8 .1M19.1 2.6l-.2 -.2M32.8 .4l.4 -.9M28.7 26.6l.6 -.6M53.6 18.7l.5 -.6M42.1 25.2l-.8 -.3M60.4 45.1l.3 -.6M1.9 13.3l-.1 0M42.3 39.1l.1 -.7M.9 13.8l.2 .3M43.3 43.4l.7 .5M32 .2l-.3 -.5M2.9 7.2l-.5 .3M38.6 38.8l0 -.2M21.7 38.1l-.2 .9M21.6 37.3l.3 -.3M38.6 33.3l-.3 -.9M25.8 46.8l-.7 -.5M60.4 16.9l-.7 -.6M39.5 42.8l-.1 .3M10 41.8l.9 -.2M28.4 34.9l.8 -.4M38.5 14.6l-.7 -.8M54.7 3.8l-.2 .8M8.8 40.8l.1 -.6M60.2 40.1l-.8 .7M37 43.7l.1 .8M20.3 9.2l.4 .9M60.6 29.9l-.4 .8M2.1 45.2l.9 .7M44.9 41l.7 -.5M37 21.8l-.3 .5M53.7 34.8l-.9 -.6M17 41.2l.3 .2M26 6.4l-.4 -.2M24.7 41.7l-.1 .1M39.5 1.8l.6 .6M61.5 26.2l.4 .7M53.8 2.3l.6 -.2M1.2 27.1l-.9 .8M44 23.7l.8 -.1M50.5 17.6l.9 .7M43.2 21.7l.3 -.9M19.2 .4l.7 .5M24 12l.9 -0M2.2 17.2l.4 .4M52 13.9l.3 .9M62.1 44.4l.5 -.1M37.4 1.4l-.2 .2M27.8 6.2l-0 .2M23.6 11.4l.5 -.2M7.4 38.4l-.8 -0M24.2 42.9l.4 -.3M41.9 10.7l.4 .8M.6 20.2l.2 .7M3.9 30.3l.4 -.7M7.9 7.4l-.1 .1M9.7 21.6l.1 .2M49.7 25.1l.1 -.4M58 27.8l-.1 0M54.2 14.6l-.6 .3M20.9 5.6l.9 .7M40.5 10.9l-.8 .5M48.6 15.2l-.4 .6M25.3 43.1l.2 -.7M36.3 24.3l-.7 -.8M24.8 32.9l.1 .7M.5 32.8l.6 -.8M20.8 40.5l-.6 -.1M19 18.9l.8 -.1M8.4 31.4l.3 -.8M46.5 1.2l-.9 .4M58.1 .2l.2 -.8M4.8 43.7l-.5 .8M1.4 3l.6 .5M47.2 10.6l-.2 -.2M21.9 10.9l.1 -.8M15 26.7l.2 .2M29.2 35.5l.7 .8M42 37.1l-.4 0M39.6 31.2l.9 -.7M61.3 9.8l-0 -.9M11 12.2l.5 -.8M7.4 19l-.2 -.6M61.3 22.1l.3 .6M.4 9l-.3 .5M28.8 20.7l.1 .4M29.3 46.6l-0 .2M40.5 6.9l-.5 .5M9.3 5.3l-.1 -.1M57.6 29.4l-.5 0M45.5 34.5l.7 -.3M54.7 25.2l.9 .9" stroke="#6262d0" stroke-width="1.0" stroke-linecap="round" fill="none"/>
<path d="M28.1 5l-.5 .3M58.5 30.3l.4 .3M19 26.3l-.4 .5M58.8 24l-.3 -.4M62 20.8l-.7 .6M43.1 43.6l.3 .5M24.2 22.5l-.4 -.8M13.1 9.2l-.1 -.5M24.2 3.2l-.8 -.6M46.1 9.5l-.8 .7M49.5 33.8l-.5 -.7M50.7 6l.6 .1M64.6 23.7l-.1 .6M20.3 40.4l.7 .4M44.7 11.5l-.3 -.1M59.8 36.7l-0 -.8M46.8 30.6l.3 -.2M23.8 12.2l.4 -.5M11.5 42.3l.1 .6M64.4 10.2l-.6 -.7M9.4 34.8l.3 -.2M6.9 25.5l.6 .7M33.6 44.5l-.6 .2M36.4 9.8l0 -.4M42.7 34.2l-.7 -.8M29.9 34.5l.7 .3M42.1 6l.4 -.5M43.3 31.8l.7 -.2M39.1 25.8l-.2 .1M38.4 6.4l.4 -.6M14 31.2l-0 -.7M14.1 17.1l.3 .6M32 5.1l-.5 .2M13.9 41.6l.2 .7M29.7 2.9l.4 .2M21.8 27.5l-.4 .4M56.2 34.5l.3 .5M31.2 20l.2 -.7M37.1 26l-.6 -.2M41.6 26.3l.5 -.5M55.1 35.1l-.6 -.7M52 5l.6 -.2M55.7 11.8l.8 .4M11.2 16.3l.3 .2M46 23.6l-.2 .5M61.8 11.2l-.2 .2M48.5 34.5l.8 .3M36 7.2l-.1 -0M20.8 31.8l.5 -.3M32.9 21.1l-.4 -.5M31.1 13.1l.2 -.5M3.7 44.9l.2 -.2M25.3 21.2l-.3 .8M2.8 35l-.6 .3M46.5 9.2l.7 -.5M64.5 9.7l-.2 -.6M23.5 47.4l.1 .5M13.3 47l-.1 -.3M10.8 46l-.3 .5M65 17.9l-.2 -.1M3.1 7.5l.7 -.8M12.7 45.6l.1 0M5.1 13.4l.7 -.1M36.3 15.7l-.1 .4M57.3 33.4l-0 .1M49.9 16.6l-0 0M47.2 8.5l-.1 .5M39.8 47.1l-.5 -0M47.1 8.2l.1 .1M42 45.4l.3 .7M19 25.5l-.7 -.7M3.4 42.7l.6 -.5M49.9 29.4l-.5 0M59.2 19.6l.5 -.7M16.2 39l.3 -.4M21 24.2l.5 -0M24.2 1.2l0 -.6M53.1 43.8l.2 .3M6 12.3l.3 .5M8.7 16.9l.2 .3M36.6 17.8l0 .5M32.2 3.2l.1 .7M54.5 10.6l.3 .4M65.1 30.3l.2 -.7M23.2 34l-.2 -.5M55.7 43.4l.4 .2M32.9 23.3l-.7 .3M44.5 19.1l-.7 .6M39.6 42.5l-.4 -.2M6.8 26.6l0 -.3M21.2 9.1l.6 .5M47.7 27.2l-.3 -0M47.6 40.7l-.8 -.8M63.6 13.5l-.1 .5M54.3 9.7l.1 -.7M24.6 15.2l.3 -.7M42.9 20.1l0 -.5M35.9 44.9l0 -.4M28.2 9.5l.2 -.2M65.4 .3l.2 -.1M11.9 11.6l.7 -.2M51.9 21.2l.1 .8M7.6 34.5l-.1 .2M4.2 35.2l-.6 0M57.3 32.4l-.5 0M40.3 1.4l.4 .6M6 28.7l-.5 .7M37 32.7l.1 -.1M47.5 1l-.1 .8M17.4 24.1l.5 .4M22.5 47.3l-.1 -.3M42.4 32.3l.2 -.1M3.5 29.2l-.2 -.7M45 34.2l-.7 .5M41.3 43l-.6 -.3M40.4 21.9l.4 .4M46.2 5.8l-0 .7M50.6 2l-.7 -.5M25.5 41.7l.2 .7M30.6 4.4l.4 -.4M40.6 8l-.8 -.2M27.2 40.2l-.1 .4M43.2 33l-.5 -.4M62.8 45.7l.2 .3M9.7 45.5l.7 .1M2.8 40l-.4 .4M15.5 31.3l-.4 -.1M16.8 36.7l-.3 .5M61.8 39.9l.7 -.2M49.6 46.3l-.2 .2M65.5 29.5l.3 -.4M25.2 41.6l.1 .8M55.9 36.5l-.6 .6M19.2 3.2l.7 .3M7.4 9.1l-.3 .6M46.3 17.4l-.6 -.1M54.9 25.5l.1 .8M62.3 37.3l-.1 -.5M24.2 44.4l.1 -.4M21.3 14.3l-.5 .4M49 3.8l-.8 .1M13.6 5.3l.7 -.6M52.4 29.7l-.4 .1M19.7 16.7l-.5 -.7M56 22.8l-.3 .7M49.6 42.7l.8 -.4M6.3 27l-.5 .1M47 38.1l.6 -.6M7.4 19l-.3 -.2M13.7 15.3l.1 -.3M40.3 19.6l-.3 -.1M29.2 18l-.4 -.7M25.2 2.5l-.1 .2M47.8 16.1l-.4 -.7M3.6 8.4l.3 -.1M51.8 20.3l.6 -.7M60.9 15.4l-.7 .1M22.7 12l.3 -.8M37.6 28.8l.5 -.7M17.2 3.3l-.6 -.2M33.4 34.7l-.7 .1M61 35.4l.8 .4M9.2 30.7l.4 -.2M63.4 21.5l.3 -.3M23.5 40.7l.2 .8M10 12.5l.2 -.1M52.1 22.5l.5 -.2M64.2 32.8l-.7 .5M63.8 21.1l-.8 .5M56.3 20.7l-.2 .6M30.1 41l-.4 .1M56.4 4l.5 -.3M8.4 13.6l.8 .1M39.6 39.4l-.1 -0M27.8 45l.7 .2M54.3 33l-.3 .8M9.6 29l.4 .6M48.6 40.1l.4 .6M43.9 11.8l.2 -.1M40.2 29.7l.6 .5M44.9 33.6l.3 .4M57.1 30.3l-0 .4M9.7 17.6l.1 .1M33.9 41l0 .5M30.4 12.7l-.5 .2M29.6 47.4l-.3 .5M13.9 34.5l.7 .5M26.7 6.9l.3 .5M48.2 39.1l-.8 .1M59.6 9.6l.1 -.1" stroke="#4646c0" stroke-width="1.5" stroke-linecap="round" fill="none"/>
</g>
<rect x="57.5" y="44" width="3" height=".7" fill="#e04060"/>
</svg>
<svg x="110.5" y="486.9" width="65.9" height="47.6" viewBox="0 0 65.9 47.6">
<rect width="65.9" height="47.6" fill="#dddce9"/>
<g filter="url(#b5)">
<path d="M1.4 44.2h0M21 5.3h0M22.6 47.3h0M47.8 27.4h0M20.2 37.3h0M28.2 13.7h0M48.1 25.9h0M65.9 39.6h0M14.9 21.1h0M6.3 9.1h0M61.1 32h0M13.6 20.1h0M9.3 10.8h0M47.7 38.1h0M36.2 25.1h0M54.5 40.3h0M12 32.6h0M36.3 6.8h0M65.8 26.8h0M52 36.6h0M4.2 34h0M52.5 29.6h0M52.1 29.3h0M47.1 37.5h0M7.1 16.9h0M60.2 46.8h0M9.9 31.6h0M8.6 4.5h0M14.7 29.1h0M25.5 31.3h0M37.3 39.8h0M54.5 7.8h0M65.8 26.9h0M36.4 25.9h0M23.4 26.2h0M22.5 40.4h0M26.8 29.6h0M16.9 30.1h0M18.5 15.3h0M65.1 28h0M18.8 35.2h0M51 1.8h0M.3 16h0M41.4 35.8h0M45.8 11h0M65.8 17.2h0M36.2 15.2h0M59.3 10h0M35.8 7.9h0M52.5 25h0M2.5 45.6h0M26.6 43.1h0M6.6 42.4h0M21.5 45.5h0M21.6 33.5h0M49.3 6.1h0M44.5 42.9h0M62.2 35.6h0M56.3 5.9h0M1 39.5h0M49.5 22.1h0M27.8 1.2h0M43.9 7.6h0M45.1 12.5h0M7.9 43.9h0M10.1 31.6h0M6.1 13.7h0M30.4 42.4h0M60 23.6h0M57.9 34.9h0M37.6 26.6h0M16.1 2.5h0M52.4 4h0M65.7 34.7h0M51.4 18.7h0M47.1 11h0M11.4 30.5h0M59.5 41.2h0M15.5 4.3h0M12.2 7.5h0M33.6 24.8h0M35.7 11.3h0M19.8 42.6h0M18.6 20.6h0M20.2 13.6h0M49.6 10.1h0M9.4 1.1h0M14.1 19.1h0M23.5 27.8h0M34.3 9.7h0M12.3 .4h0M12.1 37.3h0M36.4 35.7h0M40 44.1h0M59.6 44.8h0M57.9 27.1h0M46.4 39.8h0M25 5.3h0M8.4 19.5h0M17.5 29.3h0M55.5 2.3h0M46.9 37.9h0M52 9.4h0M21.5 2.6h0M43.7 40h0M62.7 34.9h0M56 12.7h0M6.5 15.4h0M28.3 47.4h0M39.7 2.1h0M61.3 33.6h0M16.8 8.2h0M62.7 6.2h0M32.6 45h0M28.2 47.1h0M39.3 23.1h0M5.7 2.8h0M47.1 2.3h0M24.1 15h0M28.2 4.4h0M65.1 26.8h0M53.6 .7h0M41.6 17.6h0M26 36h0M54.5 11.6h0M36.9 26.9h0M35.6 23.7h0M37 33h0M36.3 39.1h0M33.4 33.3h0M1.2 18.1h0M56.7 22.9h0M26 8.1h0M6.8 9.1h0M30.5 3.9h0M55.7 7.6h0M26.8 14.3h0M36.5 28.2h0M.6 5.9h0M32.9 4.3h0M48.7 10.6h0M9.1 44.4h0M15.4 31.2h0M27.1 4.1h0M63.3 1.7h0M30.2 34.1h0M20 27.6h0M57.4 22.1h0M48.1 42.8h0M29 21.6h0M49.6 31.9h0M11.1 42.8h0M41.7 18.2h0M16.4 15.8h0M48.7 44.9h0M7 15.2h0M37.8 28.4h0M18.4 15.1h0M5 13.6h0M5.2 19.8h0M56.8 31.5h0M34.2 2.4h0M18.7 28.7h0M42.3 26h0M2.7 27.8h0M.3 26.9h0M30.2 19.5h0M26 8.9h0M0 23.1h0M1.9 26.6h0" stroke="#c6c4e0" stroke-width="1.1" stroke-linecap="round" fill="none"/>
<path d="M11.7 13.5h0M26.9 29h0M62.3 .2h0M2.2 18.5h0M40.9 40.8h0M38.9 20.2h0M63.3 11.6h0M13.7 27.5h0M49.5 45.6h0M34.2 43.9h0M41.8 43.9h0M5.2 6.3h0M47.5 19.8h0M17.8 18.1h0M37 1h0M53.5 22.9h0M8.1 38.2h0M27.5 6.3h0M23.4 27.5h0M62.3 21.8h0M24.1 26.9h0M36.1 11.9h0M41.2 37.3h0M50 10.4h0M20.7 3.1h0M13.4 21.1h0M58.7 32.2h0M41.4 38.3h0M8.4 20.5h0M.5 19.1h0M6 10.2h0M59.1 12.8h0M2.5 25.2h0M36.9 31.7h0M23.5 43.7h0M46 3.4h0M47.8 7.4h0M42.8 10.4h0M11.1 2.7h0M6.1 26.8h0M43.9 15.4h0M47.8 23.1h0M38.5 31.3h0M25.4 5.6h0M20.1 28.2h0M10.1 18.4h0M41.7 3.2h0M26.5 23.8h0M38.6 26.8h0M23.9 4.1h0M7.8 5.8h0M63.4 21.1h0M59.2 16.2h0M25.6 17.9h0M56.9 0h0M34.3 41.1h0M10 43.1h0M23 14.4h0M42.3 16.6h0M11.7 34.9h0M38.9 30.8h0M9.9 31.7h0M44.7 16.6h0M22 1.3h0M2.4 15.7h0M49 45.9h0M35 20.7h0M42.5 16.7h0M55.2 23.9h0M5.7 18.4h0M52.8 40.1h0M18.2 .4h0M39 31.2h0M58.3 30.5h0M51.4 34.3h0M37.2 17.6h0M57.1 39.7h0M62.1 31.4h0M28.9 25.6h0M36.2 28.7h0M42 7.2h0M57.2 40.6h0M39.9 17.1h0M41.1 36.5h0M65.5 46.7h0M4.6 2.4h0M32.7 32h0M20.9 19.6h0M31.7 36.8h0M37.7 36.3h0" stroke="#ebeaf3" stroke-width="1.3" stroke-linecap="round" fill="none"/>
<path d="M64.8 20.8l-.3 -.6M24.8 24.8l.2 -.8M44.9 40.5l-.3 -.3M30.9 11.1l-.5 -.7M49.1 9l-.8 .5M63.1 12.6l-.2 -.6M6.1 42.7l.3 .6M23.4 38.9l-.1 -.1M40.3 21.6l.6 .6M41 28.8l.8 -.9M39 25l.3 -.5M24 14.4l.2 .7M65.2 28.3l.9 .5M49.4 30.3l-.4 -.8M8.4 36.3l-.2 -.4M47.4 9l.8 .4M60.9 26.3l.2 -.9M13.3 10.5l.6 -.1M19.6 29l.7 .7M30.9 45.3l.1 .6M64 6.9l.2 -.5M24.7 45l.4 .3M33.7 17.3l.6 -.5M20.8 34.3l-.2 .8M50.2 9.1l.6 0M20 42.9l-.7 .2M59.5 42.9l-.2 -.8M57.8 10.5l.2 -.9M46.4 47.1l-.7 .5M4.5 10.9l-.3 .3M47.7 20.7l-.1 -.7M33.3 27.7l-.5 .3M64.8 9.5l.2 .1M64.9 24.4l.1 .4M25.3 29.4l-.2 -.3M8.7 37.9l-.1 -.3M25.8 1.6l.2 -.6M17.8 43.9l-.2 .8M50.2 4.5l.5 -.4M2.3 32.7l.8 .6M45.3 22l-.1 0M14.3 24.6l-.2 -.4M60.2 8.7l.5 .2M13 26.4l-.6 .6M17.6 23.2l-.3 .9M8.5 26.7l.8 -.6M26 45.8l-.9 0M47.8 10.3l-.4 -.4M31.3 25.1l.2 .8M59.9 9.3l.5 -.7M42.6 46.1l-.9 -.3M56.3 25.1l-.6 .1M56 26l0 .6M57.7 41.5l0 -.5M5 46l.2 .8M30.3 18.9l.7 .7M39.2 22.2l0 -.7M19.3 25l-.7 -.7M8.3 24.5l-.6 .7M35.8 30.1l.7 .7M49.7 39.9l-.6 -0M63.6 2.6l-.1 .9M20.9 26.1l.5 .7M25.9 25.5l.6 .8M20.8 .4l-.9 .4M60.4 25l.1 .1M40 3.4l.8 .9M52.4 37.4l.7 .5M24.6 13.7l.2 .5M1.7 13.1l-.5 -.5M46.1 38.9l-.6 -.4M44.9 25.1l.3 .6M15.2 19.9l-.3 .5M54 2.1l.4 .7M11.2 16.4l.1 .1M11.2 22l.7 -.7M44.4 29.3l-.6 .3M32 17.6l-.7 .2M38.7 13.1l.7 -.1M24.2 .4l-.2 -.1M2.1 47.3l-.8 0M32.1 37.3l-.7 .6M37.5 1.3l.4 .2M19.5 9.9l-.8 .7M39.2 16.1l-.2 .6M30.2 7l.7 .8M5.9 29.1l.1 .6M4.4 17.3l.2 0M65.8 35.8l.2 -.7M10.9 16.1l.1 .9M5.4 11.7l-.8 -.5M11.3 46.2l-.8 .3M27.4 14.7l-.2 .8M37.3 34.9l.3 -.5M13.2 23.2l.5 -.8M14.8 33.5l-.5 .1M6.3 37.5l.4 -.4M31.3 33.9l.3 .3M36.9 28.2l.5 .8M43.6 22.9l.1 -.8M51.7 14.5l-.6 -.8M23.6 26.9l-.4 -0M20.7 9.9l-.3 .6M26.7 42.2l.4 .7M5.4 32.9l-.4 -.2M20.9 13.8l.6 .4M58.8 29.8l.2 0M60.7 15.7l.3 .4M7 28.7l.7 .4M64.5 15.9l.7 -.6M3.2 28.6l-0 -.3M35 35.5l.3 -.2M16 23l.7 .9M63.3 34.6l-.1 -.5M50.3 30l-.8 .7M4.1 30.5l.2 .8M24.7 12.6l.3 -.6M61.3 23.4l.9 .3M35.7 43.1l-.9 .7M5.6 41.9l-.7 .8" stroke="#6262d0" stroke-width="1.0" stroke-linecap="round" fill="none"/>
<path d="M20 17.2l.2 -.6M1.5 6.8l.4 .6M52.5 10.3l-.1 0M57.8 28.8l.6 .3M5 35.4l.8 -.6M28.9 33.8l.1 -.5M40.2 5.8l.6 -.1M24.1 42.6l-0 -.1M5.7 23.1l-.6 .2M40.9 33.9l-.7 -.5M30.6 45.4l.4 .3M59.8 27.8l.1 -.4M62.4 40.7l-.6 0M34.3 36.8l.4 .1M35.1 46.9l.3 -.7M41.8 19.9l.6 -.3M44.7 9.6l.5 -.5M12.8 33l-.2 -.1M46.4 17.1l.4 .7M30.7 5.5l-.3 .5M13.7 21.8l-.7 .7M6.4 9l.1 .6M20.6 19.1l-.3 -.2M25.5 45.3l-.2 -.3M22.9 38.2l0 .6M60.5 17.1l.4 -.1" stroke="#4646c0" stroke-width="1.5" stroke-linecap="round" fill="none"/>
</g>
<rect x="57.7" y="44" width="3" height=".7" fill="#e04060"/>
</svg>
<svg x="178.4" y="486.9" width="66" height="47.6" viewBox="0 0 66 47.6">
<rect width="66" height="47.6" fill="#deddea"/>
<g filter="url(#b5)">
<path d="M63.7 18.8h0M7.2 12.2h0M2.6 24.4h0M23.1 4.5h0M44.2 31.5h0M64.8 9.3h0M39.4 31.6h0M6.6 13.2h0M23.2 29.1h0M61.7 10.1h0M22.4 45.2h0M27.8 47.6h0M39.9 7.7h0M25.6 3.6h0M62.9 15.9h0M17.3 41.7h0M34.7 40.7h0M11.8 5.4h0M11.5 2.1h0M10.9 30.3h0M7.7 35.5h0M8.2 29.4h0M37.5 5.5h0M61.6 44.7h0M44.5 3.8h0M3.4 21.6h0M7.3 36.8h0M29.7 37.5h0M27.1 4.8h0M60.4 23.1h0M32.8 35h0M59.2 12.2h0M32.4 10.9h0M14 28.1h0M18.7 41.6h0M56.5 22.7h0M34.5 35.7h0M29.8 3.8h0M1.5 1.1h0M36.6 7.8h0M10.9 8.1h0M10.2 45.5h0M7.7 27.1h0M38.8 44.3h0M35.9 37.6h0M40.1 34.2h0M6.6 1.4h0M9 37.2h0M25.6 1.6h0M62.4 11.6h0M24.3 31.2h0M53.9 33.1h0M31.4 44.6h0M48.8 5.7h0M62 8.6h0M25 39.4h0M23.5 18.1h0M29.2 9.7h0M26.9 5.5h0M5.8 3.3h0M30.9 34.4h0M2.2 43.6h0M45.7 2.6h0M36.1 39.9h0M28.4 27.3h0M13.7 1.7h0M15.2 36.5h0M56.9 25.3h0M48.6 4.7h0M47.3 10h0M25.9 44.9h0M30.3 26.1h0M55.1 44.9h0M14.3 9.9h0M2.6 38.5h0M54 9.9h0M24.9 9.8h0M10.4 23.8h0M15.9 10.8h0M33.8 32.6h0M32.6 18.2h0M28.3 16.5h0M30.2 15.9h0M25.1 .3h0M11.8 18.7h0M45.4 1.7h0M7.9 43.2h0M32.4 8.4h0M29.5 19.3h0M40 36.7h0M38.5 19.8h0M26.3 11h0M16.2 31h0M21 1.2h0M11 8.7h0M47 44.8h0M26.4 14.5h0M50.3 1h0M24.8 18.5h0M5 13.3h0M28.2 4.6h0M42.6 42.4h0M22 19h0M63.3 26h0M41.5 3.4h0M2.6 3.3h0M14.4 36.9h0M10.3 12.2h0M17.5 22.6h0M38.6 6.9h0M61.1 37.6h0M61.6 10.5h0M21.4 .8h0M10.7 16.5h0M45.9 38.9h0M20.1 32.7h0M18.3 33.5h0M18.9 36.1h0M9.3 8.5h0M36.4 35h0M29.3 24.1h0M31 40.9h0M36.1 47.4h0M44.5 47.3h0M35.8 7.7h0M9.2 15.1h0M38.8 31.3h0M63.3 36.7h0M22.9 29.7h0M6.9 14.8h0M27.4 24.8h0M56.1 15.6h0M52.7 16.8h0M29.9 42.3h0M62.1 47.1h0M28.7 14.7h0M41.1 1h0M1.4 30.8h0M43.5 29.2h0M36 40.2h0M42 21.1h0M20.1 46.5h0M12.8 44.7h0M3.5 13.6h0M53 34.5h0M21.4 15h0M21.8 40.4h0M46.2 35.5h0M53.1 10.6h0M20.8 40.4h0M59.9 19.3h0M56.8 15.7h0M37.5 3.5h0M15.8 9.5h0M19.9 41.4h0M56.4 26h0M52.3 11.8h0M41.7 41.7h0M28.1 42.7h0M61.7 20.9h0M22.1 12.2h0M59.1 3.9h0M43.8 15h0M6.4 2h0M33.3 34.2h0M21.4 21.1h0M58.7 40h0M55.3 6.7h0M54.7 23.4h0M50.8 30.1h0" stroke="#c6c4e0" stroke-width="1.1" stroke-linecap="round" fill="none"/>
<path d="M14.8 19.2h0M10.7 29.6h0M.2 47.3h0M61.2 8h0M38.5 28.3h0M43.3 46.2h0M24.9 35.7h0M19.3 29h0M24.4 7.9h0M4.5 30.8h0M62.2 6.4h0M49.6 20.8h0M64.2 38.9h0M1 16.1h0M42.2 35h0M21.1 25.8h0M7.7 11.1h0M58.9 20.9h0M23.5 17.6h0M42.4 .2h0M38.1 40.7h0M45.4 38.8h0M16.7 14.5h0M31.9 11.8h0M17.3 13.5h0M56.6 40.7h0M43.1 1.5h0M6.8 37.6h0M28.9 41h0M2.1 2.3h0M23.7 33.3h0M55.6 40.7h0M14 44.3h0M19.3 2.1h0M63.1 19.6h0M51.2 23h0M15.9 1.7h0M23.8 7.7h0M43 22.9h0M60.4 25.4h0M59.9 28.8h0M3.6 35.6h0M58.6 45.6h0M50.1 32.5h0M32.7 11.7h0M37.5 22.5h0M22.6 24h0M51.3 31.2h0M46.4 23.7h0M22.1 33.6h0M11.9 16.9h0M46.6 17.1h0M55.1 22.9h0M42.8 18.5h0M50.4 2h0M56.2 46.5h0M17.6 13.4h0M35.1 23.8h0M51.4 6.8h0M18.7 37.3h0M32.1 18.8h0M43.6 1.5h0M28 22.3h0M26.6 24.5h0M8.6 36.4h0M34.1 33h0M36.2 39h0M25.5 18.2h0M21.1 14h0M55.7 20.9h0M8.9 34.5h0M53.8 15.3h0M60.8 10.2h0M53.5 34.5h0M21.7 37h0M55.6 12.8h0M35.2 32.4h0M36.5 1.7h0M22 46.5h0M16.6 36.3h0M4.4 44.8h0M9.4 36.6h0M41.8 6.9h0M41.9 37.6h0M66 1.1h0M60.2 26.7h0M18.9 9.2h0M19.6 20h0M10.2 10.6h0M26.7 15h0" stroke="#ebeaf3" stroke-width="1.3" stroke-linecap="round" fill="none"/>
<path d="M19 31.3l0 .9M.4 28.7l-.9 .3M57.7 29.5l.2 .6M40.4 37.1l.5 -.6M53.4 34.9l.3 .6M54.4 17.1l-.7 .7M19.7 21.4l.2 .6M65 15.3l-.4 .5M1.1 6.8l-.4 .2M31.1 5.1l0 .1M24.9 13.8l-.8 -.5M14.4 24.1l.2 -.7M2.7 32.9l.5 -.6M57.1 27.7l.1 .8M23.8 25.5l.4 -.5M21 24.1l.7 -.5M28.2 36.9l-.7 -.1M28.9 1.4l-.8 -.9M33.2 8l0 .4M58.5 4.9l.3 .1M59.8 14.7l.4 .3M41.5 26l.5 -.6M25.4 42.9l-.6 -.5M34.8 21.2l.6 .8M13.5 1.2l-.2 .6M37 40.2l.1 -.2M56.2 41.8l-.6 -.4M21.6 45.9l.4 -.3M52.9 20.7l-.2 -0M25.8 20.7l.6 .3M37.4 45.5l.7 -.4M55.5 42.8l.9 .2M3.2 19l.6 .1M29.8 33.4l.5 .4M14.6 6.5l-.7 .2M52.4 36l.1 0M36.5 40.2l-.4 -.2M46.7 9.1l.5 -.3M35.9 17.5l-.4 .3M52 8.2l-.7 .1M54.8 10.9l-.8 -.5M1.7 6.9l-.1 -.7M13.2 4.4l.5 .6M24.2 16.1l-0 -.6M10 44.5l-.8 .4M5.1 18.6l-.9 .7M37.9 39.9l.3 .7M50.2 23.3l-.6 .3M27.5 39.1l.7 .4M23.7 45.3l-.4 -.9M63.8 6.9l-0 -.1M65.5 39.8l.9 .2M52.8 4.4l-.3 .7M28.5 22.8l0 .6M42.6 1.6l-.2 -.7M28.7 39.6l-.1 -.9M38.2 14.5l-.4 -.4M.1 17.9l-.4 -.7M49.3 2.2l.6 .9M15.6 17.1l.5 .5M55.5 28.7l.8 .3M53.7 44l-.2 -.8M37.9 26.9l.4 -.7M36.1 38.9l-.7 -.6M22.4 41.5l0 -.4M51.4 4.1l.5 .3M11.8 43.6l-.1 .7M45.3 6.2l.7 -.8M11 27l.5 -.1M38.9 32l-0 -.7M44.3 35.4l-.5 -.3M44.2 5.9l-.9 -.2M11.1 15.8l.4 .3M22.2 31.2l-.9 -.1M25.4 5.7l.3 .5M5.5 .4l-.9 .1M10.8 31.6l.2 .8M44.3 7.5l.9 .7M56.7 38.8l-0 -.5M58 33.1l-.4 .5M5.3 30.5l-.4 -.8M47.1 38.3l-.7 .5M37.3 43l-.2 -.8M65.9 38.6l.5 -.2M11.8 7.7l-.2 -0M19.9 .1l-.3 .3M37.9 38.5l.8 .7M5.9 .7l-.1 0M49.1 29.3l-.6 -.3M21.7 12.7l-.5 .7" stroke="#6262d0" stroke-width="1.0" stroke-linecap="round" fill="none"/>
<path d="M65.8 13.2l-.1 .5M57.3 16.7l.1 .2M13.4 21.7l-.8 .3M21.2 18.5l-.8 -.4M21.3 4.3l-.5 .8M26.1 17.5l.3 -.1M29.6 5.7l-.1 .5M53.1 20.1l-.7 0M3.6 2.9l-.5 .4M17.8 33.7l-.3 -.5M12 14.3l.1 .7M4 15.5l.6 -.3M57.6 6l.5 .7M26.1 38.2l.5 -.5M64.1 18.3l-.1 -.2M61.6 20.8l-.4 .2M40.2 1l-.6 -.8M61.5 7.1l-.6 -.3M58.4 42.7l.4 -.6M45.5 20.4l.3 -.8M13.5 25.4l-.1 -0M17.8 15.4l.4 .1M31.7 41.5l-.1 .2M65.1 39.2l.8 .7M28.9 3.6l-.2 .1M59.4 2.5l.2 -.3M51.5 30.4l.4 .4M35.4 46.8l-.4 .6M5.9 47.1l.6 -.5M37.5 21.8l.4 -.7M62 38.1l.8 -.1M54 32.3l.3 -.6M5 30.9l.4 .5M43 1.4l-.2 -.5M27 3.8l-.6 .5M44 37.3l-.8 -.6M54.4 22.1l.7 -.5M45 16.5l.3 .8M17.6 20.8l-.4 .6M19.8 29.4l-.8 -.5M54.6 43.8l.4 -.4M25.3 2.5l.5 .3M27.5 42.9l.6 -.4M26.2 4l-.5 -.1" stroke="#4646c0" stroke-width="1.5" stroke-linecap="round" fill="none"/>
<path d="M38.4 32.8h0M42.6 10.3h0M9.4 35.5h0" stroke="#4646c0" stroke-width="2.2" stroke-linecap="round" fill="none"/>
</g>
<rect x="57.8" y="44" width="3" height=".7" fill="#e04060"/>
</svg>
<svg x="43" y="535.9" width="65.7" height="48.1" viewBox="0 0 65.7 48.1">
<rect width="65.7" height="48.1" fill="#4a42c6"/>
<g filter="url(#b5)">
<path d="M7 38.3h0M43.7 7.8h0M33.5 40.2h0M32.7 43.9h0M44.5 7.6h0M3.6 31.3h0M12.4 30.2h0M62 32.1h0M29.9 44.3h0M7 32.5h0M31.9 31.8h0M30.8 43.4h0M63.1 14.2h0M3.7 8.1h0M57.6 7h0M30 1.4h0M48.6 9.2h0M39 9.1h0M60.2 34.2h0M8.7 32.8h0M42.8 31.6h0M51.9 6.4h0M.6 41.1h0M63 34h0M31.2 25.7h0M8.1 20.9h0M23.4 40.5h0M10 46.7h0M35.7 26h0M64.6 37.7h0M50 20.8h0M31 41.8h0M24.1 21.2h0M7.4 25.6h0M21.6 5h0M8.5 20.7h0M10.7 26.5h0M23.5 38h0M30.1 41.8h0M39.8 22.6h0M32.6 41.7h0M60.6 17.5h0M46.8 34.4h0M61 6.5h0M47.2 47.4h0M38.4 16.7h0M48.6 45h0M22.3 24.1h0M17.5 21.9h0M42.2 16.8h0M1 43.2h0M4.2 44.2h0M26.1 10.9h0M17.4 3.6h0M52.5 45h0M55.3 29.9h0M60.1 1.7h0M64.7 44.2h0M63.2 10.3h0M38 6.3h0M14.2 34.3h0M16.7 31h0M35.6 23.5h0M37.3 33.1h0M1.1 26.1h0M58.6 31.6h0M47.7 23.8h0M33.4 26.7h0M28.4 44h0M60.6 46.4h0M35.9 21.3h0M22.4 17.6h0M21 40.2h0M0 36.3h0M.3 23h0M8.7 1.8h0M13.2 19.6h0M58 32.8h0M43.4 28.3h0M45.2 19.7h0M47.5 8.1h0M47 21.4h0M50.3 4.9h0M.7 8.1h0M40.1 30.7h0M55.8 5.9h0M44.7 5.5h0M21.2 36.8h0M3.3 43.9h0M5.1 10.8h0M36.2 45.9h0M28.7 42.8h0M54.2 7.4h0M6.9 24.2h0M53.7 18.8h0M48.9 15.2h0M6.5 1h0M8.2 29.7h0M21.3 37.8h0M38.1 10.8h0M6.9 6.1h0M5.6 35.3h0M43.3 44.7h0M25.4 19.7h0M48.4 15.6h0M16.3 45.1h0M38.5 .2h0M42.3 44.3h0M14.2 22.4h0M24.5 36.7h0M11.8 34.6h0M44.5 17.8h0M39.7 42.2h0M4.5 15.7h0M22.6 19.6h0M46.7 12.9h0M50.2 16.4h0M11.6 1.7h0M59.3 33.6h0M14 24.2h0M59.4 19.2h0M30.7 25.7h0M32.6 10.9h0M17.7 22.4h0M35.2 24.4h0M62.4 32.2h0M38.8 33.8h0M12.7 14.4h0M51.5 27.3h0M63.7 2.7h0M58.8 14.8h0M52.6 12.4h0M13.7 11h0M16.8 36.5h0M58.5 2.9h0M53.1 15.6h0M29.5 5h0M7.7 14.2h0M30.8 25.9h0M59.6 15h0M35.3 7.5h0M27.5 15h0M2.9 25.8h0M49.3 21.1h0M40.2 13.1h0M26.5 45.4h0M61.5 11.7h0M2.4 11.3h0M21.7 22.4h0M26.1 46.6h0M8.4 6.5h0M50.2 11.7h0M24.1 13.4h0M30.5 3.3h0M62.6 13.6h0M57 47.7h0M49 12.2h0M39.8 37.9h0M32.6 25.3h0M47.5 10.8h0M63.5 3.4h0M57.5 33h0M16.9 30.6h0M61.6 43.2h0M32.7 44.2h0M31.3 18.6h0M38.3 9.6h0M11.2 34.8h0M44.5 18h0M57.9 29.7h0" stroke="#c6c4e0" stroke-width="1.1" stroke-linecap="round" fill="none"/>
<path d="M63.4 8.6h0M23.1 35h0M62.7 9.1h0M63.4 13.5h0M17.2 9.4h0M17.5 46h0M54.2 20.5h0M25.9 38h0M60.3 20.3h0M64.6 34.5h0M60.4 43.9h0M34.5 47h0M56.9 .6h0M20.8 1.6h0M40.7 35h0M59.5 31.9h0M2.1 12.2h0M57.3 15.5h0M38.2 15.1h0M4.9 45.1h0M21.7 30.9h0M58.6 12.4h0M23.2 20.8h0M44.3 38.1h0M52.8 6.5h0M41.3 33.2h0M35 17.8h0M34.4 47.9h0M42.3 20.2h0M25.1 44.3h0M65.1 9.8h0M9.6 30.6h0M28.4 9.3h0M14.3 46.9h0M49.3 33.4h0M39.7 31.5h0M14.5 41.6h0M61.6 24.3h0M47.1 23.2h0M44 38.2h0M5.2 26.7h0M26.8 47.6h0M12.8 46.7h0M21.1 10h0M40.5 33.7h0M15.3 8.7h0M18.1 46.4h0M37.1 9.5h0M65 32.5h0M10.3 6.6h0M46.5 4.9h0M40.1 47.6h0M52.1 7.5h0M20.3 3.7h0M1.6 2.8h0M25.7 3.3h0M32 31.4h0M37.1 6.3h0M21.9 14.4h0M29.9 19.2h0M4.8 5.1h0M63.4 42.7h0M43.7 38.8h0M11 17.3h0M2.2 41.2h0M60.1 43.2h0M13.9 11.9h0M20.1 39.9h0M30.6 12h0M6.7 26.8h0M61.8 47.6h0M60.6 14.3h0M54 30.2h0M30.4 38.3h0M59.5 29.1h0M55.2 31.2h0M44.4 46.2h0M24.7 14.3h0M60.7 14.1h0M27.2 8.6h0M27 2.6h0M41.2 44.7h0M27.1 45.4h0M20.3 10h0M59.1 35.2h0M2.5 2.4h0M45.2 4.7h0M43.4 5h0M58.6 44.5h0M63 29h0" stroke="#ebeaf3" stroke-width="1.3" stroke-linecap="round" fill="none"/>
<path d="M31 29.2l-1 -.1M41.2 22.1l-.2 -.3M7.1 30.2l2.3 -.1M34.7 7.5l1.3 .8M52.4 34.7l.7 -2M39.6 46.2l.9 1.1M15 16.9l2.3 -.5M22.8 2.9l-1.6 1M4.1 15l-.1 1.2M41.8 26.9l-1.4 -.2M59.6 39.5l-.1 .8M59.2 6.2l1.9 -.6M32.3 7.6l-.3 2.2M11.2 19.5l.1 .5M39.9 42.2l1.7 0M22.5 8.4l.1 -1.7M38.1 15l-1.5 -.4M36.1 5.8l.3 -1.3M57.6 44.2l.7 -2.2M61 .7l2.2 .8M60 35.2l-1.6 1.3M43.2 18l-1.8 -.4M49.2 1.4l-.8 2.1M42.7 15.6l2.1 1.9M2.4 10.1l.1 .2M3.2 30.3l.9 -.8M51.8 13.4l-1.5 -.9M19.5 21.2l2.1 -1.3M15.1 31.9l-2.4 1.6M.8 24.6l.5 -1.8M56.6 38l-2 -1.1M61 19.6l-2.2 -1.2M7.2 15.7l.7 .7M3.9 16.9l.7 .7M33.4 16.7l.5 -2M59.3 46.5l2.2 1.1M30.4 24.4l-1.5 -.5M44.5 41.3l2.3 -1M40.1 29.8l1.5 -.9M9.1 13.9l-.3 1.9M20.9 6.1l2.1 -2M30.3 41.1l.4 .9M6.7 33.1l-1.8 -.7M11 18.6l-1.4 1.5M44.9 13.6l-1.3 -1M27 41.3l-1.4 .4M26.5 40.8l.1 1.7M24.8 26.2l1.8 2.1M19.7 47.7l-1.5 0M52.8 44.7l.6 -.6M51.2 43.9l.9 -1.2M11.4 38.9l.9 1.9M34.7 1.9l-.4 .6M53.8 46.2l.5 1.8M41.1 8.8l-.3 -.9M12.2 15.6l-1.9 -2.1M11.1 46.3l-1.7 1M42.6 12.1l-.4 -1.7M28.9 45.2l-2.1 -2.3M44.2 21.9l2.3 .4M52.9 22.2l-1.5 -1.2M33.3 17.2l-1.7 .3M61.8 32.8l.8 2.3M17.7 33l2.2 .5M11.2 33.6l-.1 -.4M21.7 1.5l-2.2 1.2M12.6 24.4l-2.2 .1M7.6 15l-1.7 -.6M9.3 32.3l-1.2 .9M14.9 2.2l-1.4 .8M49.9 13.8l1.3 1.2M22.6 6.7l-1.7 -1.9M50.8 38.7l-.7 -1.3M55.8 15.8l-2.1 .8M58.6 21l-2.1 -.4M.1 40.5l.5 -1.5M64.9 45.1l.8 1.9M44.4 15.1l-1.4 -1.1M16.5 38.5l-1.8 .8M3.6 26.7l-2.2 -.1M60.8 3.4l-.2 -1.7M24.3 23.4l2 1.9M65.4 37.9l-2.2 -.2M55.1 22.8l.9 -1.7M38 1.6l.3 -.8M26.6 29.4l1.5 2.1M4.6 10.8l-.7 0M27.4 21.5l-.9 -1.5M21 8.4l-1.4 .9M6.5 37.1l.3 -1.2M60.4 46.6l2 -1.9M63.4 36.9l1.8 1.6M42 20l.3 -.6M30 33.1l-.6 1.1M10.9 24.9l-.6 2.1M38.7 45.9l0 1.4M34.8 37.7l.9 .8M60.9 8.5l1.8 -.2M38.2 19.9l2 1.7M24.5 18.6l.9 2.3M39.5 2.6l.4 0M51.5 37.9l-1.6 -.2M46.2 20.9l-1.4 .5M21.1 6l-1.6 1.6M58.9 30.5l-.1 .3M63.1 23.7l1.9 -2.3M49.2 18.5l-1.3 -.4M22 28.5l.5 1.7M22.3 24.8l-2.3 -.2M10.7 38.4l-2.2 -2.1M34.4 3.1l-.7 -1.5M52.3 4.7l1.8 .8M54.4 7.1l-.9 .7M15.9 33.4l1.6 -0M61.7 7.3l-1.5 .8M39.9 18.2l.8 -1.7M61.8 16.6l1.3 -.8M51.9 18.2l.8 1.9M50.7 24.8l2.1 -1.9M31.1 9.1l-.3 -.2M36.4 39.4l1 -1.5M51.5 20.8l1.2 1.2M27.2 47.8l1.1 1.7M41.4 10.1l-.5 2.1M4 1.5l-.3 -.7M58.7 9.3l-.3 2.2M53.2 8.5l2 -1.1M28.3 2l-1.6 -.1M3.6 41.3l.9 1.9M52.2 36.5l.7 1.9M12.5 28.3l1.1 1.4M42.1 44.1l2.1 1.7M22.8 46.1l-2.4 -1.2M39.8 41.2l-1.2 2.3M48.6 17.5l1.1 -.3M49.3 46l2 2.2M50.4 19.8l1.4 .8M23.5 38.7l-1 -1.9M28 29.2l-2.2 1.4M42.9 14.5l0 -.3M45.8 25.9l.6 1.4M34 35.6l-.2 2.1M9.3 29.9l.4 -1M42.6 6.1l1 -.7M17.1 15.1l-1.9 1.7M12.9 25.2l-1 -1.2M43.8 24l-.2 -.2M65.7 46.9l0 .2M64.9 42.2l-.8 -.9M4.2 45.9l-.4 -1.1M45.1 10.9l-2 -1.9M47.9 28.7l-1.4 -1.8M32.3 37.8l-1.2 -0M54.1 33.2l1.7 1M44.9 40.9l.9 2.2M41.7 33.4l.7 -2.3M46.1 4.6l1.2 -2M3 15.9l-1.3 1.4M14 16l1.1 1.9M34 10.3l.7 -1.1M17.8 9.2l-.7 -.7M49.8 7.6l2.3 .2M59.9 21.7l.3 .1M11.1 13.4l.5 1.2M18.3 8.2l1.2 1.5M15.5 45.6l2.3 1.3M6.4 14.5l.6 -2.2M41.3 37.2l-1.7 -.5M59.7 5.1l1.9 -2M36.1 47.7l2 -1.2M51.8 45.5l.2 2.4M23.4 36.2l-2 2M21.9 18.3l2 2.2M24.2 21.7l1.9 0M7.3 6.5l-.4 1.5M12.7 9l2 -.5M43.6 26.8l-.5 -2.1M65.2 10.2l.6 -1.6M41 24.3l1.2 -1.8M40.8 30.2l-2 1M21.2 25.7l-1.9 -.3M50.8 2.5l1.4 2M4.1 30.5l-.7 .7M10 9.1l.6 .4M2.3 30.5l2.4 -.2M48.1 38.8l1.9 1.8M44.6 43.9l-.8 1M50.2 35.9l-.3 1.8M59.1 16.7l1.4 -1.4M61.5 24.8l1.5 .1M61 30.6l-.8 -2.2M65.7 4.2l-1 -1M65.4 36l-1.4 -.7M63.8 45.5l.4 -.4M30.4 11.2l-1.2 -.4M56.3 43l1.6 .3M46.9 35.6l-1.4 -1M12.5 2.8l.1 .5M56.6 .1l1.8 .7M3.1 14.3l-1.6 -2M50.7 27.6l-1.8 2.2M14 4.6l-1 2.4M23.4 36.2l-1.4 1.7M47.4 1.4l.7 -2M30.4 3.1l2 1M31.7 16.1l2.4 -2M47.6 7.3l2.2 1.4M1.2 15.3l1.3 2.2M42 43.9l-1.6 -2.1M52.5 14.4l-2.3 1.5M33.4 41.8l-2.3 -1.9M7.3 1l-2.4 -1.9M7.3 33.4l1.8 -2.1M28.8 15.5l-.8 -1.7M62.5 34.7l1.9 -2.3M55.4 22.3l-1.6 1.9M29.1 26.5l-1.5 .7M1 40l-2 -1.8M19.7 25.6l-.4 .7M38.3 16.5l-.8 -1.2M52.7 32.1l-.5 1M59.7 26.3l2.2 -.1M38.6 21.8l2 .1M34.6 46.3l-.4 1.7M47.2 43.8l-1.9 1.1M13.6 5.3l.4 .1M3.2 8.3l-2.3 1.7M17.3 30.2l2.3 1.6M11.7 35.5l2.2 -2.1M4.9 17l1.6 1.9M18.9 26.5l1.8 1M30.4 31.7l-1 -.4M19.6 1.8l.5 -1.2M56 46.1l1.2 1.7M9.5 37.2l-2.1 2.3M60.9 28.5l.1 .6M18.7 36.5l-.6 -2.1M26.5 40.8l-1.7 .6M44 11.8l-1.5 -1.2M34 47.9l-1.7 1.7M37.7 47.7l1.5 -1.9M60.9 30.6l.6 .9M57.8 6.5l-2.4 -2.3M47.7 15.6l-1.9 1.4M52.5 33.5l-0 -2.2M13.7 5.6l-1.1 -1.1M50.2 33.9l1.4 1.5M53.7 18l2.4 2M25.1 13.1l.8 .9M33.2 9.8l1.9 -.1M45.9 13.3l.8 2M33.3 25.3l-.5 1.1M10.6 33.8l1.4 -2.1M64.4 4.8l-1.2 .2M62.6 15.6l-1.9 -1.3M17 38.3l2.2 .8M27.9 16.9l-1.1 -2.1M9.3 2.7l.6 -.9M53.3 .1l.7 -2.2M16.4 1.3l-2.1 -1.2" stroke="#2e26b0" stroke-width="1.8" stroke-linecap="round" fill="none" opacity="0.9"/>
<path d="M49.7 42.3l-.8 -.4M15.1 39.5l.6 .9M41.5 9.8l1.5 -1.8M56.3 36.9l2 .7M65.1 24.9l.7 .5M20.5 .4l1 .2M3.4 40.6l1.5 -1.9M19.2 4.2l-1.7 -.5M14.1 45.2l-.4 -1.6M46.9 4.9l.9 -1.4M39.7 1l-.7 1.3M41.7 23.7l1.3 -1.4M19.5 18.7l-1.9 -.3M65.4 45.6l1.8 .9M37.4 17.7l-1.6 -.8M1 13.2l1.6 -1.6M31.3 20.5l-.5 1.3M30.6 16.4l.5 1.8M6.6 31.6l.5 .1M51.5 46l1.8 -.8M51 37.8l-.7 -1.3M4.9 14l1 .2M24 18.9l.8 -.4M18.9 13.9l1.9 .7M42.8 19.3l.2 -1.2M29.4 29l-.3 -1.5M38 7.2l.4 1.2M51.2 5.6l2 .7M45 6.7l-.6 .7M33.7 43.7l1.1 -1.8M8.4 5.2l-1.1 1.3M29.8 3.3l-.9 .7M7.5 30.9l-1.1 -1.3M36.9 20.1l.4 1.5M52.7 3.8l.8 2M55.6 29.6l.1 -.7M4.3 38.9l1.8 -.8M46.1 46.3l.3 -1.2M6.7 23.6l-1.6 1.8M34.8 26.7l-1.4 -1.6M50.4 36.5l-.9 -.1M38.7 32.8l-1.4 1.2M27.1 32.2l1.2 -1M35.1 26.6l1.7 1.3M46.5 32.8l1.5 -.2M12.9 36.7l1.8 .9M4.2 7.6l1.1 1.7M45.7 2.9l1.8 1.7M30.9 36.9l1.7 -.4M.5 2.1l-1 1.4M47.3 39.9l.3 1M42.2 5.7l-1.9 1.4M34.8 47.1l-1.2 -1.9M59.5 35.6l1.6 1.9M44.8 6.1l-.3 1.5M14.2 13.2l.9 1.2M2.8 27.1l1.9 -1.1M32.6 45.2l-2 1.1M33.7 37.1l-1.7 1.6M29.5 23.7l-.8 1.9M54.3 20.5l-1.4 1.3M55.4 47l1.9 .5M7.4 46.4l-1.4 -.6M20.3 26.7l1.6 .3M21.9 28.1l-1.6 -1.9M42 25l-1.8 1.9M16 21.7l-1.6 -.4M27.8 15l1 -0M30.5 45.3l-.1 1.4M34.5 38.7l1.5 -1.6M2.3 36.8l.9 -2M41 15.5l-.4 1.7M58.2 17l2 .1M46.4 43.7l-.3 1.6M51.7 17.9l-.2 1.7M3.5 44.3l1.2 1.2M54.9 30.7l-.1 -.4M35.1 32.3l.5 1.7M29.4 8.1l.4 -1.6M34.1 3.4l-1.3 1.7M25.4 30.3l.4 -1.8M11.7 19.5l-.6 -.9M44.8 9.5l-1.7 1.6M40.5 13.6l-1.1 1.2M21.5 30.1l1.2 1.5M35.8 6.7l-1.1 .9M12.4 40.4l.2 1M52.6 6.9l.9 -.5M39.7 20.8l-1.5 -1M44.8 24.2l-1.1 .2M45.2 38.9l-1.3 1.9M61.1 29.4l-1.9 -.2M46.1 9.2l-1.4 -.6M55.4 35.4l-1.2 -1.3M53.3 1l-1.5 .6M57 10.5l.6 -1.8M2.7 39.1l.6 -0M49.8 40.3l-1.1 -1.2M2.1 30.3l.5 1.6M8.9 21.1l-.7 .3M31.9 48.1l.5 -1.6M42.1 31.7l.4 .9M1 13.6l1.4 -1.3M44.9 13.6l-1.6 -1.2M14.9 31.8l1.5 1.4M12.4 45.2l-1.5 -.9M30.8 22.5l1.5 1M36.7 4.8l.2 -.7M35 33.4l-.7 .5M62.4 47.9l.9 -.6M39.4 .7l-.8 .8M15.3 5l-.6 1.6M30.4 23.2l.8 -.1M5.4 26.9l.3 1.8M29.8 17.5l-.6 1.1M48.3 46.3l-1.5 -1.9M39.9 27.8l.2 .8M13 12.1l.2 -.9M38.9 19.2l.2 .1M12.2 4l-0 .6M24.6 2.6l-1.6 1.3M21.3 20.4l1.3 -.7M5.2 45.8l1.8 -1.2M17.8 4.5l1.8 -.6M18.8 23.8l-.7 .4M59.9 23.2l-.3 1.9M51.6 23.5l1.6 .5M25.4 30l-.3 .4M45.4 29.6l.3 2M61.4 28.1l-.6 1.6" stroke="#6c66d6" stroke-width="1.5" stroke-linecap="round" fill="none" opacity="0.9"/>
<path d="M63.3 9.9l-1.9 .7M60.8 8.5l.7 .2M63.5 8.6l-1.3 -.5M62.7 8.9l1.7 .5M62.7 8l1.4 -.5M63.9 9.5l1.8 .8M56.1 18.3l1.1 -1M50 21.9l-.2 -.4M51.6 17.5l.3 -.2M52.8 22.8l1.5 .6M50.4 23l-1.2 -.6M56.5 17.2l-.7 1M33.3 35.5l1.7 1M31 36.9l-.6 .6M35.2 35.7l1.2 .8M34.3 37.8l1.8 -.5M31.1 35.3l-.8 .6M31.7 35.1l-1.9 -.7M61.1 3.7l-1.5 -.6M62.1 4.6l-1.3 -1.2M61.9 3l.9 -.4M57.8 5.9l2 .5M60.2 4.6l-.8 -.6M57.5 3.2l.9 1M50 33.1l-.1 .4M50.6 32.8l-.2 .3M50.4 34.4l.8 .5M49.8 33.5l1.3 .7M51.1 34.9l-1.7 -1.1M51.8 32.6l2 .8M52.7 12.6l1.7 1M49.8 11.9l.5 1.2M47 15.4l1.8 .1M52.6 14.1l1.2 .9M42.7 17.5l1.1 -1M49.4 14.1l-1.9 .5M51.5 33.2l-1.8 .3M54.8 36.1l.3 -.3M53.6 33.4l1.6 .2M54 29l.3 -.7M54.1 35.3l-.9 .9M53.3 32.7l.5 1.1M55.5 21l-.9 .2M57.5 21.4l1.4 -.3M57.1 21.7l-.6 1.1M57.9 22.9l-.3 -1.1M57.8 23l1.2 .8M55.1 21.7l-1.5 -.2M20.8 14.9l-2 -.3M18.2 16.4l-1.3 -.9M17.1 15.9l1.7 1M20.4 15.6l-.4 -1M19.6 14l.2 -.1M19.1 18.4l-1.1 -.7M43.2 27.3l-1 -.4M41.2 29.3l-1.7 .4M40.1 28.8l1 -.1M42.5 29l1.5 .8M42.3 29.4l-1.1 -.6M44.1 29.8l1.4 1.2M.1 10.4l1.8 .1M1.5 6.9l.4 .8M-2.6 1.3l-.7 -.5M-8.1 6.8l-.6 -0M.7 6.8l-.1 .5M-3.4 2l1 1.1M29.9 32.4l.1 .2M25.2 36.4l.8 -.5M27 32.2l-.6 -.8M30.8 35.8l-.1 .4M29.2 32.7l-.5 -.1M26.8 31.7l-.9 .8M1.5 19.1l-1.6 -.2M4.2 16l-.5 .4M5.6 14.5l-1 0M1.5 15.9l-.2 1.2M5.7 18.1l.4 -.8M-3.7 16.8l1.6 1.1M41.6 29.5l-.3 .8M44.3 30.6l1 .8M44.4 30.7l-1.1 .9M44.1 30.7l-1.9 -.2M41.8 31l-1.1 .2M41.7 31.6l1.8 -.2M45.1 27.5l0 .5M39.5 29.3l.7 .9M43.6 25.4l1.6 -.4M43.9 27.1l1.5 .9M38.9 27.6l.3 -.3M45.2 24.8l2 .7M6.6 47.3l-.2 .6M7.7 49.1l-1 -.7M7.2 46.5l-1.5 -1.1M10.9 47.9l-.9 -.5M12.6 46.3l1.8 .9M8.9 48l-.9 .6M7.4 48.1l-1 -.9M7.1 46.1l.6 .7M2.5 45.4l-1.4 -.7M3.7 45l2 1M1.7 47l-0 -1.1M.8 47.9l-1.8 .6M22.8 -.1l.6 1M22.2 1.2l1.5 .3M23.4 .1l.4 -1.1M24.2 1.3l1.2 .8M23.8 1.9l.3 1M23.4 1.3l.7 -1M13.9 20.8l-1.9 -.5M15.5 19l.7 1M18.1 20.4l-1.4 -0M18.3 21.7l-1.8 -1.1M14.9 23l.9 -.8M15 18.6l-1.1 0M8.6 6.7l.4 .3M6.8 12.8l-.1 -.1M9.8 12.8l1.9 -.4M15.3 15.6l-1.7 .1M8.6 9.2l.4 .1M12 13.7l1.6 -.4M2.6 41.1l1.7 -.1M3.3 40.1l-1.6 -1.1M2 39.5l1.2 .1M1.8 40.7l1.4 .3M3.4 39.7l-1.1 .8M3.4 40.2l.9 -.5M41 36.8l-.1 .1M39.7 34.7l-1.4 -1.2M41.7 35.9l-1.5 -.8M42.8 37.8l-.7 -.9M41.7 36.8l-1.5 .7M41.6 35.4l-.6 -.8M1.3 9.7l-1.9 .7M2.2 9.6l1.2 .9M1.2 11.5l-.6 -.4M7.8 11l-1.2 -1.1M3.6 9.2l-.6 .8M2.8 9.1l1.5 .5M5.8 18.4l2 -.3M2.6 15.6l1.4 .3M3.7 17.7l-.6 -.4M.5 16.1l-2 -.7M1.5 18.9l1.1 .6M1.6 22l-1.1 .2M63 43.9l1.8 .3M63.6 42l-.1 -.7M65 42.2l.8 .3M61.6 43.5l0 .4M62.3 42.6l-1.7 .7M66.6 42.7l-1.2 -1M9.6 32.5l1.7 .6M2.2 33.5l-2 -0M10.8 32.7l.1 .3M6 30.6l-.3 0M3 29.1l.5 .3M4.9 31.4l.4 .1M18.6 18l1.3 -1M15.4 18.9l.5 -.3M15.2 19.2l-.3 -0M12 19.6l.4 1.1M13.3 18.9l.5 -.9M18.3 17.4l.2 -.4M31.3 43.7l-1.3 -1.1M30.2 42.1l1.5 .8M30.3 39.6l-1.1 1M28.6 44.3l-1.4 -.9M28.4 43.7l-.2 1.2M28.1 44.1l1.9 0M1 40.8l-1.6 .2M8.6 42.8l.7 .8M8.2 37.8l-1.5 1.1M5.9 44.2l1.5 -.8M5.4 43.7l-.1 .9M4.9 40.8l-1.8 -.5M19 38.2l-1.4 .5M19 36.8l.8 -1.2M21.5 38l-1 -.1M18.5 37.6l-1.1 -.2M22.2 37l1.6 -1M19.6 36l-.3 .1M10.4 20.1l-1.1 -.2M8 21.6l1.3 .7M6.3 20.7l.8 .2M7.8 19.4l-.9 1M10 20l-1.5 .2M7.9 20.3l1 .5M19.9 38.3l-.4 .1M28.2 36.1l-1.8 -.2M21 37.7l1.1 .4M27.6 37.8l-.8 .7M33 39.5l1.1 -.3M22.3 37.8l-.7 1.1M32.8 -.3l.6 1M27.9 1.3l-.1 -1.1M28.7 1.8l-1 -.6M26.9 -2.7l1.3 .1M29.7 2.1l1.5 -1M32.9 4.2l0 -.5M66.2 43l-.5 -.7M65.3 46.2l-.9 .1M59.4 41.6l-1.2 -.7M66.1 44.3l.3 -.8M62 41l1.9 .6M61.9 43.4l-1.6 .2M62.3 1.2l.2 -.1M63.1 -.3l-.7 -1.2M66 -2.3l.5 -.2M64.5 .7l-1.4 1.1M62.3 1.3l1.6 -.5M65 -.1l1.2 .8M66.1 16.2l-.6 .3M68.5 13.7l1.4 1.2M65.5 14.1l-1.3 .8M62.6 13.9l-.9 -1.1M65.7 16.7l-.8 .9M61 16.5l1.1 1M2.1 36.7l1.9 .9M2.7 39.6l-.9 .3M1.5 36.9l1.9 -.6M1.1 37.1l.8 .2M-.2 36.9l1.3 .1M-1.9 37.5l-.4 .1M25.5 34.8l1.2 -.8M25.7 35.5l1.5 .3M28.2 36.3l-.6 .3M25.7 35l1.8 -.7M25.3 37l-.7 .6M26.1 35.9l.9 -.9M63.3 27.1l-1 .8M65.6 27l-.9 -.2M66.6 27.2l-.8 .6M63.1 26.5l1 .4M65.3 29.5l1.6 .9M65.2 29.4l-1.6 -1M43.2 6.3l1.8 .8M43.6 5.5l-.1 -.8M41.7 6.4l2 -.9M44.7 5.8l.2 .7M39.6 5.1l-.8 .2M42.2 6.2l.9 -.9M3.1 14.1l1.2 -0M.7 15.3l0 0M3.3 12.7l-1.1 1.2M1.6 13.5l-1.7 -.8M2.8 14l-.6 .5M3.6 13.4l-.5 -1M22.2 28.5l.9 .1M21.6 29l-.9 .2M25.6 28.3l-.7 .7M22.9 29.4l-1.3 -.7M25 29.5l-2 -.1M22.3 26.4l1.8 .5M46.2 6.5l.8 -.9M44.8 8l-.3 1M47.9 9.6l.4 -.9M44.4 8l.9 .9M47.3 8.4l1.3 1.2M48.1 9.5l-1.8 -1.2M66.8 36.1l-.1 -.5M59.3 36.4l1.4 -.7M62.4 35.6l-1.5 -.3M67.5 38.5l1 .2M68.3 37.9l1 -.6M65.7 38.3l.4 -.5M25.1 31.4l-.1 .3M25.7 30.1l-.3 -1.2M27.7 31.4l2 -.3M27 31.3l-1.4 .6M26.2 31.8l-0 .2M23.7 31.5l-.6 .3M59 6.3l.1 -.2M58.3 3.2l-1.2 -.5M60.3 4.4l-1.9 -.2M58 8.6l1.6 .7M59.8 7.8l-.3 .2M58.5 4.7l-.9 0" stroke="#d6d3ec" stroke-width="2.4" stroke-linecap="round" fill="none" opacity="0.95"/>
<path d="M11.4 41.4l-.6 -.3M63.1 1.4l.8 -.4M58.4 2l.2 .6M47.6 3.8l.5 -.1M6.4 47.6l.7 -.4M4.4 1.8l.3 .1M48.1 4.2l-.4 .2M10.3 44.1l.1 -.2M14.5 35l-.2 .5M65.3 6.2l-.8 .3M8.2 37.3l.4 .6M47.5 16.6l.7 -.4M24.3 6.6l-0 -.2M30.1 29.9l-.4 0M37.7 3.6l-.6 -.2M40.2 35.2l.8 -.6M60.3 16.8l-.7 .3M55.6 44.3l.2 -.6M9.1 15.3l.3 -0M46.8 8.7l-.2 -.4M49.9 3.2l-.5 .4M11 4.4l-0 .5M7.2 39.8l-.1 .7M53.1 7.3l.7 -.2M60.7 14l-.3 -.6M59.3 12.8l-.5 .5M50.4 45.9l.6 -.4M47.4 16.9l-.4 -.1M36.4 9.8l.1 .6M21.7 17.9l-.1 .2M8.8 7.9l-.8 .2M49.5 29.3l-.2 -0M21.9 15.6l.5 -.1M6.4 4.8l.4 -.4M16.5 44.5l-.3 .4M14.6 9.1l-.5 .3M23.4 32.5l-.1 .2M13.6 19.7l-.5 -.2M65.1 24.5l-.3 .3M6.2 4.9l.6 -0M12.7 30.2l-.7 -.7M17.2 2.4l.1 .1M56.3 5.2l.4 -.1M60.2 8.8l.6 -.7M31.1 27.4l-.5 .7M51.7 28l.3 .5M26.9 5.3l-.3 -.8M64.8 16l.6 -.2M23 4.3l-.6 -.6M39.5 26.3l.8 .4M1.5 22.7l-.2 .6M57.1 39.3l-.8 .5M7.4 38.3l-.8 -.5M37.8 41.6l-.2 -.1M63 32.8l-.6 0M31.2 32.9l.7 -.4M15.6 40.2l-.7 -.6M55.4 33.9l.8 -.1M40.1 12.2l-.2 .4M33.9 21.9l.6 -.1M.6 35l.7 -.1M2.2 6.5l-.1 .2M19.3 7.4l.7 -.2M18.4 34.2l.7 -.2M14.8 27l-.3 -.1M56.7 20.4l-.4 -0M43.7 39l-.5 .5M41.8 22.8l.7 -.7M38.4 39.4l-.2 -.2M53.1 30.7l-.7 .4M54.9 34.6l.7 .1M53.1 27.4l-.5 .2M12.4 43.5l-.4 .5M47.1 42.5l-.4 -.2M48.4 11.5l.6 -.2M11.2 40.1l.8 -.7M4.9 46.5l-.5 -.2M18.6 46l-.1 .5M51.4 10.2l.5 .3M59.9 2.7l.6 -.6M12.9 29.8l.5 -.6M.3 4.5l.5 -.6M59.3 36.9l.5 -.1M53.9 4l.5 .6M63.2 46.2l.1 .6M25.3 17.5l-.5 -.7M63.2 11.3l.8 -.3M16.3 11.8l.1 -.1M39.6 40l.2 -.2M59.3 40.7l-0 -.4M51 4.8l-.3 -.7M54.2 25.4l.6 .7M20.9 33.9l.4 -.6M29.5 41.3l.3 .7M57.8 36.1l.1 -.3M16.5 2.7l-.5 .4M43 41.8l-.4 -.3M33.1 39.1l.2 .1M47.9 36.4l-.4 -.5M9.5 32.2l.7 -.6M47.4 32.2l.5 -.2M26.8 35.8l.4 .5M38.6 42.9l-.1 .5M34.9 20.2l-.5 -.3M16.9 23.5l-.6 -.3M20.1 26.6l.3 .4M46.2 26.4l.2 .7M63 21.7l.8 .7M4.6 44.4l-.2 -.4M4.8 2.9l.2 -.7M20.2 7.5l-.1 .3M59.9 30.6l-.6 -.5M49.5 18.6l-.2 -.2M37.8 18.6l.5 -.4M37.8 23.2l.4 -.5M27.2 9.5l.4 .5M58.5 34.6l.8 -.3M45.6 14.5l-.7 -.5M48.3 20l-.7 .3M4.3 16.8l-.4 0M19.3 20.5l-.6 -.7M39.8 43l-.4 .2M47.2 .4l.6 -.3M55 14.1l.5 -.4M41.9 11.7l-.4 -.3M44 31.1l.8 -.8M37.5 34.9l-.1 -.6M38.3 14.2l.2 .6M35 44.4l0 .7M23.2 14.7l.3 .3M35.7 5.6l.7 -0M35.7 8.7l-.6 0M16.7 15.3l.3 .6M15.3 34.9l-.6 -.7M12.9 35l-.1 .3M23.1 41.9l.1 -.4M12.9 28.5l-.1 -.2M16.5 15.2l.7 .5M10.5 12.8l.5 -.4M14.8 43.1l.7 -.1M28.3 21.9l-.2 -.3M62.6 1.6l-.8 .5M41.1 27.2l.3 -.6M.7 14.5l-.8 .5M42.8 23.2l-.2 -.6M57 6.1l.4 .3M27.3 30.9l-.2 -.7M29.2 30.3l-.4 .7M55.4 44.2l.7 .6M14.4 34.1l.3 .2M28.9 13.6l-.6 .4M41 18.9l.7 .1M49.5 18l-.1 -.1M60.7 46.9l-.3 0M19.4 19l.3 -.1M49.3 33.4l-.3 -.3M33.8 29l-.4 .7M31.6 42.3l.3 -.7M34.6 48.1l.4 -.8M62.9 30.5l.2 .5M39 30.1l.1 .4M55 1.1l.1 -.3M38.1 13.2l0 -.4M16.8 12.9l.3 -.1M24.4 41.5l.2 -.3M48.2 47l-.8 .3M61.8 13.3l.3 -.7M50.8 47.1l.6 -.3M34 31.9l-.6 .3M1.9 31.9l-.7 -.3" stroke="#4a42c6" stroke-width="1.0" stroke-linecap="round" fill="none"/>
</g>
<rect x="57.5" y="44.5" width="3" height=".7" fill="#e04060"/>
</svg>
<svg x="110.5" y="535.9" width="65.9" height="48.1" viewBox="0 0 65.9 48.1">
<rect width="65.9" height="48.1" fill="#dedcea"/>
<g filter="url(#b5)">
<path d="M32.4 24.3h0M21.1 9.2h0M32.8 9.6h0M6 21.1h0M29.7 21.4h0M20.3 6.9h0M6.1 28.4h0M22.7 45.2h0M65.5 2.3h0M55.5 23.3h0M59.5 9.8h0M49.3 18h0M32.2 12.4h0M42.1 .2h0M15.5 24.9h0M64.6 41.5h0M46.4 43.7h0M15.7 25.8h0M34.7 27.9h0M43.5 27.5h0M62.6 47.4h0M24.6 2.3h0M21.1 7.8h0M65.4 18.5h0M42.3 45.2h0M25.3 25.3h0M55.1 8.4h0M15.4 7.7h0M8.6 39.1h0M2.8 41.5h0M40.4 12.6h0M57.5 6.5h0M28.3 21.8h0M1.3 2.2h0M39.4 14.2h0M15.9 9.2h0M34.9 46.3h0M51.9 19h0M63.2 16.2h0M24.2 25.7h0M65.2 16.9h0M24 39.9h0M15.5 29.8h0M5.4 10.2h0M23.4 42.6h0M56.2 4h0M34.7 27.6h0M33.4 44.5h0M56.1 7.2h0M65.5 39.9h0M16.6 44.3h0M54.2 17.9h0M35.7 43.9h0M56.8 33.6h0M54.8 42.7h0M60 19.1h0M26.8 13.4h0M45.6 34.2h0M33.1 9h0M4.6 13.5h0M39.4 16.2h0M47.5 11.5h0M63.8 25.9h0M44.8 26.5h0M.4 41.7h0M43.7 2.4h0M.9 30.3h0M50.1 40.9h0M27 10.6h0M11.4 47h0M59.9 17.6h0M12.6 9.1h0M22.8 14.4h0M2.5 14.3h0M32.9 4.6h0M34.5 5.7h0M4.7 25.4h0M61.7 24.4h0M45.6 17h0M59.8 6.4h0M37.6 24.1h0M.3 37.3h0M47.4 5h0M57.6 35h0M41.2 15.5h0M12.7 30.7h0M15.6 12.3h0M36.3 34.1h0M28.5 25h0M42.8 41.1h0M53.6 40.1h0M41 18.5h0M34.9 32.8h0M13.7 22.6h0M44 16.4h0M7.1 .3h0M14.7 34h0M29.3 44.9h0M47.1 14.9h0M40.7 23.5h0M14 43.4h0M21 35.7h0M58.3 7.8h0M54.9 46.8h0M7.5 6.3h0M51 42h0M62.8 9.9h0M14.2 12.5h0M26.7 42.2h0M4.1 30.9h0M35.3 12.3h0M39.1 42.4h0M12.2 9.7h0M50.2 15.4h0M27.4 10.4h0M.3 32.6h0M64.9 31.8h0M65.6 12.7h0M40.7 15.7h0M.8 21.4h0M27.5 40.1h0M3.8 14.6h0M2.1 20.4h0M52.1 15.2h0M14.1 13.5h0M50.7 34.6h0M2.6 40.3h0M43.7 26.3h0M49.5 36.7h0M19.3 20.2h0M42.4 14.5h0M9.2 12h0M28.1 27.7h0M58.5 28.2h0M60 40.5h0M4.4 18h0M59 10.8h0M17.2 36.8h0M36.4 24.2h0M65.2 43.1h0M20.2 29.8h0M45.5 12.8h0M29.1 5.3h0M4.5 3.3h0M23.8 25.6h0M1.3 45.6h0M41.2 41.9h0M49 .6h0M33.1 19h0M24.5 1h0M41.2 34.4h0M39 7.8h0M24.8 23.3h0M48.8 42.9h0M22 17.4h0M43.2 23.8h0M48.3 43.9h0M29.6 15.3h0M9.4 20.1h0M63.4 15.8h0M13.1 32.1h0M20 9.1h0M13.4 14.4h0M15.3 18.5h0M46.7 15.5h0M46.6 5h0M6.8 22h0M47.4 9.9h0M65.5 13.2h0M17.4 30.7h0" stroke="#c6c4e0" stroke-width="1.1" stroke-linecap="round" fill="none"/>
<path d="M9.9 11.5h0M47 33h0M5 24.8h0M.2 34.7h0M47 47.4h0M63.1 7.1h0M35.8 15.3h0M64.1 36h0M12.4 15.2h0M54.3 41.7h0M26.4 1.2h0M46.5 33.9h0M49.8 9.2h0M7.8 25.9h0M15.7 11.6h0M53.2 26.3h0M3.1 9.5h0M65.4 6.2h0M23.6 9.9h0M10.6 29.1h0M1.1 38.5h0M10.3 14.3h0M58.9 15.1h0M6.8 19h0M1.7 27.6h0M37.8 37h0M59.4 8.3h0M49.8 17.6h0M32.1 5.6h0M59.4 42.1h0M25.7 15.6h0M30.4 1h0M8.1 40.4h0M40.7 33.2h0M16 31.4h0M30.8 24h0M48 17.9h0M31.9 37.4h0M40 47.9h0M58.1 26.4h0M19.3 15.1h0M13.1 24.1h0M61.6 24.6h0M52.7 21.3h0M53.7 9.3h0M34.7 24.5h0M14.9 25.4h0M12.2 14.1h0M25.2 21.3h0M6 9.9h0M39.7 16.1h0M12.3 39.5h0M29.6 13.7h0M45.5 42.3h0M6.9 11.4h0M57.7 30.7h0M11.3 39.5h0M52.6 29.6h0M3.4 33.8h0M15.9 18.7h0M62.3 18.7h0M42.5 18.6h0M51.9 39.7h0M28.8 44.7h0M35.1 1.2h0M26.3 16.9h0M21.9 11.6h0M44.4 21.3h0M65.7 4h0M52.5 11.4h0M8.7 0h0M15.8 14.1h0M12.9 17.8h0M12 24.1h0M32 8.6h0M28.7 20.1h0M.6 32.5h0M19.2 12h0M21.1 3.2h0M63.4 38.4h0M23.2 2.3h0M56.4 1.4h0M31.9 40.6h0M20.1 37.7h0M59.4 35.5h0M61.5 41.3h0M12.3 38.9h0M45.2 44.8h0M63.2 12.3h0M14.5 5.2h0" stroke="#ebeaf3" stroke-width="1.3" stroke-linecap="round" fill="none"/>
<path d="M7 33.3l-.3 -.4M46.4 3.2l-.5 .6M31.3 39.4l-.1 0M23.4 29.9l-.2 -0M4.5 42.4l.7 -.5M54.3 46.7l-.4 .7M45.6 3.3l.1 -.8M34.5 46.1l.9 .2M28.7 1.4l.3 .3M13.8 37l-.7 .4M2.6 5.4l.1 -.4M60.5 42.2l.6 .7M65.2 29.6l-.4 .5M44.8 14.3l-.9 .1M46 45l-.4 -0M57.5 1.2l-.1 .7M22.4 37.4l.2 .8M40.2 32.5l.8 .1M45.2 4.4l-.9 -.1M4.8 41.5l-.4 .4M35.6 45.3l.7 -.5M39.5 13.3l.7 -.1M20.4 44.5l-.6 -.3M28.6 17.5l.5 .3M51.4 26.4l-.6 -.4M5 34.2l.9 .6M33.9 41.8l.5 .8M25.7 40l.7 .2M28.2 47.4l.4 -.5M41.5 13.3l0 -.2M30.5 46.4l.2 .4M57.7 18l.5 .6M35.8 24.9l.6 -.8M10 40.5l.3 .2M10.2 32.8l-.9 .4M23.3 3.3l-.4 .6M13 12.5l-.9 -.7M64.5 21.4l-.6 .4M.2 40.9l-.8 -.4M64.1 7.6l-.4 -.7M29.2 45.9l.8 -.3M3.3 39.1l-.4 -0M.2 22.4l.3 .6M2.4 4.6l-.3 .6M4 33.3l.5 .6M33 .9l-.7 -.6M65.8 32.4l.6 .6M10.2 33.3l-.1 .7M21.2 37.5l.2 .1M29.3 14.8l.1 -.5" stroke="#6262d0" stroke-width="1.0" stroke-linecap="round" fill="none"/>
<path d="M4.8 21.8l-.4 -.3M50.5 37.6l.6 .6M56.8 33.9l-.4 -.4M31.4 14.1l-.8 .5M53.6 22.3l-.2 -.5M52.4 14.8l.2 .3M22.3 24.1l.3 -.5M10.2 35.3l-.6 -.3M3.9 11l-.5 -.5M29.2 4.4l.7 0M40.9 20.2l-.1 -.1M19.3 38.1l.7 -.7M40.8 4.6l-0 .6M46.1 41.2l-.5 -.1" stroke="#4646c0" stroke-width="1.5" stroke-linecap="round" fill="none"/>
<path d="M57 40.3l-.3 -1.2M57 40.3l.4 -2M57 40.3l-.9 -1.8M31.7 33.2l1.3 1.4M31.7 33.2l2.7 -.3M31.7 33.2l1.9 .3M31.7 33.2l1.2 -.8M21.1 17.3l-3.1 -1.4M21.1 17.3l4.9 -.1M21.1 17.3l4.2 -2.7M21.1 17.3l2.3 -1.6M21.1 17.3l2.2 -4.2M21.1 17.3l2.3 -2.4M65.5 9.3l-.9 -2M65.5 9.3l1.2 2.4M65.5 9.3l2.2 -1M65.5 9.3l.3 -1.8M65.5 9.3l-1.9 .3M20.4 2.9l.7 3.3M20.4 2.9l-3.2 3.1M20.4 2.9l-2.7 -1M20.4 2.9l1.9 2.6M20.4 2.9l-3.4 1.4M20.4 2.9l-1.5 3.5M15.6 46.9l-3 2M15.6 46.9l2.2 1.9M15.6 46.9l-2 -1.6M15.6 46.9l2.7 2.1M15.6 46.9l.9 1.9M48.7 11.8l-1.3 1.3M48.7 11.8l-2 -.2M48.7 11.8l1.5 1.9M48.7 11.8l-2.6 -1.4M.6 1.5l2 .3M.6 1.5l-1 1.5M.6 1.5l1.5 -.1M5.2 5.2l-1.7 -.6M5.2 5.2l1.6 .3M5.2 5.2l-.5 1.3M64.2 11.4l2.4 -1.6M64.2 11.4l2 1.7M64.2 11.4l-3.8 -0M64.2 11.4l3.5 -2.1M64.2 11.4l-2.8 .9M62.5 17.8l.5 1.7M62.5 17.8l-1.2 -2M62.5 17.8l2 -0M62.5 17.8l-.5 -2.1M13.2 7l2.6 -1.8M13.2 7l1.4 -2M13.2 7l-1.1 -2.9M13.2 7l1.7 1.4M13.2 7l-2 .1M35.6 46.3l2.8 -1.4M35.6 46.3l-.3 -3.5M35.6 46.3l-4.8 1.1M35.6 46.3l-2.8 -.8M35.6 46.3l-1.4 -2.6M35.6 46.3l2.5 2.5M39.1 39.3l-2.1 1.4M39.1 39.3l1.6 -.3M39.1 39.3l.6 1.5M39.1 39.3l-.4 2M40.8 16l-.4 .8M40.8 16l.4 .8M40.8 16l-1.1 .5M56.8 25.5l-.7 -2.4M56.8 25.5l1.4 1.1M56.8 25.5l2.9 -1.4M56.8 25.5l-.2 -2.1M20 25.1l.9 1.2M20 25.1l.3 1.6M20 25.1l-.9 -1.8M20 25.1l1.5 .3M38.6 20.6l1.7 2.9M38.6 20.6l-3.3 .8M38.6 20.6l1.7 -1.8M38.6 20.6l-2.9 -3.7M38.6 20.6l-4 1.5M38.6 20.6l1 3M63.4 44.6l-.7 -3.3M63.4 44.6l-2.3 -2.8M63.4 44.6l3.8 3.6M63.4 44.6l5.1 -.9M63.4 44.6l-3.8 -3.5M63.4 44.6l1.3 3.2M1.3 18.1l.6 -3.7M1.3 18.1l-2.7 -1.6M1.3 18.1l-3.4 -.7M1.3 18.1l2.9 -1.8M1.3 18.1l5 .2M1.3 18.1l1.2 -2.2M57.3 4.9l.8 1.3M57.3 4.9l.7 -1.8M57.3 4.9l1.1 1.2M57.3 4.9l-.3 1.4M59 19.7l.2 -2.6M59 19.7l3.9 1.8M59 19.7l-.5 -3.9M59 19.7l-4.7 .9M59 19.7l-1.9 -2.6M59 19.7l-2.9 -3.5" stroke="#5250c8" stroke-width="0.9" stroke-linecap="round" fill="none"/>
<path d="M57 40.3l-.4 .1M31.7 33.2l-.4 .1M21.1 17.3l.3 -1.2M65.5 9.3l-.6 .1M20.4 2.9l1.2 1.4M15.6 46.9l-.4 1.1M48.7 11.8l-.5 .6M.6 1.5l.1 .4M5.2 5.2l-.1 .6M64.2 11.4l.8 1.2M62.5 17.8l-.1 .9M13.2 7l-.4 .5M35.6 46.3l-1.3 .8M39.1 39.3l-.8 .3M40.8 16l.1 .4M56.8 25.5l-.2 -1M20 25.1l-.5 -.1M38.6 20.6l.4 -1.2M63.4 44.6l-.4 -.6M1.3 18.1l-.2 -.4M57.3 4.9l-.7 -.4M59 19.7l-.9 1.5" stroke="#4442bc" stroke-width="2.3" stroke-linecap="round" fill="none"/>
</g>
<rect x="57.7" y="44.5" width="3" height=".7" fill="#e04060"/>
</svg>
<svg x="178.4" y="535.9" width="66" height="48.1" viewBox="0 0 66 48.1">
<rect width="66" height="48.1" fill="#dfddeb"/>
<g filter="url(#b5)">
<path d="M5.5 34.1h0M16.9 43.9h0M57.9 22.5h0M38 41.9h0M57.3 3.9h0M63.3 29.3h0M16.7 18.7h0M1 24.9h0M19.8 5.3h0M15.7 1.2h0M48.3 24.9h0M48.7 16.7h0M55.2 38.2h0M29.8 31.8h0M14.6 6.5h0M30.3 10.6h0M44.2 15.8h0M17 25.6h0M8.2 7.1h0M13.6 6.6h0M21.8 14h0M23.6 16.1h0M37.8 11.1h0M3 28.9h0M12.9 23.2h0M35 7.9h0M27.6 24.4h0M29.7 1h0M26.8 11.2h0M4.6 22h0M49.6 11.8h0M21 47h0M31.1 14.5h0M57.2 36.5h0M12.8 9h0M12.5 23.9h0M24.3 16.8h0M61 17.5h0M.7 30.5h0M58.3 46h0M65.3 39.7h0M40.6 27.6h0M8.3 3.5h0M42.8 34.5h0M65 44.9h0M20.1 31.6h0M34 30.7h0M17.7 6.8h0M10.9 39.8h0M59.5 26.2h0M32 28h0M38.7 41.3h0M12.4 33.1h0M59.9 15.2h0M1.6 17.7h0M38.7 39.4h0M5.7 32.4h0M38 1.2h0M20.7 19.6h0M9.2 4.6h0M23.5 29.3h0M62.1 3.1h0M15.6 15.1h0M7.7 21.8h0M11.1 39.9h0M36.8 23.4h0M3.4 37.7h0M54.1 30.1h0M57.3 22.3h0M1.9 31.9h0M57.8 17h0M33.9 45h0M56.9 9h0M16.6 6.4h0M13.3 3.5h0M34.5 19.2h0M51.6 25.6h0M53.5 45.3h0M59.8 1.8h0M7.9 28.5h0M50.6 29.6h0M2.6 30.3h0M65.7 47.4h0M3.2 46.7h0M26.7 7.3h0M63.3 .6h0M.3 .1h0M2.1 40.2h0M54 38.7h0M34.2 42h0M21.3 38.2h0M46.4 37h0M35.4 45.8h0M51.9 32.9h0M42.1 39.2h0M34.4 42.3h0M7.1 16.3h0M5.7 44.8h0M62.9 19.3h0M18.9 44.1h0M28.5 23.5h0M57.9 17.6h0M20.5 38.5h0M43.3 42.8h0M42.7 45.8h0M3.4 34.9h0M46.7 2.6h0M38.3 29.1h0M52.3 5.1h0M2.9 38.4h0M8.3 5.2h0M56.8 26h0M19.1 40.3h0M31.6 44.6h0M56.9 19h0M8.9 13.3h0M11.4 25.6h0M52.2 7.7h0M62.4 37.6h0M5.2 42.9h0M18.9 36.1h0M10.4 9.3h0M24.5 30.1h0M10.2 9.2h0M53.1 30.3h0M61.9 4.8h0M34.2 4.7h0M40.1 16h0M64.9 12.6h0M45.5 15.6h0M39.5 45.6h0M62.8 37.5h0M37.6 21.8h0M9.1 4.3h0M16.4 45.4h0M42.3 10h0M4.5 7.2h0M3.4 10.9h0M27.6 5.9h0M63.3 28.4h0M12.9 29.3h0M45.5 44.1h0M16.7 22.3h0M17.5 27h0M35.7 10.1h0M52.3 41.7h0M13.6 47.6h0M25.1 37.1h0M3.6 24.7h0M33 30.5h0M30.7 3.6h0M61.5 42.9h0M20 32h0M37.6 30.4h0M1.5 7.3h0M29.2 47.9h0M34.6 22.1h0M51.5 4.8h0M20.9 1.5h0M9.6 38.1h0M59.8 5.6h0M48.9 5h0M21.1 1.6h0M37.9 11.5h0M58.7 38.6h0M39.4 34.5h0M50.2 27.1h0M52.5 30.3h0M43.2 37.4h0M65 44.4h0" stroke="#c6c4e0" stroke-width="1.1" stroke-linecap="round" fill="none"/>
<path d="M54.5 1.6h0M15.5 2.8h0M18.1 27.4h0M7.4 6.9h0M6.9 18.7h0M15.6 36.9h0M13 15.5h0M16.1 15.6h0M51.4 36.1h0M51.3 17.1h0M47.7 35.2h0M37.6 47.7h0M7.5 9.7h0M17.6 19.6h0M31.6 46.8h0M50.6 9.4h0M19.7 9.8h0M30.8 13.2h0M40.2 38.4h0M54.5 46.4h0M19.2 15.2h0M18.5 20h0M36.3 19h0M23.7 29.3h0M45.1 41.3h0M29.9 23.4h0M18.3 9.1h0M15.7 47.7h0M55 22.8h0M9.3 17.4h0M49.2 39.8h0M32.9 2.5h0M24.6 1.5h0M31.5 15.1h0M24.4 3.3h0M29.4 27.8h0M62.6 9.5h0M3.2 26.1h0M57 1.5h0M62.8 11.7h0M5.5 40.6h0M21.7 34.8h0M4 44.6h0M.9 39.5h0M47.4 26.1h0M20.3 39.2h0M25.7 20h0M64.6 45.7h0M56.8 43.8h0M41.3 16.9h0M53 20.2h0M52.3 41.2h0M32.1 36.9h0M10.8 41.5h0M40.1 42.3h0M46.3 25.2h0M13.6 18.7h0M10.6 10.6h0M5.1 30.4h0M17 44.1h0M20.5 24.9h0M23.9 33.6h0M4.8 13.8h0M51.2 33.7h0M48.9 7.3h0M18.8 27.5h0M29.8 22.4h0M35.1 14.5h0M60.6 .6h0M57.5 43.8h0M18.9 37.9h0M49.4 34h0M1.9 27.3h0M52.6 45.6h0M31.2 19.4h0M38.4 44.4h0M24.9 4.2h0M29.2 7.5h0M45.6 25.5h0M56.8 15h0M39.2 4.9h0M62.7 40.3h0M53.7 1.4h0M29.6 31.8h0M14.4 30.4h0M9.9 40.6h0M37 19h0M13.5 5.3h0M26.3 19h0M59.9 26h0" stroke="#ebeaf3" stroke-width="1.3" stroke-linecap="round" fill="none"/>
<path d="M39.4 13.7l-.3 -.7M.1 4.4l-.3 .8M44.1 40.5l-.4 .9M17.4 3.9l-.3 .8M36.3 42.8l-.2 -.1M39.9 32.9l-.3 -.5M51.3 11.1l-.8 -.4M22.3 47.6l.1 .5M10.1 22.3l.7 .8M4.5 18.3l-.4 .1M14.3 39.1l.9 -.5M55.1 44.9l-.2 -0M27.4 5.1l.3 -.4M47.6 15.1l.1 .6M38.6 5.6l.2 .1M60.1 13.8l-.3 -.6M47.8 4.4l-.3 .1M65.7 17.6l.8 -.4M62 11.4l.7 .3M9.9 21l.1 -.6M45.2 26.9l-.4 -.7M20.4 24.5l.9 .4M48.8 26.9l.3 .7M4.7 36.3l-.6 -.2M19.8 23.6l.1 -.6M3.7 9.2l.4 -.3M18.5 41.8l.8 .8M10.3 6.4l.3 .1M32.7 2.7l.7 -.1M65.1 37.4l.1 0M41.7 21.2l.9 -.9M35 33.9l.2 -.8M40.8 17l-.2 .6M54.4 41.1l.2 .5M32.6 41.1l.1 -.6M46.2 6.4l.8 -.3M18.1 33.5l-.6 .2M23.7 10.8l.7 .2M36.2 34.8l-.9 .1M32 41.4l.5 -.1M15.8 26.5l.3 -.6M11.4 42.5l.8 .5M34.9 35.1l.7 0M26.6 15.3l-.9 -.9M63.1 39.2l-.3 0M44.1 1.6l.8 -.8M30.7 38.5l-.7 -0M25.9 47.1l.4 .5M62.5 36.8l.6 -.3M39.6 35.7l.3 .8" stroke="#6262d0" stroke-width="1.0" stroke-linecap="round" fill="none"/>
<path d="M59.6 34.4l-.4 -.5M53.7 17.4l.6 -.3M44.2 35.6l-0 -.7M8.4 21.5l.3 .1M57.7 15.8l-.4 .1M22.5 41.3l-.1 -.2M27 21.4l.2 -.4M19.6 41.6l.7 -.8M9.3 3.1l-.3 -.6M10.8 8.4l-.8 .5M44.8 42l.6 .6M57.4 18l.1 .5M11.8 7.7l-.7 .7M19.3 4.9l-.2 -.5" stroke="#4646c0" stroke-width="1.5" stroke-linecap="round" fill="none"/>
<path d="M.9 32.7l-1.1 2.2M.9 32.7l2.5 .6M.9 32.7l3.4 1.2M.9 32.7l-2 .1M46.7 47.5l.5 -1.9M46.7 47.5l-.4 -2.1M46.7 47.5l2.7 -.3M46.7 47.5l.5 -1.7M27.4 46.5l-2.3 1.4M27.4 46.5l3.4 1M27.4 46.5l-1.6 2.7M27.4 46.5l-1.9 2.2M27.4 46.5l.7 3.5M48.9 32.4l1.3 -2.2M48.9 32.4l-1.9 -1.4M48.9 32.4l-2.4 -1.1M48.9 32.4l-1.7 1.6M48.9 32.4l2.9 .9M24.3 47.4l2.8 -1.9M24.3 47.4l-2.9 -1M24.3 47.4l3.4 .5M24.3 47.4l-1.1 -2.3M24.3 47.4l-3.1 .4M9 30.1l-1.7 -.7M9 30.1l1.5 1.1M9 30.1l2.6 -1.7M9 30.1l2.3 -1.1M2.9 16.2l.2 -1.3M2.9 16.2l1.5 -.6M2.9 16.2l1.1 -.8M64.1 30l1.9 2.4M64.1 30l-3.7 -0M64.1 30l-1.2 -3M64.1 30l1.8 -2.5M64.1 30l-2.6 1.3M50.9 7.9l-1.6 2.6M50.9 7.9l-2.8 -1.4M50.9 7.9l-3.2 -.4M50.9 7.9l-1.3 2.3M50.9 7.9l-2.8 -2.4M26.1 .1l1.9 -1.9M26.1 .1l4.8 -2.1M26.1 .1l4.7 .1M26.1 .1l-1.4 2.9M26.1 .1l3.3 -2.5M26.1 .1l.8 -2.3M63.1 43.7l.6 -1M63.1 43.7l-.3 .9M63.1 43.7l-1.3 -.1M62.7 21.9l-3.8 2.9M62.7 21.9l.4 2.6M62.7 21.9l-1.8 4.2M62.7 21.9l3 -1.4M62.7 21.9l-.2 3.2M62.7 21.9l-3.7 -.6M2 17.9l-2.9 -.4M2 17.9l2.3 .5M2 17.9l-2.5 -1.8M2 17.9l2.5 -2.3M2 17.9l.4 -1.7M40.3 37.5l2.9 .1M40.3 37.5l2.2 2.6M40.3 37.5l-.8 -1.9M40.3 37.5l1.1 -1.6M40.3 37.5l.5 2.7M2.7 47.8l-1.5 -1.8M2.7 47.8l-1.5 2.4M2.7 47.8l-2.7 .4M2.7 47.8l-.5 -1.8M2.7 47.8l-3.1 -1.2M23.6 34.7l2.4 .4M23.6 34.7l-3.2 1.5M23.6 34.7l4.1 .9M23.6 34.7l2 3.4M23.6 34.7l3.5 -.8M5.4 8.3l3.4 1.1M5.4 8.3l-1.8 -2.1M5.4 8.3l2 .5M5.4 8.3l3.6 .2M4 29.1l.9 .6M4 29.1l.7 -.5M4 29.1l-.5 .7M8.6 1.4l2.3 -1.7M8.6 1.4l1.7 1M8.6 1.4l-1.9 2.1M8.6 1.4l-2.3 -1.8M8.6 1.4l.7 -3M60.6 30.1l1.6 -1M60.6 30.1l-1.4 -1.1M60.6 30.1l.6 1.2M.3 21.4l-1.6 2.6M.3 21.4l-2.9 1.1M.3 21.4l2.3 0M.3 21.4l-0 -2.2M.3 21.4l1.5 1.7M42.5 20l4 -1.2M42.5 20l3.8 -2.8M42.5 20l-5.1 -.4M42.5 20l3.8 2.1M42.5 20l.7 4.4M42.5 20l-4 2.4M9.8 5.3l-2.2 2.9M9.8 5.3l3.2 .4M9.8 5.3l-3 -2.5M9.8 5.3l5 .8M9.8 5.3l3 -3.8M9.8 5.3l-2.7 -2.7M7.5 42.2l.6 1.8M7.5 42.2l-0 -1.4M7.5 42.2l-.7 -1.1" stroke="#5250c8" stroke-width="0.9" stroke-linecap="round" fill="none"/>
<path d="M.9 32.7l.5 -.5M46.7 47.5l.8 .6M27.4 46.5l-1.2 -.3M48.9 32.4l-1.1 .8M24.3 47.4l-.9 -.3M9 30.1l.9 -0M2.9 16.2l-.2 .4M64.1 30l.5 -.3M50.9 7.9l-.8 -1.2M26.1 .1l.7 .9M63.1 43.7l0 -.2M62.7 21.9l1 -.4M2 17.9l.3 -.1M40.3 37.5l-.7 .7M2.7 47.8l.4 .7M23.6 34.7l1 1.2M5.4 8.3l0 -.7M4 29.1l0 .1M8.6 1.4l-.7 .5M60.6 30.1l-.1 -.4M.3 21.4l.6 -.8M42.5 20l0 1.3M9.8 5.3l.9 -1.5M7.5 42.2l.6 .7" stroke="#4442bc" stroke-width="2.3" stroke-linecap="round" fill="none"/>
</g>
<rect x="57.8" y="44.5" width="3" height=".7" fill="#e04060"/>
</svg>
<svg x="375" y="486.9" width="66" height="47.6" viewBox="0 0 66 47.6">
<rect width="66" height="47.6" fill="#c9c9e6"/>
<g filter="url(#b5)">
<path d="M48.5 19.8h0M7 9.8h0M56.3 11.8h0M63.9 6.2h0M1.2 10.3h0M24.2 24h0M56.7 34.7h0M47 9.6h0M55.6 26.9h0M1.4 .6h0M42.9 14.5h0M65.3 46h0M30.6 46.7h0M37.1 35.4h0M17.1 5.5h0M12.5 28.7h0M21.3 26.9h0M2.7 12.7h0M22.9 39.3h0M10.4 19.9h0M25.9 29.4h0M9.1 1h0M61.4 23.4h0M56.9 2.9h0M32.9 33.7h0M57.2 38.6h0M16.2 41.4h0M6.3 3.1h0M54 35.8h0M23.6 19.9h0M4.1 8.6h0M20.1 10.9h0M3.6 5.2h0M.1 43.7h0M1.3 28.7h0M31.3 22.4h0M56.8 28.6h0M21.3 36.1h0M30.8 31.3h0M58.7 36.9h0M8.6 35.9h0M33.5 14.5h0M49 8.6h0M13 9h0M60.4 21.6h0M2.1 24.7h0M30.1 22.7h0M30 9.2h0M35 38.2h0M48.2 30.8h0M36 46.4h0M41.9 33.8h0M17.5 10.6h0M58.4 17.1h0M17.9 8.6h0M52.6 27.2h0M21.1 13h0M48 29.5h0M44.3 37.7h0M12.9 22.6h0M15.3 17.3h0M51.4 7.6h0M57.8 10.4h0M48.8 27.3h0M65.1 13.9h0M42.8 29.3h0M16.8 46.1h0M51.5 23.7h0M38.3 18.4h0M30.4 29.8h0M12.1 39.2h0M7.5 16.2h0M43.3 8.9h0M2.4 41.8h0M7.7 46.9h0M22.5 22.5h0M56.3 7.6h0M58.9 20.2h0M5.2 42.1h0M26.4 6.1h0M38.8 7.3h0M.2 26.9h0M56.1 32.3h0M20 26.8h0M57.5 5.6h0M53.2 28.7h0M50.3 41.1h0M21.3 13.9h0M35.1 14.1h0M49 41.1h0M13.5 45.8h0M21.1 6.1h0M46.5 31.8h0M7.9 5.4h0M26.7 27.1h0M1 29.8h0M52.8 21h0M62.5 31.9h0M3.8 38.9h0M62.1 40.1h0M51.4 2h0M51.2 17.1h0M63.8 25.3h0M15.4 26.7h0M14.8 6.4h0M18.1 20.1h0M25.8 5.4h0M31.7 21.8h0M43.5 25.8h0M2.6 28.9h0M57 27.4h0M32.1 7.6h0M42.7 17.7h0M10.1 33.1h0M62.4 18h0M25.9 31.9h0M5.3 9.7h0M63.7 33.5h0M5.1 10.7h0M36.3 22.6h0M28.5 37.7h0M49.3 41.6h0M32.5 42.3h0M40.8 24.6h0M36.5 30.5h0M52 28.9h0M44.8 32.4h0M36.6 43.3h0M16.9 31.1h0M39.4 34.7h0M60.7 3.9h0M19.2 26.5h0M38.8 20.6h0M20.5 28.5h0M41.6 22.4h0M12.3 11.2h0M6.9 35h0M4.7 17.5h0M28.8 36.5h0M38.4 13h0M2.5 22.1h0M18.3 25.9h0M51.7 8.3h0M22.7 8.6h0M20.5 18.7h0M48.4 46.8h0M13.3 11.3h0M56.3 28.5h0M39.5 27.7h0M27.1 20.4h0M6.8 21.2h0M31.1 34.5h0M64.6 5.7h0M45.6 22.4h0M54.2 43.1h0M18.9 17.7h0M32.3 19.7h0M61.7 47.4h0M54.2 37.3h0M33.2 28.6h0M52.5 46.5h0M50.5 13.7h0M6 8.2h0M3.8 3.9h0M.6 3.7h0M33 10h0M39.7 16.8h0M5.5 29h0M22.7 8.8h0M59.6 21.6h0" stroke="#c6c4e0" stroke-width="1.1" stroke-linecap="round" fill="none"/>
<path d="M13.5 15.5h0M44.9 18.8h0M53.4 24.8h0M62.2 34.6h0M22.2 19h0M63.9 47.6h0M.2 9.6h0M9.5 27.7h0M5.9 43.3h0M23.9 26.1h0M49.5 15h0M49.4 27.1h0M55.1 41.1h0M20.1 42.8h0M45.7 31.7h0M49.6 34.7h0M61.3 15.2h0M61.4 30h0M62.8 3.7h0M61.6 33.6h0M16.7 28.9h0M25.8 42.6h0M40.5 21.8h0M45.1 14.5h0M62.7 15.1h0M16.5 39.5h0M61.2 7.3h0M17.5 13.5h0M55 32h0M36.8 28h0M34.2 39.6h0M6.8 35.7h0M4.3 43.7h0M25.8 6.3h0M44.8 38.3h0M32.9 46.4h0M16.5 9.4h0M59.1 9.7h0M47.1 9.5h0M62.6 2.6h0M24.2 33.6h0M39 33.6h0M14.3 46h0M12.3 11.2h0M44.7 11.4h0M65.7 42.4h0M16 31.9h0M18.2 37.7h0M40 11.2h0M60.7 40.8h0M13.5 22.2h0M63 10.3h0M31.4 9.5h0M14.3 33.4h0M4.7 20.8h0M41 37.8h0M10.4 10.6h0M49.9 42.9h0M9.6 11.7h0M26.6 17.7h0M38.2 11.2h0M2.7 21.3h0M30.6 11.9h0M61.9 26.7h0M10.1 37.6h0M15.9 41.2h0M50.4 43.6h0M27.6 40.8h0M46.1 32.4h0M.2 13.8h0M41.3 35.3h0M41.2 10.1h0M52.7 8.2h0M43.9 31.5h0M20.2 29.7h0M55.6 13.9h0M64.6 11.6h0M4.6 44.9h0M1.4 43.6h0M54.9 43.9h0M37.7 17.6h0M32.5 45.7h0M62.1 15.7h0M19.6 32h0M45.8 11.7h0M32.7 18h0M47.8 37.9h0M21.3 20.5h0M1.4 39.8h0M39.3 4.8h0" stroke="#ebeaf3" stroke-width="1.3" stroke-linecap="round" fill="none"/>
<path d="M32.9 8.2l-.1 .1M63.3 25.6l.2 -.7M56.8 33l-.7 -.5M9.6 8.4l.7 -.3M9.8 41.5l-.2 .6M42.2 1.7l-.9 .8M65.6 26.2l.7 -.2M58.6 46.9l.3 -.3M6.6 13.4l-.6 .5M35.7 32.2l-.4 -.7M50.2 5.6l.2 .3M49.2 8.7l-.4 .2M33.6 3.2l-.6 .5M11.9 45.2l-.6 -0M24.3 19.9l-.3 -0M49.9 10l-.5 -.9M59 5.9l.9 .8M27.6 10.3l-.5 .7M38.7 19.6l-.5 -.3M7.8 9.5l.3 -.6M3 37l.8 -.4M44.2 41.4l-.8 -.1M45.5 39.3l.6 -.2M65.1 20.8l-.1 .1M57.8 7.5l.1 .3M45.4 12.3l.8 -0M6.3 33.7l.5 -.9M22.1 8.5l.6 -.6M19.1 11.5l.1 -.2M15.7 19.6l-.5 .3M59.1 46.1l.7 .3M23.1 12.4l-0 -.2M36.9 31.1l-.3 -.8M20.4 21.8l-.4 -.5M9.5 36.8l.8 -.1M40.9 35.9l.3 .5M27.7 31.9l-.6 .8M27.8 14.2l-.5 .4M10.5 26.6l.1 -.5M12.3 46.1l-.3 .8M36.9 37.2l0 .6M36.1 46.8l-.7 -.1M60.6 5.2l-.4 -.1M65.5 34.4l.3 -.6M26 .4l-.5 -.7M38.3 23.2l.3 -.3M30.8 22.7l-.5 -.9M53.1 16.8l.6 .3M8.8 28.2l.9 .2M10.2 35.1l-0 -.6M63.2 38.2l.1 -.8M10.7 47.4l-.7 -.6M62 44.1l-.2 .3M2.8 15.4l.3 .4M27.5 27.6l.2 -.4M10.9 25.1l-.4 -.1M6.5 3.6l.1 -.3M46.8 5.3l.4 .2M37.6 35.4l.5 -.5M54.8 1l.5 -.3M38.7 .5l-.3 -.9M56.3 16.3l.1 -.3M59.8 47.3l-.2 -.7M39.3 47.2l.1 .4M54.3 1.3l-.6 -.4M28.3 12.1l.3 -.1M18.7 17.6l.6 .5M4.5 33.1l-.7 .8M19.8 47.3l.5 0M24.3 40.4l.7 -.4M48.4 9.7l.4 .2M11.6 10.1l-.8 -.5M.3 17.1l-.1 -.1M41.9 25.7l0 .1M4.6 7.3l-.1 .2M34.5 20l.3 .8M34.3 20.8l-.8 .6M20.5 36.5l-.4 .1M21.2 46.9l-.7 -.5M23.5 27.4l-.6 .4M13.7 .8l-.1 .5M57.6 32.9l.6 -.2M22.5 .1l.3 -.3M62.1 .6l-.3 -.1M40.3 10.5l.3 -.8M61.2 8.6l.3 .1M9.4 33.2l-.1 -.7M39.8 23l-.4 0M12.6 22.4l-.7 -.6M18.6 16.6l.2 .6M51.9 13l.6 -.9M55.6 28.4l.3 .1M12.1 6.8l.3 -.5M24.2 .4l.6 -.1M23.6 45.2l-.3 .4M53.9 41.8l.4 -.5M16.7 27.5l.8 .1M40.6 18.6l.6 -.1M64.2 21.3l.8 0M65.6 46.6l-.8 .2M40.8 12.4l-.8 .9M58.8 39l-.9 0M32.5 45.9l-.1 -.8M48.5 27.8l-.4 .3M13.8 34.2l-.4 -.9M52.9 4l0 -.4M15 6.5l-.1 .1M31.7 43.3l.1 -.6M46.2 4.1l.5 -.4M14.2 19.8l.1 -.5M65.8 33.2l-.2 .6M14 15.7l0 -.6M13.8 42.6l-.5 -.8M19.8 41.9l-0 .8M4.7 9.8l-.2 -.3M35.6 20.7l.1 -.1M44.7 7.2l-.1 -.1M34.7 7.7l.8 0M57.8 21.1l-.8 -.7M47.2 29.1l.4 -.8M5.8 23l.5 .8M9 17.3l-.7 .6M46.3 11.3l.8 -.9M34.6 22.3l-.2 .6M48.2 12.8l.2 .5M29.8 14.4l.2 .7M11.1 30.3l-.7 -.8M54.7 16l-.4 -.2M54.4 31.2l-.2 -.2M30.1 2.9l.5 -.4M37 20l-.8 .2M33.6 4l.5 .3M35.2 10.6l.6 .1M39.7 33.4l.3 -.8M8.1 32.8l.7 .7M51.4 45l-.1 .2M26.6 18.7l-.5 -0M.6 20.3l-.9 .3M36.5 23.7l.1 .8M8.1 44.1l-.2 0M44.8 44.3l.2 -.2M15.8 18.7l.3 -.8M52.6 22.2l-.4 .8M32.8 3.7l.3 .7M37.4 12.9l-.2 .6M33 19.1l.1 .1M26.3 15.8l-.4 .5M13.3 46.8l-.8 -.8M50.1 7.6l-.4 -.4M53.7 28.3l.6 .3M24.2 46.7l.3 .2M5.4 14.6l-.5 .1M27.4 10l-.1 -.1M1 18.6l.2 .1M63.1 36.9l-.7 -.2M26.3 3l.7 .8M31.7 19.2l-.6 .1M10.1 5.8l.8 .3M1.8 26.5l.6 -.5M48.3 20.7l-.6 -.2M32.7 7.7l.5 .2M33.5 33.9l.5 -.4M39.7 47.2l-.6 -.8M49 12.8l-.7 .3M39.4 12.6l-.3 .4M26.6 44.1l-.7 .2M29.3 20.4l-.5 .6M46.9 3.4l.1 -.6M9 24.2l-0 .5M16.4 22l-.8 .8M56.1 26.2l.8 .8M31.8 15.9l-.4 0M26.9 28.1l.4 .7M6.2 15.4l.3 -.7M8.3 32.3l-.6 .2M11.9 14.6l-.4 .8M38.8 22.4l.3 .1M35.7 38.4l-.9 .6M7.6 45.8l-.6 -.8M63.3 39.4l-.1 .4M.3 45.5l.6 -.7M42.2 37.9l-.4 -.5M52.8 8.9l-.7 -.3M37.1 46l-.6 .9M34.1 43.4l-.5 -.5M9.7 31l-.5 .1M15 14.5l-.1 .5M29.7 12.1l-.1 -.9M11 41l.4 -.2M11.2 39.2l.3 -.2M53.1 21.5l-.1 -.5M32.1 21.7l-.3 -.6M35.9 3.7l.8 -.2M59 39.6l.6 -.7M35.2 40.2l.5 -.4M61.3 40.3l.9 -.5M10.4 26.6l.9 .1M7 33.8l-.7 .3M8.5 29.1l.3 -.6M32.9 29.7l.7 .7M33.8 34.9l.3 -.3M18.5 16l.9 .3M22.1 15.3l-.2 -.1M21.6 41.1l.8 .2M16.9 39.7l-0 -.9M64.7 12.3l-.1 .5M38.2 16.1l-.3 .8M45.5 3l-.7 .4M63.7 20.8l-.1 -.8M54.9 26.6l.8 .8M40.3 22.7l.7 .2M42.7 47l.3 .4M42.5 17.3l.4 .1M61.1 46.7l-.3 .1M29.4 21.7l-.4 .1M16.7 46.8l-.6 -.1M12.7 28.3l.7 -.9M14.7 .5l-.4 -.1M18.1 42.7l.4 -.8M51.4 42l-.7 .7M12 20.8l.6 0M56.3 10.8l.2 .8M63.3 21.8l-.3 -.6M45.9 27l-.8 -.4M5.3 30.3l.1 0M52.8 46.7l.1 .6M50.7 14.7l.7 -.2M1.1 37l.6 -.9M45 14.6l-.2 .6M50.8 4.6l.2 .6M13.8 1.2l.9 .6M52 7.9l.3 -.5M9.7 1.7l-.2 -.3M14.1 21l-.8 .5M47.3 15.7l-.9 -0M35.1 32l-.7 .1M15.2 9.4l.5 -.7M25.5 13.7l-.1 .4M16.7 27.9l-.2 .5M60.3 22.6l.5 -.5M52.4 31.2l-.9 -.4M62.1 34.1l-.2 .6M9.4 2.7l.4 .1M16.5 3.5l-.1 .1M50.3 27.1l.5 -.3M8.2 0l-.1 .7M56.5 18.7l.1 -.3M54.9 40.8l-.3 -.3M42.2 42.1l.7 -.8M0 22l-.7 .8M27.4 7.2l.7 .5M6.1 41l.8 .2M34.8 8.2l.8 -.5M6.2 33l.7 -.2M45.5 37l-0 .6M44.9 14.9l-.3 .2M23 12.4l.7 -.5M48.9 32.8l-.7 -.6M10.9 23l0 -.9M52.7 25l.4 .5M41.2 16.4l-.6 -.6M30 43.6l.6 -.4M22 42.8l-.4 0M48.6 29.5l-.2 -.4M36.5 4.6l-.7 .7M40.4 26.9l-.4 .8M56.1 18.4l-.3 -.1M18 27.4l-.5 -.3M26.2 22.8l-.2 -.3M52.4 34l-.5 .7M37.1 12.2l.1 -.7M65.4 7.3l.4 .4M35.2 5.8l.4 -.7M39.8 39.6l.5 -.8M44.7 26.2l.5 .7M47.1 18.9l.4 -.2M16.8 46.7l.6 -.6M2.2 18.9l-.9 .4M44.4 18.9l-.1 -.8M20.9 10.7l.4 -.3M51.3 38.1l.6 .2M50.8 24.7l-.7 .4M12.2 44.8l.4 -0M.9 32l.2 -.3M14.3 28.5l.2 .2M53.2 20l-.4 .2M17 31l-.5 -.8M40.3 12.2l-.2 .5M49.9 21.5l.1 -.4M.4 45.7l.3 .1M59.4 45.6l.2 -.4M13.4 20.7l-.3 -.4M15 46.3l-.5 .8M35.8 8.6l-.7 .2M27.5 29.8l.3 -.2M25.5 2.1l-.3 .1M5 42.9l0 .3M64.6 14l.4 .2M52 34.2l.8 0M5.2 47.4l.2 -.5M5.9 32.5l.6 .6M41.1 44.7l-.9 -.9M40.5 25.1l.8 -.8M62.1 31.8l-.8 -.1M32.6 6.8l.6 -.3M54.5 43.2l-.3 .8M38.8 22.2l-.2 -.1M27.4 46.4l.3 .4M4.2 35l.4 .1M8.2 24.1l.9 -.9M34 39.2l-.4 .5M35.6 18.3l-0 -.7M56.7 12.9l-.3 -.2M43.9 2.3l-.3 .8M1 47l-.3 -.2M60.7 13.2l-.4 -.8M32.9 17.6l-.6 .7M33.9 31.4l.5 -.4M57.4 12.5l0 .4M9.8 33.6l-.4 .2M.7 45.6l.1 .6M27.1 5.6l-.1 -.1M57.2 6.6l-.7 .4M11.3 7.4l-.5 .1M35.8 3.2l.6 .2M20 36.1l-.7 -.7M21.9 16.2l.7 .9M51.9 16.9l.9 .3M40.7 39l.3 .1M13.4 5.1l-.5 -.8M13.8 13.6l-.6 .8M54.5 43.8l-.1 .9M50.1 25.6l-.2 -.1M62.9 6.2l-.8 -.8M3.3 39.2l.2 -0M.8 13.7l-.4 0M57.1 14.4l.5 -.4M26 38.8l-.1 -.1M57 31.8l.3 .7M25.1 12.4l.7 .8M.8 8.9l-.4 .5M.2 45.7l0 .8M48.8 34.6l-.1 .8M33.4 40.4l-.7 -.3M24.6 43.6l-.4 .5M44.6 30.8l.3 -.6M41.7 4.3l-.2 .1M17.8 14.8l-.1 .4M22.5 20.2l.5 -.3M10.5 32.1l.6 -.5M21 10l.8 -.5M42 4.1l-.3 -.8M17.9 10.3l-.3 -.7M27.3 27.2l-.4 -.6M16.7 15.7l-.4 .1M22.9 3.8l.8 .4M14 34.9l.4 .6M30.3 29.4l.5 .4M36.4 40.9l.1 -.7M63.9 45.3l-.1 .2M32.3 13l.4 -.7M12.8 32.1l.4 -.4M39.2 29.9l-.6 .6M15.9 43.1l-.7 -.4M36.7 9.4l-.8 -.5M51.9 43.8l.3 -.1M36.2 36.1l-.4 -.5M15.1 19.4l.5 .4M53.9 21.2l.1 -.2M21.2 5.2l.1 .8M12.7 23.2l-.1 .6M20.8 21.2l.8 -.1M29.6 33.6l-.8 -.7M54.9 6.7l.8 -.2M58.4 35.7l-.9 .1M27.7 42.5l-.3 -.6M13.9 21.9l.4 -.4M26.8 36.8l.1 .1M52.3 2.2l.4 0M64.3 35l-.7 -.7M7.1 46l.8 .3M20.9 30.1l.5 -.8M59.3 14l.3 .1M16.4 3.9l.9 .5M12.8 42.8l-.1 .6M35.7 36.4l-.1 .5M52 34.1l.3 .9M46.4 35.4l.1 -.4M34.7 13.6l-.4 .2M59.6 40.4l-.3 -0M62.3 15.7l.3 -.8M26.6 45.6l.4 .4M17 12.5l.4 .5M49.3 34l-.4 -.7M51.4 28.9l.4 .2M9.1 7.4l-.7 .7M20.6 24.7l-.6 -.5M5.3 34.8l-.6 -.5M49.7 27.5l0 .4M10.9 42.2l-.1 -.2M13.2 5l.6 .9M32.4 4.8l-.4 .6M29 25.4l.1 .3M44.4 11.5l.7 -.7M22.2 37.1l-.5 -0M21.2 8.3l.6 .1M48.3 33.9l-.8 .9M50 26.3l0 0M19.3 25.3l-.3 -.6M17.5 30.8l-.5 -.5M61.2 21.1l.1 .7M46.8 42.1l.9 -.5M46.8 21.4l.2 -.7M14.2 15.2l.3 .5M64.4 5.3l.3 -.7M49.4 2.9l.7 .5M55.2 31.2l-.5 .4M60.1 29.2l-.4 -.4M48.5 11.7l.2 -.7M44.8 42.6l-.3 .9M2 24.2l.5 -.6M10.7 23l-.8 -.2M56 33.3l.9 -.9M11.4 28l.7 .8M15.7 23.9l.6 -.9M48.6 5.4l0 -.3M59.1 2.2l-.1 .1M17.4 23.9l.4 .8M62.7 .8l.7 -.4M13.8 46.2l-0 -.2M30.3 13l-.5 -.5M35.1 37.1l.8 .4M14.8 21.6l-.7 .7M28.4 14.8l.6 -.7M27.2 27.1l.3 .2M43.9 34.4l-.4 .1M26.5 9.9l-.7 -.6M6.8 19.5l.3 .4M29.7 31.3l.8 -.7M18.6 18.3l-.4 .8M.6 24.8l-.6 -.5M27.5 42.1l.2 .3M20.2 28.3l-.4 -.8M23.1 2.3l.5 .3M64.1 46.9l.5 .6M1.6 26.1l.7 -.3M37 28l.1 .1M2.2 4.2l.7 -0M30.2 11.4l-.9 .5M20.4 35.9l-.3 .4M55.3 41.8l.4 -.2M45.5 34.9l-.4 -.1M52.9 3.7l-.4 -.6M65.1 10.5l.7 -.1M36.4 33.4l.2 .8M59 36.4l-.1 -.8M58.5 42l-.8 -.6M57.3 12.9l.4 .7M45 14.8l.5 .8M20.2 37.6l-.1 .1M39.1 34.7l.9 -.4M39.9 31.9l-.2 .8M24.9 33.7l-.7 .3M55.6 7.2l.8 -.3M12.7 19.5l0 .3M16.8 20l.2 -.4M56.6 13.4l.1 -.6M62.4 3.2l.3 .8M13.1 20.1l-.3 .1M17.6 19.3l-.5 -.5M60.7 39l.5 .3M2.3 .9l.2 .1M.1 19.1l-.2 -.4M3.5 20.3l-.1 -.7M17.1 37.8l.2 .4M35.4 46.7l.9 .8M52.4 2.8l.8 .4M8.8 20.7l.4 -.7M37 5.3l-.2 .7M46.4 42l-.1 -.6M21.3 10.1l.4 .7M52 5.1l.4 .1M56 9.9l.2 .1M29.1 16.5l.4 0M50.5 12.9l-.3 .2M1.2 44.7l.6 -.4M39.6 39.3l-0 .1M30 28.5l.4 -.6M5.6 5.7l-.3 -.2M27.6 .3l-.4 -.1M61 8.3l-.6 .7M31.1 5l-0 -.6M19 6.5l.9 .1M33.9 13l-.5 .1M19.9 43.9l.7 -.4M62.3 42.9l.7 -.1M52.3 40.7l-.7 -.1M24.6 46.1l.7 .9M61.2 40.8l.8 .3M33.2 15.7l-0 -.5M11.5 23.7l-.2 -.6M26.5 15.3l-.1 -.3M42.1 38.3l-.3 .2M50.1 44.7l.8 .7M13.6 15.4l-0 -.8M63 17.3l.4 .7M34.6 20.5l.8 -.2M16.5 21.1l-.1 .8M37.5 10.3l-.2 .5M36.3 29.9l-.7 .7M43.4 22.9l.2 -.2M12.8 35.8l-.7 -.3M6.3 32.8l-.3 .6M12.1 25.1l0 -.8M10.5 27.9l-.2 0M44.6 15.6l-.6 -.7M13 19.7l-.1 -.4M7.5 44.5l-.3 -.5M3.6 17.1l-.6 .1M1.6 40l0 -.5M22 22.7l-.6 -.2M19.1 22.6l-.8 -.6M18.3 14.7l.7 -.3M48.1 11.8l-.2 -.7M6.3 17.3l-.5 -.3M42.5 36.3l-.7 -.1M23.7 7.8l-.7 -.1M6.6 20.6l.6 .4M51.1 15.7l-.6 -.2M53.7 28.8l-.7 -.9M60 7.1l-.1 .5M18.9 3.2l.8 -.4M57.9 11l0 .6M40.6 2.2l-.8 .4M36.7 39.7l-.5 -.1M2.7 13l-.8 .2M44.2 15.9l-.9 .2M61.1 44.6l-.8 .3M37.1 15.5l.9 .4M14.7 38.3l.7 -.5M44.6 10l-.4 -.1M40.2 31.1l.4 .5M8.7 45.1l.6 -.6M30.2 24.7l-.5 -.1M31.9 36.8l.6 .5M5.9 25.8l-.4 .7M47.4 29.4l0 .7M2.3 38.7l.7 .1M5.7 21.5l.3 .7M61.3 15.2l-.2 -.6M8.4 41.1l.9 .2M31.8 23.5l.8 .6M30.5 17.2l.7 .2M31.4 10.6l-.8 .6M45.1 15l-.2 -.1M36.8 35.8l-.2 .1M7.7 33.7l-.7 .3M13.8 7.8l.7 .2M15 32.5l-.3 -0M28 28.8l-.5 -.5M1.5 .1l-.2 .4M40.9 18.7l.8 -.4M28.7 7.1l.9 -.5M23 2.5l.1 .1M25.4 25.7l.1 -.7M42.7 40.7l.3 -.8M16.7 10.9l.9 .4M56.4 35.3l-.9 .3M32.1 31.1l-0 .3M0 36l-.7 -.2M28.1 41.3l.5 .2M56.4 34.3l-.1 -.3M43.1 13.6l.3 .7M4 19.3l-.6 -.4M22.6 38.6l-.8 0M6.1 26.4l.6 -.4M22.4 16.8l-.5 .6M8.5 30.2l.2 -.5M34.9 9.8l.4 .2M32.4 8.5l.7 -0M48.3 4.3l-.8 .8M10.2 19.1l.3 -.2M19.1 21.9l.3 .4M41 1.7l-.4 -.4M36.3 6.2l.7 -.4M8 33.7l-.5 -.5M39.8 39.3l-.5 .1M13.4 6l.7 .1M10.1 16.9l.6 .2M38.8 45.4l-.4 -.8M14.3 41.4l.7 .4M47.9 .5l-.3 .6M16.9 18.5l.2 .1M46.9 11.9l-.5 -.5M51 18.4l-0 -.3M56 24l.4 -.9M50.9 30.8l.6 .7M18 35.7l-.8 .3M3.3 46.7l.5 -.4M58.3 22.4l-.9 -.5M5.8 43.4l.3 -.5M8.3 23.2l.1 -.1M41.8 9.7l.6 -.8M18.8 17l-.9 .8M10.4 2.3l.3 -.8M38.2 31.7l.7 -.3M63.1 40.2l.5 .7M49.4 33l-.2 .6M19.7 41.5l-.7 .3M10.1 33.7l.8 .7M46.5 34.1l.4 -.5M29.3 23.5l-.7 .4M64.9 28.3l-.2 .8M3.7 30.6l.6 -.5M16.7 29.9l.1 -.3M7.8 2.4l-.2 .8M33.6 6.2l0 -.6M17.6 44.5l-.5 .8M34.6 13.8l0 .4M60.9 42.6l-.7 .7M2.7 4.2l-.7 -.7M4.6 31.8l-.6 -.4M11.2 45.4l-.4 -.2M44 11.2l.8 .6M39.6 3.6l.6 -.3M29.6 20.8l.9 -.2M48.9 4.2l.4 .6M63.5 34.3l-.7 -.3M53.8 46.5l-.7 .8M28.9 1.6l-.7 .8M31.2 .1l.8 -0M26.2 32.4l-.3 -0M22.3 28.2l-.9 .9M58.4 22.4l.9 .3M56.2 14.7l.6 .7M48.6 46.7l-.5 -.7M13.6 25.8l-.3 .3M24 21.4l-.8 .2M53.9 16.6l.5 .2M5.9 38.1l-.8 .3" stroke="#6262d0" stroke-width="1.0" stroke-linecap="round" fill="none"/>
<path d="M6.9 19.1l-.1 -.8M48.1 20.8l.1 -.7M8.4 35.5l.6 -.2M50.2 15l-.8 .7M12 41.6l.2 .7M50.2 34.6l-.2 .6M17.3 12.3l-.7 -.3M25.7 30.4l.4 .1M58.1 15.2l-.5 -.1M39 21.7l-.1 .3M18.3 27.1l-.2 .3M30.9 42.1l-.1 .1M52 10.3l-.3 .6M22.5 29.9l-.3 .3M.1 31.9l.2 -.5M40.4 38.9l-.8 -.4M26.1 34.4l.4 -.3M31.2 13.6l-.3 -.7M13 40.3l.2 -.3M16.5 43.7l-.3 .6M52.5 36.2l-.6 -.5M32.3 22.8l-.3 .1M.9 41.7l-.2 -.2M64.7 .7l-.4 .3M34.5 42.4l.1 -0M58.9 22.2l-.5 -.1M28.9 18.1l-.2 -.3M47.9 7.7l0 .6M5.4 8.1l-.2 .3M5 24.4l-.4 .2M43.9 46.7l-.1 -.6M49.5 19.7l-.5 .8M51.5 13.9l-.3 0M60.3 39.4l.6 -0M27.7 25.4l-.6 .3M47.8 27.3l-0 -.7M52 46.1l-.7 -.8M44.9 35.8l.5 .8M15.4 33.6l-.6 -.6M50.2 23.3l-.2 -.4M29.1 45.9l-.5 -.4M15.4 16.1l-.5 -.3M38.9 46.3l.7 -.1M52.7 21.1l-.8 -.5M5.5 27.5l0 -.4M10.3 11.3l-.8 .6M24.2 28.9l-.1 .7M43.5 1.1l.3 -.8M47.1 1.7l.4 -.1M47 37.9l.5 .8M63.3 15.2l-.7 -.5M5.4 36.7l.3 -.3M48.4 44.1l-.5 -.7M32 2.5l0 -.6M44.5 24.2l-.4 -.8M20.1 12.3l-.5 .1M36.2 32l.5 -.2M65.7 32.4l.8 .3M1.2 42.2l-.1 -.6M55.5 7.7l0 .1M27.8 26.6l.6 .1M40 47.4l-.2 .8M23.4 13.3l.5 .4M25.5 40.4l0 .1M20 25.9l-.6 -0M51.6 33.3l-.2 .1M52 40.6l-.2 .4M45.4 40.3l.3 .3M32.9 46.5l-0 .6M54 46.6l-.2 -.1M29.8 17.1l-.2 .6M6.2 45.8l.1 .4M47.1 37.3l.7 .5M17.2 41.4l.6 .5M35.1 21.7l-.2 -.3M13.1 7.7l-.5 -.8M40.2 18.5l.7 -.1M3.9 37l.2 .2M24.3 40.3l-.7 .6M5.7 20.8l.4 0M28.4 28.1l-.3 -.6M64.2 16.9l.7 -.6M4.3 33.1l-.1 -.7M12.3 34.2l-.6 -.7M1.1 28.9l.7 -.8M31.5 10.8l.3 -0M47.3 14l.7 -.6M44.2 5.7l.5 -.5M35.3 2.5l.1 -.7M25.7 40.9l-.1 .2M25 46.7l-.5 -.4M23.2 28.3l-.5 -.4M63.6 25.7l-.2 -.3M60.9 20.5l-.2 -.1M57.8 34.8l-.1 0M22.7 33.5l.7 -.5M53.4 21.1l-.5 -.2M13.3 35.8l.3 .3M34.5 36.7l-.3 -.5M35.2 10.6l-.5 -.3M22.4 27.8l-.3 -.7M16.7 3.7l.3 0M15.3 2.1l.8 .2M47.7 31.3l-0 .7M46.9 38.2l.7 .6M4.9 24.3l-.7 -0M57.9 2.9l.6 .5M3.5 25.4l.6 .6M50.6 22.5l-0 .2M54.3 12.4l.1 .3M34.7 9.4l.6 -.1M63.9 28.6l.2 .1M17.1 23.5l.3 .1M43.8 35.7l.4 -.2M53.9 19.2l.2 .1M51.1 10.3l-.2 .4M48.2 31.4l.8 -.4M59.4 23.3l.7 .4M37 18.9l-.7 -.7M46.5 10.2l-.5 .4M43.8 2.6l.2 .8M42.9 5.5l.7 -.5M1.4 43.3l-.3 -.8M55.7 40.4l-.3 .6M15.7 27.1l.7 -.8M1.5 45.3l-.1 .6M29.8 42.6l-.5 .8M59.1 22l-.2 .2M22.2 38.7l.3 -.4M37.7 45.4l.2 -.6M5.6 47.2l.1 .3M21 42.9l.2 -.3M7.8 40.7l.1 .7M13.6 40.9l.8 -.7M65.1 10.5l.3 .6M46.8 36.2l-.7 .2M26.6 36.9l.5 .2M38.9 22.3l.3 -.4M4.4 44.5l-.1 -.2M36.3 35.8l-.6 -.4M43.3 34.4l-0 -.6M42.3 5.2l-.1 .4M41.3 24.2l.4 .4M52 39.9l-.1 .4M58.4 3.4l-.8 -.3M28.6 .2l.7 -.3M60.6 35.2l.6 .4M53.9 1.8l.7 -.6M42.9 38.1l-.4 -.6M6.5 41.3l-.2 .7M57.2 33.6l.7 .3M57.1 45.9l.5 -.6M27.4 .5l-.7 .5M25.4 28.4l.5 -.5M32.1 42.1l-.5 -.2M8 21.1l-.1 -.2M2.6 16.6l-.1 .5M62.2 17.5l-.5 .3M18.9 12.5l-.3 .5M4 29.7l-.5 -.3M8.9 12l.1 .3M64.2 35.5l-0 .2M35.1 36.6l.4 -.6M5.2 0l.2 .3M51.7 14.8l.2 -0M42.5 40l-.1 .6M36.6 46.6l.2 -.1M10.9 26.4l-.5 .5M8.4 43.1l.4 -.8M17.6 46.4l.5 .7M20.8 37.2l-.1 0M43.5 6.7l.2 .4M48.3 38.2l.4 .7M11.7 5.2l.2 .4M15.2 40.7l-.5 -.7M7.7 27.5l.2 .2M25.7 35l.5 .6M40.5 20.6l.3 -.7M52.6 44.6l0 -.1M.6 31.3l-.5 .3M48.1 16.8l-0 .2M48.6 8.3l-.3 .7M58.6 39l.3 .3M1.5 30.1l-.2 -.7M53.7 19.8l-.7 .4M54.3 34.3l.2 .2M24.5 43l-.8 -0M63.2 36.7l-.6 .2M30.9 4.2l.2 .3M23.6 36.6l.3 .4M16.4 16.2l.7 .7M47.8 27.1l-.4 -.3M3.3 13.9l-0 .5M58.1 46.2l.5 .3M8 36.3l-0 .3M11.1 46.9l-.6 -.2M43 32.5l0 -.6M3.4 46.4l-.1 .1M30.1 26l-.2 .2M62.5 3l.2 .6M36 33.2l.3 -.1M47.2 6.5l.1 -.7M44 34.6l.6 -.7M32.3 9.2l-.6 .5M31.1 21.1l.6 -.1M17.6 30.9l.5 0M26.3 47.5l.3 .1M38.1 29.4l-.5 -.2M9.1 2.4l-.7 .6M4 23.6l.7 .3M9.9 2.3l-.4 -.4M34.6 28.1l.1 0M15.5 32.6l-.4 .3M38.2 40.3l0 .4M39.8 3.4l-.7 .1M7.6 21.9l.1 .6M37 45.7l.5 .2M25.3 30.8l-.7 -.1M46.2 15.7l-.4 -.7M16.3 43.2l.6 .4M39.6 23.2l-.3 -.2M46 39.5l-.4 .5M62.4 25l-.8 0M35.2 10.2l.3 -.2M43.4 24.6l-.4 .5M31.7 30.6l-.7 -.3M49.9 15l.5 -.6M15.9 35.4l.4 -.4M59.6 5.6l-.2 -.4M40.8 7.7l-.7 .1M38.3 32.5l.2 -.6M51.7 46.7l-0 .2M61.2 42.5l-.7 -.4M53.8 12.1l-.5 .6M45 18.1l-.1 -.5M59.4 40.3l.2 .3M33.9 25.4l.4 .5M22.5 20.1l.2 -.7M28.9 20.9l-.7 .7M54.1 8.1l-.2 .4M20.1 23.8l.6 .6M24.9 2l.1 .6M56.1 37.4l-.7 -.1M63.8 .4l-.4 .2M21.8 13.6l-.4 -.2M49 13.8l-.4 .7M5.8 26.5l.6 -.4M50.8 12.3l-.2 .6M2.2 5.9l.3 .1M34.5 5.4l.5 .3M43.3 2.1l-.4 -.7M19.8 28l-.4 -.6M37.1 33.8l.3 -.4M.4 21.1l-.5 .5M21.6 43.8l.1 .7M38.9 18.2l.6 -.3M63.3 .3l.2 -.4M21.6 7.7l.4 .5M21.1 .4l-.4 .1M42.8 12.4l.3 .6M18.5 17.6l.3 -.5M27.1 31.7l.1 .5M52.6 30.6l-.6 -.1M14.2 .6l-.6 -.8M25.4 30.9l-.2 -.8M19.3 16.4l.3 .4M6.5 26.8l-.6 -.6M31 4.7l-.1 -.6M48.4 26.3l-.2 -.6M28.4 44.8l-.2 -.4" stroke="#4646c0" stroke-width="1.5" stroke-linecap="round" fill="none"/>
</g>
<rect x="57.8" y="44" width="3" height=".7" fill="#e04060"/>
</svg>
<svg x="442.8" y="486.9" width="65.8" height="47.6" viewBox="0 0 65.8 47.6">
<rect width="65.8" height="47.6" fill="#dcdce9"/>
<g filter="url(#b5)">
<path d="M46.2 6.4h0M53.2 10.4h0M43.4 .3h0M6 36.3h0M60.8 15.2h0M38 23.7h0M62.9 11.6h0M47.5 3.8h0M15.6 9.2h0M30.7 43.6h0M2.5 45.6h0M26 27.6h0M32.4 40.1h0M20.1 14.1h0M48.8 28.6h0M31.5 38.9h0M28.4 12.1h0M60.6 43.1h0M54.4 33.2h0M17.9 34.6h0M20.2 29.9h0M60.2 32.4h0M11 20.4h0M20.2 22.7h0M18.2 4h0M54.3 2.3h0M50.3 4.2h0M62.3 21.2h0M21.4 46.7h0M32.7 2.1h0M36.4 11.6h0M24.3 46.2h0M43.1 29.6h0M13.6 11.2h0M37.2 .3h0M22.1 27.3h0M27.7 6.9h0M12.2 32.2h0M53.9 4.4h0M33.2 1.2h0M50.7 19.5h0M36.5 6.4h0M56.1 17.6h0M43.5 26.8h0M5.4 22.3h0M7.6 6.1h0M33.7 30.2h0M30.7 12.1h0M24.3 .2h0M34.5 41.7h0M64.6 12h0M23.4 45h0M50.8 5.1h0M8 24.8h0M49.9 12.9h0M56.6 10.7h0M39.9 24.1h0M13.8 2.9h0M33 16.8h0M13.7 .6h0M30.5 39.6h0M36.7 43.4h0M41.5 5.8h0M40.5 39.7h0M57.2 6.7h0M59 12.2h0M6.1 17h0M55.9 7.8h0M15.3 33.8h0M12.5 37.8h0M19 8.6h0M57.6 16.2h0M22.6 21.9h0M12.5 4.2h0M46.1 46h0M32.6 19.1h0M26.4 29.2h0M4.1 43.2h0M23.7 17h0M64.9 10.6h0M1.8 21.2h0M62.8 5.6h0M42.8 43.6h0M4.3 19.4h0M60 39.6h0M10 39.1h0M43.6 45.7h0M29.6 24.6h0M28.8 26.5h0M31.8 40.1h0M.3 42.5h0M14.4 21.6h0M10.2 2.5h0M41.3 11.7h0M30.2 14.6h0M20.2 26.3h0M19.9 6.5h0M1.6 45.4h0M24.6 37.2h0M4.3 25.2h0M51.3 16.9h0M14.7 9.1h0M14 22.1h0M40.4 40.8h0M24.7 10h0M47.9 19.4h0M47.9 46.4h0M56.5 41.6h0M41.7 10.4h0M59.6 26.3h0M25.4 19.7h0M63.5 16.7h0M42 5.7h0M21 33.7h0M40.3 17.5h0M17.6 13.3h0M34.6 25.4h0M34.9 19.3h0M61.2 41.2h0M44 23h0M27.5 24.8h0M54.1 22.7h0M10.9 3.6h0M48.7 39h0M40.5 32.2h0M40.8 21h0M27.9 13.2h0M28 13h0M17.8 6.3h0M28.3 31.8h0M59 37.1h0M34 46.4h0M43.2 8.8h0M29.5 1.4h0M22.3 23.7h0M9.2 38.5h0M11.9 34h0M4.4 15.5h0M34.5 .3h0M13.4 27.6h0M25.3 20h0M24.2 36.9h0M2.6 46.9h0M24.1 10.1h0M49.9 2.2h0M42.8 10h0M51.5 29.8h0M1.2 13.4h0M63.3 45.5h0M41.1 1.9h0M6.1 41.6h0M2.3 12.1h0M4.3 14.6h0M27.9 5.4h0M30.2 43.6h0M7.3 39.6h0M16.8 6.2h0M27.3 12.9h0M6.2 28.5h0M28.4 40.4h0M39.2 16.7h0M29.8 43.4h0M51.1 28.9h0M37.4 36.6h0M59.4 25.8h0M3.1 47.5h0M37.6 20.9h0M55.4 38.4h0M4.1 23.9h0M3.7 25h0" stroke="#c6c4e0" stroke-width="1.1" stroke-linecap="round" fill="none"/>
<path d="M60.9 22.9h0M1.8 17.4h0M7.4 9.8h0M26.5 38.1h0M16.4 22.6h0M2.5 4h0M57.8 37.7h0M23.9 40.4h0M37.7 23h0M10.9 36.8h0M11.2 7.3h0M20.2 44.3h0M31.6 28.2h0M12.2 34.6h0M61 5.8h0M28.4 35.2h0M14.1 30.4h0M24.2 22.9h0M40.7 2.8h0M14.7 15.2h0M32.3 41.6h0M43.2 12.5h0M2.2 21h0M58.3 23.3h0M52.9 27.2h0M14.4 46.8h0M8.9 29.6h0M24.5 9.8h0M38.9 28.1h0M4.7 37.8h0M34 11.4h0M37.3 37.6h0M32.5 34.3h0M5.8 5.4h0M18.5 43.8h0M1.8 19.2h0M57.2 32.2h0M10.4 34.9h0M26.3 43.3h0M52.4 21.4h0M34.6 26.9h0M7.8 38.4h0M37.2 17.1h0M8.2 2.2h0M48.1 44.8h0M.9 42.9h0M47.8 21.3h0M49.8 26.4h0M58.7 11.5h0M34.7 19.7h0M35.7 18.7h0M64.4 2.4h0M4.9 46.3h0M5.2 47.2h0M49.5 10.6h0M64.6 1.8h0M35.2 33.8h0M9 31.2h0M8.8 25.9h0M26.9 18.1h0M58 18.2h0M11 18.2h0M30.4 46.8h0M14.4 25.7h0M10.6 33.7h0M54.1 3.7h0M3.4 15.6h0M58.3 43.5h0M42.1 38.2h0M4.2 4.5h0M12.8 26.1h0M34 33.7h0M36 43.2h0M39.7 30.8h0M44.7 28.6h0M17.3 36.8h0M15.9 43.3h0M11.5 39.1h0M19.9 47h0M37.2 .6h0M22.1 21h0M1 44.2h0M52.4 18.1h0M36.8 1.1h0M6.4 16.4h0M12.6 .8h0M25.7 2.2h0M35.5 2h0M33.3 3.8h0M25 39.8h0" stroke="#ebeaf3" stroke-width="1.3" stroke-linecap="round" fill="none"/>
<path d="M55.9 41l-.9 -.1M31.2 29.7l-.6 -.6M51.5 25.9l-.8 -0M36 35.6l-.5 -.4M34.8 8.8l-.8 -.3M48.6 12.4l-.3 -.1M50.8 7.5l.5 -.4M22.6 23.3l.4 -.8M34.7 5.5l.3 .6M22.3 28.6l-.5 -.3M10.6 44.7l.6 .3M33.1 8.3l.6 -.1M16.7 4.3l.5 -.6M27.9 42.6l-.3 -.9M5 25.9l.3 -.1M1.3 9l-.5 -.7M56.4 4l-.8 -.1M55.6 8.5l-.1 .8M11.2 30.2l-.6 .2M38.6 32.2l-.4 -.3M59.7 1.6l.4 .5M26.4 18.9l-.3 -.4M41.8 41.6l-.8 .6M59.4 28.4l-.2 .6M11.7 11.9l.6 -.8M13.1 42.6l.2 -.1M22.7 23.2l.2 -.9M22.2 6.8l.6 -.5M14.6 28.6l-.8 .1M63.5 0l-.9 .1M21.8 8.8l-.8 -.1M55.1 32.1l-.5 -.8M31.8 5l-.5 .8M35.4 14.5l-.1 0M24.3 4.8l-.5 -.3M34 39.4l-.6 .2M56.6 25.7l.7 .4M32.4 38.2l-.1 .6M16.7 28l.7 -.1M43.6 24.2l.6 -.1M44.5 13.5l-0 .3M10.1 25.1l-.7 -.6M30.3 46l.8 -.2M34.6 44.8l-.3 .8M.3 29.4l-.4 .8M34.1 31l.6 0M8.9 40.6l.4 -.2M15 1l.8 .4M52.4 23.7l-.2 -.8M8.7 23.6l-.2 -.6M1.6 27.5l.2 -.7M3.2 47.5l-.5 -.2M38 8.9l-.7 -.6M7.8 1.2l-.6 .2M32.7 24.8l.2 -.2M21.2 10.9l-.3 -.5M43.8 .8l-.4 .4M35 27.5l.2 .3M61 47.3l.7 -.8M9.4 16l-.5 .6M62.5 11.4l-.2 -.8M31.5 14.8l-.8 -.1M55.9 3.2l-.6 .9M27.9 46.9l.9 .9M5.4 27.5l.1 0M30.6 44.4l.8 -0M27.1 8.1l.8 -.6M24.5 45.3l.1 -.5M22.3 46.2l-.4 .5M36.9 20.5l.3 -.2M52.2 43.9l-.6 .8M22.1 18.2l-.2 -.6M8.9 9.4l-.8 -.5M63.9 8.4l-.4 -.8M24 44.3l-.6 -.8M27 47l.2 .4M57.3 22.6l-.6 -.8M52 44.3l-.5 -.7M7.4 4.4l.4 .5M45.6 47.4l.8 .1M4.8 .7l.3 -.8M25.5 41.8l.2 -.3M41.4 13.3l.6 -.3M34.5 25.1l.7 -.3M64.6 40.7l-.7 -.3M43.8 31.8l-0 -.4M56.4 45l.7 .2M50.3 31.2l0 .3M4.5 40.1l.7 .8M23.1 20.6l0 .1M28.9 46.5l-.9 -.5M49.4 26.3l.3 .8M57 13.2l-.2 .1M62.1 7l.9 .4M13.8 33.9l-.5 .4M62.5 22l-.8 -.3M11.4 0l-.8 -.5M34 4l.5 .7M41.2 18.1l.6 -.6M58.3 38l.7 -.6M13.1 31.3l.3 .8M46.4 32.8l-.5 -.5M32.1 26.3l-.2 .2M64.7 7.6l.7 -.1M38 19l-.7 0M8.8 20.8l-.1 -.4M46.6 1l-.1 .2M35.4 11.6l-.2 .8M26.5 13.2l-.2 -.9M58.5 39.3l-.9 -.6M35.3 11l.9 -.1M49.3 12.7l.5 -0M29.4 46.7l.8 -.2M27.6 37.7l.3 -.1M26.9 8.2l-.7 .7M9.5 23.9l-.4 -.7M13.7 28l-.2 .4M32.9 41.4l-.8 -.4M59.1 17l0 .3M58.4 23.8l-.6 -.2M46.8 46.8l-.2 -.3M45.4 16.5l-.5 .4M22.5 33.9l.3 .3M37.7 2.8l-.8 -.4M16.9 38.1l-.1 -0M9.4 14.5l.4 .1M39.4 31.9l.8 -.8M37.4 12.3l-.3 .9M63.9 27.1l-.4 .2M55.9 4.7l-.5 -.7M61.8 29.3l-.7 -.3M30.9 41.7l-.5 -.9M17 35.2l-.3 -.1M51.8 15l.3 .7M20.3 38.6l.5 -0M13.1 4.6l.4 .6M1.4 11.3l.7 -.2M44.1 41.1l-.5 .2M17 32.2l.4 -.1M55.9 22.7l-.6 .3M55.6 17.9l-.2 .7M36.6 12.3l-.1 .2M64.3 1.5l.1 .8M53.6 44.8l-.3 .7M54.9 18.3l.8 -.6M10.5 9.4l-.9 .1M27.3 21.5l-.2 -.4M46 27.9l-.5 -.7M47.6 29l-.8 -.1M30.7 46.6l.8 -.7M29.1 10.9l.8 .6M8.1 41.5l.4 .5M50.6 34l-0 -.4M40.1 10.8l.8 -.3M59.4 43.3l.3 -.4M17.2 22.6l-.1 -0M29.4 27.8l-.6 -.7M18.8 41.4l-.4 -.6M1.7 30.1l.9 -.5M44.2 25.2l-.2 -.3M28.7 38.2l.6 -.8M41.4 43.9l-.7 -.6M38.8 7.1l-.9 .7M29.4 29.9l-.8 .7M10.6 30.4l-.8 -.6M22 36.4l-.6 .1M6.3 6.5l-.3 -.8M3.7 23.3l.7 -.7M16.5 40.3l-.5 .4M4.5 13.6l.1 -.4M30.9 .3l-.8 .9M14 9.1l0 -.3M15.7 47.4l-.2 .1M7.7 19.3l-0 -.3M3.7 16l-.7 -.8M54.8 15.9l-.9 -0M10.9 31.2l-0 -.8M3.8 21.2l-.5 -.1M34.9 18.7l-.1 -.9M40 15.1l-.8 -.8M9.3 34.7l.1 -.3M64 3.1l.5 -.1M60.5 23.2l-.5 .5M21.7 27.4l-.3 -.4M64.9 45.8l.6 .2M49.7 45l-.3 .6M34.6 36.2l-.4 -.7M32.7 31.7l.7 .1M13.9 40l-.6 -.3M37.5 40.9l.1 -0M21.1 5.5l.2 .3M30.2 18.7l.6 .4M59.7 30.3l-0 -.2M36.5 44l-.7 -.3M19.4 36.7l.6 -.8M23.2 32.8l-.8 .7M33.7 28.3l-.7 .6M6.7 32.7l-.8 .2M8.6 7.9l-.5 -.9M4.7 3.9l-.1 -.5" stroke="#6262d0" stroke-width="1.0" stroke-linecap="round" fill="none"/>
<path d="M8.4 39.5l-.4 .5M17.4 31.1l0 .2M14.4 42.5l.2 -.4M28.4 44.7l-.6 .3M3.1 43.3l.5 -.7M31.8 32.7l-.3 -.4M62.5 37l.7 -.6M53.3 4.4l.8 -.4M58.9 22.9l.2 .2M52.6 45.7l.7 .2M.2 .7l-.5 -.6M21.3 17.8l.3 .2M12.5 13.8l-.4 .2M61.7 39.8l-.1 -0M10.4 2.6l.3 -.1M31.7 12.4l0 .8M7.1 39.3l-.4 -.2M27.3 20.5l.2 .6M45.6 4.4l.2 .3M28 37.5l-.6 .1M20.1 26.9l.2 -.1M11.9 45.5l-.8 .7M22.2 41.1l-.8 .2M20.1 39.5l.5 .4M57.8 9.4l-.8 0M38.4 38.1l0 .5M23.4 30.8l-.8 .5M28.8 46.7l-.5 .6M48.5 8.1l.1 -.7M35 28.6l0 0M11.3 33.9l-.2 .6M27.5 24.8l-.2 .8M9.7 4.3l.2 -.1M25.5 46.3l.4 .2" stroke="#4646c0" stroke-width="1.5" stroke-linecap="round" fill="none"/>
</g>
<rect x="57.6" y="44" width="3" height=".7" fill="#e04060"/>
</svg>
<svg x="510.6" y="486.9" width="66" height="47.6" viewBox="0 0 66 47.6">
<rect width="66" height="47.6" fill="#dfdeea"/>
<g filter="url(#b5)">
<path d="M43.9 34.4h0M59.2 7.3h0M13.2 33.3h0M39.5 27.8h0M40.1 31.2h0M26.4 19.4h0M54.9 33.7h0M10.2 18.5h0M53.3 33.8h0M60.2 11.6h0M1.2 18.5h0M1 12h0M29.9 29.4h0M19.9 34.2h0M7.3 12.6h0M57 9.9h0M22 31.1h0M6.5 29.2h0M.8 12.4h0M32.8 8.7h0M3.4 16h0M17.8 10.5h0M39.1 9.9h0M37.7 30.3h0M59.8 19.7h0M7.5 21.1h0M41.1 28h0M8.4 2.7h0M64.4 19.7h0M16.7 5.1h0M8.9 45.9h0M49.4 45.7h0M44.8 9.7h0M55.4 17.3h0M.5 0h0M39 20.6h0M46.5 47.2h0M11.9 2.2h0M57.2 42.9h0M32.7 46.8h0M38.8 18.8h0M19.3 41.4h0M63.8 24.4h0M42.5 1.9h0M2.6 25.2h0M18 40.1h0M20.8 43.2h0M47.3 22.5h0M5.6 5h0M59.1 14.8h0M3.7 44h0M10.9 44.6h0M54.8 1.2h0M11.2 17.2h0M48.7 45.8h0M51.6 16.9h0M58.5 10.1h0M56.2 16.1h0M6.8 27.4h0M16.8 44h0M41.7 5h0M26.5 42.8h0M7.9 46.2h0M51.9 22.9h0M57 22.1h0M8.4 41.8h0M39 40.4h0M13.7 3.4h0M.1 36.6h0M44.4 35.9h0M15.7 16h0M39.8 46.3h0M54.4 27h0M23.4 25.7h0M39.1 9.8h0M16.5 38.5h0M58.8 17.8h0M40.3 19.2h0M30.6 9.6h0M45.4 6.8h0M56.3 42.4h0M55.6 5h0M5.1 14.6h0M17.1 1.7h0M28.6 39.5h0M33.5 5.9h0M5.6 22h0M39.3 42.6h0M21.3 12.5h0M28.6 37.3h0M62.9 33.6h0M42 44.5h0M20.3 9.1h0M18.5 8h0M24.5 25.4h0M31.1 8.4h0M11.7 28.5h0M15.3 42.1h0M13.9 25.6h0M47.8 23h0M64.7 44.1h0M2.3 46.3h0M.6 12.8h0M17.7 13.8h0M22.4 22h0M6.7 45.4h0M62.5 22.1h0M60.4 39.4h0M7.6 5.2h0M48.7 47.2h0M23.3 12.8h0M38.4 16.7h0M34 34.5h0M30.4 28.6h0M48.7 3h0M42.5 45.7h0M41.4 .3h0M8.4 47h0M49.6 47.5h0M64 12.2h0M32.3 13.9h0M49.1 25.1h0M52.4 28h0M49.1 15.4h0M48.5 21.4h0M63.2 35h0M30.7 23.9h0M43.1 3.3h0M14.6 27.7h0M57.5 21.4h0M50.5 26.2h0M2.5 7.3h0M7.9 34.3h0M.2 13.2h0M30.4 21.7h0M9.2 22.5h0M39.6 28.1h0M54.6 35h0M4.3 42.7h0M42.5 2.9h0M36.2 2.3h0M14.5 46.9h0M31 41.1h0M10.7 17.2h0M25 45.7h0M30.3 47.3h0M15.4 .9h0M34.9 17.6h0M20.1 25.2h0M18.1 7.7h0M2.6 14.8h0M61.7 43.1h0M44.3 33.6h0M31.8 32h0M24.7 45.6h0M58 21.3h0M59.1 16h0M56.3 7.8h0M17.5 4.7h0M32.9 15.8h0M24.2 10.9h0M53.7 35.9h0M25.2 31.1h0M.5 25.9h0M37.3 29.9h0M8.2 27.1h0M50.4 .1h0M48.2 13.9h0M49.5 16.1h0M24.6 12.4h0" stroke="#c6c4e0" stroke-width="1.1" stroke-linecap="round" fill="none"/>
<path d="M26 25.7h0M37 24.8h0M57.5 32.1h0M15 4.6h0M60.9 16.9h0M60 20.7h0M57.7 33.1h0M61.3 38.6h0M31.6 5.9h0M50.8 38.7h0M56.6 47.1h0M44.8 22.6h0M5.8 21.2h0M56.4 34.8h0M11.5 1h0M24.1 29.4h0M14.8 44.6h0M18 40.4h0M22 23.4h0M10.6 45.7h0M14.9 43.8h0M21.4 15.2h0M26.8 43.3h0M16.7 38.8h0M58.9 37.3h0M28.6 6.5h0M48.1 24.2h0M43.5 33.8h0M56.8 42.4h0M25.1 37.5h0M58.2 8.6h0M62.6 45.1h0M45.3 .8h0M54.5 42.7h0M12 33h0M54.7 45.4h0M41.8 .9h0M15.4 42.1h0M30.4 10.1h0M6.6 23.7h0M59.1 39.4h0M28.7 31.5h0M11.7 25.2h0M50.8 1.3h0M12.8 26.8h0M.6 27.7h0M11.6 25.4h0M27.4 34.6h0M36.4 13.1h0M35.9 44.2h0M3.7 39.2h0M44.6 20.9h0M5.9 9.9h0M41.1 46.9h0M.4 42h0M46.5 1.8h0M8.1 34.7h0M20.1 26.9h0M7.6 40.1h0M64.7 13.2h0M55.9 22.4h0M64.6 27.7h0M34.6 37.6h0M8.4 6.4h0M15 11.8h0M33.4 12.1h0M33.8 45.2h0M36.3 27.3h0M39.5 6.7h0M5.2 1.4h0M31.6 34.9h0M62.2 13.3h0M7.1 34.8h0M27.7 9.8h0M63.6 28.8h0M38.3 17.9h0M32.5 44.8h0M52.5 4.4h0M20.6 13.4h0M55.7 37.6h0M8.1 34.4h0M13.3 9.5h0M13 4.1h0M7.1 10.6h0M2.8 6.1h0M44.4 15.4h0M6 31.1h0M33 4.4h0M25.5 35.7h0M21.6 7.8h0" stroke="#ebeaf3" stroke-width="1.3" stroke-linecap="round" fill="none"/>
<path d="M12.9 3.6l-.5 .9M13.9 15.7l.4 -.8M15 16.5l-.1 .2M45.9 36.6l.7 -.7M22 37.8l0 .2M16.1 46.9l.8 -.9M12.7 7.8l.3 .2M44.2 3.7l-.9 0M59.1 33.3l-.5 0M65.7 13.8l.1 -.7M22.3 20.4l.4 .7M38.9 12.4l-.2 -.5M44.1 18.4l-.3 -.3M19.9 .8l.7 .5M31.9 9.1l-.8 -.7M29.1 42.3l-.4 0M11.2 41.3l-.7 -.7M4.2 32.8l-.4 -.6M40.1 47.3l-.7 -.4M7.9 36.9l-.2 -0M9.8 17.6l-.8 .2M5.4 44.1l-.1 .3M25.5 37.5l.2 .4M43.1 39l-.4 -.4M49.6 14.5l-.6 .2M52.5 24.1l.1 -.8M65.1 4.8l-.7 -.1M23.7 32l-.3 .6M47.8 5.8l.1 .8M35.3 1.4l-.6 .9M36.3 10.2l-.8 -.6M43.6 33.1l-.1 .1M4.8 14.2l-.6 .5M56.4 25l.8 -.9M29.4 14.3l.5 -.6M4.9 47l-.7 .6M16.2 25.2l.8 .6M46.1 46l.2 -.4M11.5 44.4l.4 .7M19.6 41.6l-.9 -.8M24.4 9.9l-.7 .6M10.4 14l-.4 -.2M3 34.9l-.3 .7M24.1 3.8l.9 .9M41.9 37.4l-.2 -.8M7 40.9l.4 -.2M43.3 46l-.2 .4M.4 33.9l.1 .5M44.6 15.6l.8 -.3M10.3 20.3l-.9 .8M39.1 34.6l.6 .9M2.6 43.6l-.5 -.7M59.5 5.1l.8 -.4M42.5 2l-.6 -.5M36.1 28.9l.9 .7M45 23.7l-.2 -.7M48.6 5.8l.8 0M52.7 46.5l-.2 -.5M15.3 11.6l-0 -.5M61.5 46l-.3 .8M17.4 44l.6 -.5M31.3 42.6l.5 0M53 11.8l.9 .5M11.6 20.6l.3 -.2M36.1 46.7l-.3 .4M16.1 32.7l-.3 .3M23.1 34.3l-.6 -.7M63.9 46.9l.1 -.7M48.1 1.7l-.4 .6M32.4 2.1l-.6 .8M25.4 16.9l.3 .5M44.3 47.1l-.3 -.3M36.5 39.7l.5 0M43.2 34.4l-.3 -.8M61.5 33.5l.7 .2M2.7 16l.8 0M50.1 24.4l-.2 .6M32.7 2l.2 -.8M23.2 32.7l.3 .6M10 47.3l-.1 .8M5.4 38l0 .5M63 31.6l-.2 .2M21.4 25.5l-.4 .5M10.5 22.7l.5 -.4M45.1 41.8l-.6 .3M7.1 23.9l-.5 -.2M14.2 8.4l-.7 -0M46.5 20.9l-0 .2M13.3 24.1l.4 .9M43.2 16.4l-.8 .7M22.1 20.2l-.4 .7M37.7 .1l-.9 -0M31.8 32l-.6 .2M54.8 17.2l.5 .5M60.7 42.2l.3 .5M16.3 43.7l.4 .1M32.9 31.4l-.9 -.6M16.2 36l.7 .2M12.1 2.6l.3 -.8M38.9 25.2l0 .3M31 22.1l-.4 -0M48.5 17.7l.8 -.2M.5 2.9l-.3 .4M53.6 4.5l.2 -.8M56.5 33.4l0 -.1M58.6 36.7l.3 .3M46 29.9l.9 .3M37.4 33.2l.4 -.4M6.1 43.7l-.6 -.2M8.1 38.5l.1 .8M57.1 8.6l-.3 .4M45.7 15l.8 .3M58.6 32.4l.3 .9M6.8 2.5l.4 .5M60 25.5l-.8 -.3M48.9 6.3l-.7 .9M55.3 15.9l-.9 -.6M12.9 31.4l.7 -.6M47.7 45.8l-.4 -.7M1 38.9l.3 -.2" stroke="#6262d0" stroke-width="1.0" stroke-linecap="round" fill="none"/>
<path d="M38.7 32.6l-.1 .3M35.2 47.1l.6 .6M32.2 18.8l.4 0M2.2 16.6l0 -.5M1.5 23.2l-.1 .3M62.4 6.7l-.2 -.2M42 7.3l-.1 .6M46.3 37.6l-.3 -.8M9.4 46.2l.8 .7M14.5 33.1l.4 .4M60.6 37.6l-.8 .7M34.2 45.9l-.4 -.3M41.6 16.7l-.2 -.3M45.5 13.9l-.6 .6M44.4 30.9l.2 .1M1.7 20.6l-.5 -0M45 23.7l.3 .2M47.3 39.8l-.5 -.5M37.7 19l0 -.2M28.4 23.6l.5 -.6" stroke="#4646c0" stroke-width="1.5" stroke-linecap="round" fill="none"/>
</g>
<rect x="57.8" y="44" width="3" height=".7" fill="#e04060"/>
</svg>
<svg x="375" y="535.9" width="66" height="48.1" viewBox="0 0 66 48.1">
<rect width="66" height="48.1" fill="#cdcde7"/>
<g filter="url(#b5)">
<path d="M47.7 8.5h0M3.2 8h0M.5 34.8h0M22 4.9h0M17.8 5.1h0M32.8 36.8h0M39.3 24.1h0M40.1 44.2h0M30.6 47.3h0M64.8 33.2h0M7.5 31.4h0M61.7 25.2h0M3.7 28.5h0M32.9 24.5h0M29.6 22.4h0M31.6 33.8h0M30.7 46.6h0M12.5 44.3h0M45.4 37.6h0M3.1 8.7h0M55 41.7h0M56.1 46.7h0M53.4 2.3h0M46 47.1h0M15.3 12.3h0M19.1 25.9h0M51.1 9h0M3.8 2.8h0M60.5 10.5h0M10.9 27.5h0M33.8 24.3h0M62.8 35.1h0M22.2 32.9h0M62 30.3h0M41.4 7h0M50.5 30.5h0M13 46.7h0M57 20.7h0M38.2 39h0M.1 1.4h0M22 18.8h0M6.7 6.7h0M50.5 41.6h0M28.8 9.5h0M52.2 33.8h0M41.3 20.4h0M63.8 12.7h0M39.7 35.9h0M57.7 37h0M22.9 12.8h0M16.5 45.9h0M13.3 42h0M21.7 3.6h0M12.8 33.2h0M0 19.1h0M46.5 2.6h0M32.8 1.5h0M61.1 29.8h0M32 2.3h0M40.2 12.6h0M32.5 43.7h0M42.3 10.2h0M55.1 2.5h0M17.6 19.8h0M33 18.7h0M54.7 19.5h0M46.9 36.4h0M3.4 2.4h0M47.2 17.8h0M22.6 20.4h0M38.5 24.6h0M22.9 7.6h0M18.2 12.4h0M42.3 22.5h0M38 8.4h0M31.5 29.8h0M29 15h0M22.1 22.1h0M60.3 6.8h0M24.4 39.7h0M17.5 35.9h0M29.7 1.8h0M56.5 12.5h0M50.8 38h0M31.1 25h0M12.8 7.8h0M26.5 32.4h0M3.9 29.5h0M29.4 28.8h0M54.7 35.1h0M26.5 3h0M43.6 5.7h0M35.1 47.3h0M45.8 18h0M61.8 24.4h0M63.7 10.1h0M51.1 17.7h0M14.1 26.2h0M38.3 41h0M5.9 37.8h0M20 43.3h0M64.2 36.7h0M13 43.4h0M17.6 28.9h0M65.7 .3h0M61.6 10.9h0M38.4 10.7h0M9.2 24.6h0M65.3 24.7h0M4.1 6h0M46.2 41.8h0M48 16.9h0M33.7 5h0M19.4 16.2h0M49.8 15.9h0M28.7 39.6h0M13.6 43.1h0M5.3 29.4h0M36.7 46h0M50.1 34.2h0M15.6 25.4h0M19.3 15h0M64.9 24.9h0M20.3 13.4h0M65.9 27.7h0M1.8 3.4h0M4 4.1h0M9.4 5.6h0M48.3 6h0M43.6 25.3h0M7.9 43.9h0M6.5 27.1h0M23.9 25.6h0M17.2 5.2h0M40.2 6.1h0M61.8 4.1h0M40.6 40.2h0M42.2 29.4h0M39.1 44h0M46.6 37h0M23.9 12.2h0M10.6 31.3h0M55.3 2.8h0M6.6 38.9h0M32.2 46.5h0M9.5 3.4h0M36.8 34.6h0M62.5 46.9h0M26.6 39.7h0M42.1 19.4h0M12 21.3h0M9.8 24.2h0M22.8 41.4h0M23.9 42.9h0M49.2 21h0M48 47h0M6.2 33.7h0M39.2 18.8h0M13.3 5.2h0M27.8 14.6h0M51.8 32h0M22.2 33.2h0M9.9 18.2h0M48 17.4h0M39.1 9.9h0M13.8 33.7h0M11.3 23.8h0M31.2 37.6h0M62.7 41h0M26.6 2.7h0" stroke="#c6c4e0" stroke-width="1.1" stroke-linecap="round" fill="none"/>
<path d="M59.3 13.4h0M18.5 39.7h0M26.5 34.4h0M59.6 26.9h0M43.3 28.9h0M41.6 41.9h0M6.4 22.2h0M52.6 12.4h0M4.5 30.1h0M13.3 42.4h0M63.9 41.1h0M11.2 10.4h0M6.7 22.4h0M10.6 36.8h0M60.9 24.9h0M6 22.8h0M65.4 34.4h0M21.4 20.6h0M40.1 15.7h0M23.8 11.1h0M26.3 44.2h0M6.4 38.7h0M21.4 .5h0M48.9 47.4h0M47.7 37.6h0M5.1 16.7h0M61 18.8h0M21.1 45h0M37.4 37.8h0M33.7 25.9h0M27.6 10.7h0M59.4 25.2h0M25.4 36.1h0M38 9h0M59.2 8.4h0M4.9 27.8h0M52.5 5.6h0M28.3 34.8h0M5.5 45.5h0M52.6 31.1h0M59.1 36.7h0M10.5 17.2h0M65.4 7.9h0M7.9 3h0M46.7 39.3h0M36.4 38.9h0M32 21.7h0M16 6.8h0M35 19.3h0M25.8 39.8h0M6.5 23.6h0M64.8 16.1h0M25.9 25.6h0M62.5 40.2h0M54.6 16.7h0M1.4 44.9h0M26.3 16.8h0M53.5 45.7h0M24.1 37.4h0M10.4 33.3h0M64.3 43.1h0M17.8 34.8h0M51 1.9h0M47.5 46.4h0M54.9 33.6h0M4.3 18.9h0M48.6 27.7h0M57.1 46.2h0M64.2 39h0M58.2 6.9h0M42.4 20h0M52.3 13h0M36.4 42h0M12.5 46.7h0M33.4 30.1h0M14.6 3.7h0M41 23.9h0M36.1 28.8h0M2.7 28.2h0M19.3 11.5h0M13.3 13h0M23 30.9h0M21.6 8.4h0M9.6 10.2h0M38 19.7h0M41.5 23.6h0M21.6 25.1h0M59.5 14.4h0M59.8 18.8h0M50.5 24.1h0" stroke="#ebeaf3" stroke-width="1.3" stroke-linecap="round" fill="none"/>
<path d="M36.5 18.5l-.3 -.2M23.7 5l-.6 .8M7.8 10.2l-0 .8M47.3 10.3l-.2 -0M40.6 25.7l.1 -.2M50.7 25.1l.1 -.5M44.9 11.5l.1 0M44.1 7.2l-.9 -.8M34.3 30.9l-.2 .6M2.4 34.4l.4 -.6M53.7 39l.7 .9M48 28.8l-.4 -.1M54.8 32.7l-.5 -.8M3.2 40.3l-.5 -.7M14.6 13.2l-.5 -.5M27.1 17.9l-.3 -.4M13.1 39.3l-.6 -.5M16.7 39.4l.4 .5M10.1 28.9l-.5 -.3M30.4 4.3l.1 -.9M6.9 12.8l-.1 .3M47.1 13.1l-.2 .6M23.9 34.3l-.9 .5M35.5 1.5l0 .7M11.4 34.4l-.6 .4M15.1 .5l-.7 .7M6.3 18.1l.7 .7M37.5 28.6l-.2 .2M51.1 36.7l-.7 .3M38.7 36.5l-.1 .8M11.1 34.9l-.4 .3M47 45l-0 -.2M.3 43.2l-.1 -.9M4.6 5.3l.3 .7M38.9 24.8l.9 .2M28.7 36.5l-.4 .7M63.2 7.9l.7 .2M22.5 3.3l.5 -.4M58.2 6.8l-.1 .8M65.8 30.9l.6 -.7M55.6 .9l.6 -.1M44 24.8l.8 .9M62.4 10.1l.2 -.6M.2 27.1l.3 -.2M64.7 48l.1 .2M20.5 15.3l.1 -.4M61 32.3l-.7 .4M36.6 28.1l.8 -.6M50.6 1.6l-.5 .4M22.6 47.3l.5 -.4M33.7 8.3l.1 .4M18.2 46.8l-.4 .3M43.2 7.4l-.7 -.5M65.1 15.8l0 .7M45.7 9.8l.7 -.1M54.3 3.9l-.2 .7M26.5 43l.2 -.2M19.9 25.4l.1 .1M48.7 21.6l-.7 .8M2.4 20l.9 -.5M1.4 16.4l.5 -.2M42.8 18.6l-0 -0M8.9 13l.8 -.4M22.9 41l-.6 .5M40 2l.3 -.3M2.7 39l.3 .8M3.2 8.6l-.5 .2M52.4 30.8l-.6 .7M23.2 31l.8 -.7M52.8 23.6l.2 0M23.1 23.2l-.7 -.8M43.1 5.6l-.5 -.9M4 21.2l-.5 -.7M48.3 26.8l-0 -.9M32.4 36.2l0 -.8M65.9 40.8l.2 .9M21.6 7.9l-.9 0M11.2 3.4l-.8 -.7M20 11.9l.6 .6M52.6 7.2l-.7 .2M48.7 47l-.1 .6M40.6 39.8l-.9 .5M62.8 .7l-.2 .4M25.6 2.5l-.2 -.8M5 24.7l.1 .2M14.3 47.5l.2 .5M55.9 5l.9 -0M12.7 27.8l-.6 .8M61.1 3l.1 -.5M34.3 29.8l-.4 .6M6.2 43.5l-.4 -.6M49.9 19.6l.4 .1M14.6 30.8l-.1 -.6M40.3 29.4l-.1 -.1M58 14.8l.3 -.1M.7 13.3l-.1 .1M31.9 17.5l-.6 -.8M29.2 35l.5 .2M62.5 18l-.9 .5M65.6 1.2l.1 .4M59.5 45.2l0 .5M14.4 39.2l.4 0M47.2 8.6l-.2 .2M59.7 18.2l-.1 .8M3.7 12.6l-.2 -.6M46 39.6l.5 .8M.2 45.1l.3 0M34.3 38.7l-.3 -.2M34.8 9l.8 .4M34 39.5l.2 .8M48.1 17.3l0 .1M33.9 43l-.7 .4M30.9 44.6l.1 -.6M6.5 17.9l-.2 .1M28.6 47.2l-.3 .5M20.6 1.3l-.7 -.8M15.8 22.5l.3 .3M12.8 16.7l-.4 .5M3.9 21.1l.6 -.2M5.3 41.2l-.6 .5M24.4 40.1l.5 -.7M4.8 3.2l-.4 -.3M63 23.3l-.4 .2M41.4 5.4l-.4 -.2M42.9 .3l.1 -.5M36 41l-.2 .3M52.8 40.2l.6 .5M47.3 3.3l.5 -.3M54.8 25.7l-.5 .8M41.8 38.1l-.6 .8M10.9 17.4l.8 .8M24.1 37l.8 -.5M42.5 43.5l-.6 .3M38 21.9l.8 .4M47.4 46.6l-.5 -.9M2.4 21.1l-.8 .9M38.2 22.4l-.8 -.6M27.7 44.1l-0 .1M51 38.9l-.3 .8M29.1 46l0 -.8M23.4 16.5l-.7 .2M24 36.8l.3 -0M36.5 16l.3 .5M54.4 .9l.8 .1M44.2 40.3l-.6 0M64.5 45.7l.1 .9M64.7 6.8l.1 .6M62.2 33l-.8 -.4M23 .6l-.4 .5M1.6 31.6l.7 .1M31 3.2l-.2 -.2M49.7 20.2l.3 .5M50.6 37.1l-.3 -.9M52.9 2.5l-.3 .4M34.8 2.9l.9 .7M2.2 38.5l.4 .3M14.6 11.2l.7 0M30.2 7.3l.6 -.7M43.1 21.1l.4 .9M55.5 24.8l-0 .9M40.8 16.3l.2 -.2M30.6 24.2l.2 .1M43.9 47.3l.7 .5M2.7 11l-.3 -.7M11.1 21.7l.3 -.9M13.5 4.2l-.8 -.2M56.5 28.8l-.5 .1M9.9 7.2l.2 -.7M53.6 45.5l.4 .3M60.2 26.2l.5 -.8M21.8 19.4l-.9 .4M15.9 31.2l.5 -.1M4.7 17.4l.9 .1M9.9 .6l-.6 .1M15 34.4l.3 -.4M40.8 6.8l-.6 .1M35.4 12.1l-.4 -.6M30.9 7.3l0 -.7M53.4 15.5l.8 -.8M39 37.2l-.8 -.7M2.5 8.6l.3 -.7M30.5 25.5l.5 .1M45.5 34.8l.3 .8M13.7 38.9l-.6 .6M8.8 18.1l.9 .5M20 9.9l-.3 .1M33.8 12.4l-.3 -.2M3.4 20.7l.4 .6M49.9 14.6l-.8 -.8M31.1 12.4l.9 .3M49.2 40.8l-.8 .9M61.2 19.2l-.3 .7M16.3 27l0 -.5M55.2 25.7l-.9 .6M49.3 25.2l-0 -.7M9.7 44l.3 .4M21.6 36.1l-.8 .1M10.8 31.1l-.7 .4M63.6 29.3l.4 .1M9.6 5l0 .3M20 11.5l-.3 .4M40.1 15.8l-.2 .3M31 16.9l-.3 -.8M17.9 30.6l.5 .3M33.7 11.9l.1 -0M32.6 8.4l.3 -.1M18.6 23.9l-.2 .6M10 30.4l-.8 .5M27.9 11.3l-.3 .5M57.9 39.7l.1 .9M45 33.5l.2 .5M34.8 37.7l-.7 -.8M45.9 18l-.6 -.5M10.6 32.3l.6 .3M22.6 34.2l-.7 -.2M16.2 34.6l-0 -.5M1.4 34l.1 -.8M8.8 30.9l-.8 -.6M33.5 7.8l.6 .9M15.6 37.1l0 -.6M43.4 36.9l-.7 -.3M32.1 27.5l-.8 -.9M40.9 44.8l.4 -.3M41.7 .5l-.3 .5M10.7 41.5l-.5 -.1M39.3 3.8l-.4 .7M7.4 46.8l-.1 .7M20.1 28.8l.3 .8M15.2 1.9l.9 .7M30.8 20.5l.6 .1M28.3 5.5l.3 -.2M.4 25.9l.3 .5M1.8 30.3l.5 .5M42.1 10.6l-.7 -.3M32.6 46.9l.3 .2M12.8 13.3l.7 .3M25.6 17.2l-.5 .4M29.9 11.6l.8 .4M42.1 25.9l.2 -.6M2.6 35.6l-.9 .1M62.3 44.6l-.1 .5M65.7 28.6l-.3 .8M38.7 22.2l.1 .7M50.2 8.1l-.1 .7M27.5 12.8l.8 .7M18.9 8.7l0 .5M22.3 45.9l-.5 .3M60.6 10l.5 .8M59.7 9.1l-.6 -.2M19.5 24.6l.3 -.4M52.5 5.9l-.8 .5M39 2.3l.8 -.2M38.3 27l-.8 -.7M3.3 26.5l.6 .8M21.3 37.4l.8 .6M9.6 30l.1 0M15.6 10.7l.4 .4M39.8 34.1l.2 .3M11.1 41.6l.6 .1M26 14.2l-.4 .7M29.6 6.8l-.8 -.1M58.4 34.9l0 .2M18.6 5.5l.3 -.4M64.1 43.3l.1 .5M38.2 15.9l-.7 .8M49 39.7l.9 -.1M30.5 41.4l-.4 .2M25.2 4.1l.5 -.6M58.5 41.1l-.3 -.4M38.4 5.6l.1 .8M18.8 13.3l-.2 -.1M9.1 23.9l-.1 .8M4.7 35.7l-.2 .7M50.4 39l-.5 .5M38.9 23l-.8 .2M60.8 15.2l.3 -.5M32.8 37.6l.7 -.2M2 28.3l-.8 -.6M17.8 4.7l.6 -.4M59.1 15.2l.3 .3M51.8 28.2l-.6 -.4M58 37.3l.3 .8M49.6 17.7l-.6 .8M53.2 41.1l-.2 -.3M16.7 6.5l.7 -.5M29.8 41.9l-0 -.8M41.3 15.5l-.8 -.9M13.6 22.2l.8 .1M36 46.7l.3 -.3M34 11l-0 -.5M35.5 38.1l-.9 .3M18.5 40l-.2 -.7M50.8 35.5l.2 -.3M2.9 5.9l-.2 .6M55 35.6l-.7 .9M.8 4.1l.8 -0M34 21.2l.7 .1M63.2 19.7l0 .7M24.6 36.1l-.6 -.2M25.3 29.4l.3 -.1M52.9 33.6l.5 .9M22.9 31l-.5 .5M10.6 33l.9 .8M11.7 42.7l-.1 -.8M44.6 13l.4 -.1M50.9 45.2l.4 -.4M34.4 7.4l-.3 -.8M4.7 22.2l.7 .2M44.6 34.7l-.8 -.5M49.1 30.4l-.9 -.1M57.8 22.9l.8 -.7M21.6 31.7l-.5 .6M36.6 41.7l-.2 .1M60.7 .6l0 .1M16.2 44.7l.1 .5M1.9 29.9l.9 .7M2.3 18l-.4 -.5M51.1 32l-.5 -.5M23.5 35l-0 .9M5.8 17.4l-.6 .3M27.7 32.5l-.3 .2M48.4 36.1l-.8 0M47.4 29.6l.4 -.2M23 36.5l.1 -.4M15.3 14.5l.5 .8M62.3 12.5l.7 .2M37.6 17.5l-.5 -.5M8.3 18.2l-.8 .4M47.5 1.9l-.7 .6M54.6 14.1l-.3 -.3M28.1 5.2l-.8 -.1M10.8 30.2l-0 .4M33.3 37.2l.4 .5M49.6 13.4l-.8 .5M51.6 33.7l-.5 -0M3.8 30.4l-.3 0M8.1 8.6l-.9 -.9M35.3 23l-.9 .5M38.7 20.9l.2 .1M36.6 47.4l-.3 .4M.2 15.9l.7 .2M10.4 1.2l-.6 -.3M60.1 38.4l.6 .8M42.1 41.5l-.1 -.6M.5 14.2l-.4 .3M26.8 .9l-.8 -.1M2.3 44.9l-.4 -.2M13.4 30.8l.8 .2M5.2 33.1l-.7 .1M31.6 12.5l-.8 -.4M4.5 2.9l-.1 -0M37.8 4l.8 -.4M8.1 17.2l.8 -.9M46.7 43.3l0 -.7M32.8 29.9l.5 -.5M11.5 14.8l.8 -.3M18.4 1.3l.1 0M8.3 36l-.8 -.4M6.1 20.2l0 -.8M62.2 29l-.8 .8M24.7 4.1l-.1 .7M58.8 29.5l.1 .9M22 13.8l.2 -.2M9.1 20l.9 -.4M48 5.3l.7 -.1M61 17.2l-.7 -.9M12.6 29.8l-.6 .4M28.7 30.7l-.8 -.5M50.5 4.2l-.1 0M36.5 43.4l-.8 -.7M6 6.7l.5 .5M27.8 27l-.4 -.4M52 8.6l.1 -.2M4.4 12.7l-.8 -.3M.8 1.2l.2 -.2M35.5 42l-.8 -.7M17.9 5l-.6 -.5M47.4 41.5l-.1 .4M19 3.2l-.3 -.5M36.7 16.8l0 -.7M51 14.2l-0 -.1M54.7 8.6l.2 .7M7 40.9l-.4 -.1M37.8 4.2l.6 -.8M13.1 26l.1 -.7M10.7 12.3l.5 .1M15.4 26l-.3 -.3M33.9 8.6l-.2 -.3M27.3 17.3l-.7 -.6M19.5 8.1l.7 -.3M52.6 12.5l.8 .2M17.7 10l-.2 -.9M61.3 24.2l.2 -.6M22.2 7.2l-.4 .3M3.6 28.9l.4 -0M32.7 43.9l.7 .4M30.8 38.4l.3 -.8M46.9 17.2l.7 .4M44.1 5.8l.7 .2M41.5 12.8l-.4 .6M1.6 27.2l-.4 .2M53 35l.3 .6M14.4 28.2l-.3 -.2M.1 .3l-.2 .2M40.8 45l-.8 -.1M14.9 3.7l-.8 -.8M32.7 12.6l.7 .1M9.2 3.3l-.7 -.4M57.2 11.2l-.6 -.3M41.5 23.6l.1 .1M8 2.7l.4 -.6M32.5 28.1l-.2 .1M17.7 33.1l.5 .9M10.2 44.1l0 .4M36.9 30.6l.1 .3M.4 19.8l-.1 -.7M20.7 11.1l.6 -.6M35.2 17.7l.6 -.2M50.5 19.1l-.8 .5M30.5 34.9l-.7 .9M63.5 9.4l.7 -.2M33.6 8.4l-.1 -.6M42.8 26.6l-.8 .3M16.6 15.8l.5 -.3M23.6 45l.4 -.4M49.9 39.2l-.7 -.1M12.2 33.7l.5 .1M40.9 34.9l.7 .3M1.5 4.3l.8 -.6M4.7 34.6l-.1 -.3M9.3 45l.4 -.3M8 28.9l.3 -.4M15 13.3l-.2 0M28.9 33.4l-0 .5M42 39.8l-.3 -.7M46.1 21.4l.9 .8M10.7 6l-.3 .6M3.3 27.1l.7 -.1M35.9 36.3l-.7 .6M24.4 35.6l-.4 .7M62.7 32.8l-0 .8M34.8 12.2l.3 .7M39.3 14l.7 .8M.5 42.6l-0 -.1M42.1 47.4l-.4 .4M33.7 42.6l-.8 -.8M51.2 1.9l-.2 -.3M60.8 28l.3 .3M15.7 41.8l.8 .7M28.4 4.2l0 .8M28.2 3.8l.4 -.8M46.8 30l.7 -0M31.7 45.2l.5 -0M14.3 16.6l.3 -.8M37.9 42.4l-.4 -.6M23.4 18.1l-.8 .3M8.7 27l.3 .5M8.1 13.5l-.1 -.7M59.2 45.8l-.5 -.3M40 46.3l.4 -.5M43.1 7.9l0 -.1M24.2 35.4l.4 -0M35.5 29.1l.1 -.2M0 9.6l-.4 .5M10.6 13.7l-0 -.6M6.4 22.1l-.6 .2M31 9.3l-.7 -.8M38.4 17.3l-.3 -0M48.8 32.2l-.7 .9M5.3 27.7l.8 .9M26.1 28.7l-.3 -.6M47.2 .9l.4 .7M54.2 18.5l-.8 .8M30.6 3.1l.9 -.1M23.2 44.4l-.3 -.6M56.3 26.6l-.8 .9M8.2 32.6l.5 .3M16.1 26.4l.8 .5M30.7 33.8l.6 -.3M56.9 4l-.6 .3M48.5 8.4l.5 .1M17.1 7.6l.5 .5M23.8 9.6l-.7 .3M35.8 47.5l.6 .4M24 41.5l.2 -.4M36.6 31.1l-.4 .8M10.9 7.3l.8 -.6M10.6 37.1l.8 -.8M58.3 12.9l.8 .3M39.5 46l-.5 -.3M58.3 9.7l.1 -.3M36.1 15.2l.8 .2M23.6 30l-.1 -.2M53.8 5.9l-.1 .2M46.7 40.9l-.8 -.6M44.4 34.4l-.4 -0M60 39.8l-.3 .2M52.6 21.8l-.3 .8M18.8 13.1l-.2 .1M53 45.2l-.1 -.3M27.6 5.3l.9 -.2M65.8 31.9l.1 -.4M15.3 19.7l-0 .7M29.6 4.9l.1 -.8M35.9 27.5l.1 0M61.4 2.3l-.8 -.3M17.2 41.5l-.5 .4M1.9 46.9l-.1 .6M18.9 35.9l-.9 .1M12.3 28.7l-.7 .3M19.3 5.6l-.2 -.8M50.1 14.1l-.5 -.5M13.9 37.6l-.2 -.1M26 44.7l0 -.6M58.2 13.6l-.5 .4M18.3 45.5l-.4 -.6M31.2 23.5l-.5 -.9M45 40.5l-.4 .3M54.1 29.8l.4 .2M31.1 41.7l.2 .1M6.8 24.4l.4 -.3M32.7 11.8l.5 .8M39.6 45.5l-.2 .5M14.6 14.3l-.7 .1M64.3 32.1l.8 .3M14.7 26.5l-0 -.5M.6 24.1l.8 .5M9.7 9.8l.6 0M35.3 8.6l.5 .5M37.7 5.9l-.7 -.5M38 40l-.4 -.4M53.3 41.1l.7 .3M29.3 24.6l-.3 0M4.8 15.2l-.6 .3M41.9 9.3l.3 -0M56.5 39.3l.1 -.5M63.2 8.3l-.4 -.6M10.4 21.1l-.1 .5M59.4 25.3l.3 .3M53.9 46.8l-.5 .5" stroke="#6262d0" stroke-width="1.0" stroke-linecap="round" fill="none"/>
<path d="M60.7 4.3l.8 .5M3.6 4.5l.8 -.3M39.8 41l-.6 .3M60.7 33.8l.2 -.3M39.7 21.3l-.6 -.4M3.8 12.2l-.2 -.1M45.4 19.1l.6 .5M48.8 25.9l.4 .4M6.5 37.8l-.5 -.2M36.7 31.2l0 .5M15.8 19.5l0 -.8M4.6 31.9l.5 .7M10.1 40.2l-0 -.1M57.7 30.2l.6 -.4M41.8 18.8l.5 0M60 39.2l.6 .2M18.2 27.9l-.7 .7M37.7 42.7l-.7 -.5M49 31.4l.7 .2M42.6 5l.8 -.3M49.9 6.5l-.5 -.3M46 4.8l.7 -.4M24.3 23.9l-.4 -.1M2.2 2.7l.1 .8M29 41.1l-.2 -.5M8.8 17l.4 -.7M24.2 24.4l.2 .2M56.9 18.9l.3 .3M11.7 45.6l-.7 -.3M49.5 33.9l.7 .6M44.7 25.8l.5 .7M17.8 39.3l-.4 -.3M9.3 7.7l.8 .1M44.3 18.2l-.6 -.6M25.9 21.5l-.8 -.5M63.6 7.1l-.6 .8M60.3 35.6l.7 .3M62.8 5l.3 -0M28.8 47.2l-.3 .3M46.2 22.6l.5 -.7M59.1 19.1l-.8 -.1M49.5 31l.7 .5M27.2 .2l-.4 -.3M25.3 34.6l.6 -.2M48.8 8.3l.2 -.6M4.4 35.4l.3 .2M34.2 10.9l-.2 -.5M35.9 34.2l-.8 -.5M57.2 35.2l.6 .2M15.6 16l-.5 .2M31.6 26.6l-.3 .6M56.5 19.4l-.6 .6M26.7 27.4l.4 .5M33.4 1l-.7 .6M16.9 32.5l.4 -.5M27.4 2.9l-.6 .6M25.5 16.4l-.7 .2M6.5 45.7l.4 0M13.5 13.9l-.8 -.5M25.6 15.1l.3 -.7M62.1 38.8l.3 -.4M53.3 21.7l-0 -.5M49.6 38l-.8 .3M17.6 44.1l-.2 -0M27.9 46.3l.5 -.5M28 38.9l.2 -.3M20.6 17.4l-.6 -.4M38.9 42.2l-.5 -.3M12.5 41.4l.2 -.3M28.6 24.6l-.3 .6M62.8 18.3l-.6 -.2M21.4 41l.3 .6M45.2 .3l-.5 -.2M21.4 13.2l.8 .8M29.7 9.4l.8 .8M22.9 28.8l.7 .1M13.5 7.2l.5 -.3M6.3 37.8l.4 .2M39.2 10.9l.5 -.3M42.1 11.6l-.6 .1M47.6 47.9l.3 -.7M63.8 28.1l-0 -.4M29.3 21.4l.6 .1M1.6 37.6l-.6 -0M32.2 37.4l-.6 .6M23.4 23.4l.4 .6M65.1 1.3l-.5 -.1M10.8 6.8l.6 -.3M56.2 47.5l.7 .3M64.7 31.7l-.2 -.1M28.4 4.7l-.1 0M51.5 8.7l-.3 .6M46.6 5.3l.2 .6M24.1 8.7l.2 -.8M24.1 37.1l-0 -.7M22.3 40l0 -.5M63.4 45.9l-.8 -.2M28.2 32.2l-.2 -.5M34.8 15.9l.3 -.2M58.9 44.8l-.4 -.5M35.6 34.8l.1 -0M12 39.3l-.1 -.6M28.3 35.3l.4 .2M58.4 46.9l-.5 .3M39.2 25.2l.6 .2M21.1 16.1l.7 -.5M65.3 2.6l.5 .3M44.9 36.6l.5 -.6M38.5 .9l-.6 -.4M58.7 15.4l.7 -.1M53.8 25.9l.6 -.1M51.9 13.6l-.6 .2M37.3 4.9l-.6 -.1M55.9 10.8l.2 .8M64.2 34l-.6 -.4M51.7 43.8l-.2 .3M63.9 47.2l.1 .4M42.7 21.2l-.2 .3M28.9 .7l.7 .2M34 3.8l-.6 .1M36 4.3l.3 -.7M20 3.9l-.7 -.8M26.8 5.7l-.1 .3M3.8 28.6l-0 .3M7.2 26.5l.7 .4M52 7.1l0 -0M18.1 27.9l.2 -.6M39.2 15.7l-.4 -.3M49.2 39.2l.6 -.2M10.4 .6l0 .7M47.6 2.6l-.6 0M17 20.3l-.8 .3M34.7 1.7l-0 .1M34.9 36l-.4 -0M30.3 38.8l.1 -.6M61.2 24.7l.5 -.6M51.1 16.7l-.5 -.7M49.6 15.1l.6 -.3M17.1 11.1l-.6 -.6M59 31.5l.5 -.4M18 2.5l-0 0M12.8 33.3l.3 -.4M27.5 22.6l-.1 .3M9.9 18.3l.6 .5M25.9 38.5l0 -.2M14.1 7.6l-.3 -0M28 37.9l-.7 .6M63 38.2l.7 -.5M35.9 40.2l-.3 -.5M12.9 .5l-.5 -.8M50.1 33.3l-.4 -.7M29.4 42.7l.6 -.2M42.8 1.7l.6 .1M37.4 39.4l.5 -0M.9 5.1l.3 -.8M32.6 25.4l-.2 .7M18.6 14.2l-.1 -.2M23.7 4.7l-.4 -.5M64.9 17.6l-.6 .1M29.2 31.5l.7 .1M8.3 4.4l-0 -.7M44.4 19.5l.1 .5M15.7 46.9l.5 -.4M34.2 25.9l-.5 .2M25.8 5.6l.8 .6M8.1 44.3l.2 -.6M25.5 29.1l.6 -.3M22.1 28.3l-.7 -.5M65.5 43.7l.1 .3M46.4 26l.4 .8M30.1 38l.1 -.4M24.7 46.2l-.5 -.6M56.9 8.2l-.4 -.1M39.1 25.1l-.5 .2M20.6 24.6l.6 .7M50.9 39.5l-.1 .1M57.4 26.2l.5 .5M30.2 11.8l-.1 .4M34.8 9.8l.8 -.2M2.8 4.9l.1 -.2M55.5 46.1l.1 .6M5 22l.6 .5M38.5 16.1l-.2 -.3M2.3 44l-0 .3M.8 38.3l-.7 .3M39.3 24.7l.4 .1M62 21.9l-.1 -.5M9.6 42.8l.6 .4M64.8 35.9l.8 -.4M32.3 8.2l-.3 .8M7 23.6l.4 -.2M12.4 16.7l.4 -.2M8.6 1.6l-.3 .6M40.5 10.6l-.1 -.3M61.2 19.6l.1 0M33.5 40.2l.7 .1M53.1 17.3l-.8 -.1M51.4 11.6l.5 -.2M4.8 17.9l-.6 -.4M1.1 24.8l-.2 .6M47.3 43l.6 -.8M3.1 28.3l-.5 -.4M11 28.9l-.1 -0M57.1 42.5l-.6 .7M10.8 2.8l-.4 .1M15.3 8l.6 -.2M7.8 20.3l-.3 -.5M65.7 38.3l.2 -.3M42.2 1.1l.7 -.1M29.2 15.2l.4 .5M3.9 19l-.4 .6M38.3 12l.5 -.1M48.6 3.8l-.4 -.7M37.4 16.2l-.3 -.1M9 37l.4 -.7M18.6 35.2l.3 -.7M26.3 14.4l.2 -.4M60.6 11.4l-.7 -.7M1.5 16.6l.5 .7M59.3 9.3l-.2 .1" stroke="#4646c0" stroke-width="1.5" stroke-linecap="round" fill="none"/>
</g>
<rect x="57.8" y="44.5" width="3" height=".7" fill="#e04060"/>
</svg>
<svg x="442.8" y="535.9" width="65.8" height="48.1" viewBox="0 0 65.8 48.1">
<rect width="65.8" height="48.1" fill="#dbdbe9"/>
<g filter="url(#b5)">
<path d="M39.2 21.1h0M48.2 44.8h0M20.4 8.1h0M59.1 27h0M33.2 45.9h0M23.8 40.7h0M58.3 30.9h0M.4 38.3h0M6.2 14.8h0M53.4 28h0M39.9 41h0M9.3 3.1h0M38.4 41.3h0M51.7 19.2h0M10.2 32.4h0M2.6 26.3h0M8.4 18.4h0M47.5 47.2h0M8.9 35.7h0M12.2 32.4h0M60.7 19.8h0M40.3 22.4h0M1.9 20h0M34.1 17.9h0M6.3 32.6h0M63.2 41.2h0M17.5 23.7h0M47.1 4.6h0M62.3 10.2h0M56.2 44.9h0M33.5 17.1h0M13.1 45.5h0M38.7 39.7h0M10.1 1.4h0M43.7 37.8h0M41.1 2.1h0M51.9 1.8h0M33 43.1h0M39.1 10.5h0M57.4 23.7h0M41.3 4h0M10.3 6.9h0M36.1 33h0M16 12.8h0M64.8 27.4h0M25.6 39h0M58.2 31h0M29.8 19.2h0M16.5 41.6h0M10.1 36.1h0M22.2 18.8h0M15.1 12.3h0M20.9 19.9h0M18.7 4.9h0M34.8 22.1h0M3.8 40.5h0M60.3 38.8h0M12 43.9h0M17.6 28.5h0M14.8 14.2h0M13.8 46.1h0M46.1 44.7h0M24.9 3.8h0M36 29.5h0M57.2 19.4h0M50.5 4.6h0M6.4 14.4h0M50.6 20.4h0M9.6 40.6h0M63.3 27.9h0M39.8 22.2h0M42.2 30.8h0M.2 40.4h0M26.9 41.2h0M49.7 15.3h0M24.7 19.6h0M51 2.8h0M8.5 39.1h0M9.2 46.4h0M38.8 41.4h0M1.4 43.9h0M22.9 38.1h0M36.8 18.6h0M15.8 33.4h0M8.7 28.1h0M29.2 22h0M50.1 .2h0M24.7 24.1h0M18.5 32.4h0M33.8 36.6h0M61.8 14.3h0M51 32.7h0M8.4 12.3h0M2.9 33h0M51.5 20h0M40.4 2.6h0M46.5 3.2h0M43.2 45.8h0M53.1 27.4h0M42.7 9h0M54.1 25.4h0M55.5 40h0M44.4 19.7h0M31 46.7h0M3.3 7.1h0M59 29.2h0M51 35.2h0M62.7 39.2h0M54.5 19.7h0M14 41.6h0M19.4 5.7h0M17.7 45h0M35.5 20.3h0M58.1 41.8h0M26.7 24.3h0M22.1 27.7h0M5.1 10.9h0M21.6 40.9h0M47.6 23.9h0M26.9 37.3h0M27.7 30.5h0M63.4 38.2h0M37.7 34.7h0M46.6 17h0M3.8 31.2h0M61.9 34.5h0M15.5 9.9h0M35.4 17.2h0M21.7 47h0M21.9 28.7h0M2.1 36.7h0M62.6 4.2h0M5.3 3.4h0M37 33.1h0M45.5 9.8h0M51.1 33.5h0M34.3 28.6h0M32.5 38.9h0M.5 16.5h0M14.5 43.4h0M8.4 20.1h0M47 29.6h0M11.9 2.5h0M29.1 24.6h0M60.5 6.3h0M51.7 39.1h0M5.8 16.6h0M28.6 25.8h0M48.2 43h0M63.4 27h0M10.5 29.9h0M63 26.2h0M24.4 2.5h0M8.6 9.3h0M21.4 16.9h0M35.9 27.3h0M20.4 22.8h0M29.4 15.1h0M10.4 3.5h0M51.8 29.1h0M61.9 22.1h0M57.5 8.4h0M32.1 21.1h0M23.7 2.6h0M46.9 1.2h0M57 3.8h0M57.3 26.8h0M35.1 47.7h0M22 10.9h0M9.3 30.8h0" stroke="#c6c4e0" stroke-width="1.1" stroke-linecap="round" fill="none"/>
<path d="M9.3 27.2h0M34.5 11h0M4.5 31.2h0M35.4 5.2h0M46.8 6h0M29.8 40.8h0M63.2 43.8h0M45.2 47.7h0M9.7 13.6h0M40.5 9.5h0M1.2 10.8h0M35.5 37.6h0M9.1 28.3h0M49.3 47.2h0M52.5 .6h0M46.9 12.3h0M61.4 9.1h0M49.3 33.5h0M24.9 18.9h0M17.6 10.5h0M10.4 18.2h0M7.6 29h0M60.7 18.3h0M20.1 .4h0M42.9 18.3h0M9.5 19.1h0M35.9 32.4h0M18.6 28.7h0M61.3 38.5h0M8.2 12.6h0M42 39h0M16.1 1.3h0M37.8 36.2h0M23.3 47.4h0M33.8 10.2h0M43.3 15.8h0M18.5 22.5h0M54.6 30.8h0M52.8 33.1h0M16.8 11.3h0M15.1 30.1h0M26 25h0M16.4 36.4h0M63.1 7.3h0M20.2 6.7h0M33.1 27.9h0M35.6 43h0M45.1 2.9h0M19.9 41.5h0M25.9 26.5h0M39.3 .7h0M8.7 19.1h0M35.1 3h0M54.4 14.1h0M40.2 30.7h0M58.9 44h0M13.5 27.8h0M64.1 18.1h0M50.4 30.4h0M63.4 22.4h0M17.4 45.8h0M6.9 41.3h0M64.7 16h0M23.3 32.7h0M41.2 36h0M33.8 20.9h0M52.4 45.4h0M19.3 19.5h0M52.9 0h0M26.1 2h0M12.7 32.9h0M54.3 19.6h0M59.9 24.2h0M52.1 33h0M22.1 47.9h0M58.4 27.6h0M54.1 29.9h0M21.1 40.2h0M19.1 27.9h0M59.8 34.9h0M45.6 38.7h0M21.6 32.9h0M51.6 38.5h0M56.3 43.4h0M55.3 21.7h0M51.4 14.1h0M30.4 45.3h0M42.3 21.3h0M8.2 27.7h0M51.6 13.6h0" stroke="#ebeaf3" stroke-width="1.3" stroke-linecap="round" fill="none"/>
<path d="M27.1 39.8l-.4 -.8M41.4 21.6l-.5 -.4M30.6 36.9l.5 -.5M60.1 47.4l-.6 -.2M33.8 3.7l.9 .1M43.7 24.9l-.8 -.7M20.8 12.8l-.4 .6M9.7 3.6l.4 .7M57.8 10.3l-.2 -.3M17.2 8l.5 -.1M63.5 12.3l-.6 .8M61.8 15.3l-.3 -.1M35.2 13.5l-.5 -.5M59.2 36.3l.3 0M42.9 46.7l.7 -.4M64.1 41.5l-.3 .7M27.6 43.8l.4 -.2M37.5 .4l.5 .1M29.6 18.3l-.2 -.4M23.8 25l-.5 .7M30.4 22.9l-.3 -.1M53.7 47l-.3 .1M17 26.1l-.4 .1M42.8 5l.6 -0M23 37.7l.5 .6M19.2 27l.3 .7M34.1 33.4l-.9 .4M2.7 32.5l0 -.3M53.3 37.2l-.8 -.6M49.4 25.2l-.6 .2M9.6 21.4l-.4 -.5M13.8 18.3l-.2 -.5M61.8 29.8l.7 -.4M41.1 27.2l.2 -.5M24.9 20.2l-.5 .7M2 1.8l.1 -.9M30.8 1.4l-.8 -.8M48.3 13.1l-.7 -.5M33.8 16.4l.1 -.6M23.5 29.4l.5 -.9M33.6 6.4l.8 -.5M55.1 14.6l-.1 -.4M36.2 12.4l-.5 .1M49.6 39.5l-.4 .5M63.6 34.9l.9 -.2M40.1 30.9l-.7 -.4M37.4 23.8l.6 .6M24.5 1l.5 -.8M55.1 27.8l.7 .4M13 40l.3 -.3M2.5 5.1l-.7 -.7M61.7 7.4l-.7 .8M9.4 42.2l-0 -.7M30.2 37.3l.8 0M4.7 30.9l.1 .2M1.4 4.8l.7 -.3M5.4 1.9l-.1 .7M31.2 26.8l.3 .7M7.9 24.7l-.2 .7M22.7 20.9l-.7 -.8M44.4 26.1l.5 -.4M44.3 17.1l-.1 .7M58.1 13.1l-.2 -.3M44.6 6.4l-.6 -.6M2.3 17.5l-.6 -.4M45.2 2.9l.5 .1M45.7 23.2l.2 .7M10 15.3l.4 .6M25.6 40.1l-.1 -.7M2.4 27.7l-.2 -.7M29.2 25.9l-.7 -.8M41.2 11l.9 -.3M52.9 37.7l0 -.7M20.8 39.8l.3 .5M50.8 10.9l-.3 .6M24.9 43l.1 -.9M28.2 .1l.4 .8M23.8 27.3l-.5 -.2M56.4 30.8l-.1 -.6M40.9 37l.7 .6M62.9 46.8l-.5 -.2M42.3 4.9l.3 .8M43.6 4.7l.8 .3M45.9 30.9l.8 -.2M30.1 14.2l-.1 -0M40.5 14.8l-.1 -.1M58.6 46.2l-.7 .4M53 3.5l-.6 -.6M51.7 24.2l.8 .8M59.2 40.3l-.4 0M31.9 24.6l-.5 -.9M23.6 19.4l.5 -.8M34.6 38.3l.3 -.5M53 5.9l-.2 .3M51.6 16l-.7 .3M3.6 40l.1 -.1M16.9 15.2l-.6 -.5M1.5 28.7l-.5 -.5M22.8 3.4l.6 .3M9.6 16.2l.1 -.4M35.5 15.1l.9 -.5M17.3 26.8l-.7 .4M10.5 37.7l.8 -.4M38.8 29.9l.2 -.8M5.7 40.5l.1 -.3M59.2 10.2l.8 .4M37.7 .8l.2 -.8M39.8 33.8l-.1 -.1M37 2.9l-.3 .3M6.9 5.9l0 -.7M56.1 24.4l.4 -.9M28.1 12.3l.4 -.9M55 8.9l.2 .9M32.3 28.4l-.3 -.6M46.6 .2l-.8 -.2M40.5 24.8l-.6 .1M35.7 23.7l.9 -.6M1.9 33.5l.5 -.6M.9 21.8l-.5 .8M4.8 16.9l-.7 -.6M63.1 23.9l.3 -.2M23 13.6l-.7 .3M14.2 27.5l-.3 .7M3.6 39.6l0 -.4M36.5 8.1l.3 -.2M24.7 42.9l-.3 .4M20.7 32.3l.7 -.3M34.6 40.3l-.5 .4M28.9 17.1l.7 .3M51.9 13.8l-.9 -.8M8.1 17.2l0 .9M8.4 4.5l.1 .3M65.4 40.3l-.3 .6M44.5 28.8l.7 .1M19.5 17.6l.7 -.2M25.4 38.2l.8 .7M25.1 17.1l.2 -.7M13.6 28.7l-.4 .9M25.9 7.1l-.1 -.6M13.2 37.6l-.8 -.4M27.8 13l-.2 0M38.4 16.5l.5 -.8M53.2 25.5l-.4 -.9M21.5 10.8l.7 .1M32.3 15.7l-.3 -.8M18.9 33.3l.8 .6M23.1 40.5l-.3 .8M38.1 37.6l.1 .5M6.9 17l.6 .2M28.4 1.1l.3 -.6M58.8 30.9l-.7 0M41.7 30l.2 -.1M32.9 21.3l.5 .5M43.6 8l-.3 -.3M56 40.5l-.4 -.9M63.5 18.6l.1 -.2M38.8 27.7l.8 .8M51.3 23.1l-.5 -.2M61.3 26.4l-.9 -.6M57.1 39.9l-0 .3M15.2 8.5l.3 .6M32.7 31.2l-0 -.2M64.8 40l-.6 .8M27.5 48l.7 .5M19.5 11.6l-.3 .7M7.2 13.2l.7 .6M46.7 27l.7 -.4M37.6 0l.7 .3M25.2 45.8l-.1 0M59.6 2.5l.5 -.8M1.2 21.1l.1 .5M32.2 16.8l.5 -.7M13.6 22.5l-.7 -.5M17.5 23.7l-.4 .1M47.4 13.5l-.7 .1M55 7.5l.5 -.4M55 30.2l.8 -.8M54.3 34.3l.3 .7M16.5 37.5l-.8 .4M7.6 45.6l.1 -.2" stroke="#6262d0" stroke-width="1.0" stroke-linecap="round" fill="none"/>
<path d="M61.2 22.3l-.6 .3M33 19l-.8 -.1M60.7 45.6l-.7 -.2M54.2 16.2l-.2 -.1M26.2 26.6l-.5 .5M21.6 7.5l.7 .8M37.5 30.4l.7 .1M15.5 23l-0 -.5M24.4 15.8l-.8 -.7M43.2 11.1l-.5 -.1M29.7 9.8l.8 -.2M2 17.9l.6 .6M32.3 8.3l.1 .3M23.6 29.7l-.3 .1M35 42.1l-.4 .4M40.7 10.1l.6 .1M25.8 5.9l0 .2M34.2 13.2l-.3 -.5M3.4 1.4l.5 -.2M60.9 39.5l-0 -.8M24 3.6l.8 -.4M36.1 .6l-.1 .3M7 19l.7 .4M49.8 17.3l.7 .4M55.2 5.2l.4 .7M18.5 32.2l-.5 .3M55.2 5.9l.2 -.6M30.3 46.1l.6 .1M36.5 42.7l-.3 -.6M50.5 35.5l.1 0M8.2 17.4l.7 0M12.6 1.5l-.2 .2M61.6 44.9l-.6 .4M14.6 8.6l.3 .1M.8 31l-.5 .4M34.8 25.1l-.4 .4M12.7 13.8l-.3 -.5M5.5 42l.5 -.2M52.1 37.1l.2 .5M7.6 36.5l.2 .1M30.6 26.2l.5 .4M55 11.9l.4 .2M47.9 19l-.2 -0M33 24.1l.7 .5M7 42.4l-.1 .3M9.8 42.8l-.5 -.4M43.8 40.1l-.3 .4M43.3 34.2l0 .3M49.3 32.5l.6 .6M23.5 34l-.7 .5M9.9 13.2l.2 -.8M33.5 40l.1 .3M41.4 8.7l-.1 -.1M25.4 15.4l.6 .3M26.2 29.5l.4 -.3M45.6 39.1l-.2 .5M32.5 38.8l-.1 -.6M35 46.8l.7 -.3M19.4 34.3l.8 -0M47.9 20.8l.8 -0M54.2 46l.3 .1M23.1 27.7l.4 -.6M4.3 30.4l.3 -.3M39.5 39.4l.6 .3" stroke="#4646c0" stroke-width="1.5" stroke-linecap="round" fill="none"/>
<path d="M14.2 26.5h0M19.1 3.8h0" stroke="#4646c0" stroke-width="2.2" stroke-linecap="round" fill="none"/>
</g>
<rect x="57.6" y="44.5" width="3" height=".7" fill="#e04060"/>
</svg>
<svg x="510.6" y="535.9" width="66" height="48.1" viewBox="0 0 66 48.1">
<rect width="66" height="48.1" fill="#dddde9"/>
<g filter="url(#b5)">
<path d="M21.2 47.2h0M9.2 34.5h0M20.8 5.5h0M36.3 27.5h0M54.2 23.8h0M5.2 25.6h0M45.6 47.5h0M16.6 32.5h0M44.3 17.5h0M46.9 47.5h0M15.8 35.1h0M61 18.5h0M26.1 43.9h0M5.3 2.5h0M31.9 25.2h0M56.1 5.4h0M49.1 13.9h0M36 41.2h0M56.1 21.9h0M39.6 34h0M20.9 2h0M34.1 3.9h0M19.4 44.3h0M47.3 6.8h0M42 14.7h0M17 45.7h0M29.3 36.9h0M53.9 18.9h0M1.7 10.4h0M10.3 47.3h0M8.6 12.1h0M31.8 21.9h0M9.5 45.1h0M6.3 43.2h0M38 26.8h0M6.6 34.8h0M1.9 41.7h0M18.5 9h0M57.4 14.9h0M14 24.2h0M30.8 12h0M15.7 15.8h0M52.2 31.2h0M47.4 45.7h0M33 19h0M2.1 20.2h0M33.6 26.6h0M50.9 28.2h0M11.4 9.5h0M27.6 27.3h0M52.3 31.6h0M32.3 .1h0M37.1 38.4h0M19.9 38.7h0M5.9 .5h0M53.4 9.4h0M6.5 21.6h0M40.7 37.4h0M24.5 46.5h0M60.1 26.9h0M52.6 28.2h0M54.2 20.4h0M12.1 29.7h0M4.5 3.3h0M16.2 10.5h0M25.9 42.2h0M19.3 15.2h0M62.5 1.3h0M36.5 20.3h0M10.9 22.7h0M60.4 23.9h0M33.2 23.4h0M1.4 45.6h0M42.8 15.8h0M53.2 39h0M20.2 17.7h0M1.6 44.2h0M.1 1.5h0M41.2 46.1h0M7.8 23.7h0M38.3 36.6h0M12.1 41.2h0M46.7 33.5h0M23.3 23.6h0M14.5 5.3h0M18.6 17.5h0M65.1 7.8h0M13.9 29.5h0M42.8 12.1h0M51.2 28h0M19 3.5h0M19.1 24.5h0M21.3 30.2h0M40 26.8h0M7.4 37.2h0M18.3 5.4h0M55.8 19.9h0M52.2 21.4h0M60.6 7.1h0M64.5 10.5h0M10.1 12.5h0M22.3 2.5h0M41 4h0M14.3 45.1h0M7.1 35.7h0M54.3 4.1h0M61.4 18.9h0M6 47.1h0M18.4 12.1h0M61.1 6.2h0M42.3 17.1h0M42.7 31h0M56.5 19.7h0M37.8 4.3h0M39.3 15.2h0M21.5 31.6h0M55.7 28.2h0M63.1 27.2h0M38.4 2.9h0M60.1 36.5h0M31 39h0M36.2 30.9h0M61.2 40.2h0M15.1 46.3h0M10.5 26.5h0M44.4 30.7h0M8.3 17h0M14.2 28.2h0M.4 20.2h0M65.4 33h0M25.3 35.6h0M34.2 16.5h0M34.9 6.3h0M2.2 19.7h0M2.2 24.8h0M39.7 38.8h0M37.8 23.4h0M57.7 10h0M18.4 2.5h0M13.4 12.6h0M59.3 40.6h0M46.9 25.9h0M31.4 21.4h0M24 21.5h0M23.4 23.9h0M28.6 33.8h0M41.1 17.6h0M31.3 12.1h0M35.9 35.9h0M43.5 26.6h0M19.2 19.3h0M31.2 15.8h0M18 3h0M64.5 37.6h0M1.4 10.5h0M11.9 10.5h0M57.3 1.4h0M35.3 43.1h0M41.4 39.6h0M62.5 2.2h0M11.1 8.1h0M2 34.2h0M43.8 44.9h0M39.1 24.6h0M32.8 12.2h0M39.5 3.8h0M15 42.5h0M5.3 31.3h0M40 22.9h0M43.3 29.3h0" stroke="#c6c4e0" stroke-width="1.1" stroke-linecap="round" fill="none"/>
<path d="M28.2 8.8h0M5 17h0M41 7.1h0M27 17.7h0M40.1 39.4h0M4.2 33.3h0M.2 35.4h0M43.8 1.8h0M19 13.6h0M13 3.1h0M21.9 45.6h0M39.7 8.8h0M4.5 31.2h0M64.5 16.3h0M43.3 36.4h0M26.3 5.8h0M57.2 22.6h0M42.7 5.2h0M4.1 19.5h0M62.2 4.8h0M41 5.8h0M55.5 17h0M41.6 44.9h0M52.1 31.5h0M20.1 5.9h0M43.5 7.7h0M2.6 22.2h0M45 17.8h0M29.5 29.3h0M46.8 16.8h0M53.3 10.9h0M16.2 12.6h0M33.1 18.8h0M14.6 20.1h0M7.3 5h0M5 11.1h0M16.3 9.7h0M43.5 48h0M14 11.5h0M1.4 8.2h0M19.4 46.6h0M53.6 19h0M27.5 7h0M21.1 23.5h0M26.4 14h0M11.3 .9h0M36.6 46.3h0M52 22.8h0M17.2 39.4h0M59.9 32.2h0M11.1 3.8h0M5.8 2.2h0M57 27.3h0M9.3 6.2h0M18.5 24.1h0M62.7 47.3h0M65.4 4.2h0M61.6 24.2h0M14.8 18.5h0M5.1 10.5h0M48.1 21.9h0M22.8 33.3h0M29.5 3.8h0M37.8 17.8h0M23.3 43.5h0M22.7 11.8h0M20.4 16.8h0M26.8 26.4h0M61.6 13.4h0M10.2 17.5h0M18 26.5h0M57 33.1h0M14.9 4.5h0M21.2 45.7h0M49.8 33.4h0M45.8 2h0M43.4 40.4h0M54.4 6.6h0M23.7 32.4h0M34.6 47.2h0M.7 9.9h0M61.9 2.7h0M35.8 2.9h0M.8 23.8h0M41.1 32.2h0M31.9 12.6h0M51.7 28.9h0M7.1 34.9h0M13.3 13.3h0M25.6 12.5h0" stroke="#ebeaf3" stroke-width="1.3" stroke-linecap="round" fill="none"/>
<path d="M11.2 30l-.3 .8M42.3 47.3l.5 -.4M64.6 7.3l.2 -.8M61.5 14.2l.7 .7M16.4 18.9l-.6 -.2M39.2 12.5l-.2 -.5M34.2 41.8l.4 .8M1.3 8.6l-.4 .3M29.4 8.6l.5 -.1M14.1 22.7l.2 .2M27.6 29.1l-.2 -0M36.5 8.2l-.4 .9M18.3 8.8l.3 .3M36.8 23.4l.1 .6M63.2 11.9l-.6 -.8M18.4 33.2l.2 -.1M61.4 32.8l-.4 -.3M42.4 21.1l-.5 .6M28.7 38.1l-.5 .5M37.8 2.9l.4 -.8M1.9 23.4l.3 -.4M47.2 15.8l-.5 .1M65.2 27.5l.4 -.2M50.2 8.9l-.3 .3M49.6 38.7l0 -.6M47.4 11.5l-.3 -0M43.5 10.4l-.4 .2M34.2 34.2l.4 .9M5.2 41.5l-.3 .1M26.4 20.2l.5 -.2M42.8 35.3l-.8 .4M45.4 47.5l-.6 -.1M.3 29.2l-.6 0M11.6 18.8l-.7 .3M62.4 5l-.4 .7M3.5 42.1l-.8 0M40.7 35.8l.1 -.8M56 2.8l-.3 .2M36.1 34.8l-.1 .7M56.3 35l-.4 .6M.4 7.7l-0 .1M24.3 41.6l.8 -.8M19.4 32.8l-.5 -.3M46.5 30.6l-.9 .4M20.4 3.4l-.1 .8M25.1 6.1l.2 .9M16.9 30.7l-.1 -.6M33.6 16.1l-.8 -.5M32.7 1.4l-.4 -.4M25.6 10.7l-.4 .2M40.1 23.9l-.7 -.9M22.3 14.8l-.9 -.5M41.3 43.2l-0 -.5M59.7 47.6l.1 .8M57.8 33.4l-.1 .7M20.3 10.2l.3 .1M16.6 13l.3 -.5M7.8 24.4l.7 .4M60.8 27.8l-.8 .5M31.8 8.2l.5 -.9M44.9 40.1l.1 -.7M6.3 8.6l.8 -.4M25.3 34.7l-.2 .4M56.2 22.6l.1 .2M43.5 1.4l-.2 -.2M25.5 38.1l.7 -.2M11.2 25.1l.5 -.2M26.7 45.5l.8 .5M29.1 45l-.3 -0M31.5 5.2l-.6 0M58.7 16l-.8 0M65 37l-.2 -.7M23.6 45l-.7 -0M30.7 20.1l.5 .6M58.2 43.9l.1 .4M58 43.8l-.6 .3M40.4 48.1l.2 .5M59 19.4l-.6 -.1M58.6 25.3l.9 -.3M32.3 35.8l.3 .5M18 8.1l.3 -.4M62.9 23.5l-.2 .8M15.1 47.6l0 .8M13.9 7.4l-.7 .3M57 3.6l.6 .3M19.4 5l.4 -.1M6.8 6.2l-.4 -.7M9.9 10.4l-.2 .8M15.7 33.1l-.7 -.5M31.9 29.6l.7 -.1M37 35.9l-.4 .5M51 9.3l.5 .9M29.1 1l-.4 -.9M65.6 1.5l.9 .4M22.8 26.3l-.4 -.5M13.5 14.9l-.4 -.9M56.2 34.9l.8 -.7M37 45.9l.9 .6M39.5 26.9l.1 -.7M10.4 18l-.1 -.8M37.3 22.6l-.5 -.1M14.2 31.1l.7 .9M35.5 6.3l-.8 -.2M54.5 42.7l.6 .5M9.8 35.3l-.5 -.2M21 25.5l.4 .8M39.4 33.8l.3 -.8M61.9 3.6l-.2 .5M43.7 19l.4 -.5M56.8 44.6l-.3 .9M50.3 42.2l.8 .1M39.3 19.8l-.7 -.4M51.4 16.6l-.4 -.6M57.2 41.1l.2 .3M40.8 5.9l.2 .3M15.9 15.4l-.5 .5M14.8 27.5l-.4 -.6M40.6 18.8l.5 0M32.7 45.9l.5 -.9M36.2 12.7l.4 -.1M57.3 36.9l-.4 .2M30.7 23.3l.2 .1M58.6 2.4l.1 -.8M5.1 8.8l.2 .7M55.9 24.9l.9 .6M23.3 15.8l.4 -.8M48.7 34.3l.5 .2M19.6 9.1l.1 .6M53.4 42.4l.8 .9M7.5 18.2l.4 -.8" stroke="#6262d0" stroke-width="1.0" stroke-linecap="round" fill="none"/>
<path d="M32.9 39.7l.5 0M55.7 42.6l0 -.7M21.6 21.6l.4 -.3M12.6 33.7l-.6 .3M44 42.8l-0 -.7M58.5 6l-.7 -.8M60.5 19.9l-.5 .4M19.7 9l.2 .8M28.7 4.3l.8 -.3M24.1 10.8l.2 -.7M36.3 18.3l.3 .3M25.4 24.3l.3 -.6M32.7 .3l.2 -.7M43.4 .4l-.4 0M8.5 37.1l.1 -.2M34.4 34.1l.1 .2M61.4 19.2l.3 .2M52.9 34.3l.5 .7M43.4 .4l.1 -0M11.3 14.2l-.1 .6M51.3 28.6l-.5 -.5M43.3 44.6l.2 .1M43.3 30l.7 -.6M15.2 .4l-.3 0M5 45.2l-.6 -.5M39.5 14.8l-0 -.1M40.4 19.7l.6 -.1M30.6 18l-.2 0M31.2 23.4l-.5 -.5M8.1 25.8l.6 .7M23.7 21.2l.5 -.7M39.1 23.6l-.3 -.4" stroke="#4646c0" stroke-width="1.5" stroke-linecap="round" fill="none"/>
</g>
<rect x="57.8" y="44.5" width="3" height=".7" fill="#e04060"/>
</svg>
<text x="75" y="481.9" font-size="5.3" text-anchor="middle">si-NC</text>
<text x="141" y="481.9" font-size="5.3" text-anchor="middle">si-LINC00969 1#</text>
<text x="210.7" y="481.9" font-size="5.3" text-anchor="middle">si-LINC00969 2#</text>
<text x="406" y="482.1" font-size="5.3" text-anchor="middle">si-NC</text>
<text x="473.2" y="482.1" font-size="5.3" text-anchor="middle">si-LINC00969 1#</text>
<text x="543.2" y="482.1" font-size="5.3" text-anchor="middle">si-LINC00969 2#</text>
<text x="34.2" y="513.6" font-size="6.2" text-anchor="end">PC9</text>
<text x="33.8" y="562.7" font-size="5.2" text-anchor="end">HCC827</text>
<text x="367.5" y="513.4" font-size="6.0" text-anchor="end">A549</text>
<text x="367.6" y="563.1" font-size="5.85" text-anchor="end">SPCA1</text>
<g stroke="#1c1c1c" fill="none">
<line x1="267" y1="490.6" x2="267" y2="528.7" stroke-width="0.9"/>
<line x1="266.6" y1="528.2" x2="342" y2="528.2" stroke-width="0.9"/>
<line x1="264.5" y1="528.2" x2="267" y2="528.2" stroke-width="0.9"/>
<line x1="264.5" y1="515.8" x2="267" y2="515.8" stroke-width="0.9"/>
<line x1="264.5" y1="503.4" x2="267" y2="503.4" stroke-width="0.9"/>
<line x1="264.5" y1="491" x2="267" y2="491" stroke-width="0.9"/>
<line x1="282.7" y1="528.2" x2="282.7" y2="530.2" stroke-width="0.9"/>
<line x1="304.8" y1="528.2" x2="304.8" y2="530.2" stroke-width="0.9"/>
<line x1="326.9" y1="528.2" x2="326.9" y2="530.2" stroke-width="0.9"/>
</g>
<text x="263.9" y="529.9" font-size="4.85" text-anchor="end">0</text>
<text x="263.9" y="517.5" font-size="4.85" text-anchor="end">200</text>
<text x="263.9" y="505.1" font-size="4.85" text-anchor="end">400</text>
<text x="263.9" y="492.7" font-size="4.85" text-anchor="end">600</text>
<g stroke="#111" stroke-width="0.9">
<line x1="282.7" y1="498.1" x2="282.7" y2="496.6" stroke-width="1.26" stroke="#6a6a6a"/>
<line x1="279.1" y1="496.6" x2="286.3" y2="496.6" stroke-width="0.9"/>
</g>
<rect x="276.4" y="498.1" width="12.5" height="30.1" fill="#fff" stroke="#111" stroke-width="0.9"/>
<g stroke="#111" stroke-width="0.9">
<line x1="304.8" y1="522.3" x2="304.8" y2="521.6" stroke-width="1.26" stroke="#6a6a6a"/>
<line x1="301.1" y1="521.6" x2="308.5" y2="521.6" stroke-width="0.9"/>
</g>
<rect x="298.4" y="522.3" width="12.7" height="5.9" fill="#000" stroke="#111" stroke-width="0.9"/>
<text x="304.8" y="521" font-size="3.9" text-anchor="middle">**</text>
<g stroke="#111" stroke-width="0.9">
<line x1="326.9" y1="521.4" x2="326.9" y2="520.6" stroke-width="1.26" stroke="#6a6a6a"/>
<line x1="323.3" y1="520.6" x2="330.5" y2="520.6" stroke-width="0.9"/>
</g>
<rect x="320.6" y="521.4" width="12.5" height="6.8" fill="#000" stroke="#111" stroke-width="0.9"/>
<text x="326.9" y="520" font-size="3.9" text-anchor="middle">**</text>
<circle cx="280.9" cy="499.2" r=".8" fill="#000"/>
<circle cx="282.9" cy="497" r=".8" fill="#000"/>
<circle cx="284.7" cy="498.1" r=".8" fill="#000"/>
<rect x="302.3" y="522" width="1.3" height="1.3" fill="#d8d8d8"/>
<rect x="304.3" y="521.3" width="1.3" height="1.3" fill="#d8d8d8"/>
<rect x="306.1" y="521.7" width="1.3" height="1.3" fill="#d8d8d8"/>
<polygon points="325.1,521 324.4,522.4 325.8,522.4" fill="#d8d8d8"/>
<polygon points="327.1,520.3 326.4,521.7 327.8,521.7" fill="#d8d8d8"/>
<polygon points="328.9,520.7 328.2,522 329.6,522" fill="#d8d8d8"/>
<text transform="translate(254.4 509.6) rotate(-90)" font-size="4.0" text-anchor="middle">Number of cell migration</text>
<text x="282.6" y="533.3" font-size="2.6" text-anchor="middle">si-NC</text>
<text x="304.8" y="533.3" font-size="2.6" text-anchor="middle">si-LINC00969 1#</text>
<text x="327.6" y="533.3" font-size="2.6" text-anchor="middle">si-LINC00969 2#</text>
<g stroke="#1c1c1c" fill="none">
<line x1="267" y1="539.8" x2="267" y2="577.7" stroke-width="0.9"/>
<line x1="266.6" y1="577.2" x2="342" y2="577.2" stroke-width="0.9"/>
<line x1="264.5" y1="577.2" x2="267" y2="577.2" stroke-width="0.9"/>
<line x1="264.5" y1="564.9" x2="267" y2="564.9" stroke-width="0.9"/>
<line x1="264.5" y1="552.5" x2="267" y2="552.5" stroke-width="0.9"/>
<line x1="264.5" y1="540.2" x2="267" y2="540.2" stroke-width="0.9"/>
<line x1="282.7" y1="577.2" x2="282.7" y2="579.2" stroke-width="0.9"/>
<line x1="304.8" y1="577.2" x2="304.8" y2="579.2" stroke-width="0.9"/>
<line x1="326.9" y1="577.2" x2="326.9" y2="579.2" stroke-width="0.9"/>
</g>
<text x="263.9" y="578.9" font-size="4.85" text-anchor="end">0</text>
<text x="263.9" y="566.6" font-size="4.85" text-anchor="end">300</text>
<text x="263.9" y="554.3" font-size="4.85" text-anchor="end">600</text>
<text x="263.9" y="541.9" font-size="4.85" text-anchor="end">900</text>
<g stroke="#111" stroke-width="0.9">
<line x1="282.7" y1="542.1" x2="282.7" y2="541" stroke-width="1.26" stroke="#6a6a6a"/>
<line x1="279.1" y1="541" x2="286.3" y2="541" stroke-width="0.9"/>
</g>
<rect x="276.4" y="542.1" width="12.5" height="35.1" fill="#fff" stroke="#111" stroke-width="0.9"/>
<g stroke="#111" stroke-width="0.9">
<line x1="304.8" y1="568" x2="304.8" y2="566.4" stroke-width="1.26" stroke="#6a6a6a"/>
<line x1="301.1" y1="566.4" x2="308.5" y2="566.4" stroke-width="0.9"/>
</g>
<rect x="298.4" y="568" width="12.7" height="9.2" fill="#000" stroke="#111" stroke-width="0.9"/>
<text x="304.8" y="565.8" font-size="3.9" text-anchor="middle">**</text>
<g stroke="#111" stroke-width="0.9">
<line x1="326.9" y1="567.5" x2="326.9" y2="566.6" stroke-width="1.26" stroke="#6a6a6a"/>
<line x1="323.3" y1="566.6" x2="330.5" y2="566.6" stroke-width="0.9"/>
</g>
<rect x="320.6" y="567.5" width="12.5" height="9.7" fill="#000" stroke="#111" stroke-width="0.9"/>
<text x="326.9" y="566" font-size="3.9" text-anchor="middle">**</text>
<circle cx="280.9" cy="542.8" r=".8" fill="#000"/>
<circle cx="282.9" cy="541.3" r=".8" fill="#000"/>
<circle cx="284.7" cy="542.1" r=".8" fill="#000"/>
<rect x="302.3" y="567.9" width="1.3" height="1.3" fill="#d8d8d8"/>
<rect x="304.3" y="566.7" width="1.3" height="1.3" fill="#d8d8d8"/>
<rect x="306.1" y="567.3" width="1.3" height="1.3" fill="#d8d8d8"/>
<polygon points="325.1,567.2 324.4,568.6 325.8,568.6" fill="#d8d8d8"/>
<polygon points="327.1,566.4 326.4,567.8 327.8,567.8" fill="#d8d8d8"/>
<polygon points="328.9,566.8 328.2,568.2 329.6,568.2" fill="#d8d8d8"/>
<text transform="translate(254.4 559) rotate(-90)" font-size="4.0" text-anchor="middle">Number of cell migration</text>
<text x="282.6" y="582.5" font-size="2.6" text-anchor="middle">si-NC</text>
<text x="304.8" y="582.5" font-size="2.6" text-anchor="middle">si-LINC00969 1#</text>
<text x="327.6" y="582.5" font-size="2.6" text-anchor="middle">si-LINC00969 2#</text>
<g stroke="#1c1c1c" fill="none">
<line x1="598.4" y1="490.6" x2="598.4" y2="528.7" stroke-width="0.9"/>
<line x1="597.9" y1="528.2" x2="673.6" y2="528.2" stroke-width="0.9"/>
<line x1="595.9" y1="528.2" x2="598.4" y2="528.2" stroke-width="0.9"/>
<line x1="595.9" y1="515.8" x2="598.4" y2="515.8" stroke-width="0.9"/>
<line x1="595.9" y1="503.4" x2="598.4" y2="503.4" stroke-width="0.9"/>
<line x1="595.9" y1="491" x2="598.4" y2="491" stroke-width="0.9"/>
<line x1="613.9" y1="528.2" x2="613.9" y2="530.2" stroke-width="0.9"/>
<line x1="636.2" y1="528.2" x2="636.2" y2="530.2" stroke-width="0.9"/>
<line x1="658.5" y1="528.2" x2="658.5" y2="530.2" stroke-width="0.9"/>
</g>
<text x="595.3" y="529.9" font-size="4.85" text-anchor="end">0</text>
<text x="595.3" y="517.5" font-size="4.85" text-anchor="end">200</text>
<text x="595.3" y="505.1" font-size="4.85" text-anchor="end">400</text>
<text x="595.3" y="492.7" font-size="4.85" text-anchor="end">600</text>
<g stroke="#111" stroke-width="0.9">
<line x1="613.9" y1="499.4" x2="613.9" y2="498.6" stroke-width="1.26" stroke="#6a6a6a"/>
<line x1="610.3" y1="498.6" x2="617.5" y2="498.6" stroke-width="0.9"/>
</g>
<rect x="607.7" y="499.4" width="12.5" height="28.8" fill="#fff" stroke="#111" stroke-width="0.9"/>
<g stroke="#111" stroke-width="0.9">
<line x1="636.2" y1="523.9" x2="636.2" y2="522.9" stroke-width="1.26" stroke="#6a6a6a"/>
<line x1="632.5" y1="522.9" x2="639.9" y2="522.9" stroke-width="0.9"/>
</g>
<rect x="629.9" y="523.9" width="12.7" height="4.3" fill="#000" stroke="#111" stroke-width="0.9"/>
<text x="636.2" y="522.3" font-size="3.9" text-anchor="middle">**</text>
<g stroke="#111" stroke-width="0.9">
<line x1="658.5" y1="522.6" x2="658.5" y2="521.6" stroke-width="1.26" stroke="#6a6a6a"/>
<line x1="654.9" y1="521.6" x2="662.1" y2="521.6" stroke-width="0.9"/>
</g>
<rect x="652.2" y="522.6" width="12.5" height="5.6" fill="#000" stroke="#111" stroke-width="0.9"/>
<text x="658.5" y="521" font-size="3.9" text-anchor="middle">**</text>
<circle cx="612.1" cy="500" r=".8" fill="#000"/>
<circle cx="614.1" cy="498.8" r=".8" fill="#000"/>
<circle cx="615.9" cy="499.4" r=".8" fill="#000"/>
<rect x="633.7" y="523.6" width="1.3" height="1.3" fill="#d8d8d8"/>
<rect x="635.7" y="522.8" width="1.3" height="1.3" fill="#d8d8d8"/>
<rect x="637.5" y="523.2" width="1.3" height="1.3" fill="#d8d8d8"/>
<polygon points="656.7,522.3 656,523.6 657.4,523.6" fill="#d8d8d8"/>
<polygon points="658.7,521.5 658,522.9 659.4,522.9" fill="#d8d8d8"/>
<polygon points="660.5,521.9 659.8,523.3 661.2,523.3" fill="#d8d8d8"/>
<text transform="translate(586 509.6) rotate(-90)" font-size="4.0" text-anchor="middle">Number of cell migration</text>
<text x="614.4" y="533.3" font-size="2.6" text-anchor="middle">si-NC</text>
<text x="636.2" y="533.3" font-size="2.6" text-anchor="middle">si-LINC00969 1#</text>
<text x="659" y="533.3" font-size="2.6" text-anchor="middle">si-LINC00969 2#</text>
<g stroke="#1c1c1c" fill="none">
<line x1="598.4" y1="539.8" x2="598.4" y2="577.7" stroke-width="0.9"/>
<line x1="597.9" y1="577.2" x2="673.6" y2="577.2" stroke-width="0.9"/>
<line x1="595.9" y1="577.2" x2="598.4" y2="577.2" stroke-width="0.9"/>
<line x1="595.9" y1="569.8" x2="598.4" y2="569.8" stroke-width="0.9"/>
<line x1="595.9" y1="562.4" x2="598.4" y2="562.4" stroke-width="0.9"/>
<line x1="595.9" y1="555" x2="598.4" y2="555" stroke-width="0.9"/>
<line x1="595.9" y1="547.6" x2="598.4" y2="547.6" stroke-width="0.9"/>
<line x1="595.9" y1="540.2" x2="598.4" y2="540.2" stroke-width="0.9"/>
<line x1="613.9" y1="577.2" x2="613.9" y2="579.2" stroke-width="0.9"/>
<line x1="636.2" y1="577.2" x2="636.2" y2="579.2" stroke-width="0.9"/>
<line x1="658.5" y1="577.2" x2="658.5" y2="579.2" stroke-width="0.9"/>
</g>
<text x="595.3" y="578.9" font-size="4.85" text-anchor="end">0</text>
<text x="595.3" y="571.5" font-size="4.85" text-anchor="end">100</text>
<text x="595.3" y="564.1" font-size="4.85" text-anchor="end">200</text>
<text x="595.3" y="556.7" font-size="4.85" text-anchor="end">300</text>
<text x="595.3" y="549.3" font-size="4.85" text-anchor="end">400</text>
<text x="595.3" y="541.9" font-size="4.85" text-anchor="end">500</text>
<g stroke="#111" stroke-width="0.9">
<line x1="613.9" y1="553" x2="613.9" y2="550.4" stroke-width="1.26" stroke="#6a6a6a"/>
<line x1="610.3" y1="550.4" x2="617.5" y2="550.4" stroke-width="0.9"/>
</g>
<rect x="607.7" y="553" width="12.5" height="24.2" fill="#fff" stroke="#111" stroke-width="0.9"/>
<g stroke="#111" stroke-width="0.9">
<line x1="636.2" y1="567.4" x2="636.2" y2="566.4" stroke-width="1.26" stroke="#6a6a6a"/>
<line x1="632.5" y1="566.4" x2="639.9" y2="566.4" stroke-width="0.9"/>
</g>
<rect x="629.9" y="567.4" width="12.7" height="9.8" fill="#000" stroke="#111" stroke-width="0.9"/>
<text x="636.2" y="565.8" font-size="3.9" text-anchor="middle">**</text>
<g stroke="#111" stroke-width="0.9">
<line x1="658.5" y1="569.2" x2="658.5" y2="568.5" stroke-width="1.26" stroke="#6a6a6a"/>
<line x1="654.9" y1="568.5" x2="662.1" y2="568.5" stroke-width="0.9"/>
</g>
<rect x="652.2" y="569.2" width="12.5" height="8" fill="#000" stroke="#111" stroke-width="0.9"/>
<text x="658.5" y="567.9" font-size="3.9" text-anchor="middle">**</text>
<circle cx="612.1" cy="554.6" r=".8" fill="#000"/>
<circle cx="614.1" cy="551.4" r=".8" fill="#000"/>
<circle cx="615.9" cy="553" r=".8" fill="#000"/>
<rect x="633.7" y="567.4" width="1.3" height="1.3" fill="#d8d8d8"/>
<rect x="635.7" y="566.2" width="1.3" height="1.3" fill="#d8d8d8"/>
<rect x="637.5" y="566.8" width="1.3" height="1.3" fill="#d8d8d8"/>
<polygon points="656.7,568.9 656,570.3 657.4,570.3" fill="#d8d8d8"/>
<polygon points="658.7,568.1 658,569.4 659.4,569.4" fill="#d8d8d8"/>
<polygon points="660.5,568.5 659.8,569.9 661.2,569.9" fill="#d8d8d8"/>
<text transform="translate(586 559) rotate(-90)" font-size="4.0" text-anchor="middle">Number of cell migration</text>
<text x="614.4" y="582.5" font-size="2.6" text-anchor="middle">si-NC</text>
<text x="636.2" y="582.5" font-size="2.6" text-anchor="middle">si-LINC00969 1#</text>
<text x="659" y="582.5" font-size="2.6" text-anchor="middle">si-LINC00969 2#</text>
</svg>
</body></html>
